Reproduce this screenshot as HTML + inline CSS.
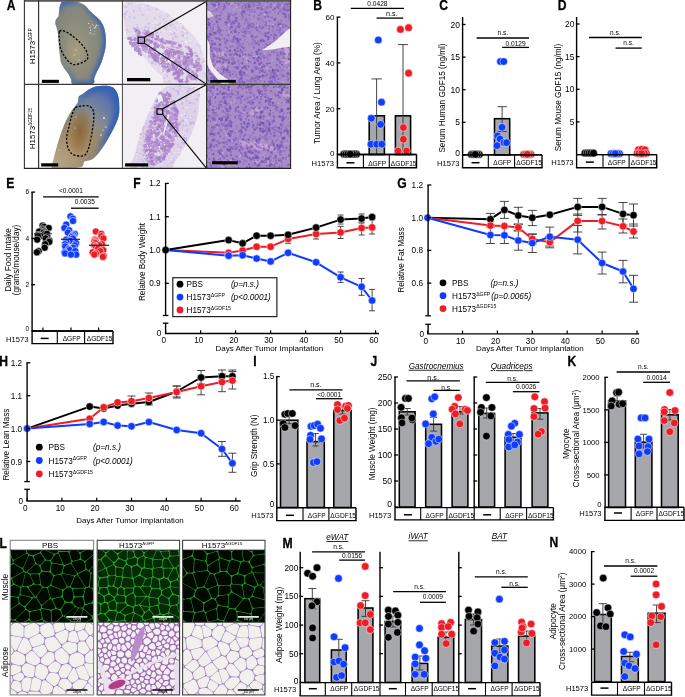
<!DOCTYPE html>
<html><head><meta charset="utf-8"><style>
html,body{margin:0;padding:0;background:#fff;}
svg{display:block;font-family:"Liberation Sans", sans-serif;filter:blur(0.3px);}
</style></head><body>
<svg width="685" height="697" viewBox="0 0 685 697">
<defs>
<radialGradient id="lg1" cx="0.42" cy="0.56" r="0.7">
<stop offset="0" stop-color="#9c9984"/><stop offset="0.5" stop-color="#8a8a7c"/><stop offset="1" stop-color="#7f8583"/></radialGradient>
<linearGradient id="rm1" x1="0" y1="0" x2="1" y2="0.25">
<stop offset="0" stop-color="#fff" stop-opacity="0.15"/><stop offset="0.45" stop-color="#fff" stop-opacity="0.1"/><stop offset="0.7" stop-color="#fff" stop-opacity="0.85"/><stop offset="1" stop-color="#fff" stop-opacity="1"/></linearGradient>
<radialGradient id="mg1"><stop offset="0" stop-color="#fff" stop-opacity="0.9"/><stop offset="0.6" stop-color="#fff" stop-opacity="0.5"/><stop offset="1" stop-color="#fff" stop-opacity="0"/></radialGradient>
<mask id="mk1" maskUnits="userSpaceOnUse" x="40" y="0" width="82" height="85"><rect x="40" y="0" width="82" height="85" fill="url(#rm1)"/><ellipse cx="65" cy="3" rx="14" ry="12" fill="url(#mg1)"/></mask>
<filter id="blr" x="-20%" y="-20%" width="140%" height="140%"><feGaussianBlur stdDeviation="2.2"/></filter>
<linearGradient id="lg2" x1="0.15" y1="0.95" x2="0.85" y2="0.05">
<stop offset="0" stop-color="#b6a583"/><stop offset="0.3" stop-color="#a88c66"/><stop offset="0.5" stop-color="#9a8a6c"/><stop offset="0.66" stop-color="#848a92"/><stop offset="0.85" stop-color="#6479a6"/><stop offset="1" stop-color="#4466b0"/></linearGradient>
<radialGradient id="lg2b" cx="0.5" cy="0.5" r="0.5">
<stop offset="0" stop-color="#87612f" stop-opacity="0.85"/><stop offset="0.6" stop-color="#8c6738" stop-opacity="0.45"/><stop offset="1" stop-color="#8d6a3e" stop-opacity="0"/></radialGradient>
<linearGradient id="rm2" x1="0" y1="0.6" x2="1" y2="0.2">
<stop offset="0" stop-color="#fff" stop-opacity="0"/><stop offset="0.5" stop-color="#fff" stop-opacity="0.2"/><stop offset="0.75" stop-color="#fff" stop-opacity="0.9"/><stop offset="1" stop-color="#fff" stop-opacity="1"/></linearGradient>
<mask id="mk2" maskUnits="userSpaceOnUse" x="40" y="84" width="82" height="86"><rect x="40" y="84" width="82" height="86" fill="url(#rm2)"/></mask>
<radialGradient id="lg1c" cx="0.5" cy="0.5" r="0.5">
<stop offset="0" stop-color="#b4a474" stop-opacity="0.55"/><stop offset="1" stop-color="#b0a070" stop-opacity="0"/></radialGradient>
<clipPath id="lc1"><path d="M62.6,1.8 C63.8,1.4 65.8,1.5 68.1,1.5 C70.4,1.5 74.3,1.4 76.6,1.8 C78.9,2.2 80.5,2.9 82.1,3.7 C83.7,4.5 85.1,5.5 86.4,6.7 C87.7,7.9 88.5,9.5 90,11 C91.5,12.5 93.9,14.4 95.5,15.9 C97.1,17.4 98.5,18.4 99.8,20.1 C101.1,21.8 102.6,24.1 103.5,26.2 C104.4,28.3 104.9,30.3 105.3,32.9 C105.7,35.4 105.9,38.9 105.9,41.5 C105.9,44.1 105.7,46.4 105.3,48.8 C104.9,51.2 104.2,53.6 103.5,56.1 C102.8,58.6 102,61 101,63.5 C100,66 98.5,68.4 97.4,70.8 C96.3,73.2 95.1,75.9 94.3,78.1 C93.5,80.3 96,83 92.5,84 C89,85 77.2,85 73.6,84.2 C70,83.4 71.9,80.9 71.1,79.3 C70.3,77.7 69.7,76 68.7,74.4 C67.7,72.8 66.2,71.4 65,69.6 C63.8,67.8 62.2,65.5 61.4,63.5 C60.6,61.5 60.5,60.2 60.1,57.4 C59.7,54.5 59.2,49.9 58.9,46.4 C58.6,42.9 58.6,39.5 58.3,36.6 C58,33.8 57.6,31.4 57.1,29.3 C56.6,27.2 55.5,25.4 55.3,23.8 C55.1,22.2 55.4,20.7 55.9,19.5 C56.4,18.3 57.8,17.7 58.3,16.5 C58.8,15.3 58.7,13.7 58.9,12.2 C59.1,10.7 59.2,8.7 59.5,7.3 C59.8,5.9 60.2,4.6 60.7,3.7 C61.2,2.8 61.4,2.2 62.6,1.8 Z"/></clipPath>
<clipPath id="lc2"><path d="M79,96.2 C79.9,95.4 82.3,94.3 83.9,93.2 C85.5,92.1 86.8,90.6 88.8,89.5 C90.8,88.4 93.4,87 96.1,86.4 C98.8,85.8 102,85.7 104.7,85.8 C107.4,85.9 110.1,86.1 112,87 C113.9,87.9 115.2,89.4 116.3,91.3 C117.4,93.2 118.2,95.8 118.7,98.6 C119.2,101.4 119.3,105.6 119.3,108.4 C119.3,111.2 119.3,113.1 118.7,115.7 C118.1,118.3 116.9,121.4 115.7,124.3 C114.5,127.2 112.9,130 111.4,132.8 C109.9,135.7 108.2,138.6 106.5,141.4 C104.8,144.2 102.7,147.5 101,149.9 C99.3,152.3 97.7,154.4 96.1,156 C94.5,157.6 92.9,158.9 91.3,159.7 C89.7,160.5 87.6,160.5 86.4,160.9 C85.2,161.3 84.7,161.1 83.9,162.1 C83.1,163.1 84.5,166 81.5,167 C78.5,168 70.9,168 66,168.2 C61.1,168.4 54.3,169.6 52.2,168.2 C50.1,166.8 52.8,162.8 53.4,159.7 C54,156.6 54.9,153.6 55.9,149.9 C56.9,146.2 58.1,142 59.5,137.7 C60.9,133.4 62.8,128.2 64.4,124.3 C66,120.4 67.6,117.5 69.3,114.5 C71,111.5 73.4,108.6 74.8,106.6 C76.2,104.6 77.2,103.7 77.8,102.3 C78.4,100.9 78.2,99 78.4,98 C78.6,97 78.1,97 79,96.2 Z"/></clipPath>
<clipPath id="cm1"><rect x="122.4" y="0.9" width="84.2" height="83.5"/></clipPath>
<clipPath id="cm2"><rect x="122.4" y="84.4" width="84.2" height="84"/></clipPath>
<clipPath id="cr0"><rect x="206.6" y="0.9" width="84" height="83.5"/></clipPath>
<clipPath id="cr1"><rect x="206.6" y="84.4" width="84" height="84"/></clipPath>
<clipPath id="lm0"><rect x="10.2" y="550.1" width="83.4" height="72.2"/></clipPath>
<clipPath id="la0"><rect x="10.2" y="622.3" width="83.4" height="72.6"/></clipPath>
<clipPath id="lm1"><rect x="97.2" y="550.1" width="82.4" height="72.2"/></clipPath>
<clipPath id="la1"><rect x="97.2" y="622.3" width="82.4" height="72.6"/></clipPath>
<clipPath id="lm2"><rect x="182.6" y="550.1" width="82.4" height="72.2"/></clipPath>
<clipPath id="la2"><rect x="182.6" y="622.3" width="82.4" height="72.6"/></clipPath>
</defs>
<rect x="0" y="0" width="685" height="697" fill="#fff"/>
<text transform="translate(6.8 10.2) scale(0.82 1)" font-size="14.8" font-weight="bold" stroke="#000" stroke-width="0.3">A</text>
<path d="M62.6,1.8 C63.8,1.4 65.8,1.5 68.1,1.5 C70.4,1.5 74.3,1.4 76.6,1.8 C78.9,2.2 80.5,2.9 82.1,3.7 C83.7,4.5 85.1,5.5 86.4,6.7 C87.7,7.9 88.5,9.5 90,11 C91.5,12.5 93.9,14.4 95.5,15.9 C97.1,17.4 98.5,18.4 99.8,20.1 C101.1,21.8 102.6,24.1 103.5,26.2 C104.4,28.3 104.9,30.3 105.3,32.9 C105.7,35.4 105.9,38.9 105.9,41.5 C105.9,44.1 105.7,46.4 105.3,48.8 C104.9,51.2 104.2,53.6 103.5,56.1 C102.8,58.6 102,61 101,63.5 C100,66 98.5,68.4 97.4,70.8 C96.3,73.2 95.1,75.9 94.3,78.1 C93.5,80.3 96,83 92.5,84 C89,85 77.2,85 73.6,84.2 C70,83.4 71.9,80.9 71.1,79.3 C70.3,77.7 69.7,76 68.7,74.4 C67.7,72.8 66.2,71.4 65,69.6 C63.8,67.8 62.2,65.5 61.4,63.5 C60.6,61.5 60.5,60.2 60.1,57.4 C59.7,54.5 59.2,49.9 58.9,46.4 C58.6,42.9 58.6,39.5 58.3,36.6 C58,33.8 57.6,31.4 57.1,29.3 C56.6,27.2 55.5,25.4 55.3,23.8 C55.1,22.2 55.4,20.7 55.9,19.5 C56.4,18.3 57.8,17.7 58.3,16.5 C58.8,15.3 58.7,13.7 58.9,12.2 C59.1,10.7 59.2,8.7 59.5,7.3 C59.8,5.9 60.2,4.6 60.7,3.7 C61.2,2.8 61.4,2.2 62.6,1.8 Z" fill="url(#lg1)"/>
<g clip-path="url(#lc1)"><ellipse cx="75" cy="52" rx="11" ry="15" fill="url(#lg1c)"/>
<g mask="url(#mk1)"><path d="M62.6,1.8 C63.8,1.4 65.8,1.5 68.1,1.5 C70.4,1.5 74.3,1.4 76.6,1.8 C78.9,2.2 80.5,2.9 82.1,3.7 C83.7,4.5 85.1,5.5 86.4,6.7 C87.7,7.9 88.5,9.5 90,11 C91.5,12.5 93.9,14.4 95.5,15.9 C97.1,17.4 98.5,18.4 99.8,20.1 C101.1,21.8 102.6,24.1 103.5,26.2 C104.4,28.3 104.9,30.3 105.3,32.9 C105.7,35.4 105.9,38.9 105.9,41.5 C105.9,44.1 105.7,46.4 105.3,48.8 C104.9,51.2 104.2,53.6 103.5,56.1 C102.8,58.6 102,61 101,63.5 C100,66 98.5,68.4 97.4,70.8 C96.3,73.2 95.1,75.9 94.3,78.1 C93.5,80.3 96,83 92.5,84 C89,85 77.2,85 73.6,84.2 C70,83.4 71.9,80.9 71.1,79.3 C70.3,77.7 69.7,76 68.7,74.4 C67.7,72.8 66.2,71.4 65,69.6 C63.8,67.8 62.2,65.5 61.4,63.5 C60.6,61.5 60.5,60.2 60.1,57.4 C59.7,54.5 59.2,49.9 58.9,46.4 C58.6,42.9 58.6,39.5 58.3,36.6 C58,33.8 57.6,31.4 57.1,29.3 C56.6,27.2 55.5,25.4 55.3,23.8 C55.1,22.2 55.4,20.7 55.9,19.5 C56.4,18.3 57.8,17.7 58.3,16.5 C58.8,15.3 58.7,13.7 58.9,12.2 C59.1,10.7 59.2,8.7 59.5,7.3 C59.8,5.9 60.2,4.6 60.7,3.7 C61.2,2.8 61.4,2.2 62.6,1.8 Z" fill="none" stroke="#3a62b0" stroke-width="7" filter="url(#blr)"/></g></g>
<circle cx="88.5" cy="23.6" r="0.6" fill="#f4f4f0" opacity="0.9"/>
<circle cx="96.6" cy="25.3" r="0.7" fill="#f4f4f0" opacity="0.9"/>
<circle cx="95.3" cy="27.6" r="0.7" fill="#f4f4f0" opacity="0.9"/>
<circle cx="88.2" cy="21.8" r="0.3" fill="#f4f4f0" opacity="0.9"/>
<circle cx="89.8" cy="27.4" r="0.5" fill="#f4f4f0" opacity="0.9"/>
<circle cx="91.6" cy="26.8" r="0.4" fill="#f4f4f0" opacity="0.9"/>
<circle cx="90.8" cy="33.6" r="0.6" fill="#f4f4f0" opacity="0.9"/>
<circle cx="94.9" cy="31.5" r="0.4" fill="#f4f4f0" opacity="0.9"/>
<circle cx="90.8" cy="25.9" r="0.3" fill="#f4f4f0" opacity="0.9"/>
<circle cx="93.4" cy="25.5" r="0.4" fill="#f4f4f0" opacity="0.9"/>
<circle cx="98.1" cy="26.3" r="0.4" fill="#f4f4f0" opacity="0.9"/>
<circle cx="95.6" cy="26.1" r="0.6" fill="#f4f4f0" opacity="0.9"/>
<circle cx="94" cy="33.9" r="0.6" fill="#f4f4f0" opacity="0.9"/>
<circle cx="98.2" cy="25.7" r="0.4" fill="#f4f4f0" opacity="0.9"/>
<circle cx="90.8" cy="28.4" r="0.4" fill="#f4f4f0" opacity="0.9"/>
<circle cx="94.3" cy="28" r="0.5" fill="#f4f4f0" opacity="0.9"/>
<circle cx="96.5" cy="27.1" r="0.4" fill="#f4f4f0" opacity="0.9"/>
<circle cx="90" cy="32.2" r="0.5" fill="#f4f4f0" opacity="0.9"/>
<circle cx="90.6" cy="30.1" r="0.6" fill="#f4f4f0" opacity="0.9"/>
<circle cx="99.6" cy="29.9" r="0.3" fill="#f4f4f0" opacity="0.9"/>
<circle cx="92" cy="21.2" r="0.3" fill="#f4f4f0" opacity="0.9"/>
<circle cx="92.7" cy="24.2" r="0.5" fill="#f4f4f0" opacity="0.9"/>
<circle cx="76" cy="50" r="0.6" fill="#f4f4f0"/>
<circle cx="74" cy="55" r="0.5" fill="#f4f4f0"/>
<circle cx="79" cy="60" r="0.5" fill="#f4f4f0"/>
<path d="M59.5,31.5 C60.4,30 62.4,30.5 64.4,31.1 C66.4,31.8 69.3,33.7 71.7,35.4 C74.1,37.1 76.8,39.3 79,41.5 C81.2,43.7 83.7,46.6 85.1,48.8 C86.5,51 87.3,53.1 87.6,54.9 C87.9,56.7 88,58.5 87,59.8 C86,61.1 83.6,62 81.5,62.8 C79.4,63.6 76.2,64.8 74.2,64.7 C72.2,64.6 70.9,63.6 69.3,62.2 C67.7,60.8 65.8,58.3 64.4,56.1 C63,53.9 61.6,51.4 60.7,48.8 C59.9,46.2 59.5,43.2 59.3,40.3 C59.1,37.4 58.6,33 59.5,31.5 Z" fill="none" stroke="#000" stroke-width="1.3" stroke-dasharray="2.2 1.6"/>
<path d="M79,96.2 C79.9,95.4 82.3,94.3 83.9,93.2 C85.5,92.1 86.8,90.6 88.8,89.5 C90.8,88.4 93.4,87 96.1,86.4 C98.8,85.8 102,85.7 104.7,85.8 C107.4,85.9 110.1,86.1 112,87 C113.9,87.9 115.2,89.4 116.3,91.3 C117.4,93.2 118.2,95.8 118.7,98.6 C119.2,101.4 119.3,105.6 119.3,108.4 C119.3,111.2 119.3,113.1 118.7,115.7 C118.1,118.3 116.9,121.4 115.7,124.3 C114.5,127.2 112.9,130 111.4,132.8 C109.9,135.7 108.2,138.6 106.5,141.4 C104.8,144.2 102.7,147.5 101,149.9 C99.3,152.3 97.7,154.4 96.1,156 C94.5,157.6 92.9,158.9 91.3,159.7 C89.7,160.5 87.6,160.5 86.4,160.9 C85.2,161.3 84.7,161.1 83.9,162.1 C83.1,163.1 84.5,166 81.5,167 C78.5,168 70.9,168 66,168.2 C61.1,168.4 54.3,169.6 52.2,168.2 C50.1,166.8 52.8,162.8 53.4,159.7 C54,156.6 54.9,153.6 55.9,149.9 C56.9,146.2 58.1,142 59.5,137.7 C60.9,133.4 62.8,128.2 64.4,124.3 C66,120.4 67.6,117.5 69.3,114.5 C71,111.5 73.4,108.6 74.8,106.6 C76.2,104.6 77.2,103.7 77.8,102.3 C78.4,100.9 78.2,99 78.4,98 C78.6,97 78.1,97 79,96.2 Z" fill="url(#lg2)"/>
<g clip-path="url(#lc2)"><ellipse cx="80" cy="131" rx="12" ry="25" transform="rotate(8 80 131)" fill="url(#lg2b)"/>
<g mask="url(#mk2)"><path d="M79,96.2 C79.9,95.4 82.3,94.3 83.9,93.2 C85.5,92.1 86.8,90.6 88.8,89.5 C90.8,88.4 93.4,87 96.1,86.4 C98.8,85.8 102,85.7 104.7,85.8 C107.4,85.9 110.1,86.1 112,87 C113.9,87.9 115.2,89.4 116.3,91.3 C117.4,93.2 118.2,95.8 118.7,98.6 C119.2,101.4 119.3,105.6 119.3,108.4 C119.3,111.2 119.3,113.1 118.7,115.7 C118.1,118.3 116.9,121.4 115.7,124.3 C114.5,127.2 112.9,130 111.4,132.8 C109.9,135.7 108.2,138.6 106.5,141.4 C104.8,144.2 102.7,147.5 101,149.9 C99.3,152.3 97.7,154.4 96.1,156 C94.5,157.6 92.9,158.9 91.3,159.7 C89.7,160.5 87.6,160.5 86.4,160.9 C85.2,161.3 84.7,161.1 83.9,162.1 C83.1,163.1 84.5,166 81.5,167 C78.5,168 70.9,168 66,168.2 C61.1,168.4 54.3,169.6 52.2,168.2 C50.1,166.8 52.8,162.8 53.4,159.7 C54,156.6 54.9,153.6 55.9,149.9 C56.9,146.2 58.1,142 59.5,137.7 C60.9,133.4 62.8,128.2 64.4,124.3 C66,120.4 67.6,117.5 69.3,114.5 C71,111.5 73.4,108.6 74.8,106.6 C76.2,104.6 77.2,103.7 77.8,102.3 C78.4,100.9 78.2,99 78.4,98 C78.6,97 78.1,97 79,96.2 Z" fill="none" stroke="#3660b6" stroke-width="11" filter="url(#blr)"/></g></g>
<circle cx="104" cy="118" r="0.9" fill="#f4f4f0"/>
<circle cx="106" cy="127" r="0.7" fill="#f4f4f0"/>
<circle cx="101" cy="135" r="0.8" fill="#f4f4f0"/>
<circle cx="103" cy="130" r="0.6" fill="#f4f4f0"/>
<circle cx="76" cy="117" r="0.6" fill="#f4f4f0"/>
<circle cx="75" cy="128" r="0.5" fill="#f4f4f0"/>
<circle cx="59" cy="150" r="0.5" fill="#f4f4f0"/>
<path d="M75.4,107.8 C77,106.2 79.3,106.3 81.5,106 C83.7,105.7 86.9,105.3 88.8,106 C90.7,106.7 92.3,108 93.1,110.2 C93.9,112.4 93.9,115.6 93.7,119.4 C93.5,123.2 92.7,128.1 91.9,132.8 C91.1,137.5 89.9,143.8 88.8,147.5 C87.7,151.2 86.7,153.4 85.1,154.8 C83.5,156.2 81.2,156.2 79,156 C76.8,155.8 73.6,155.2 71.7,153.6 C69.8,152 68.3,149 67.5,146.2 C66.7,143.3 66.5,139.9 66.8,136.5 C67.1,133.1 68.5,129 69.3,125.5 C70.1,122 70.7,118.7 71.7,115.7 C72.7,112.8 73.8,109.4 75.4,107.8 Z" fill="none" stroke="#000" stroke-width="1.3" stroke-dasharray="2.2 1.6"/>
<rect x="41.9" y="79.8" width="17" height="3.1" fill="#000" stroke="none" stroke-width="1"/>
<rect x="41.2" y="163.3" width="17" height="3.2" fill="#000" stroke="none" stroke-width="1"/>
<rect x="122.4" y="0.9" width="84.2" height="167.5" fill="#f2eff4" stroke="none" stroke-width="1"/>
<g clip-path="url(#cm1)"><path d="M124.5,3.7 C126.7,1 132.2,2.1 136.9,2.5 C141.7,2.9 148.2,4.5 153,6.2 C157.8,7.9 161.3,9.9 165.4,12.4 C169.5,14.9 173.9,18 177.8,21.1 C181.7,24.2 185.7,27.7 189,31 C192.3,34.3 195.4,37.4 197.7,40.9 C200,44.4 201.4,48.2 202.6,52.1 C203.8,56 204.6,60.8 205.1,64.5 C205.6,68.2 205.6,71.1 205.7,74.4 C205.8,77.7 212,82.7 205.5,84.4 C199,86.1 173.8,85.7 166.7,84.4 C159.6,83.2 165,79.4 162.9,76.9 C160.8,74.4 156.8,72 154.3,69.5 C151.8,67 150.2,64.5 148.1,62 C146,59.5 144,56.7 141.9,54.6 C139.8,52.5 137.7,51.7 135.6,49.6 C133.5,47.5 131.1,45.1 129.4,42.2 C127.8,39.3 126.6,36.2 125.7,32.3 C124.8,28.4 124.1,23.4 123.9,18.6 C123.7,13.8 122.3,6.4 124.5,3.7 Z" fill="#e3daec"/>
<g fill="#dacbe8" opacity="0.8"><circle cx="176.2" cy="54" r=".8"/><circle cx="151.4" cy="32.3" r="1.2"/><circle cx="160.8" cy="62" r=".6"/><circle cx="141.4" cy="39.9" r="1.2"/><circle cx="165.6" cy="21.7" r="1"/><circle cx="182.3" cy="76.3" r=".9"/><circle cx="182.5" cy="78.2" r=".8"/><circle cx="158.9" cy="16.3" r=".7"/><circle cx="176.6" cy="81.1" r="1"/><circle cx="202.7" cy="59.3" r=".9"/><circle cx="179.6" cy="39.8" r=".6"/><circle cx="189.7" cy="62.7" r="1.2"/><circle cx="179.9" cy="24.2" r="1.1"/><circle cx="181.1" cy="66.3" r="1.2"/><circle cx="181.5" cy="31.8" r="1.2"/><circle cx="163.1" cy="60.1" r=".8"/><circle cx="183" cy="32.9" r="1.4"/><circle cx="177.9" cy="80.4" r="1"/><circle cx="201" cy="62.5" r="1.1"/><circle cx="183" cy="26.1" r="1.2"/><circle cx="185.7" cy="75.9" r=".7"/><circle cx="196.8" cy="53.7" r=".9"/><circle cx="178.2" cy="42.9" r="1.4"/><circle cx="183.7" cy="61.8" r="1.3"/><circle cx="125.4" cy="12.1" r="1"/><circle cx="170.7" cy="33.9" r=".9"/><circle cx="166.2" cy="27.4" r="1.4"/><circle cx="187.8" cy="78.3" r="1"/><circle cx="134.9" cy="26.5" r=".6"/><circle cx="205.2" cy="75.8" r="1"/><circle cx="146.7" cy="19.1" r="1.2"/><circle cx="149.7" cy="36.6" r="1.3"/><circle cx="167.5" cy="14" r="1.1"/><circle cx="141.1" cy="44.3" r="1"/><circle cx="172.8" cy="41" r="1.4"/><circle cx="176.3" cy="29.8" r=".9"/><circle cx="174.6" cy="27.4" r="1.3"/><circle cx="149.3" cy="62" r=".7"/><circle cx="170.8" cy="58.1" r="1.3"/><circle cx="147" cy="22.6" r=".7"/><circle cx="182.1" cy="65.1" r="1"/><circle cx="129.6" cy="31.7" r="1.1"/><circle cx="160.4" cy="54.2" r=".9"/><circle cx="176.4" cy="22.8" r=".9"/><circle cx="152.5" cy="27.8" r=".8"/><circle cx="134.5" cy="10.4" r=".8"/><circle cx="182.5" cy="59.4" r=".9"/><circle cx="167.8" cy="23.5" r=".8"/><circle cx="187.6" cy="81.5" r="1.5"/><circle cx="179" cy="61.6" r="1.3"/><circle cx="142.5" cy="41.7" r="1.3"/><circle cx="154.5" cy="45.9" r="1"/><circle cx="167.1" cy="59.2" r=".9"/><circle cx="162.1" cy="26.4" r=".6"/><circle cx="179.4" cy="49.1" r=".7"/><circle cx="169.6" cy="15.5" r=".9"/><circle cx="164.8" cy="42.6" r=".7"/><circle cx="164.3" cy="47.7" r=".8"/><circle cx="167.9" cy="15.2" r="1.1"/><circle cx="131.4" cy="3.7" r="1.1"/><circle cx="125.9" cy="18.5" r=".9"/><circle cx="156.3" cy="45.5" r="1.1"/><circle cx="159.9" cy="17" r="1.5"/><circle cx="163.8" cy="41.8" r=".7"/><circle cx="127.6" cy="19.8" r="1"/><circle cx="177.8" cy="37.2" r="1.2"/><circle cx="149.2" cy="56" r="1.3"/><circle cx="149.9" cy="44.9" r="1.1"/><circle cx="152.2" cy="55.9" r=".9"/><circle cx="189.3" cy="61.7" r="1.4"/><circle cx="166.2" cy="41.6" r="1.4"/><circle cx="148.2" cy="9.1" r="1.3"/><circle cx="186.5" cy="63.7" r="1.4"/></g><g fill="#d3c0e3" opacity="0.8"><circle cx="134.9" cy="18.1" r=".9"/><circle cx="187.8" cy="56.7" r=".8"/><circle cx="163.3" cy="47.5" r=".8"/><circle cx="127" cy="31.5" r="1"/><circle cx="187.7" cy="68.4" r=".8"/><circle cx="168.7" cy="63.2" r=".7"/><circle cx="159.1" cy="54.6" r=".7"/><circle cx="196.9" cy="44.7" r=".9"/><circle cx="141.5" cy="44.9" r="1.1"/><circle cx="138.3" cy="28.1" r=".9"/><circle cx="181.8" cy="35.1" r="1"/><circle cx="181.1" cy="67.3" r=".7"/><circle cx="186.2" cy="59.5" r="1.1"/><circle cx="153.3" cy="50.8" r="1.4"/><circle cx="148.3" cy="28.2" r="1.4"/><circle cx="143.9" cy="37.5" r="1.1"/><circle cx="189.8" cy="67.7" r="1.2"/><circle cx="192.1" cy="65.3" r="1.1"/><circle cx="187.6" cy="78.3" r="1.3"/><circle cx="143.5" cy="15" r="1.2"/><circle cx="158.3" cy="25" r="1.4"/><circle cx="148.6" cy="29.8" r="1"/><circle cx="168.4" cy="46.5" r="1.1"/><circle cx="164.9" cy="44.5" r="1"/><circle cx="139.3" cy="8" r="1"/><circle cx="147.6" cy="6.1" r="1.4"/><circle cx="179" cy="71.4" r=".6"/><circle cx="148.1" cy="23.7" r="1.1"/><circle cx="183.7" cy="44.3" r=".9"/><circle cx="164.8" cy="47.5" r="1.2"/><circle cx="199.9" cy="46.2" r=".9"/><circle cx="186.7" cy="33.1" r="1.4"/><circle cx="171.9" cy="54.2" r="1.1"/><circle cx="140.1" cy="10.7" r=".9"/><circle cx="171.7" cy="58" r=".6"/><circle cx="156.7" cy="9.4" r="1.3"/><circle cx="124.9" cy="17" r="1.3"/><circle cx="160" cy="64.5" r="1.1"/><circle cx="193.8" cy="65.2" r=".7"/><circle cx="187.7" cy="81.5" r=".6"/><circle cx="171.5" cy="34.7" r="1"/><circle cx="157.9" cy="30.4" r=".6"/><circle cx="169.3" cy="81.2" r="1.3"/><circle cx="129.3" cy="17.2" r="1.3"/><circle cx="124.5" cy="6.7" r="1"/><circle cx="133" cy="36.4" r="1.4"/><circle cx="174.8" cy="47.7" r="1"/><circle cx="126.2" cy="6.5" r="1.3"/><circle cx="175.9" cy="36.7" r="1.4"/><circle cx="141.8" cy="14.5" r="1"/><circle cx="157.7" cy="60.8" r="1.5"/><circle cx="160" cy="23.4" r="1"/><circle cx="175.5" cy="57.8" r="1.3"/><circle cx="190.3" cy="70.5" r="1.1"/><circle cx="143.4" cy="45.3" r="1"/><circle cx="143.6" cy="35.6" r=".9"/><circle cx="191.5" cy="48.8" r="1.2"/><circle cx="142.9" cy="15.1" r=".7"/><circle cx="189.7" cy="47.7" r=".7"/><circle cx="134.2" cy="17.4" r="1.2"/><circle cx="189.1" cy="78.6" r="1.2"/><circle cx="175" cy="19.8" r=".8"/><circle cx="126.7" cy="29.9" r="1.1"/><circle cx="180.9" cy="41.7" r=".7"/><circle cx="140.6" cy="32.5" r=".7"/><circle cx="163.9" cy="26.7" r="1.2"/><circle cx="189.4" cy="54.7" r="1.1"/><circle cx="172.9" cy="24.4" r=".9"/><circle cx="155.4" cy="64.1" r="1.1"/><circle cx="151.9" cy="62.9" r="1.3"/><circle cx="127.2" cy="11.6" r="1.1"/><circle cx="165.5" cy="28.8" r="1.2"/><circle cx="179.6" cy="65.4" r="1.5"/></g><g fill="#cbb4de" opacity="0.8"><circle cx="136.4" cy="25.3" r="1.1"/><circle cx="200.4" cy="80.1" r="1"/><circle cx="203.8" cy="61.4" r="1.5"/><circle cx="153.1" cy="38.5" r=".8"/><circle cx="180.7" cy="24.1" r=".9"/><circle cx="175.7" cy="35.9" r="1"/><circle cx="199.7" cy="67.7" r="1.1"/><circle cx="183.1" cy="35.6" r="1.5"/><circle cx="173.2" cy="68.2" r="1"/><circle cx="131.6" cy="38.4" r="1.4"/><circle cx="178.6" cy="54.8" r=".6"/><circle cx="187.9" cy="47.2" r="1"/><circle cx="173.1" cy="38.7" r="1.2"/><circle cx="155.3" cy="28.6" r="1"/><circle cx="128.6" cy="3.9" r=".8"/><circle cx="137.6" cy="26.7" r=".9"/><circle cx="177.3" cy="68.5" r="1"/><circle cx="176.2" cy="73.3" r="1.3"/><circle cx="186.9" cy="38.4" r=".8"/><circle cx="160.5" cy="32.3" r=".7"/><circle cx="154.8" cy="18.3" r="1"/><circle cx="146.9" cy="37" r="1"/><circle cx="140.7" cy="34.2" r="1.1"/><circle cx="175.6" cy="44" r="1"/><circle cx="182.6" cy="54.9" r="1.5"/><circle cx="152.9" cy="57.8" r=".8"/><circle cx="144.6" cy="30.4" r="1.4"/><circle cx="191" cy="57.2" r="1.1"/><circle cx="167.6" cy="26.1" r=".7"/><circle cx="133.9" cy="11.6" r="1"/><circle cx="169" cy="50.4" r="1.2"/><circle cx="143.1" cy="36.1" r=".9"/><circle cx="200.6" cy="52.3" r=".7"/><circle cx="170.7" cy="25.5" r="1.2"/><circle cx="152.4" cy="62.8" r="1.4"/><circle cx="204.8" cy="73.7" r=".9"/><circle cx="197.4" cy="76.2" r=".9"/><circle cx="166.2" cy="74.1" r=".7"/><circle cx="186.4" cy="82.5" r="1.4"/><circle cx="147.4" cy="31.7" r="1"/><circle cx="172.1" cy="44.9" r="1.5"/><circle cx="163.7" cy="19" r="1.2"/><circle cx="170.3" cy="41" r=".7"/><circle cx="135.9" cy="47" r="1"/><circle cx="145.8" cy="26.9" r="1.3"/><circle cx="129.7" cy="36.4" r=".6"/><circle cx="167.3" cy="16.3" r=".6"/><circle cx="168" cy="57.4" r=".8"/><circle cx="174.6" cy="33.5" r="1.3"/><circle cx="197.9" cy="63.3" r=".8"/><circle cx="155.5" cy="24.9" r=".9"/><circle cx="141.6" cy="28.5" r=".9"/><circle cx="148.5" cy="33.1" r="1.1"/><circle cx="163.7" cy="69.4" r="1.5"/><circle cx="125" cy="14.2" r="1.4"/><circle cx="170.5" cy="57.1" r=".8"/><circle cx="184.9" cy="29.8" r=".9"/><circle cx="156.9" cy="33.1" r="1.4"/><circle cx="155.3" cy="41.5" r=".9"/><circle cx="183.2" cy="27.9" r="1.1"/><circle cx="136" cy="39.8" r="1.4"/><circle cx="159.8" cy="28.7" r="1.4"/><circle cx="176.8" cy="57.8" r="1.2"/><circle cx="147.1" cy="40.7" r=".9"/><circle cx="159.1" cy="55.7" r="1.1"/><circle cx="143.2" cy="37.4" r="1.4"/><circle cx="162.7" cy="71.8" r="1.2"/><circle cx="167.2" cy="76.1" r="1.1"/><circle cx="196.5" cy="79.5" r="1.5"/><circle cx="164" cy="78" r="1.1"/><circle cx="195.3" cy="78.5" r="1.4"/><circle cx="130.6" cy="13.2" r=".6"/><circle cx="182.8" cy="41.2" r=".8"/><circle cx="150.1" cy="24.1" r="1.1"/></g>
<g fill="#c6a9dc" opacity="0.8"><circle cx="193.2" cy="74.5" r=".9"/><circle cx="152" cy="38.9" r="1.2"/><circle cx="193.9" cy="66.3" r="1.7"/><circle cx="187.4" cy="81.2" r="2"/><circle cx="149.3" cy="40.9" r="1.9"/><circle cx="164.5" cy="52.6" r="1"/><circle cx="156.2" cy="35.9" r="1.4"/><circle cx="164.7" cy="63.7" r="1.6"/><circle cx="157.3" cy="42.5" r="1.2"/><circle cx="176.1" cy="78.7" r="1.5"/><circle cx="187.3" cy="76.8" r="1.4"/><circle cx="174.2" cy="69.3" r="1"/><circle cx="160.9" cy="46.1" r="1.8"/><circle cx="163.5" cy="48.4" r="1.1"/><circle cx="179.6" cy="61.9" r="1.7"/><circle cx="190" cy="64" r="1.7"/><circle cx="183" cy="53.3" r="1.3"/><circle cx="150.7" cy="55.4" r="1.1"/><circle cx="184.6" cy="56.2" r="1.2"/><circle cx="189.9" cy="69.5" r="1.1"/><circle cx="147.7" cy="44.9" r="1.9"/><circle cx="195.5" cy="55.4" r="1"/><circle cx="187.4" cy="57.4" r="1"/><circle cx="171.5" cy="51.1" r="1.4"/><circle cx="150.1" cy="49.5" r="1.5"/><circle cx="160" cy="63.1" r="2"/><circle cx="157.4" cy="56.7" r="1.6"/><circle cx="137.2" cy="34.7" r="1.9"/><circle cx="144.6" cy="34.8" r="1.2"/><circle cx="158.4" cy="54.1" r="1.6"/><circle cx="149.7" cy="34.3" r="1.3"/><circle cx="192.5" cy="79.2" r="1.1"/><circle cx="167.8" cy="47" r="1"/><circle cx="176.3" cy="61.9" r="1.8"/><circle cx="185" cy="67.3" r="1.7"/><circle cx="187.8" cy="47.6" r="1.7"/><circle cx="172.6" cy="56.7" r="1.5"/><circle cx="174.8" cy="50.2" r="1.9"/><circle cx="167.3" cy="68.8" r="2"/><circle cx="173.2" cy="50.1" r="1.3"/><circle cx="168.8" cy="48.9" r="1.1"/><circle cx="185.8" cy="46.8" r="1.2"/><circle cx="152.6" cy="33.3" r="1.5"/><circle cx="178.2" cy="54.5" r="1.2"/><circle cx="176.8" cy="68.6" r="1.4"/><circle cx="170.1" cy="68.2" r="1.5"/><circle cx="184.1" cy="59.5" r="1.8"/><circle cx="190.7" cy="73.3" r="1.1"/><circle cx="182.7" cy="72.9" r="1"/><circle cx="158.5" cy="61.8" r="1.3"/><circle cx="169.7" cy="57.5" r="1.6"/><circle cx="188" cy="60.2" r="1"/><circle cx="159.9" cy="44.3" r="1.5"/><circle cx="187" cy="59.3" r="1"/><circle cx="164.8" cy="40.5" r="1.3"/><circle cx="177.4" cy="48" r="1.2"/><circle cx="166.8" cy="68.4" r="1.7"/><circle cx="174.5" cy="44.2" r="1.6"/><circle cx="157.5" cy="46.4" r="1.8"/><circle cx="200.1" cy="70.4" r=".9"/><circle cx="171.1" cy="54" r="1.5"/><circle cx="163.9" cy="43.6" r="1.1"/><circle cx="172.8" cy="53.6" r="1.7"/><circle cx="155.6" cy="44.2" r="1.9"/><circle cx="181.9" cy="66.2" r="1.5"/><circle cx="178.5" cy="79.2" r="1.8"/><circle cx="148.7" cy="32.6" r="2"/><circle cx="167.1" cy="65.3" r="1.5"/><circle cx="140.3" cy="43.1" r="1.3"/><circle cx="190.7" cy="75.8" r="1.8"/><circle cx="195.4" cy="53.1" r="1"/><circle cx="157.6" cy="43" r="1.1"/><circle cx="165.4" cy="61.1" r="1.2"/><circle cx="178" cy="70.8" r="1.3"/><circle cx="149.7" cy="56.3" r="1.8"/><circle cx="193.4" cy="80" r=".9"/><circle cx="194" cy="66.5" r="1.2"/><circle cx="187.1" cy="69.5" r="1.1"/><circle cx="174.3" cy="43" r=".9"/><circle cx="160.1" cy="45" r=".9"/><circle cx="192" cy="59" r="1.5"/><circle cx="162.8" cy="45.6" r=".9"/><circle cx="152.3" cy="38.2" r="1.6"/><circle cx="196.6" cy="75.1" r="1.3"/><circle cx="188.2" cy="68.4" r="1.4"/><circle cx="168.4" cy="70.8" r="1.9"/><circle cx="184.4" cy="60.4" r="1"/><circle cx="163.2" cy="60.8" r="1"/><circle cx="186" cy="60.8" r="1.7"/><circle cx="190.2" cy="64.6" r="1.5"/><circle cx="149.4" cy="52.4" r="1.9"/><circle cx="176.9" cy="71.1" r="1.9"/><circle cx="182.2" cy="51.6" r="2"/><circle cx="167.5" cy="71.4" r="1.5"/><circle cx="170.9" cy="53.3" r="1.5"/><circle cx="169.6" cy="55.9" r="1.7"/><circle cx="166.2" cy="68.7" r="1.3"/><circle cx="174.7" cy="51.8" r="1.9"/><circle cx="153.5" cy="54.7" r="1.1"/><circle cx="144.3" cy="30.3" r="1.5"/><circle cx="153.2" cy="57.2" r="1"/><circle cx="147.8" cy="38.5" r="1"/><circle cx="156.6" cy="59.8" r="1.4"/><circle cx="147.5" cy="50" r="1.7"/><circle cx="197.9" cy="65.1" r="1.5"/><circle cx="182.2" cy="55.6" r="1.9"/><circle cx="181" cy="72.7" r="2"/><circle cx="164.4" cy="60.7" r="1.7"/><circle cx="189.1" cy="73" r="1.4"/><circle cx="143.5" cy="33.5" r="2"/><circle cx="191.1" cy="70.2" r=".9"/><circle cx="138.2" cy="43.3" r="1.6"/><circle cx="167.7" cy="64.4" r="1.3"/><circle cx="178.1" cy="64.1" r="1.6"/><circle cx="187.1" cy="71.4" r="1.3"/><circle cx="181.8" cy="60.9" r="1.8"/><circle cx="161.7" cy="54.4" r="1"/><circle cx="150.3" cy="48" r="1.4"/><circle cx="147.6" cy="43.4" r="1.1"/><circle cx="159.5" cy="45.4" r="1.1"/><circle cx="158.2" cy="36.1" r="1.6"/><circle cx="191.3" cy="53.5" r="1.9"/><circle cx="173.3" cy="62.4" r="1.8"/><circle cx="187" cy="56.6" r="1.8"/></g><g fill="#ad86ca" opacity="0.8"><circle cx="166.9" cy="41.3" r="1.1"/><circle cx="171.5" cy="62.1" r=".9"/><circle cx="168.7" cy="42.7" r="1.5"/><circle cx="166.2" cy="57.6" r="1.9"/><circle cx="146.4" cy="47.9" r="2"/><circle cx="149.1" cy="38.7" r="1.3"/><circle cx="194.4" cy="75.3" r=".9"/><circle cx="173.2" cy="67.7" r="1.8"/><circle cx="166.4" cy="54.9" r="1.3"/><circle cx="187.6" cy="71.1" r="1.5"/><circle cx="169.1" cy="51.2" r="1.3"/><circle cx="197.1" cy="70.6" r="1.6"/><circle cx="175" cy="78.1" r="1.4"/><circle cx="161.1" cy="46.2" r="1.3"/><circle cx="138.4" cy="40.5" r="1"/><circle cx="163.4" cy="63.1" r="1.1"/><circle cx="155" cy="60" r="1.5"/><circle cx="180.5" cy="50.1" r="1.1"/><circle cx="187.7" cy="64.7" r="1.9"/><circle cx="187.5" cy="58.4" r="1.9"/><circle cx="190.2" cy="53.6" r="1.2"/><circle cx="163.4" cy="42.9" r="1.9"/><circle cx="140.8" cy="36.9" r="1.9"/><circle cx="199.7" cy="68.6" r="1.1"/><circle cx="177.1" cy="72.4" r="1.5"/><circle cx="180.9" cy="81.2" r="1.2"/><circle cx="143" cy="45.5" r="1.5"/><circle cx="166.4" cy="41.4" r="1.5"/><circle cx="137.9" cy="36.9" r="1.2"/><circle cx="168.1" cy="63.4" r="1"/><circle cx="157.6" cy="36.2" r="1.6"/><circle cx="141" cy="40" r="1.7"/><circle cx="145.9" cy="33.7" r="1.1"/><circle cx="153" cy="57" r="1.7"/><circle cx="178.2" cy="52.5" r="1.6"/><circle cx="172.4" cy="69.8" r="1.4"/><circle cx="151.7" cy="37.8" r="1.1"/><circle cx="164.8" cy="43.5" r="1.7"/><circle cx="200.5" cy="66.1" r="1.4"/><circle cx="166.8" cy="53.2" r="1.7"/><circle cx="172" cy="44.6" r=".9"/><circle cx="162.4" cy="66" r="1.2"/><circle cx="181.8" cy="53" r="1.7"/><circle cx="140.7" cy="39.7" r="1.2"/><circle cx="136.7" cy="28.6" r="1.1"/><circle cx="193.8" cy="64.1" r=".9"/><circle cx="161.5" cy="62.7" r="1"/><circle cx="189" cy="55.1" r="2"/><circle cx="184.2" cy="62.7" r="1.8"/><circle cx="157.2" cy="38.5" r="1.3"/><circle cx="187.9" cy="69.6" r="1.6"/><circle cx="142.3" cy="46.2" r="1.3"/><circle cx="155.5" cy="55.5" r="1.4"/><circle cx="151.3" cy="35.2" r="1.6"/><circle cx="178.5" cy="74.8" r="2"/><circle cx="148.6" cy="37" r=".9"/><circle cx="150.8" cy="33.6" r=".9"/><circle cx="149.8" cy="52" r="1.7"/><circle cx="146.9" cy="47" r="1"/><circle cx="191.6" cy="62.9" r="1.8"/><circle cx="179.8" cy="74.5" r="1"/><circle cx="151" cy="49.2" r="1.4"/><circle cx="196.3" cy="72.9" r="1"/><circle cx="156" cy="55.1" r="1.9"/><circle cx="156.4" cy="61.3" r=".9"/><circle cx="147" cy="31.9" r="1.1"/><circle cx="190.7" cy="76.7" r="1.8"/><circle cx="177.3" cy="66.5" r="1"/><circle cx="146.6" cy="46.8" r="1.5"/><circle cx="171.2" cy="51.8" r="1.6"/><circle cx="186.6" cy="53.9" r="1.1"/><circle cx="150.9" cy="49.6" r="1.5"/><circle cx="136.8" cy="29.2" r="1.8"/><circle cx="187.7" cy="63.4" r="1.3"/><circle cx="187" cy="78.1" r="1.1"/><circle cx="179.2" cy="63.5" r="1.3"/><circle cx="186" cy="62.5" r="1.8"/><circle cx="133.9" cy="28.5" r=".9"/><circle cx="174.9" cy="52.4" r="2"/><circle cx="171.6" cy="49.3" r="1.4"/><circle cx="191.6" cy="60.2" r="1.8"/><circle cx="145.7" cy="40.2" r="1.2"/><circle cx="175.4" cy="62.4" r="1.7"/><circle cx="176.7" cy="48.4" r="1.3"/><circle cx="186.7" cy="80.4" r="1.6"/><circle cx="197.1" cy="75.7" r="1.3"/><circle cx="178.9" cy="50.1" r="1.5"/><circle cx="185.2" cy="68.7" r="1.1"/><circle cx="175.5" cy="73.2" r="1"/><circle cx="144.3" cy="48.3" r="1"/><circle cx="189.2" cy="61.2" r="1.2"/><circle cx="151.3" cy="41.7" r="1.6"/><circle cx="168.1" cy="66.4" r=".9"/><circle cx="191" cy="55.4" r="2"/><circle cx="185.7" cy="70.2" r="1"/><circle cx="143.9" cy="40.5" r="1.6"/><circle cx="169.5" cy="41.8" r="1.1"/><circle cx="164.3" cy="66.7" r="1.9"/><circle cx="198" cy="69.2" r="1.9"/><circle cx="179.4" cy="70.9" r="1.8"/><circle cx="158" cy="62.1" r="1"/><circle cx="139.4" cy="39.5" r="1.7"/><circle cx="167.7" cy="41.8" r="1.6"/><circle cx="145" cy="42.1" r="1.9"/><circle cx="181.8" cy="73.9" r="1.7"/><circle cx="177" cy="78" r="1.7"/><circle cx="168.5" cy="57" r="1.9"/><circle cx="153.1" cy="49.1" r="1.2"/><circle cx="174" cy="42.8" r="1.7"/><circle cx="188.1" cy="60" r="1.5"/><circle cx="170.1" cy="50.9" r="1"/><circle cx="192.8" cy="72" r="1.8"/><circle cx="166.1" cy="52.2" r="1.7"/><circle cx="178.1" cy="77.9" r="1.6"/><circle cx="190.7" cy="51.5" r="1.9"/><circle cx="170.4" cy="51.6" r="1.9"/><circle cx="175.9" cy="60.2" r="1.2"/><circle cx="167.5" cy="54.5" r="1.9"/><circle cx="139.4" cy="34.3" r="1.2"/><circle cx="171" cy="41.9" r="1"/><circle cx="152.9" cy="35.5" r=".9"/><circle cx="186.2" cy="65.2" r="1"/></g><g fill="#b894d0" opacity="0.8"><circle cx="177.7" cy="69.5" r="1.5"/><circle cx="195" cy="74.2" r="1.8"/><circle cx="144.7" cy="37.1" r="1.4"/><circle cx="142.7" cy="46.8" r="1.1"/><circle cx="172.9" cy="67.9" r="1.1"/><circle cx="168.5" cy="70" r="1.2"/><circle cx="141.6" cy="36.3" r="1.3"/><circle cx="163.6" cy="64.9" r="1.6"/><circle cx="157.5" cy="60.7" r="1"/><circle cx="164.9" cy="58.3" r="1"/><circle cx="188.9" cy="60.7" r="1.3"/><circle cx="188.9" cy="70" r="1.7"/><circle cx="145.9" cy="39.8" r="1.4"/><circle cx="171.6" cy="42.1" r="1.1"/><circle cx="175.1" cy="70.3" r="1.7"/><circle cx="183.3" cy="63.7" r="1.1"/><circle cx="170.6" cy="69.7" r="1.1"/><circle cx="188.4" cy="75.7" r="1.2"/><circle cx="141.9" cy="49.4" r="1.6"/><circle cx="138.4" cy="30.6" r="1.5"/><circle cx="178.7" cy="50" r="1.3"/><circle cx="164.6" cy="62.9" r="1.1"/><circle cx="166.9" cy="47.5" r=".9"/><circle cx="180.2" cy="61.8" r="1.5"/><circle cx="166" cy="55.4" r="1.3"/><circle cx="164.2" cy="56.6" r="1.4"/><circle cx="143.8" cy="49.8" r="1.4"/><circle cx="152.4" cy="34.9" r="1.3"/><circle cx="186.1" cy="81.4" r="1.7"/><circle cx="139.4" cy="35" r="2"/><circle cx="191.5" cy="78.7" r="1.5"/><circle cx="176" cy="65.4" r="1.8"/><circle cx="141.2" cy="45.5" r=".9"/><circle cx="179.7" cy="81.6" r="1.4"/><circle cx="142.4" cy="37.6" r="1.6"/><circle cx="166.8" cy="56.7" r="1.7"/><circle cx="196" cy="61" r="1.3"/><circle cx="172.5" cy="66.2" r="1.2"/><circle cx="189.9" cy="57.1" r="1.6"/><circle cx="158.4" cy="59.8" r="1.1"/><circle cx="151.9" cy="41" r="1.6"/><circle cx="158.9" cy="39.5" r="1.8"/><circle cx="173.7" cy="48.2" r="1.8"/><circle cx="172.2" cy="49.7" r="1.7"/><circle cx="176.9" cy="60.6" r="1.7"/><circle cx="175.5" cy="70.1" r="1.6"/><circle cx="154.9" cy="48.1" r="1.3"/><circle cx="173.1" cy="74.7" r="1.2"/><circle cx="178.2" cy="50.3" r="1.3"/><circle cx="139.7" cy="36.7" r="1.7"/><circle cx="150.8" cy="49" r="1.6"/><circle cx="163.1" cy="47.3" r="1.8"/><circle cx="171.5" cy="49.7" r="1.5"/><circle cx="167.1" cy="64.4" r="1.5"/><circle cx="139" cy="41.9" r="1.7"/><circle cx="154.2" cy="58.1" r="1.8"/><circle cx="173.3" cy="51.7" r=".9"/><circle cx="148.6" cy="39.9" r="1.5"/><circle cx="163.3" cy="53.8" r="1.4"/><circle cx="176.9" cy="68.1" r="1.5"/><circle cx="163" cy="43.5" r="1.2"/><circle cx="153.4" cy="40.6" r="1.1"/><circle cx="149.6" cy="35.4" r="1.8"/><circle cx="178.9" cy="71.2" r="1.4"/><circle cx="179.3" cy="45.2" r="1.3"/><circle cx="138.5" cy="42.4" r="1.8"/><circle cx="151" cy="42.8" r="1.2"/><circle cx="179" cy="52.6" r="1.9"/><circle cx="147.2" cy="32.1" r="2"/><circle cx="181.9" cy="81.6" r="2"/><circle cx="166.6" cy="60.2" r="1.6"/><circle cx="155.3" cy="47.3" r="1.2"/><circle cx="178.8" cy="62.2" r="1.5"/><circle cx="169.7" cy="53.1" r="2"/><circle cx="155.4" cy="41.8" r="1.2"/><circle cx="192.2" cy="75.2" r="1.4"/><circle cx="153.6" cy="38.5" r="1.3"/><circle cx="138.7" cy="37.6" r="1.4"/><circle cx="198.5" cy="59.5" r="1.9"/><circle cx="173.9" cy="57.9" r="1.1"/><circle cx="190.4" cy="77" r="1"/><circle cx="183.4" cy="60" r="1"/><circle cx="199" cy="65.2" r="1.9"/><circle cx="188.6" cy="56.2" r="1.1"/><circle cx="145.9" cy="40.9" r=".9"/><circle cx="179.7" cy="64.5" r="1.8"/><circle cx="148.8" cy="45.1" r="1.9"/><circle cx="142.9" cy="38" r="1"/><circle cx="147.8" cy="33.7" r="1.9"/><circle cx="179.4" cy="54" r="1.6"/><circle cx="176.1" cy="43.3" r="1"/><circle cx="148.3" cy="33" r="1"/><circle cx="200.3" cy="69.1" r="2"/><circle cx="161.1" cy="57.5" r="1.5"/><circle cx="145.7" cy="33.5" r="1.3"/><circle cx="144.1" cy="47.6" r="1.4"/><circle cx="166.4" cy="65.4" r="1.4"/><circle cx="164.5" cy="60.3" r="1.3"/><circle cx="174.7" cy="68.3" r="1.3"/><circle cx="139.4" cy="31.9" r="1"/><circle cx="146.9" cy="33.4" r="1.5"/><circle cx="171.1" cy="42.3" r="1.8"/><circle cx="155.4" cy="38.7" r="1"/><circle cx="195.5" cy="62.9" r="1"/><circle cx="166.4" cy="58" r="1.3"/><circle cx="177.9" cy="52.3" r="1.1"/><circle cx="178.8" cy="69.3" r="1.8"/><circle cx="197" cy="56" r="1.3"/><circle cx="162.2" cy="39.7" r="1.5"/><circle cx="149.7" cy="38.8" r="1.7"/><circle cx="169" cy="64.8" r="1.2"/><circle cx="173.2" cy="43.1" r="1.3"/><circle cx="168.6" cy="55.1" r="1.7"/><circle cx="163.9" cy="61.5" r="1.7"/><circle cx="173.8" cy="65.8" r="1.7"/><circle cx="145.4" cy="33.8" r="1.2"/><circle cx="188.7" cy="47.7" r="1.2"/><circle cx="172.1" cy="47.1" r="1.7"/><circle cx="172.8" cy="63.2" r="1.9"/><circle cx="162.3" cy="45.3" r="1.7"/><circle cx="178.9" cy="55.9" r="1.6"/></g><g fill="#a57dc6" opacity="0.8"><circle cx="145.7" cy="51.6" r="1"/><circle cx="177.3" cy="51.7" r="1.1"/><circle cx="187.1" cy="53.6" r="1"/><circle cx="184.2" cy="62.3" r="1.3"/><circle cx="159.4" cy="54.4" r="1.5"/><circle cx="167.6" cy="58.7" r="1.5"/><circle cx="161.1" cy="60" r="1"/><circle cx="172.3" cy="65.2" r="1.8"/><circle cx="170.1" cy="42.8" r="1"/><circle cx="155.7" cy="59.8" r="1.8"/><circle cx="155.2" cy="49.2" r="1.3"/><circle cx="153.9" cy="59.5" r="1"/><circle cx="152.3" cy="33.7" r="1.8"/><circle cx="158" cy="57.9" r="1.4"/><circle cx="163.1" cy="61.4" r="1.3"/><circle cx="186" cy="60.7" r="1.7"/><circle cx="146.7" cy="36.1" r="1.6"/><circle cx="178.5" cy="76.1" r="1.9"/><circle cx="179.7" cy="80.7" r="1.8"/><circle cx="158.2" cy="46.4" r="1.9"/><circle cx="198.5" cy="62.7" r="1.3"/><circle cx="143.3" cy="38.6" r="1.4"/><circle cx="191.3" cy="55.2" r="1.6"/><circle cx="134.4" cy="38.7" r="1.4"/><circle cx="196.4" cy="62.4" r="1"/><circle cx="197.2" cy="77" r=".9"/><circle cx="169.7" cy="47.8" r="1.3"/><circle cx="154.5" cy="43.7" r="1.5"/><circle cx="172.5" cy="48.8" r="1.4"/><circle cx="180.7" cy="65.4" r="1"/><circle cx="190.8" cy="50.5" r="1.1"/><circle cx="160.9" cy="63" r="1.4"/><circle cx="155.4" cy="44.3" r="1.7"/><circle cx="180.1" cy="73.6" r="1"/><circle cx="184.2" cy="64" r="1.8"/><circle cx="162.2" cy="38.7" r="1.1"/><circle cx="152.5" cy="38" r=".9"/><circle cx="144.6" cy="45.3" r="1.7"/><circle cx="162.6" cy="58.2" r="1.4"/><circle cx="154.8" cy="53.2" r="1.3"/><circle cx="190" cy="49.5" r="1.6"/><circle cx="186.2" cy="67.5" r="1"/><circle cx="177.6" cy="70" r="1.6"/><circle cx="194" cy="77" r="1.3"/><circle cx="137.4" cy="32.3" r=".9"/><circle cx="155.4" cy="57.8" r="1.4"/><circle cx="186" cy="63.1" r="1.1"/><circle cx="161.1" cy="40.7" r="1.8"/><circle cx="141.7" cy="43.5" r="1.8"/><circle cx="165.2" cy="58.9" r="1.7"/><circle cx="181.6" cy="70.3" r="1.8"/><circle cx="188.9" cy="73.8" r="1.4"/><circle cx="177.2" cy="69.2" r="2"/><circle cx="134.8" cy="39.1" r="2"/><circle cx="138.5" cy="44.8" r="1.2"/><circle cx="173.9" cy="67.8" r="1.7"/><circle cx="156.3" cy="39.6" r="1.4"/><circle cx="139.7" cy="43.8" r="1.9"/><circle cx="179.6" cy="66" r="1.6"/><circle cx="153.6" cy="50" r="1.4"/><circle cx="195.4" cy="66.6" r="1.9"/><circle cx="143.6" cy="42.1" r="1.8"/><circle cx="172.5" cy="52.8" r="1.4"/><circle cx="150" cy="48.8" r="1"/><circle cx="156" cy="60.4" r="1.8"/><circle cx="161.6" cy="43.6" r="1.7"/><circle cx="172.9" cy="55.3" r="1.7"/><circle cx="179.1" cy="58" r="1.8"/><circle cx="183.2" cy="72.2" r="1.1"/><circle cx="146.7" cy="33.8" r="1.6"/><circle cx="193" cy="65.9" r="1.8"/><circle cx="137.3" cy="43.4" r="1.8"/><circle cx="180.1" cy="45.9" r="1.9"/><circle cx="170.1" cy="52.1" r="1.2"/><circle cx="137.8" cy="44.4" r="2"/><circle cx="166.7" cy="50.7" r="1.7"/><circle cx="155" cy="56.8" r="1.9"/><circle cx="152.7" cy="37.3" r="1"/><circle cx="170.8" cy="66.9" r="1.2"/><circle cx="182.2" cy="80.4" r="1.6"/><circle cx="194.4" cy="75.6" r="1"/><circle cx="186.1" cy="57.8" r="1"/><circle cx="168.6" cy="54.1" r="1.8"/><circle cx="196.2" cy="65.6" r="1.5"/><circle cx="186.8" cy="68" r="2"/><circle cx="195" cy="78.5" r="1.6"/><circle cx="174.6" cy="73.6" r="2"/><circle cx="175.4" cy="53.9" r="1.4"/><circle cx="188.3" cy="58" r="1.7"/><circle cx="186.1" cy="59.3" r=".9"/><circle cx="151.1" cy="53.4" r="1.4"/><circle cx="184.7" cy="57.5" r="1.8"/><circle cx="178.6" cy="51.4" r="1.8"/><circle cx="172.5" cy="51" r="1.3"/><circle cx="192.2" cy="53.4" r="1.4"/><circle cx="173.2" cy="66.2" r="1.1"/><circle cx="177.6" cy="72.9" r="1.9"/><circle cx="192.7" cy="75.2" r="1.3"/><circle cx="147.9" cy="39.6" r="1.8"/><circle cx="151.2" cy="41.6" r="1.9"/><circle cx="166.4" cy="66.8" r="1.7"/><circle cx="144.2" cy="36.4" r="1.9"/><circle cx="152.5" cy="54.5" r="1.9"/><circle cx="196.9" cy="64.8" r="1.4"/><circle cx="154" cy="47.2" r="1.4"/><circle cx="169.4" cy="41.6" r="1.2"/><circle cx="189.3" cy="52.8" r="2"/><circle cx="180.8" cy="49.7" r="1"/><circle cx="141.1" cy="42.4" r="1.2"/><circle cx="139.4" cy="32.3" r="1.6"/><circle cx="154.7" cy="39.3" r="1"/><circle cx="136.1" cy="30.8" r="1.6"/><circle cx="168.7" cy="70.2" r="1.9"/></g>
<g fill="#a67dc6" opacity="0.8"><circle cx="130.3" cy="43.4" r="1.4"/><circle cx="138.3" cy="51" r="1.1"/><circle cx="134.4" cy="43.2" r="1.1"/><circle cx="136.4" cy="48" r="1.1"/><circle cx="137.1" cy="45.3" r=".9"/><circle cx="138.8" cy="49" r="1.1"/><circle cx="132.6" cy="45" r=".9"/><circle cx="128.1" cy="39.3" r=".7"/><circle cx="132.2" cy="41.6" r=".9"/><circle cx="132.5" cy="42.7" r=".8"/><circle cx="141.1" cy="54.8" r="1.4"/><circle cx="130.4" cy="39.6" r=".8"/><circle cx="130.6" cy="43.5" r=".9"/><circle cx="135.2" cy="49.6" r="1.2"/><circle cx="131.6" cy="40.2" r="1.4"/><circle cx="139.4" cy="50.2" r="1.2"/><circle cx="129.5" cy="38.5" r="1.2"/><circle cx="135.3" cy="47.9" r=".7"/><circle cx="135.2" cy="44.8" r="1.1"/><circle cx="132.8" cy="44.5" r=".8"/><circle cx="135.4" cy="49.3" r="1.5"/><circle cx="138.9" cy="53.6" r="1.1"/><circle cx="137.3" cy="45.8" r=".8"/><circle cx="133.4" cy="43" r="1.4"/><circle cx="131.3" cy="43.8" r=".9"/><circle cx="134.6" cy="45.4" r="1"/><circle cx="141" cy="55.4" r=".8"/><circle cx="139.2" cy="52.6" r="1.4"/><circle cx="139" cy="48.9" r=".8"/><circle cx="134.1" cy="46" r=".7"/><circle cx="139" cy="50.5" r=".8"/><circle cx="130.5" cy="39" r="1.3"/></g><g fill="#b08ccc" opacity="0.8"><circle cx="138.4" cy="48.4" r="1.1"/><circle cx="128.5" cy="38.3" r="1.4"/><circle cx="132.4" cy="46.1" r="1.3"/><circle cx="137.6" cy="47.9" r="1.3"/><circle cx="137.9" cy="50.4" r="1.4"/><circle cx="131.3" cy="40.5" r="1.1"/><circle cx="136.6" cy="47.5" r=".8"/><circle cx="137" cy="46.1" r="1.1"/><circle cx="136.4" cy="51.1" r="1.1"/><circle cx="136.8" cy="50.2" r=".8"/><circle cx="139.6" cy="49.3" r="1.4"/><circle cx="138.7" cy="50.7" r="1.1"/><circle cx="130.1" cy="42.5" r="1.1"/><circle cx="138.4" cy="50.5" r="1.5"/><circle cx="130.6" cy="38.6" r="1.5"/><circle cx="140.2" cy="53.8" r=".8"/><circle cx="134.9" cy="42.9" r="1.4"/><circle cx="137.2" cy="50.2" r=".9"/><circle cx="133.9" cy="46.1" r="1"/><circle cx="140.5" cy="52" r="1"/><circle cx="139.6" cy="53.7" r="1.5"/><circle cx="139.5" cy="49.9" r=".9"/><circle cx="135" cy="49.4" r="1.1"/><circle cx="130.1" cy="42.2" r="1.2"/><circle cx="130.8" cy="38.6" r=".9"/><circle cx="134.4" cy="47.5" r=".7"/><circle cx="132.7" cy="44.4" r="1"/><circle cx="136.6" cy="49.1" r="1.4"/></g>
<g fill="#f6f2f8" opacity="0.9"><circle cx="161.8" cy="49.3" r=".7"/><circle cx="131.9" cy="35.4" r=".4"/><circle cx="172.8" cy="81.2" r=".7"/><circle cx="177.6" cy="25.4" r=".7"/><circle cx="150.7" cy="24.1" r=".7"/><circle cx="200.6" cy="82.8" r=".3"/><circle cx="161" cy="69.7" r=".8"/><circle cx="190.6" cy="45.6" r=".7"/><circle cx="186.2" cy="42.7" r=".6"/><circle cx="173.9" cy="41.8" r=".5"/><circle cx="160.8" cy="46" r=".7"/><circle cx="155.2" cy="23" r=".4"/><circle cx="202.7" cy="66.7" r=".3"/><circle cx="164.7" cy="45.7" r=".6"/><circle cx="190.2" cy="40.9" r=".8"/><circle cx="154" cy="7.7" r=".4"/><circle cx="152.8" cy="23" r=".5"/><circle cx="199.9" cy="52.8" r=".5"/><circle cx="198" cy="79.8" r=".5"/><circle cx="202.4" cy="57.2" r=".7"/><circle cx="170.9" cy="66.7" r=".6"/><circle cx="136.8" cy="27.8" r=".6"/><circle cx="126.5" cy="31.4" r=".5"/><circle cx="169.6" cy="47.5" r=".4"/><circle cx="167" cy="68.5" r=".6"/><circle cx="185.4" cy="80.1" r=".7"/><circle cx="164.8" cy="31.6" r=".6"/><circle cx="162.6" cy="23.7" r=".7"/><circle cx="163.6" cy="72.4" r=".7"/><circle cx="147" cy="7.9" r=".5"/><circle cx="159.9" cy="47.7" r=".5"/><circle cx="197.8" cy="83.3" r=".4"/><circle cx="164.7" cy="55.5" r=".4"/><circle cx="155.2" cy="67.7" r=".7"/><circle cx="177.5" cy="61" r=".4"/><circle cx="204" cy="68.1" r=".6"/><circle cx="141.3" cy="49.2" r=".8"/><circle cx="126.1" cy="3.8" r=".3"/><circle cx="163.4" cy="12.9" r=".7"/><circle cx="166.2" cy="65.7" r=".8"/><circle cx="204.9" cy="71.6" r=".4"/><circle cx="172.5" cy="53.8" r=".7"/><circle cx="189.2" cy="55.4" r=".6"/><circle cx="157.9" cy="11.6" r=".8"/><circle cx="150.7" cy="30.7" r=".8"/><circle cx="162.6" cy="25" r=".6"/><circle cx="152.7" cy="23.4" r=".6"/><circle cx="153.2" cy="10.2" r=".4"/><circle cx="153.7" cy="38.7" r=".7"/><circle cx="179.5" cy="23.6" r=".5"/><circle cx="145.3" cy="42.7" r=".7"/><circle cx="147.9" cy="48.2" r=".4"/><circle cx="160.6" cy="57.7" r=".4"/><circle cx="159.2" cy="36.1" r=".6"/><circle cx="156.6" cy="22.8" r=".8"/><circle cx="129.2" cy="7.4" r=".3"/><circle cx="159.3" cy="32.4" r=".3"/><circle cx="151.2" cy="13.4" r=".3"/><circle cx="155" cy="15" r=".5"/><circle cx="150.3" cy="44.8" r=".8"/><circle cx="192.5" cy="66.3" r=".7"/><circle cx="143.1" cy="29.8" r=".5"/><circle cx="198.5" cy="60.7" r=".6"/><circle cx="187.7" cy="59.3" r=".4"/><circle cx="142.7" cy="26.4" r=".3"/><circle cx="171.4" cy="18.5" r=".5"/><circle cx="187.6" cy="73.3" r=".4"/></g><g fill="#ffffff" opacity="0.9"><circle cx="128" cy="17.6" r=".5"/><circle cx="139.1" cy="12" r=".4"/><circle cx="160.3" cy="56.4" r=".6"/><circle cx="167" cy="55.9" r=".5"/><circle cx="153" cy="46.5" r=".7"/><circle cx="176.1" cy="33.9" r=".4"/><circle cx="157.9" cy="49.1" r=".6"/><circle cx="146.9" cy="54.6" r=".7"/><circle cx="183.4" cy="80.6" r=".6"/><circle cx="187.3" cy="68.2" r=".6"/><circle cx="195.1" cy="41" r=".6"/><circle cx="160.4" cy="55.4" r=".5"/><circle cx="183.1" cy="49.7" r=".4"/><circle cx="184.7" cy="35.9" r=".6"/><circle cx="186.6" cy="44.5" r=".3"/><circle cx="136" cy="25.6" r=".7"/><circle cx="137.2" cy="31.9" r=".5"/><circle cx="160.8" cy="36.7" r=".5"/><circle cx="170" cy="39.7" r=".5"/><circle cx="161.3" cy="71.1" r=".7"/><circle cx="155.4" cy="36.4" r=".4"/><circle cx="146.3" cy="28.2" r=".5"/><circle cx="184.1" cy="30.5" r=".6"/><circle cx="159.4" cy="43.6" r=".6"/><circle cx="185.7" cy="41.5" r=".7"/><circle cx="126" cy="16.8" r=".6"/><circle cx="132.6" cy="41.4" r=".7"/><circle cx="157.2" cy="17.4" r=".5"/><circle cx="183.6" cy="71.7" r=".6"/><circle cx="164.3" cy="64.7" r=".3"/><circle cx="139.5" cy="44.5" r=".6"/><circle cx="156.9" cy="25.1" r=".4"/><circle cx="191.3" cy="65.3" r=".4"/><circle cx="147.2" cy="12.5" r=".6"/><circle cx="137.5" cy="3.4" r=".7"/><circle cx="190.3" cy="74.6" r=".7"/><circle cx="154.4" cy="32.2" r=".7"/><circle cx="160.3" cy="62.2" r=".7"/><circle cx="182.5" cy="33.8" r=".4"/><circle cx="126.7" cy="5.2" r=".6"/><circle cx="171.9" cy="51" r=".6"/><circle cx="133.1" cy="38" r=".8"/><circle cx="124.3" cy="9.3" r=".5"/><circle cx="151.9" cy="64.1" r=".3"/><circle cx="178.5" cy="67.8" r=".7"/><circle cx="137" cy="45.1" r=".6"/><circle cx="180.8" cy="43.9" r=".4"/><circle cx="185.2" cy="31.8" r=".5"/><circle cx="137.8" cy="28.7" r=".6"/><circle cx="168.5" cy="60.9" r=".8"/><circle cx="182.9" cy="69.7" r=".3"/><circle cx="159.6" cy="43.4" r=".3"/><circle cx="171.8" cy="58.2" r=".3"/><circle cx="165.1" cy="41.1" r=".5"/><circle cx="177.6" cy="69.6" r=".6"/><circle cx="204.4" cy="63" r=".7"/><circle cx="164.9" cy="45.5" r=".6"/><circle cx="189.2" cy="37.4" r=".4"/><circle cx="195.8" cy="61.9" r=".3"/><circle cx="182.1" cy="46.8" r=".4"/><circle cx="150.3" cy="21.8" r=".3"/><circle cx="170.4" cy="31.7" r=".6"/><circle cx="135.5" cy="35.4" r=".4"/><circle cx="157.5" cy="34.7" r=".7"/><circle cx="143.3" cy="6.3" r=".7"/><circle cx="165.4" cy="59.9" r=".8"/><circle cx="180.3" cy="24.8" r=".8"/><circle cx="169.6" cy="36.7" r=".4"/><circle cx="129.8" cy="33.5" r=".4"/><circle cx="193.1" cy="81.4" r=".6"/><circle cx="159.5" cy="47.1" r=".6"/><circle cx="162.7" cy="30.1" r=".6"/><circle cx="161.2" cy="51.8" r=".5"/></g>
<path d="M140,34 C150,38 160,44 172,48 C180,50 186,51 190,53" stroke="#e4d8ee" stroke-width="1.6" fill="none" opacity="0.8"/>
</g>
<g clip-path="url(#cm2)"><path d="M169.1,85.9 C172,85.3 176.6,85.1 180.3,85.2 C184,85.3 188.4,85.9 191.5,86.5 C194.6,87.1 197.6,86.9 198.9,89 C200.2,91.1 199.7,94.6 199.5,98.9 C199.3,103.2 198.6,110.2 197.7,115 C196.8,119.8 195.7,123.1 194,127.4 C192.3,131.8 190.1,136.8 187.8,141.1 C185.5,145.4 182.6,149.8 180.3,153.5 C178,157.2 176,160.9 174.1,163.4 C172.2,165.9 176.1,167.6 169.1,168.4 C162.1,169.2 137.7,170.5 131.9,168.4 C126.1,166.3 133.2,161.2 134.4,156 C135.7,150.8 137.5,143.3 139.4,137.3 C141.3,131.3 143.5,125.2 145.6,120 C147.7,114.8 150,110.2 151.8,106.3 C153.7,102.4 154.8,99.3 156.7,96.4 C158.5,93.5 160.8,90.8 162.9,89 C165,87.2 166.2,86.5 169.1,85.9 Z" fill="#dfd3ea"/>
<g fill="#d6c4e6" opacity="0.8"><circle cx="148.4" cy="147.1" r=".8"/><circle cx="160.9" cy="102.7" r="1.3"/><circle cx="182.8" cy="130.3" r=".6"/><circle cx="134.2" cy="157.7" r=".6"/><circle cx="173.1" cy="140.2" r=".6"/><circle cx="157.5" cy="146.7" r=".6"/><circle cx="145.6" cy="127" r="1.3"/><circle cx="141.6" cy="138.5" r="1.1"/><circle cx="191.9" cy="102.9" r="1.4"/><circle cx="138.9" cy="144.2" r=".9"/><circle cx="186.8" cy="88" r=".6"/><circle cx="156.5" cy="123.8" r="1.4"/><circle cx="146" cy="165.4" r="1.5"/><circle cx="190.7" cy="118.2" r="1"/><circle cx="178.1" cy="129.1" r="1.3"/><circle cx="170.2" cy="118.1" r=".9"/><circle cx="156.6" cy="129.7" r="1.2"/><circle cx="166.9" cy="98.1" r=".9"/><circle cx="144.6" cy="127.3" r="1.1"/><circle cx="156.4" cy="152.2" r=".7"/><circle cx="181.1" cy="91.4" r=".8"/><circle cx="182.3" cy="93.6" r="1.1"/><circle cx="168" cy="165.4" r="1.1"/><circle cx="173.6" cy="88.8" r="1"/><circle cx="154.1" cy="167.3" r="1.3"/><circle cx="154.4" cy="105.2" r="1.2"/><circle cx="186.5" cy="102.8" r=".7"/><circle cx="191.6" cy="116.6" r="1.5"/><circle cx="157.6" cy="110.1" r="1.3"/><circle cx="160.4" cy="123.9" r="1.4"/><circle cx="176.8" cy="103.7" r="1.1"/><circle cx="171.3" cy="93.7" r="1"/><circle cx="161.3" cy="131" r="1.4"/><circle cx="164.9" cy="115.2" r="1.2"/><circle cx="145.9" cy="144.5" r=".7"/><circle cx="175.5" cy="127.7" r="1.1"/><circle cx="157.1" cy="146.5" r="1.5"/><circle cx="172" cy="122.7" r=".7"/><circle cx="195" cy="109.1" r="1.5"/><circle cx="170.7" cy="163.1" r=".8"/><circle cx="142.6" cy="151.1" r="1.3"/><circle cx="168.4" cy="88.1" r="1.5"/><circle cx="142.5" cy="149.9" r="1.1"/><circle cx="164.2" cy="111.9" r="1.4"/><circle cx="152.4" cy="150.3" r=".6"/><circle cx="178.9" cy="129.4" r="1"/><circle cx="188.7" cy="90.4" r="1.1"/><circle cx="159.2" cy="109.1" r="1.5"/><circle cx="179.7" cy="89.3" r="1.2"/><circle cx="150.1" cy="150" r="1.1"/><circle cx="160.5" cy="112.2" r="1.3"/><circle cx="182.4" cy="98.1" r="1"/><circle cx="183.1" cy="118.8" r=".7"/><circle cx="178.3" cy="147.6" r="1.2"/><circle cx="178.9" cy="154.7" r="1.5"/><circle cx="163.8" cy="143.9" r="1.2"/><circle cx="174.2" cy="160.1" r="1.3"/><circle cx="150.2" cy="144.7" r="1"/><circle cx="169.9" cy="87.7" r=".8"/><circle cx="179.3" cy="104.7" r=".8"/><circle cx="170.4" cy="163.3" r="1.3"/><circle cx="174.2" cy="88.6" r=".8"/><circle cx="148.4" cy="150.1" r="1"/><circle cx="165.9" cy="99.8" r=".6"/><circle cx="155.5" cy="145.6" r="1.4"/><circle cx="161.9" cy="137.9" r="1"/><circle cx="154" cy="112.8" r=".9"/><circle cx="191.5" cy="102.4" r="1.4"/><circle cx="175.4" cy="132.4" r=".9"/><circle cx="161.6" cy="128.4" r="1.5"/><circle cx="181" cy="125.5" r="1.1"/><circle cx="149.4" cy="156.6" r="1.5"/><circle cx="179.8" cy="135.7" r="1.3"/><circle cx="186.9" cy="118.5" r=".7"/><circle cx="167.4" cy="87.6" r="1.1"/><circle cx="170.1" cy="140" r="1.4"/><circle cx="168.4" cy="130.7" r=".9"/><circle cx="186.9" cy="107.7" r=".7"/><circle cx="184.2" cy="98.4" r="1.4"/></g><g fill="#cdb8e0" opacity="0.8"><circle cx="171.2" cy="96.7" r="1.1"/><circle cx="136.9" cy="152.2" r="1"/><circle cx="155.9" cy="144.1" r=".8"/><circle cx="185.3" cy="135" r=".9"/><circle cx="178.1" cy="144.7" r="1.1"/><circle cx="155.8" cy="157.6" r=".7"/><circle cx="172.6" cy="162.4" r="1.4"/><circle cx="143.6" cy="127.2" r="1.1"/><circle cx="175.3" cy="90.3" r=".7"/><circle cx="173.9" cy="122.6" r="1.2"/><circle cx="168" cy="111.6" r="1.3"/><circle cx="170.6" cy="122.8" r="1.4"/><circle cx="183.1" cy="120.7" r="1"/><circle cx="173.3" cy="124.1" r=".7"/><circle cx="161" cy="151.8" r=".7"/><circle cx="155.4" cy="165.3" r="1"/><circle cx="195.3" cy="100.4" r="1.3"/><circle cx="173.9" cy="143.4" r="1.5"/><circle cx="161.3" cy="162.3" r="1.1"/><circle cx="155.3" cy="124.3" r=".6"/><circle cx="153.9" cy="155.8" r="1.1"/><circle cx="142.8" cy="144.1" r=".7"/><circle cx="186.8" cy="100.4" r="1.4"/><circle cx="170.1" cy="124.6" r=".8"/><circle cx="152.6" cy="145" r=".9"/><circle cx="146.7" cy="123.1" r=".9"/><circle cx="149.9" cy="165.8" r=".8"/><circle cx="157.4" cy="149.8" r="1.4"/><circle cx="163.9" cy="96" r="1.1"/><circle cx="186.9" cy="130.5" r="1.2"/><circle cx="154.1" cy="113.9" r="1.3"/><circle cx="138.5" cy="159.5" r=".8"/><circle cx="158.4" cy="130.5" r="1"/><circle cx="143.6" cy="131.6" r=".7"/><circle cx="179.7" cy="121.7" r=".9"/><circle cx="170.7" cy="113.3" r="1.3"/><circle cx="185.8" cy="92.5" r=".8"/><circle cx="194.5" cy="111.6" r="1.2"/><circle cx="175.6" cy="110.5" r="1.5"/><circle cx="155" cy="113.3" r=".9"/><circle cx="152.5" cy="145.4" r=".7"/><circle cx="162.2" cy="118" r=".8"/><circle cx="188.2" cy="118.5" r="1"/><circle cx="179.9" cy="86" r="1.3"/><circle cx="161.2" cy="168.3" r="1"/><circle cx="183.4" cy="108" r="1"/><circle cx="166.6" cy="127.7" r="1.4"/><circle cx="142.9" cy="160.9" r="1.1"/><circle cx="143.3" cy="133.1" r=".9"/><circle cx="147" cy="165.9" r="1.4"/><circle cx="183.6" cy="138.4" r="1.4"/><circle cx="194" cy="88.3" r="1.2"/><circle cx="134.9" cy="168" r="1"/><circle cx="186.4" cy="125.5" r="1.3"/><circle cx="166.6" cy="153.1" r="1.3"/><circle cx="150.1" cy="116" r=".7"/><circle cx="193.6" cy="122.3" r="1.4"/><circle cx="141.7" cy="145" r=".6"/><circle cx="156.7" cy="110.9" r=".7"/><circle cx="148.6" cy="139" r=".8"/><circle cx="176.9" cy="91.5" r="1.1"/><circle cx="193.7" cy="122.4" r=".8"/><circle cx="141.8" cy="159.1" r=".9"/><circle cx="153.7" cy="122.1" r=".7"/><circle cx="181.6" cy="142.2" r="1"/><circle cx="177.6" cy="109.9" r=".9"/><circle cx="152.3" cy="138" r=".9"/><circle cx="150.4" cy="165.9" r="1.4"/><circle cx="145.1" cy="141.8" r="1.2"/><circle cx="194.2" cy="117.6" r=".8"/><circle cx="187.5" cy="91.5" r="1.3"/><circle cx="186.9" cy="101" r=".7"/><circle cx="186.4" cy="96.9" r="1"/><circle cx="151.8" cy="168.1" r=".8"/><circle cx="151.3" cy="131.6" r=".9"/><circle cx="167.9" cy="111" r="1.3"/><circle cx="173.7" cy="88.6" r="1.5"/><circle cx="194" cy="103.7" r=".8"/><circle cx="189" cy="89.4" r="1.5"/><circle cx="197.1" cy="98.8" r="1.1"/><circle cx="152.7" cy="160.3" r="1.3"/><circle cx="172.2" cy="153.6" r=".9"/></g><g fill="#c5acdb" opacity="0.8"><circle cx="158" cy="105.9" r="1.1"/><circle cx="160.8" cy="121.7" r=".6"/><circle cx="174.6" cy="105.6" r="1.4"/><circle cx="185.3" cy="138.3" r="1.4"/><circle cx="165.4" cy="154.7" r="1"/><circle cx="178.7" cy="93.5" r="1.4"/><circle cx="173.9" cy="126.2" r="1"/><circle cx="158.8" cy="104" r="1.1"/><circle cx="186.3" cy="113" r=".7"/><circle cx="142" cy="164.7" r="1.3"/><circle cx="173.8" cy="125.6" r="1"/><circle cx="163.4" cy="94.6" r="1.1"/><circle cx="139.8" cy="141.6" r=".6"/><circle cx="143.3" cy="129.4" r="1.1"/><circle cx="158.2" cy="115.3" r=".7"/><circle cx="143.8" cy="136.5" r="1"/><circle cx="157.1" cy="147.6" r=".8"/><circle cx="190.9" cy="123.3" r="1.5"/><circle cx="159" cy="133.7" r="1.2"/><circle cx="154.3" cy="139.1" r=".8"/><circle cx="167" cy="121.7" r=".8"/><circle cx="177.7" cy="91" r="1.1"/><circle cx="182.4" cy="120.5" r="1.2"/><circle cx="155.4" cy="141.6" r="1.3"/><circle cx="144.2" cy="162.6" r=".7"/><circle cx="180.5" cy="147.2" r="1"/><circle cx="168.2" cy="106.3" r="1.3"/><circle cx="192" cy="88.4" r="1.1"/><circle cx="170.4" cy="109" r="1"/><circle cx="183.3" cy="125.5" r="1.1"/><circle cx="169.5" cy="152.1" r="1.1"/><circle cx="161" cy="112.3" r=".8"/><circle cx="167.3" cy="102" r=".9"/><circle cx="189.7" cy="103" r="1.3"/><circle cx="140.2" cy="153.7" r="1"/><circle cx="157.3" cy="161.9" r="1.2"/><circle cx="174.5" cy="107.1" r="1.5"/><circle cx="172.2" cy="120.4" r=".8"/><circle cx="183.7" cy="143" r="1.5"/><circle cx="144.6" cy="158.7" r=".6"/><circle cx="182.4" cy="128.1" r=".8"/><circle cx="146.8" cy="131.2" r=".8"/><circle cx="182.4" cy="103.6" r="1.3"/><circle cx="146.6" cy="138.5" r=".8"/><circle cx="143.4" cy="155.1" r="1.3"/><circle cx="146.3" cy="120.6" r=".7"/><circle cx="174.2" cy="117.7" r=".7"/><circle cx="143.8" cy="133.6" r=".6"/><circle cx="160.2" cy="106.1" r="1.2"/><circle cx="176.9" cy="129.1" r="1.4"/><circle cx="175.3" cy="89.3" r="1"/><circle cx="180.8" cy="99.8" r=".9"/><circle cx="189.1" cy="121.2" r=".8"/><circle cx="171" cy="121.7" r=".8"/><circle cx="171.3" cy="109.2" r="1.3"/><circle cx="185.5" cy="115.4" r="1"/><circle cx="171.4" cy="108.5" r=".6"/><circle cx="172.8" cy="101.3" r="1.1"/><circle cx="146.9" cy="124" r=".7"/><circle cx="148" cy="156.4" r="1.2"/><circle cx="164.7" cy="151.4" r=".9"/><circle cx="167.4" cy="154.8" r=".7"/><circle cx="185.7" cy="140.7" r="1.4"/><circle cx="180.6" cy="137" r="1.1"/><circle cx="174.3" cy="123.4" r=".8"/><circle cx="193.4" cy="123.8" r="1"/><circle cx="149.1" cy="161.9" r="1"/><circle cx="164.2" cy="144.4" r=".9"/><circle cx="186.9" cy="105.9" r=".7"/><circle cx="151.4" cy="153.9" r="1.5"/><circle cx="158.7" cy="118.6" r="1.3"/><circle cx="156.2" cy="108.4" r="1.2"/><circle cx="143" cy="166.7" r="1"/><circle cx="174.5" cy="127.5" r=".8"/><circle cx="167.3" cy="135.2" r="1.1"/><circle cx="199.1" cy="95.4" r="1.1"/><circle cx="153.7" cy="128" r="1.4"/><circle cx="156.1" cy="134.5" r=".9"/><circle cx="140.8" cy="134.2" r="1.3"/></g>
<g fill="#c6a9dc" opacity="0.8"><circle cx="155.2" cy="122.1" r="1.9"/><circle cx="156.2" cy="134.9" r="1.3"/><circle cx="146" cy="135.8" r="1.1"/><circle cx="151.5" cy="136.4" r="1.4"/><circle cx="172.4" cy="104.1" r="1"/><circle cx="160.7" cy="121.2" r="1.5"/><circle cx="149.9" cy="149.2" r="1.9"/><circle cx="166.8" cy="107" r="1.8"/><circle cx="150.4" cy="158.7" r="1.6"/><circle cx="167.1" cy="116.8" r="1.5"/><circle cx="150.3" cy="152.1" r="1.8"/><circle cx="161.9" cy="117.7" r="1.8"/><circle cx="159.3" cy="113.4" r="1"/><circle cx="169.5" cy="147.8" r=".9"/><circle cx="149.4" cy="135.3" r="1"/><circle cx="159.4" cy="105.5" r="1"/><circle cx="158.1" cy="100.1" r="1.3"/><circle cx="157.4" cy="127.3" r="1.3"/><circle cx="152.6" cy="159.2" r="1.1"/><circle cx="174.4" cy="119.4" r="1.4"/><circle cx="166.8" cy="111.2" r="1.8"/><circle cx="156.8" cy="160.6" r="1.2"/><circle cx="172.3" cy="127.3" r="1.6"/><circle cx="174.1" cy="139.9" r="1.3"/><circle cx="144.5" cy="150.2" r="1.5"/><circle cx="161.7" cy="154.9" r="1.2"/><circle cx="165.3" cy="134.1" r="1"/><circle cx="168.6" cy="103.4" r="1"/><circle cx="161.6" cy="119.2" r="2"/><circle cx="173.1" cy="118.7" r="1.1"/><circle cx="173.6" cy="129.3" r="1.9"/><circle cx="167.1" cy="142.6" r="1.6"/><circle cx="164.5" cy="113.4" r="1.7"/><circle cx="167.9" cy="151.7" r="1.7"/><circle cx="170.9" cy="120.5" r="1.4"/><circle cx="169.5" cy="119.2" r="1.1"/><circle cx="174.8" cy="123" r="1"/><circle cx="149.8" cy="129.9" r="1.5"/><circle cx="171.9" cy="145.7" r="1.3"/><circle cx="146.7" cy="159.6" r="1.7"/><circle cx="149.6" cy="157.1" r="1"/><circle cx="155.1" cy="156.9" r="1.4"/><circle cx="152.8" cy="145" r="1.6"/><circle cx="170.7" cy="146.2" r="1.7"/><circle cx="174.9" cy="106.1" r="1.9"/><circle cx="167.1" cy="153.3" r="1.3"/><circle cx="151.5" cy="117.1" r="1.2"/><circle cx="170.4" cy="126.1" r=".9"/><circle cx="154.8" cy="156.7" r="1.7"/><circle cx="161.3" cy="120.9" r="1.7"/><circle cx="160.9" cy="137.8" r="1.9"/><circle cx="155.6" cy="135.3" r="1"/><circle cx="163.1" cy="145.8" r="1.1"/><circle cx="161.3" cy="147.3" r="1.2"/><circle cx="158.6" cy="113.8" r="1.1"/><circle cx="172.8" cy="142.4" r="1.5"/><circle cx="159.8" cy="101.9" r="1.1"/><circle cx="144.8" cy="145.2" r="1.4"/><circle cx="158.3" cy="110.1" r="1.2"/><circle cx="165.4" cy="153.6" r="1.7"/><circle cx="168.3" cy="105.7" r="1.3"/><circle cx="159" cy="122.2" r="1.2"/><circle cx="163.7" cy="154" r="1.7"/><circle cx="171.1" cy="146.5" r="1.8"/><circle cx="171.9" cy="122.4" r="1.2"/><circle cx="158.2" cy="124.4" r="1.7"/><circle cx="150.2" cy="148.3" r="1.3"/><circle cx="168.5" cy="112.6" r="1.1"/><circle cx="152.2" cy="141.9" r="1.6"/><circle cx="178" cy="113.4" r="1.5"/><circle cx="158.9" cy="145.1" r="1.4"/><circle cx="165.1" cy="97.5" r="1.4"/><circle cx="163.8" cy="140.7" r="1.8"/><circle cx="169.4" cy="113.5" r="1.4"/><circle cx="171.9" cy="113.3" r="1.2"/><circle cx="156" cy="115.7" r="1.6"/><circle cx="172.6" cy="117.5" r="1.9"/><circle cx="148.6" cy="140.3" r="1"/><circle cx="170.6" cy="127.4" r="1.4"/><circle cx="164.1" cy="140.6" r="1.5"/><circle cx="170.8" cy="102.5" r="1.4"/><circle cx="174.7" cy="136.1" r="1.2"/><circle cx="170" cy="116.7" r="1.5"/><circle cx="171.2" cy="124.4" r="1.4"/><circle cx="175.7" cy="108" r="1.9"/><circle cx="167.2" cy="131.8" r="1.3"/><circle cx="169.6" cy="95.5" r="1.2"/><circle cx="146.1" cy="138.6" r="1.4"/><circle cx="175.3" cy="136.1" r="1"/><circle cx="155.2" cy="115.3" r="1.3"/><circle cx="167" cy="128.4" r="1.2"/><circle cx="147.6" cy="131.2" r="1.7"/><circle cx="162" cy="145.6" r="1.3"/><circle cx="154.8" cy="133.3" r="2"/><circle cx="173.6" cy="103.9" r="2"/><circle cx="171.6" cy="128.8" r="2"/><circle cx="151.9" cy="146" r="1"/><circle cx="172" cy="113.8" r="1"/><circle cx="166.7" cy="145.9" r="1.5"/><circle cx="157.6" cy="160.5" r="1.7"/><circle cx="167.7" cy="103.3" r="1.1"/><circle cx="158.1" cy="109.3" r="1"/><circle cx="158.8" cy="112.5" r="1.3"/><circle cx="163.8" cy="153.6" r="1.1"/><circle cx="171.5" cy="139.2" r="1.2"/><circle cx="163.2" cy="123.4" r="1.2"/><circle cx="170.6" cy="98.9" r="1.5"/><circle cx="151.5" cy="143.6" r="1.6"/><circle cx="173.8" cy="119.3" r="1.8"/><circle cx="164.8" cy="148.5" r="1"/><circle cx="150.5" cy="151.1" r="1.6"/><circle cx="145.1" cy="140.7" r="1.7"/><circle cx="167.7" cy="152.9" r="1.3"/><circle cx="177.9" cy="114.6" r="1"/></g><g fill="#ad86ca" opacity="0.8"><circle cx="172" cy="108.1" r="1.2"/><circle cx="161.5" cy="122" r="1.5"/><circle cx="176.1" cy="111.2" r="1.8"/><circle cx="169.5" cy="124.8" r="1.4"/><circle cx="165.3" cy="142.7" r="1.9"/><circle cx="157" cy="101.1" r="1.6"/><circle cx="163" cy="108.5" r="1.6"/><circle cx="176.2" cy="109.1" r="1.7"/><circle cx="151.4" cy="149.9" r="1.5"/><circle cx="163.7" cy="156.7" r="1.2"/><circle cx="164.3" cy="154.2" r="1"/><circle cx="154.9" cy="145.2" r="1.8"/><circle cx="153.9" cy="164.3" r="1.6"/><circle cx="172.7" cy="108.1" r="1.7"/><circle cx="166.9" cy="116" r="1.8"/><circle cx="152.8" cy="154.5" r="1.5"/><circle cx="158.7" cy="98.7" r="1.8"/><circle cx="176.5" cy="116.3" r="1.7"/><circle cx="175.5" cy="118.4" r="1.4"/><circle cx="173.8" cy="113.4" r=".9"/><circle cx="172.9" cy="123" r="1.1"/><circle cx="168.4" cy="98.3" r="1.3"/><circle cx="157.8" cy="135.5" r="1.1"/><circle cx="166.2" cy="153.4" r="1.5"/><circle cx="147.9" cy="161.6" r="1.3"/><circle cx="168.8" cy="150" r="1.5"/><circle cx="165.2" cy="156.4" r="1"/><circle cx="152.8" cy="122.3" r="1"/><circle cx="151.1" cy="149.9" r="1.3"/><circle cx="146.5" cy="155.7" r="1.1"/><circle cx="162.8" cy="122.7" r="1.1"/><circle cx="153.2" cy="131" r="1.1"/><circle cx="161" cy="108.9" r="1.2"/><circle cx="160.5" cy="161.2" r="1.6"/><circle cx="165.9" cy="143.6" r="1.1"/><circle cx="164.3" cy="106.3" r="1.1"/><circle cx="170.2" cy="137.3" r="1.5"/><circle cx="151.8" cy="149.9" r="1.1"/><circle cx="163.2" cy="144.4" r="1.4"/><circle cx="163.5" cy="157.6" r="1.6"/><circle cx="154.5" cy="120.2" r="1.6"/><circle cx="176.2" cy="119" r="1.7"/><circle cx="150.6" cy="121.8" r="1.8"/><circle cx="168.9" cy="96.1" r="1.7"/><circle cx="155" cy="117.9" r="1.4"/><circle cx="156.3" cy="137" r="1.4"/><circle cx="169.3" cy="116.6" r="1.1"/><circle cx="164" cy="110" r="1.9"/><circle cx="151.5" cy="157.5" r="1.6"/><circle cx="164.1" cy="96.3" r="1.4"/><circle cx="167.1" cy="133.9" r="1.7"/><circle cx="162.1" cy="110.2" r="1"/><circle cx="151.6" cy="150.3" r="1.3"/><circle cx="156.4" cy="156.4" r="1"/><circle cx="145.1" cy="146" r="1.9"/><circle cx="155.3" cy="120.7" r="1.5"/><circle cx="169.1" cy="112.5" r="1.7"/><circle cx="177.3" cy="113.4" r=".9"/><circle cx="168.7" cy="111.6" r="1.4"/><circle cx="171.2" cy="126.1" r=".9"/><circle cx="160.2" cy="138.4" r="1.2"/><circle cx="157.8" cy="148.1" r="1"/><circle cx="161.1" cy="136.3" r="1.1"/><circle cx="176.2" cy="136.1" r="1.5"/><circle cx="156.5" cy="142.3" r="1.7"/><circle cx="148.4" cy="145.8" r="1.1"/><circle cx="158.9" cy="150.9" r="1.1"/><circle cx="151.4" cy="130.5" r="1.8"/><circle cx="163.3" cy="99" r=".9"/><circle cx="156.5" cy="105" r="1"/><circle cx="170.5" cy="128.1" r="1.2"/><circle cx="167.1" cy="101.8" r="1.9"/><circle cx="146.4" cy="133.6" r="1.6"/><circle cx="166.6" cy="106.8" r="1.5"/><circle cx="158.9" cy="105.7" r="2"/><circle cx="157.3" cy="119.9" r="1.7"/><circle cx="154.7" cy="123.9" r="1.7"/><circle cx="147.6" cy="130.8" r="1.1"/><circle cx="161.1" cy="116.8" r="1.1"/><circle cx="160.1" cy="116.8" r="1.9"/><circle cx="147.8" cy="140.9" r="2"/><circle cx="160.2" cy="126.2" r="1.8"/><circle cx="166.1" cy="110.5" r="1.4"/><circle cx="147.2" cy="137.4" r="1.5"/><circle cx="157.2" cy="162.6" r="1.2"/><circle cx="146.3" cy="150.5" r="1.6"/><circle cx="166.2" cy="119.6" r="1.9"/><circle cx="168.6" cy="150" r="1.9"/><circle cx="159.4" cy="160.4" r="1.9"/><circle cx="166.4" cy="105.1" r="1.5"/><circle cx="145.6" cy="145.6" r="1.2"/><circle cx="158.7" cy="159" r="1.4"/><circle cx="150.3" cy="133.6" r="1.5"/><circle cx="177" cy="130.4" r="1.6"/><circle cx="149.8" cy="147" r="1.5"/><circle cx="150.1" cy="161.1" r="1.3"/><circle cx="174.3" cy="127.5" r="1.9"/><circle cx="167.9" cy="143.2" r="1.3"/><circle cx="157.3" cy="162.4" r="1"/><circle cx="169.8" cy="121.4" r="1.3"/><circle cx="159" cy="132.8" r="1.7"/><circle cx="170" cy="134.5" r="1.2"/><circle cx="173.3" cy="132.5" r="1.8"/><circle cx="166.5" cy="120.5" r="1.7"/><circle cx="159.9" cy="120" r="1.6"/></g><g fill="#b894d0" opacity="0.8"><circle cx="166.1" cy="135.8" r="1.2"/><circle cx="148.3" cy="135.3" r="1.2"/><circle cx="162.3" cy="122.8" r="2"/><circle cx="149.8" cy="138.7" r="1.5"/><circle cx="177.5" cy="130" r="1.8"/><circle cx="163.6" cy="95" r="1.3"/><circle cx="157.4" cy="112.8" r="1.8"/><circle cx="169.9" cy="146.3" r="1.8"/><circle cx="143.7" cy="149" r="1.3"/><circle cx="168.6" cy="113.9" r="1.3"/><circle cx="161.8" cy="119.4" r="1.5"/><circle cx="151.8" cy="127.4" r="1.4"/><circle cx="176.6" cy="133.1" r="1.4"/><circle cx="175.1" cy="114.5" r="1.6"/><circle cx="161.5" cy="120.5" r="1.8"/><circle cx="179.8" cy="124.1" r="1.8"/><circle cx="149.2" cy="145.2" r="2"/><circle cx="169.8" cy="136.7" r="1.9"/><circle cx="167.4" cy="111" r="1.3"/><circle cx="152.6" cy="147.1" r="2"/><circle cx="160.6" cy="157.5" r="1.9"/><circle cx="150.7" cy="126" r="1.7"/><circle cx="159.1" cy="132.9" r="1.1"/><circle cx="176.5" cy="115.8" r="1.2"/><circle cx="166.4" cy="103.7" r="1.1"/><circle cx="157.6" cy="118.5" r="2"/><circle cx="160.1" cy="142.1" r="1.2"/><circle cx="156.9" cy="108" r="1.6"/><circle cx="146.3" cy="139.2" r="1.5"/><circle cx="159.3" cy="99" r="1.2"/><circle cx="160.7" cy="115.3" r="1.8"/><circle cx="158" cy="144.7" r="1.8"/><circle cx="156.8" cy="145.8" r="1.8"/><circle cx="161" cy="124.4" r="1.6"/><circle cx="176.8" cy="124.6" r="1"/><circle cx="147.7" cy="136.3" r="1.2"/><circle cx="168.8" cy="133.6" r="1.6"/><circle cx="152.6" cy="153.9" r="1.6"/><circle cx="171.5" cy="102.6" r="1.6"/><circle cx="157.6" cy="147.9" r=".9"/><circle cx="147.3" cy="144.1" r="1.5"/><circle cx="161.9" cy="126" r="1.2"/><circle cx="152.1" cy="140.8" r="1"/><circle cx="155.7" cy="118.2" r="1.4"/><circle cx="166.1" cy="123.7" r="1.2"/><circle cx="163.6" cy="150.9" r="1.7"/><circle cx="155.6" cy="160.7" r="1.8"/><circle cx="163.1" cy="116.7" r="1.3"/><circle cx="169.7" cy="121.7" r="1"/><circle cx="164.9" cy="106.9" r="1.7"/><circle cx="162.2" cy="136.8" r="1"/><circle cx="174" cy="103.4" r="1.4"/><circle cx="169.6" cy="137.8" r="1.1"/><circle cx="156.3" cy="148.9" r="1.2"/><circle cx="163" cy="135.4" r="1.2"/><circle cx="174.2" cy="110.5" r="1.6"/><circle cx="150.6" cy="150.5" r="1.9"/><circle cx="171.2" cy="117.4" r="1.9"/><circle cx="172.3" cy="140.3" r="2"/><circle cx="161.8" cy="95.3" r="1.5"/><circle cx="160.8" cy="101.8" r="1.9"/><circle cx="161.4" cy="148.6" r="1.7"/><circle cx="150.7" cy="125.2" r="1.1"/><circle cx="152.8" cy="117.9" r="1.2"/><circle cx="146.8" cy="148.1" r="1.3"/><circle cx="151.7" cy="160.9" r="1.6"/><circle cx="169.1" cy="123.7" r="2"/><circle cx="173.1" cy="114.4" r="1.8"/><circle cx="154.9" cy="160.4" r="1.8"/><circle cx="172.8" cy="118.9" r="1.7"/><circle cx="171.3" cy="124.8" r="1.5"/><circle cx="145.1" cy="146.9" r="1.8"/><circle cx="147.4" cy="149.5" r="1.7"/><circle cx="162.5" cy="136" r="1.5"/><circle cx="169.6" cy="126.9" r="1"/><circle cx="170.4" cy="120" r="1.1"/><circle cx="170.9" cy="113.1" r="1.9"/><circle cx="162.1" cy="130.7" r="1.3"/><circle cx="175.3" cy="132.9" r="1.4"/><circle cx="154.4" cy="161.9" r="1"/><circle cx="175.2" cy="115.5" r="2"/><circle cx="159.7" cy="94.4" r="1.7"/><circle cx="164.5" cy="139.9" r="1.7"/><circle cx="164.6" cy="147.9" r="1.7"/><circle cx="149.4" cy="127" r="1.7"/><circle cx="152.8" cy="163" r="1.2"/><circle cx="161.1" cy="122" r="1.5"/><circle cx="155.1" cy="130" r="1.9"/><circle cx="172.5" cy="137.2" r="2"/><circle cx="169.4" cy="118.5" r="1.8"/><circle cx="147.8" cy="134.8" r="1.7"/><circle cx="172.1" cy="117.4" r="1"/><circle cx="165.2" cy="108.5" r=".9"/><circle cx="152" cy="123.2" r="1.6"/><circle cx="150.1" cy="133.4" r="1"/><circle cx="148.6" cy="131.8" r="1.6"/><circle cx="165.5" cy="136.5" r="1.3"/><circle cx="154.9" cy="151.4" r="1.8"/><circle cx="161.2" cy="100.8" r="1"/><circle cx="155.7" cy="159.2" r="1.6"/><circle cx="159.4" cy="99.5" r="1.1"/><circle cx="162.1" cy="94.7" r="1.3"/><circle cx="175.4" cy="123.4" r="1.2"/><circle cx="160.2" cy="93.3" r="1.8"/><circle cx="172.2" cy="115.8" r="1.3"/><circle cx="148.9" cy="137.9" r="1.5"/><circle cx="165" cy="155.4" r="1.1"/><circle cx="156.4" cy="135" r="1.8"/><circle cx="169.9" cy="126" r="1.4"/><circle cx="167.1" cy="106.3" r="1.9"/><circle cx="161.4" cy="146.5" r="1"/><circle cx="173.5" cy="142.3" r=".9"/><circle cx="158.3" cy="158.9" r="1.4"/><circle cx="169.2" cy="124.3" r="1.7"/><circle cx="167.4" cy="101" r="1"/><circle cx="163.9" cy="95.1" r="1.8"/><circle cx="160.1" cy="144.6" r="1.1"/><circle cx="172.8" cy="110.1" r="1.4"/><circle cx="167.6" cy="94.4" r="1.5"/><circle cx="150.9" cy="136.8" r="1.9"/><circle cx="159" cy="116.8" r="1.1"/><circle cx="154.2" cy="149.8" r="1.4"/><circle cx="168.5" cy="100.5" r="1.6"/><circle cx="170.5" cy="148.2" r="1"/><circle cx="177.4" cy="129.5" r="1.5"/><circle cx="163.8" cy="132.5" r="1"/><circle cx="170.8" cy="127.6" r="1.4"/><circle cx="151.9" cy="148.6" r="1.1"/><circle cx="166.9" cy="115" r="1.2"/><circle cx="159.9" cy="153.1" r=".9"/><circle cx="157" cy="128" r="1.9"/><circle cx="155.3" cy="113.6" r="1.9"/><circle cx="163.2" cy="128.3" r="1"/></g><g fill="#a57dc6" opacity="0.8"><circle cx="154.9" cy="133" r="1.4"/><circle cx="160.4" cy="96.6" r="1.4"/><circle cx="146.1" cy="150.8" r="1"/><circle cx="168.2" cy="146.5" r="1.4"/><circle cx="177.2" cy="124.9" r="1.7"/><circle cx="165.1" cy="126.6" r="1.9"/><circle cx="164.1" cy="100.6" r="1.9"/><circle cx="162.8" cy="113.1" r="1"/><circle cx="168" cy="111.8" r="1.4"/><circle cx="150.3" cy="142.9" r="1.8"/><circle cx="162.2" cy="124" r="1.8"/><circle cx="157" cy="109.3" r="1"/><circle cx="162.8" cy="138.9" r="1.9"/><circle cx="170.3" cy="130" r="1.1"/><circle cx="169.8" cy="95.4" r="1.6"/><circle cx="170.1" cy="130.3" r="1.8"/><circle cx="158.1" cy="140.6" r="1.2"/><circle cx="168.9" cy="124.7" r="1.1"/><circle cx="163.8" cy="131" r="1.6"/><circle cx="174.7" cy="107.7" r="1.2"/><circle cx="162.7" cy="98.8" r="1.9"/><circle cx="165" cy="146.6" r="1.8"/><circle cx="165.8" cy="100.3" r="1.4"/><circle cx="151" cy="150.6" r="1.7"/><circle cx="165.5" cy="98.1" r="1.3"/><circle cx="165.4" cy="150.2" r="1.7"/><circle cx="155.4" cy="120.7" r="1.6"/><circle cx="145.1" cy="152.6" r=".9"/><circle cx="162.1" cy="148.2" r="1.6"/><circle cx="149.7" cy="154.3" r="1.8"/><circle cx="162.5" cy="108.6" r="1.1"/><circle cx="150.9" cy="157.6" r="1.7"/><circle cx="160" cy="157" r=".9"/><circle cx="147.4" cy="158.2" r="1"/><circle cx="149.7" cy="154.3" r="1.9"/><circle cx="167" cy="121.7" r="1.1"/><circle cx="156.9" cy="113.4" r="1.2"/><circle cx="170.4" cy="143" r="1.9"/><circle cx="153.1" cy="151.3" r="1"/><circle cx="168.5" cy="145.1" r="1.2"/><circle cx="165.7" cy="94.8" r="1.4"/><circle cx="161.8" cy="93.9" r="1.3"/><circle cx="176" cy="122.3" r="1.6"/><circle cx="163.3" cy="158.9" r="1.8"/><circle cx="157.5" cy="117.7" r=".9"/><circle cx="148" cy="149.3" r="1.3"/><circle cx="158.8" cy="120.1" r="1"/><circle cx="157.7" cy="143.4" r="1.1"/><circle cx="155.8" cy="116.5" r="1.5"/><circle cx="162.8" cy="104.9" r="1.4"/><circle cx="162.9" cy="138.3" r="2"/><circle cx="157.4" cy="133.7" r="1.5"/><circle cx="160.7" cy="102.6" r="1.7"/><circle cx="176.9" cy="127.3" r="1.5"/><circle cx="167.3" cy="112.5" r="1.6"/><circle cx="164.7" cy="132.9" r="1.7"/><circle cx="172.6" cy="144.5" r="1.7"/><circle cx="161.9" cy="142.3" r="1.1"/><circle cx="148.5" cy="145.2" r="1.8"/><circle cx="156.8" cy="139.8" r="1.5"/><circle cx="163.4" cy="140" r="1.4"/><circle cx="155.3" cy="107.7" r="1.8"/><circle cx="164.7" cy="156.5" r="1.2"/><circle cx="165.2" cy="98.4" r="1.1"/><circle cx="166.7" cy="105.3" r="1.7"/><circle cx="151" cy="163.3" r="1.6"/><circle cx="153.7" cy="147.4" r="1.2"/><circle cx="166.9" cy="145.7" r="1.1"/><circle cx="152" cy="133.3" r="1.6"/><circle cx="175.4" cy="114.8" r="1.6"/><circle cx="163.5" cy="121.4" r="1.2"/><circle cx="158.2" cy="114.3" r="1.1"/><circle cx="166" cy="115.4" r="1"/><circle cx="159.1" cy="126.5" r="1.7"/><circle cx="172.7" cy="123.5" r="1.5"/><circle cx="147.4" cy="139.6" r="1.5"/><circle cx="167.8" cy="140.8" r="1.5"/><circle cx="159.2" cy="124.5" r="1"/><circle cx="171.6" cy="124.6" r="1.9"/><circle cx="170.4" cy="121.1" r=".9"/><circle cx="158" cy="116.9" r="1.1"/><circle cx="159.8" cy="104.3" r=".9"/><circle cx="161.1" cy="109.9" r="1.4"/><circle cx="149.4" cy="140.1" r="1.5"/><circle cx="167.9" cy="99.6" r="1.8"/><circle cx="171.6" cy="128.7" r="1.2"/><circle cx="155.5" cy="142.2" r="1.3"/><circle cx="169.2" cy="93.8" r="1.1"/><circle cx="159.2" cy="143.4" r="1"/><circle cx="165.6" cy="131.1" r="1.6"/><circle cx="155.3" cy="151.6" r="1.6"/><circle cx="160.3" cy="97.4" r="1.6"/><circle cx="152.2" cy="161.3" r="1.4"/><circle cx="161.3" cy="128.4" r="1.4"/><circle cx="154.6" cy="117.2" r="1.5"/><circle cx="166.9" cy="122.5" r="1.8"/><circle cx="151.8" cy="164" r="1.2"/><circle cx="153.2" cy="163.5" r="1.3"/><circle cx="166.4" cy="140.1" r="1"/><circle cx="163.6" cy="129.4" r=".9"/><circle cx="167.2" cy="99.5" r="1.4"/><circle cx="167.1" cy="92.8" r="1.2"/><circle cx="174.1" cy="101.7" r="1.7"/><circle cx="163" cy="103.9" r="1.5"/><circle cx="170.6" cy="146.1" r="2"/><circle cx="166.1" cy="117.1" r="1.1"/><circle cx="174" cy="132.8" r="2"/><circle cx="177" cy="119.5" r="1.1"/><circle cx="168.1" cy="125.5" r="1.4"/><circle cx="153.4" cy="142.5" r="1.3"/><circle cx="158.4" cy="158.2" r="1.9"/><circle cx="175.4" cy="126.6" r="1.3"/><circle cx="155.8" cy="111.6" r="1.8"/><circle cx="169.3" cy="136.2" r="1.9"/><circle cx="158.1" cy="129.3" r="1.3"/><circle cx="161.2" cy="120.5" r="1.3"/><circle cx="149.3" cy="137.1" r="1.9"/><circle cx="151" cy="142.1" r="1.1"/><circle cx="165.3" cy="118.7" r="2"/><circle cx="177.5" cy="111.4" r="1.7"/><circle cx="158.4" cy="145" r="1.2"/><circle cx="172" cy="127.7" r="1.9"/><circle cx="167.9" cy="102.3" r="1.1"/><circle cx="152.4" cy="157.4" r="1.2"/><circle cx="158" cy="120" r="1"/><circle cx="158.9" cy="110.1" r=".9"/><circle cx="154.7" cy="112" r="1.2"/><circle cx="175.5" cy="109.3" r="1.5"/></g>
<g fill="#ffffff" opacity="0.9"><circle cx="156.1" cy="137.8" r=".4"/><circle cx="159.9" cy="115.6" r=".4"/><circle cx="167" cy="158.4" r=".4"/><circle cx="136.8" cy="158" r=".5"/><circle cx="184.6" cy="113.8" r=".7"/><circle cx="139.9" cy="168" r=".7"/><circle cx="178.4" cy="149.3" r=".7"/><circle cx="152.7" cy="129.9" r=".7"/><circle cx="195" cy="88.7" r=".8"/><circle cx="138.5" cy="167.3" r=".7"/><circle cx="161.4" cy="107.7" r=".3"/><circle cx="195.5" cy="96.8" r=".3"/><circle cx="171" cy="142.3" r=".8"/><circle cx="180.8" cy="124.9" r=".7"/><circle cx="170.1" cy="161.9" r=".4"/><circle cx="161.1" cy="103.4" r=".5"/><circle cx="162.3" cy="123.8" r=".5"/><circle cx="181.3" cy="93.2" r=".7"/><circle cx="140.8" cy="136" r=".5"/><circle cx="186.8" cy="106.5" r=".4"/><circle cx="160.9" cy="133.1" r=".3"/><circle cx="185.7" cy="119.5" r=".5"/><circle cx="194.7" cy="100.8" r=".6"/><circle cx="154.2" cy="128.6" r=".4"/><circle cx="175.8" cy="137.6" r=".6"/><circle cx="192" cy="87.8" r=".8"/><circle cx="178.7" cy="155.5" r=".6"/><circle cx="170.6" cy="99.9" r=".6"/><circle cx="181.2" cy="115.1" r=".8"/><circle cx="175.5" cy="152.9" r=".5"/><circle cx="168.3" cy="97.8" r=".3"/><circle cx="185.8" cy="131.3" r=".3"/><circle cx="147" cy="140.5" r=".4"/><circle cx="146.1" cy="133.1" r=".6"/><circle cx="192.1" cy="129.5" r=".4"/><circle cx="173.2" cy="133.2" r=".7"/><circle cx="154.7" cy="119.7" r=".5"/><circle cx="168" cy="88.3" r=".8"/><circle cx="192.7" cy="124.4" r=".3"/><circle cx="186.3" cy="120.1" r=".7"/><circle cx="140.2" cy="147.6" r=".4"/><circle cx="175.7" cy="90.8" r=".4"/><circle cx="174" cy="142.2" r=".7"/><circle cx="163.2" cy="103.2" r=".4"/><circle cx="150.2" cy="142.5" r=".5"/><circle cx="190.6" cy="117.4" r=".6"/><circle cx="182.9" cy="89.1" r=".5"/><circle cx="149.9" cy="145" r=".6"/><circle cx="187.8" cy="122.8" r=".6"/><circle cx="148" cy="148.6" r=".7"/><circle cx="152.3" cy="163.3" r=".3"/><circle cx="164.4" cy="144.5" r=".8"/><circle cx="162.2" cy="114.7" r=".5"/><circle cx="172.9" cy="162" r=".3"/><circle cx="137.4" cy="146.7" r=".3"/><circle cx="190.7" cy="94.3" r=".3"/><circle cx="187.3" cy="136" r=".6"/><circle cx="155.4" cy="129.1" r=".3"/><circle cx="139.7" cy="154.4" r=".3"/></g><g fill="#f6f2f8" opacity="0.9"><circle cx="153.2" cy="112.1" r=".7"/><circle cx="179.5" cy="93.7" r=".4"/><circle cx="158.2" cy="161.8" r=".8"/><circle cx="140.5" cy="140.4" r=".8"/><circle cx="136.4" cy="154.3" r=".4"/><circle cx="191.5" cy="92.4" r=".5"/><circle cx="175.4" cy="88.7" r=".8"/><circle cx="158.9" cy="153.8" r=".7"/><circle cx="160.2" cy="123" r=".6"/><circle cx="168.5" cy="120.7" r=".7"/><circle cx="181.3" cy="139" r=".6"/><circle cx="149.8" cy="136.7" r=".4"/><circle cx="145.9" cy="138.2" r=".3"/><circle cx="185.1" cy="91.1" r=".7"/><circle cx="141.3" cy="167.3" r=".5"/><circle cx="170.6" cy="156.5" r=".4"/><circle cx="183.3" cy="141.6" r=".7"/><circle cx="174" cy="152.8" r=".6"/><circle cx="143.4" cy="148.4" r=".7"/><circle cx="194.2" cy="108.1" r=".4"/><circle cx="150.8" cy="147.4" r=".5"/><circle cx="177.3" cy="106" r=".6"/><circle cx="172.5" cy="98.7" r=".5"/><circle cx="185.1" cy="139.9" r=".5"/><circle cx="151.7" cy="110.5" r=".5"/><circle cx="187.4" cy="107.7" r=".7"/><circle cx="185.7" cy="134.5" r=".7"/><circle cx="179.3" cy="106.3" r=".4"/><circle cx="162.5" cy="101" r=".7"/><circle cx="185.8" cy="107.4" r=".6"/><circle cx="148.2" cy="147.1" r=".7"/><circle cx="147.4" cy="145.6" r=".8"/><circle cx="165.7" cy="136.5" r=".6"/><circle cx="154.2" cy="161.8" r=".7"/><circle cx="159.4" cy="147.1" r=".8"/><circle cx="173.8" cy="86.8" r=".5"/><circle cx="147.9" cy="162.2" r=".5"/><circle cx="194.1" cy="109.5" r=".4"/><circle cx="149.1" cy="127.6" r=".4"/><circle cx="150.5" cy="117.5" r=".5"/><circle cx="173.6" cy="134.2" r=".5"/><circle cx="171.4" cy="159.3" r=".7"/><circle cx="196.6" cy="91.5" r=".7"/><circle cx="179.3" cy="109.7" r=".4"/><circle cx="183.9" cy="131.3" r=".5"/><circle cx="181.1" cy="134.2" r=".3"/><circle cx="158.2" cy="101.1" r=".4"/><circle cx="168.7" cy="100.5" r=".7"/><circle cx="172.2" cy="156" r=".5"/><circle cx="156.1" cy="154.5" r=".3"/><circle cx="161.3" cy="127" r=".6"/><circle cx="178.8" cy="152.6" r=".6"/><circle cx="163" cy="166.3" r=".3"/><circle cx="162.3" cy="93.8" r=".4"/><circle cx="150.6" cy="147.9" r=".7"/><circle cx="161.2" cy="163.7" r=".7"/><circle cx="168.8" cy="153.7" r=".7"/><circle cx="167.6" cy="115.4" r=".6"/><circle cx="181.7" cy="133.9" r=".6"/><circle cx="176.4" cy="103.5" r=".8"/><circle cx="153" cy="105" r=".6"/><circle cx="163.8" cy="142.5" r=".5"/><circle cx="192.8" cy="95" r=".6"/><circle cx="184.1" cy="128.3" r=".5"/><circle cx="167.9" cy="105.3" r=".6"/><circle cx="150.2" cy="110.5" r=".7"/><circle cx="155" cy="166.6" r=".8"/><circle cx="170.7" cy="133.1" r=".5"/><circle cx="184" cy="93.1" r=".7"/><circle cx="161.6" cy="117.7" r=".4"/><circle cx="154" cy="134.7" r=".8"/><circle cx="157.2" cy="167.8" r=".6"/><circle cx="151" cy="110.7" r=".5"/><circle cx="176.7" cy="132" r=".4"/><circle cx="160.9" cy="107.2" r=".4"/><circle cx="150.4" cy="153.5" r=".5"/><circle cx="175.2" cy="161.3" r=".6"/><circle cx="155.1" cy="153" r=".5"/><circle cx="175.3" cy="128.8" r=".8"/><circle cx="145.3" cy="148.5" r=".6"/><circle cx="186.3" cy="127.3" r=".4"/></g>
<path d="M156.5,96 L161,94 L163,100 L159,103 Z" fill="#f2eff4"/>
<path d="M166.5,118 L168.5,114 L169.5,115 L164,135 L163,134 Z" fill="#f2eff4"/>
</g>
<rect x="127" y="78" width="23.3" height="3.3" fill="#000" stroke="none" stroke-width="1"/>
<rect x="125.1" y="163.3" width="23.2" height="3.2" fill="#000" stroke="none" stroke-width="1"/>
<g clip-path="url(#cr0)">
<rect x="206.6" y="0.9" width="84" height="83.5" fill="#a98dc8" stroke="none" stroke-width="1"/>
<ellipse cx="220.5" cy="58.5" rx="11.1" ry="2.2" transform="rotate(55 220.5 58.5)" fill="#d6aed8" opacity="0.6"/>
<ellipse cx="289.7" cy="40.5" rx="13.7" ry="1.8" transform="rotate(135 289.7 40.5)" fill="#d6aed8" opacity="0.6"/>
<ellipse cx="226.4" cy="1.2" rx="9" ry="2.4" transform="rotate(17 226.4 1.2)" fill="#d6aed8" opacity="0.6"/>
<ellipse cx="218.8" cy="63.6" rx="13.4" ry="2.5" transform="rotate(111 218.8 63.6)" fill="#d6aed8" opacity="0.6"/>
<ellipse cx="290.4" cy="62.6" rx="13" ry="2.4" transform="rotate(8 290.4 62.6)" fill="#d6aed8" opacity="0.6"/>
<ellipse cx="287" cy="46" rx="11.6" ry="2.5" transform="rotate(94 287 46)" fill="#d6aed8" opacity="0.6"/>
<g filter="url(#soft2)">
<g fill="#7d5db8" opacity="0.8"><circle cx="207.6" cy="63.3" r=".8"/><circle cx="219.3" cy="61.1" r="1.4"/><circle cx="284.5" cy="13.8" r="1.3"/><circle cx="217.5" cy="50.2" r=".8"/><circle cx="266.7" cy="74.6" r="1.3"/><circle cx="225.2" cy="78.1" r="1.2"/><circle cx="260.8" cy="58.2" r=".9"/><circle cx="289.3" cy="16.2" r="1"/><circle cx="283.5" cy="58" r=".9"/><circle cx="284.1" cy="14.7" r=".9"/><circle cx="245.3" cy="33.2" r="1.2"/><circle cx="257.1" cy="8.1" r=".9"/><circle cx="283.8" cy="52.6" r=".7"/><circle cx="250.4" cy="61.6" r=".7"/><circle cx="232.6" cy="22.3" r="1"/><circle cx="248.8" cy="7.3" r="1.2"/><circle cx="236.4" cy="42.5" r=".9"/><circle cx="270.6" cy="6.8" r="1.3"/><circle cx="258.6" cy="19.1" r=".7"/><circle cx="218.9" cy=".7" r="1.2"/><circle cx="243.1" cy="58.4" r=".9"/><circle cx="228.4" cy="80" r=".9"/><circle cx="226.8" cy="40.1" r="1.2"/><circle cx="272.8" cy="26.4" r="1.2"/><circle cx="252" cy="36" r="1.4"/><circle cx="266.9" cy="45.4" r=".8"/><circle cx="225" cy="22.4" r="1"/><circle cx="225.5" cy="54.7" r="1.2"/><circle cx="231.4" cy="81.2" r="1.3"/><circle cx="276.4" cy="35.4" r="1"/><circle cx="217.4" cy="84.3" r=".9"/><circle cx="279.9" cy="5.3" r="1.4"/><circle cx="278.1" cy="13" r="1.4"/><circle cx="277.5" cy="48.7" r=".8"/><circle cx="245.8" cy="66.6" r="1.2"/><circle cx="240.4" cy="74.5" r=".9"/><circle cx="220.7" cy="61.5" r="1"/><circle cx="239.4" cy="27.4" r=".7"/><circle cx="218.5" cy="40.2" r="1"/><circle cx="289.1" cy="59" r="1.3"/><circle cx="277.6" cy="59.4" r="1.3"/><circle cx="214.8" cy="77.5" r=".9"/><circle cx="208.7" cy="19.3" r="1.4"/><circle cx="220.3" cy="77.8" r="1.1"/><circle cx="277.2" cy="6.7" r="1.3"/><circle cx="274.4" cy="44.9" r="1.2"/><circle cx="231.8" cy="-0" r="1.3"/><circle cx="215" cy="5.7" r="1.1"/><circle cx="207.2" cy="65.8" r="1.2"/><circle cx="218.8" cy="82.4" r="1.1"/><circle cx="279.8" cy="43.6" r="1.2"/><circle cx="213.6" cy="48.6" r="1.1"/><circle cx="216.8" cy="9.4" r="1.1"/><circle cx="277.1" cy="64.8" r="1"/><circle cx="279" cy="59.9" r=".9"/><circle cx="291" cy="27.8" r="1.3"/><circle cx="251" cy="6.9" r="1"/><circle cx="258.7" cy="44.6" r="1.2"/><circle cx="222.9" cy="57.1" r=".8"/><circle cx="209.8" cy="67.3" r="1.1"/><circle cx="284.3" cy="41.3" r="1"/><circle cx="249.2" cy="1.4" r="1.3"/><circle cx="270.3" cy="63.2" r=".8"/><circle cx="288.9" cy="54.5" r="1.1"/><circle cx="207.3" cy="60.6" r=".9"/><circle cx="274.5" cy="73.1" r="1.2"/><circle cx="218.8" cy="3.4" r=".8"/><circle cx="273.8" cy="49.4" r=".9"/><circle cx="290.6" cy="30.3" r=".9"/><circle cx="273.4" cy="70.3" r="1"/><circle cx="281.8" cy="39.8" r="1.3"/><circle cx="234.2" cy="23.2" r="1.3"/><circle cx="229.7" cy="21.3" r="1.1"/><circle cx="269.5" cy="12.3" r="1"/><circle cx="257" cy="83.2" r=".8"/><circle cx="232.6" cy="41.4" r="1.2"/><circle cx="280.5" cy="24" r="1.3"/><circle cx="280.3" cy="44.4" r="1"/><circle cx="290.9" cy="58.8" r=".8"/><circle cx="211.9" cy="21.6" r=".7"/><circle cx="239.9" cy="73.3" r="1.2"/><circle cx="274.8" cy="79.7" r=".7"/><circle cx="257.4" cy="53.2" r=".7"/><circle cx="269.4" cy="81.8" r="1.2"/><circle cx="242.7" cy="6.2" r=".9"/><circle cx="257.6" cy="51.6" r=".9"/><circle cx="214.3" cy="70.7" r=".9"/><circle cx="258.2" cy="78.9" r="1.2"/><circle cx="282.5" cy="12.7" r="1"/><circle cx="231.6" cy="23.9" r="1.2"/><circle cx="217" cy="70.7" r="1"/><circle cx="277.3" cy="58.5" r="1.3"/><circle cx="210" cy="16.5" r="1.4"/><circle cx="241.5" cy="15.1" r=".8"/></g><g fill="#8a68bf" opacity="0.6"><circle cx="219.5" cy="62.2" r="1"/><circle cx="247.8" cy="32" r=".9"/><circle cx="250.1" cy="33.2" r="1"/><circle cx="232.4" cy="33.3" r=".8"/><circle cx="249.9" cy="80.7" r="1.4"/><circle cx="238.7" cy="23.2" r=".8"/><circle cx="244.3" cy="84.6" r="1.4"/><circle cx="277.9" cy="26.3" r="1"/><circle cx="262.2" cy="6.1" r="1"/><circle cx="287.6" cy="36.1" r=".9"/><circle cx="248.8" cy="62.1" r="1.2"/><circle cx="264.3" cy="25.2" r=".9"/><circle cx="224.1" cy="4" r=".8"/><circle cx="265.8" cy="17.7" r=".7"/><circle cx="289.2" cy="18.5" r="1.4"/><circle cx="248.1" cy="25.9" r=".9"/><circle cx="242.2" cy="17" r=".7"/><circle cx="219.4" cy="7.7" r="1.3"/><circle cx="207.8" cy="68.6" r=".8"/><circle cx="278.4" cy="53.1" r=".8"/><circle cx="288.6" cy="78.4" r="1"/><circle cx="251.5" cy="4.3" r=".8"/><circle cx="259.7" cy="73.2" r="1.1"/><circle cx="210.5" cy="58" r="1.4"/><circle cx="287.9" cy="72.4" r="1.1"/><circle cx="241.4" cy="19.3" r=".9"/><circle cx="208.6" cy="41.2" r="1"/><circle cx="215.9" cy="38.1" r="1.1"/><circle cx="243.7" cy="11.4" r=".9"/><circle cx="224.6" cy="5.6" r=".7"/><circle cx="275.1" cy="34.5" r="1"/><circle cx="219" cy="5.8" r="1"/><circle cx="286.2" cy="8.7" r="1.1"/><circle cx="244.4" cy="11" r="1.1"/><circle cx="290.7" cy="57.2" r="1.4"/><circle cx="274.7" cy="40.4" r=".7"/><circle cx="266.7" cy="57.4" r="1.1"/><circle cx="288.9" cy="44" r="1.2"/><circle cx="290.4" cy="3.9" r="1.3"/><circle cx="283.8" cy="6" r="1.4"/><circle cx="238.7" cy="45.9" r="1.2"/><circle cx="247.9" cy="26.2" r="1.4"/><circle cx="244.8" cy="23.4" r="1"/><circle cx="226.9" cy="19.3" r=".8"/><circle cx="277.4" cy="43.3" r="1"/><circle cx="278.9" cy="3.1" r="1.4"/><circle cx="272.8" cy="28.4" r=".9"/><circle cx="267.1" cy="16.7" r=".8"/><circle cx="209.6" cy="34.4" r="1.3"/><circle cx="253.2" cy="39.2" r="1.3"/><circle cx="290.7" cy="21.4" r="1.1"/><circle cx="258.9" cy="2.8" r="1.1"/><circle cx="265.6" cy="71" r=".9"/><circle cx="242.4" cy="14.2" r=".8"/><circle cx="212.3" cy="30.6" r="1.4"/><circle cx="256.9" cy="5.6" r=".9"/><circle cx="229.5" cy="71.8" r="1.4"/><circle cx="218.1" cy="62.2" r="1.2"/><circle cx="290" cy="39.7" r="1.4"/><circle cx="262.7" cy="9.3" r="1"/><circle cx="260.9" cy="60.2" r="1.1"/><circle cx="261.6" cy="9.4" r=".7"/><circle cx="283.8" cy="57" r="1.1"/><circle cx="210.5" cy="38.3" r=".9"/><circle cx="210" cy="61.8" r=".7"/><circle cx="289.6" cy="48.7" r="1.2"/><circle cx="272.1" cy="82.6" r="1.1"/><circle cx="237.3" cy="68.7" r="1.4"/><circle cx="223.6" cy="4.3" r="1.4"/><circle cx="223.1" cy="63.2" r="1.4"/><circle cx="217.7" cy="57.9" r="1.3"/><circle cx="260.6" cy="9.9" r=".8"/><circle cx="286.9" cy="67.2" r="1"/><circle cx="283.6" cy="61.8" r="1.2"/><circle cx="260.3" cy="3.4" r="1.2"/><circle cx="229.9" cy="54.2" r="1.2"/><circle cx="238.8" cy="23.2" r=".8"/><circle cx="245" cy="69" r=".7"/><circle cx="271.8" cy="52.2" r="1"/><circle cx="254.4" cy="75.1" r=".9"/><circle cx="243.3" cy="18.7" r="1"/><circle cx="254.8" cy="83" r=".9"/><circle cx="228.1" cy="17" r="1.3"/><circle cx="283" cy="70.2" r="1"/><circle cx="263.3" cy="64.3" r=".9"/><circle cx="215.1" cy="10.6" r="1.4"/><circle cx="234.7" cy="37.4" r="1.3"/><circle cx="211.7" cy="12" r="1.2"/><circle cx="241" cy="26" r=".7"/><circle cx="219.7" cy="34.3" r="1"/><circle cx="284" cy="54.5" r=".8"/><circle cx="223" cy="66.8" r="1.3"/><circle cx="227.6" cy="3.8" r="1.3"/><circle cx="260.4" cy="80.9" r="1.4"/><circle cx="244.3" cy="31.2" r=".9"/><circle cx="272.4" cy="45.7" r="1.1"/><circle cx="288.8" cy=".3" r="1"/></g><g fill="#7d5db8" opacity="0.6"><circle cx="262.8" cy="40.1" r="1.3"/><circle cx="223.5" cy="82.7" r="1.4"/><circle cx="238.8" cy="85" r="1"/><circle cx="235.4" cy="51" r=".9"/><circle cx="225.7" cy="82.3" r="1.2"/><circle cx="236.1" cy="27.1" r="1.4"/><circle cx="264.1" cy="55.7" r=".8"/><circle cx="259.3" cy="72.3" r=".9"/><circle cx="251.6" cy="9.8" r="1"/><circle cx="264" cy="65.9" r="1.2"/><circle cx="273.9" cy="52.3" r="1.3"/><circle cx="271.2" cy="4" r="1.2"/><circle cx="220.5" cy="50.8" r="1.2"/><circle cx="288.2" cy="32.1" r=".9"/><circle cx="227.9" cy="66.8" r=".8"/><circle cx="244" cy="67.8" r="1.3"/><circle cx="216.3" cy="33.5" r=".8"/><circle cx="215.8" cy="17.3" r="1.2"/><circle cx="270.8" cy="47" r=".9"/><circle cx="239.1" cy="43.2" r="1.4"/><circle cx="227" cy="30.1" r=".9"/><circle cx="262.3" cy="44.9" r=".9"/><circle cx="260.3" cy="42.2" r="1"/><circle cx="235.2" cy="29.2" r=".8"/><circle cx="255.9" cy="58" r=".8"/><circle cx="254.8" cy="63.1" r="1.3"/><circle cx="243.3" cy="59.9" r=".8"/><circle cx="268.5" cy="16.8" r="1.2"/><circle cx="251.9" cy="12.1" r=".9"/><circle cx="239.3" cy="63.9" r=".9"/><circle cx="261.1" cy="13.3" r="1.3"/><circle cx="238.6" cy="4.9" r="1.1"/><circle cx="222.6" cy="73.3" r="1.3"/><circle cx="253.6" cy="24.8" r=".9"/><circle cx="211.5" cy="74.7" r="1.4"/><circle cx="223.2" cy="62.7" r="1"/><circle cx="255.2" cy="41.3" r=".8"/><circle cx="279" cy="32.5" r="1"/><circle cx="222.1" cy="35.2" r="1"/><circle cx="269.8" cy="44" r="1"/><circle cx="233" cy="84.7" r=".7"/><circle cx="249.3" cy="11.2" r=".7"/><circle cx="232.8" cy="30.6" r=".9"/><circle cx="275.5" cy="72.1" r=".9"/><circle cx="227.6" cy="60.1" r="1.4"/><circle cx="219.9" cy="32.4" r="1.3"/><circle cx="291.5" cy="73.4" r="1.2"/><circle cx="210.9" cy="4.2" r=".7"/><circle cx="228.3" cy="16.4" r="1.2"/><circle cx="210.3" cy="34" r="1.4"/><circle cx="232" cy="15.2" r=".9"/><circle cx="283" cy="76.6" r=".8"/><circle cx="251" cy="23.9" r=".9"/><circle cx="269.4" cy="21.3" r="1.4"/><circle cx="208.5" cy="40.4" r="1.3"/><circle cx="242.4" cy="81.4" r="1.1"/><circle cx="259.3" cy="5" r=".9"/><circle cx="271.8" cy="17.5" r="1.2"/><circle cx="246.2" cy="20" r="1.4"/><circle cx="278.6" cy="82.9" r="1.1"/><circle cx="285.6" cy="14.2" r="1.2"/><circle cx="213.1" cy="64.4" r=".7"/><circle cx="283.6" cy="24.9" r="1.4"/><circle cx="211.9" cy="40.7" r="1"/><circle cx="276.7" cy="41.5" r="1.2"/><circle cx="261.7" cy="62.8" r="1.1"/><circle cx="249.6" cy="23.3" r=".7"/><circle cx="258.7" cy="8" r="1.2"/><circle cx="264.5" cy="66.2" r="1.2"/><circle cx="248.5" cy="24.4" r=".9"/><circle cx="233.8" cy="21.3" r="1.3"/><circle cx="251.7" cy="43.7" r="1.1"/><circle cx="208.4" cy="24.4" r="1.1"/><circle cx="235.6" cy="14.1" r="1.3"/><circle cx="285.8" cy="25.8" r="1.4"/></g><g fill="#6f52ad" opacity="0.6"><circle cx="253.8" cy="47.7" r="1"/><circle cx="211.2" cy="69.5" r="1.3"/><circle cx="277.6" cy="4.4" r=".9"/><circle cx="244" cy="11.9" r="1.4"/><circle cx="259.3" cy="64.7" r=".8"/><circle cx="259.5" cy="64.8" r="1.2"/><circle cx="288.5" cy="84.5" r=".7"/><circle cx="235.8" cy="53.7" r="1.4"/><circle cx="239.2" cy="80.4" r="1.4"/><circle cx="232.1" cy="54.1" r=".8"/><circle cx="250.5" cy=".7" r="1.3"/><circle cx="262.7" cy="56" r="1"/><circle cx="267.7" cy="2.3" r="1.1"/><circle cx="259.4" cy="26.6" r="1.2"/><circle cx="220.5" cy="62.5" r="1"/><circle cx="277.2" cy="41" r="1.1"/><circle cx="249.8" cy="15.3" r=".8"/><circle cx="270.2" cy="83.3" r="1.1"/><circle cx="244" cy="82.1" r=".8"/><circle cx="235.3" cy="31.9" r="1.1"/><circle cx="269.1" cy="29" r="1.1"/><circle cx="219.7" cy="45.2" r="1.1"/><circle cx="272.7" cy="72.4" r="1.4"/><circle cx="257.8" cy="1.9" r="1.4"/><circle cx="240.9" cy="70.6" r="1"/><circle cx="210.2" cy="16.3" r="1.2"/><circle cx="215.6" cy="75.8" r="1.2"/><circle cx="251.8" cy="85" r="1.3"/><circle cx="288.6" cy="14.6" r=".8"/><circle cx="255.5" cy="78" r="1.2"/><circle cx="283.8" cy="9.5" r="1.4"/><circle cx="252.2" cy="37.1" r="1"/><circle cx="273.7" cy="76.6" r="1"/><circle cx="283.4" cy="32.8" r="1.3"/><circle cx="245.4" cy="31.1" r="1.1"/><circle cx="275.5" cy="74.3" r=".9"/><circle cx="244.5" cy="66.6" r="1.3"/><circle cx="274.7" cy="80.3" r=".9"/><circle cx="291.1" cy="28.7" r="1"/><circle cx="254.1" cy="80.1" r=".8"/><circle cx="254.7" cy="62.7" r="1.2"/><circle cx="242.7" cy="74.4" r=".7"/><circle cx="266.8" cy="13" r="1.2"/><circle cx="262.5" cy="72.7" r=".9"/><circle cx="216.9" cy="21.1" r=".8"/><circle cx="290.4" cy="53.5" r=".7"/><circle cx="248.4" cy="28.2" r="1.4"/><circle cx="264.9" cy="47.8" r="1.4"/><circle cx="230" cy="28.6" r=".9"/><circle cx="235.4" cy="82.3" r=".9"/><circle cx="209.5" cy="23.6" r="1.2"/><circle cx="242.3" cy="82" r="1.3"/><circle cx="221.4" cy="57.6" r="1.3"/><circle cx="280.3" cy="68.1" r=".7"/><circle cx="215.8" cy="32.7" r=".8"/><circle cx="223.5" cy="9.4" r="1.1"/><circle cx="257.3" cy="53.9" r="1.4"/><circle cx="211.8" cy="66" r=".9"/><circle cx="216.3" cy="20.3" r=".8"/><circle cx="228.2" cy="34.9" r="1.1"/><circle cx="240.2" cy="45.8" r="1"/><circle cx="277" cy="75.7" r="1.1"/><circle cx="249.2" cy="54.8" r="1.3"/><circle cx="229.2" cy="16.3" r="1.1"/><circle cx="217.6" cy="69.8" r=".7"/><circle cx="207.6" cy="57.2" r="1.3"/><circle cx="206.7" cy="84" r="1.4"/><circle cx="255.6" cy="80.9" r="1.1"/><circle cx="281.5" cy="45.9" r=".8"/><circle cx="263.6" cy=".4" r="1"/><circle cx="207.2" cy="16.9" r="1.1"/><circle cx="235" cy="49.9" r="1.4"/><circle cx="290.8" cy="18.2" r=".9"/><circle cx="247.3" cy="9.6" r="1.1"/><circle cx="207.5" cy="46.3" r=".9"/><circle cx="258.1" cy="41.6" r=".9"/><circle cx="219.8" cy="19.2" r="1.4"/><circle cx="290.2" cy="59" r="1"/><circle cx="273.2" cy="10" r=".9"/><circle cx="238.8" cy="23.8" r="1.2"/><circle cx="205.8" cy="50" r="1"/><circle cx="230.6" cy="51.1" r=".8"/><circle cx="213.6" cy="59.8" r="1.3"/><circle cx="257.5" cy="68.8" r="1"/><circle cx="224.3" cy="38.8" r="1"/><circle cx="256.8" cy="76.6" r="1.3"/><circle cx="216.9" cy="52" r=".9"/><circle cx="269.1" cy="71.1" r="1.1"/><circle cx="242.6" cy="72.2" r="1.2"/><circle cx="238.3" cy="82.2" r="1"/><circle cx="229.9" cy="1.5" r="1.3"/><circle cx="235.8" cy="20.8" r="1.3"/><circle cx="245.3" cy="20.8" r=".8"/><circle cx="247.8" cy="75.1" r="1.2"/></g><g fill="#9878c6" opacity="0.9"><circle cx="281.9" cy="34.9" r="1"/><circle cx="261.6" cy="53.5" r="1.3"/><circle cx="209.8" cy="37" r=".9"/><circle cx="247" cy="42.5" r=".9"/><circle cx="212" cy="49.5" r="1"/><circle cx="219.9" cy="48.7" r="1.4"/><circle cx="225.1" cy="43.9" r=".9"/><circle cx="277.2" cy="39" r="1.1"/><circle cx="282.4" cy="70.3" r="1.4"/><circle cx="211.5" cy="77.8" r=".8"/><circle cx="263.3" cy="21.4" r="1.4"/><circle cx="215.5" cy="32.5" r="1.2"/><circle cx="220.1" cy="62.3" r=".7"/><circle cx="207.3" cy="76.4" r=".7"/><circle cx="287.4" cy="33" r="1.4"/><circle cx="246.4" cy="66.9" r=".9"/><circle cx="205.7" cy="68.1" r="1.2"/><circle cx="249.6" cy="83.3" r="1.3"/><circle cx="254.5" cy="66.9" r="1.2"/><circle cx="224.7" cy="4.3" r=".9"/><circle cx="217.9" cy="15.7" r="1"/><circle cx="226.7" cy="76.5" r=".9"/><circle cx="212.8" cy="53.4" r="1"/><circle cx="230.7" cy="46.9" r="1.4"/><circle cx="283.5" cy="54.1" r=".8"/><circle cx="257" cy="8" r="1"/><circle cx="232.7" cy="5.5" r="1"/><circle cx="212.9" cy="61.9" r="1.2"/><circle cx="290.9" cy="62.1" r="1.3"/><circle cx="236.9" cy="77.1" r="1"/><circle cx="264.1" cy="17" r="1.1"/><circle cx="279.8" cy="78.3" r="1"/><circle cx="221.6" cy="6.2" r=".9"/><circle cx="273" cy="78.8" r=".8"/><circle cx="233.3" cy="60.4" r="1.4"/><circle cx="281.6" cy="85.1" r=".9"/><circle cx="227.2" cy="34.8" r=".8"/><circle cx="272.6" cy="51.2" r="1.1"/><circle cx="254" cy="16" r="1.1"/><circle cx="288.6" cy="28" r="1.1"/><circle cx="275.4" cy="18.1" r="1"/><circle cx="272.3" cy="76.4" r="1.2"/><circle cx="251.2" cy="11.5" r="1.2"/><circle cx="276.9" cy="47.4" r="1"/><circle cx="217" cy="57.4" r="1.3"/><circle cx="270" cy="11.9" r=".8"/><circle cx="238.6" cy="61.5" r="1.4"/><circle cx="222.9" cy=".7" r="1.3"/><circle cx="247" cy="28.5" r="1"/><circle cx="275.2" cy="37.7" r=".9"/><circle cx="220.4" cy="77.5" r="1"/><circle cx="270.3" cy="55.7" r="1.1"/><circle cx="251.2" cy="26.4" r="1.4"/><circle cx="234.9" cy="61.3" r=".7"/><circle cx="235.2" cy="32.3" r=".8"/><circle cx="239.4" cy="2.6" r="1.2"/><circle cx="248.5" cy="9.3" r="1.4"/><circle cx="213.3" cy="74.6" r="1.3"/><circle cx="280.1" cy="9.2" r="1"/><circle cx="289.7" cy="69.3" r=".8"/><circle cx="222.1" cy="14.6" r=".9"/><circle cx="229.3" cy="59.6" r="1"/><circle cx="236.1" cy="73.9" r="1.3"/><circle cx="283" cy="51.6" r=".7"/><circle cx="208.2" cy="72.6" r="1.2"/><circle cx="271.2" cy="35" r=".9"/><circle cx="267.2" cy="55.9" r=".8"/><circle cx="267.3" cy="15.5" r="1.1"/><circle cx="247.7" cy="6.2" r="1"/><circle cx="232.1" cy="59.1" r="1.4"/><circle cx="274.3" cy="39" r="1.3"/><circle cx="260.9" cy="19" r=".8"/><circle cx="226.1" cy="8.1" r=".9"/><circle cx="281.9" cy="65.4" r=".8"/><circle cx="274.8" cy="29.6" r=".7"/><circle cx="284.7" cy="4.2" r="1.3"/><circle cx="269.6" cy="13.3" r=".7"/><circle cx="289.6" cy="32" r="1.1"/><circle cx="242.5" cy="8.7" r="1.4"/><circle cx="279.5" cy="40.3" r="1.2"/></g><g fill="#6f52ad" opacity="0.9"><circle cx="211.6" cy="51.1" r="1.1"/><circle cx="241.7" cy="14.5" r=".8"/><circle cx="264.5" cy="81.5" r=".7"/><circle cx="239" cy="26.4" r="1.4"/><circle cx="256.7" cy="27.6" r="1.1"/><circle cx="257.1" cy="30" r="1.2"/><circle cx="269.2" cy="63.3" r=".9"/><circle cx="208.7" cy="70.3" r="1.1"/><circle cx="208.4" cy="66.4" r="1.3"/><circle cx="248.4" cy="60.9" r=".9"/><circle cx="268.1" cy="32.7" r="1.3"/><circle cx="241.5" cy="76.1" r="1.2"/><circle cx="239.9" cy="56" r="1.3"/><circle cx="266.5" cy="22.6" r="1.1"/><circle cx="236.8" cy="67.3" r="1.3"/><circle cx="223.4" cy="70" r=".8"/><circle cx="208.4" cy="67" r=".9"/><circle cx="210.5" cy="27.6" r=".9"/><circle cx="220.8" cy="30.4" r="1"/><circle cx="237.1" cy="38.8" r="1.4"/><circle cx="253.7" cy="57.7" r="1.2"/><circle cx="282.3" cy="64.4" r=".9"/><circle cx="212.9" cy="28.6" r=".8"/><circle cx="240.6" cy="50" r=".9"/><circle cx="224.3" cy="5.9" r="1"/><circle cx="291.1" cy="3.5" r="1.2"/><circle cx="236.2" cy="18.4" r="1.2"/><circle cx="217.1" cy="61.5" r="1"/><circle cx="288.3" cy="47.4" r=".7"/><circle cx="210.5" cy="78" r=".7"/><circle cx="220.4" cy="74" r="1.1"/><circle cx="268" cy="39.5" r="1"/><circle cx="261.1" cy="7.9" r=".8"/><circle cx="245.7" cy="7.4" r="1.1"/><circle cx="212.8" cy="4.7" r=".9"/><circle cx="238.1" cy="41.1" r="1.3"/><circle cx="207.3" cy="41" r="1.3"/><circle cx="237.2" cy="54.8" r="1.1"/><circle cx="282.7" cy="26.4" r="1.3"/><circle cx="280.7" cy="37.2" r="1.1"/><circle cx="281.8" cy="47.9" r="1"/><circle cx="214.4" cy="32.9" r="1.2"/><circle cx="278.4" cy="79.3" r=".8"/><circle cx="226.7" cy="70.2" r="1.4"/><circle cx="228.9" cy="62.5" r="1.3"/><circle cx="227.8" cy="67.8" r=".8"/><circle cx="240.2" cy="71.9" r="1.3"/><circle cx="273.2" cy="70.4" r="1.4"/><circle cx="274.1" cy="37.7" r=".9"/><circle cx="265.4" cy=".3" r="1.4"/><circle cx="245.6" cy="54.4" r=".9"/><circle cx="258.5" cy="57.7" r="1.4"/><circle cx="290" cy="59.1" r="1.1"/><circle cx="278.9" cy="24.4" r="1.2"/><circle cx="233.1" cy="39.3" r=".8"/><circle cx="263.2" cy="76" r="1.3"/><circle cx="207.4" cy="4.5" r=".8"/><circle cx="240.5" cy="74.5" r="1.2"/><circle cx="259.4" cy="77" r="1.3"/><circle cx="267.2" cy="36.5" r=".8"/><circle cx="278" cy="2.9" r=".8"/><circle cx="256" cy="43.5" r="1"/><circle cx="208.8" cy="61.5" r=".8"/><circle cx="214.2" cy="24.2" r=".7"/><circle cx="209.8" cy="15" r="1.4"/><circle cx="237.2" cy="39.3" r="1.2"/><circle cx="273.9" cy="75.2" r="1"/><circle cx="214.5" cy="33.6" r="1.2"/><circle cx="261.9" cy="67.3" r="1.2"/><circle cx="206.3" cy="28.3" r="1.3"/><circle cx="252.1" cy="78.5" r="1.2"/><circle cx="214.2" cy="78.9" r="1"/><circle cx="244.3" cy="82.9" r=".9"/><circle cx="270.2" cy="44.8" r="1.2"/><circle cx="208.7" cy="22.4" r=".9"/></g><g fill="#6f52ad" opacity="0.8"><circle cx="289.9" cy="9.5" r="1.2"/><circle cx="242.3" cy="68.1" r="1"/><circle cx="290.8" cy="14.1" r="1"/><circle cx="225.6" cy="60.1" r="1.1"/><circle cx="260.3" cy="54.3" r="1"/><circle cx="272.2" cy="77" r="1.3"/><circle cx="218.9" cy="1.1" r=".9"/><circle cx="231.6" cy="27.1" r="1.4"/><circle cx="208.9" cy="54.7" r="1.3"/><circle cx="267.5" cy="45.3" r=".8"/><circle cx="229.7" cy="50.7" r="1.3"/><circle cx="249.5" cy="25.2" r="1"/><circle cx="271.6" cy="81.2" r="1.1"/><circle cx="206.1" cy="34.9" r="1.3"/><circle cx="253" cy="23.8" r=".8"/><circle cx="258.7" cy="15.3" r=".8"/><circle cx="242.8" cy="54.5" r=".8"/><circle cx="284.9" cy="54.2" r=".9"/><circle cx="232.6" cy="73.9" r=".8"/><circle cx="252.2" cy="71.6" r=".9"/><circle cx="264.9" cy="72.3" r=".9"/><circle cx="280.1" cy="61.7" r="1.2"/><circle cx="289.6" cy="30.8" r="1"/><circle cx="237.5" cy="51.3" r=".9"/><circle cx="208.6" cy="43.9" r="1.1"/><circle cx="208.5" cy="61.2" r="1"/><circle cx="270.1" cy="78.1" r="1.3"/><circle cx="210.8" cy="47.4" r="1.4"/><circle cx="236.6" cy="20.7" r="1"/><circle cx="223.6" cy="71.9" r=".9"/><circle cx="262.3" cy="70.9" r="1.4"/><circle cx="233.4" cy="58.2" r=".7"/><circle cx="216.4" cy="38.5" r="1"/><circle cx="231.3" cy="80.9" r="1"/><circle cx="266" cy="75.9" r=".8"/><circle cx="284.1" cy="76.1" r=".8"/><circle cx="219.2" cy="28.7" r=".9"/><circle cx="231" cy="31.9" r="1"/><circle cx="251.3" cy="1.9" r=".7"/><circle cx="235.3" cy="31.7" r="1.4"/><circle cx="208.7" cy="25.3" r="1"/><circle cx="206.6" cy="39.2" r=".8"/><circle cx="257.8" cy="60.6" r="1.3"/><circle cx="224.3" cy="69.1" r="1.2"/><circle cx="262.3" cy="75.8" r="1.3"/><circle cx="237" cy="68" r="1"/><circle cx="281.3" cy="34.2" r="1.3"/><circle cx="274.3" cy="77.2" r="1.4"/><circle cx="279.8" cy="53.9" r="1.3"/><circle cx="258.9" cy="50.1" r="1.3"/><circle cx="210.7" cy="81.2" r="1"/><circle cx="220.2" cy="44.4" r="1.2"/><circle cx="252.4" cy="71.5" r="1.4"/><circle cx="213.9" cy="68.4" r=".9"/><circle cx="212.7" cy="77.7" r="1.2"/><circle cx="205.8" cy="50.9" r="1.1"/><circle cx="242.1" cy="63.3" r="1.3"/><circle cx="212.6" cy="77.2" r="1.1"/><circle cx="232.4" cy="63.7" r="1.4"/><circle cx="225.9" cy="1" r="1"/><circle cx="284.2" cy="34.2" r=".7"/><circle cx="226.7" cy="22.6" r="1.3"/><circle cx="226.4" cy="2.1" r="1.3"/><circle cx="256.5" cy="51.7" r="1.3"/><circle cx="274.8" cy="19.5" r="1.4"/><circle cx="267" cy="63.5" r="1"/><circle cx="252" cy="69.6" r=".8"/><circle cx="259.2" cy="4.8" r=".8"/><circle cx="216.3" cy="1.6" r="1.1"/><circle cx="287.7" cy="42.8" r=".8"/><circle cx="243.4" cy="29" r=".7"/><circle cx="262" cy="9.4" r="1"/><circle cx="265.6" cy="84.2" r="1"/><circle cx="230.1" cy="1.2" r=".8"/><circle cx="278.4" cy="21.7" r=".8"/><circle cx="265.6" cy="33.3" r="1.1"/><circle cx="265.3" cy="16.8" r=".9"/><circle cx="218.1" cy="80.2" r="1.3"/><circle cx="279.1" cy="25.4" r="1.1"/><circle cx="218.8" cy="38.8" r="1.3"/><circle cx="256.1" cy="69" r="1.1"/><circle cx="249.2" cy="5.8" r="1.4"/><circle cx="291.6" cy="76.1" r=".9"/><circle cx="261" cy="40.6" r="1.4"/><circle cx="230.2" cy="75.5" r="1"/><circle cx="272.6" cy="69.7" r=".9"/><circle cx="216.8" cy="82.4" r=".9"/><circle cx="274.9" cy="8.6" r="1.1"/><circle cx="234.2" cy="37.6" r="1.1"/><circle cx="243.5" cy="3.1" r=".7"/><circle cx="253" cy="26.6" r=".9"/></g><g fill="#8a68bf" opacity="0.8"><circle cx="264.4" cy="57.7" r="1.4"/><circle cx="287.5" cy="76.8" r="1"/><circle cx="220.5" cy="31.8" r="1.2"/><circle cx="264" cy="57.7" r=".8"/><circle cx="211.4" cy="43.7" r="1.2"/><circle cx="271.6" cy="81.6" r="1.4"/><circle cx="217.6" cy="18.6" r=".8"/><circle cx="270.5" cy="54.3" r="1"/><circle cx="217.9" cy="31.4" r="1.4"/><circle cx="285.4" cy="3.4" r=".9"/><circle cx="247.6" cy="22.6" r="1.1"/><circle cx="251" cy="77.3" r=".8"/><circle cx="282.4" cy="76" r="1.4"/><circle cx="282.6" cy="48.6" r="1.3"/><circle cx="218" cy="22.2" r=".7"/><circle cx="212.4" cy="14.6" r="1"/><circle cx="261.1" cy="76.6" r="1.3"/><circle cx="225.4" cy="42.7" r="1.4"/><circle cx="230" cy="72.1" r=".8"/><circle cx="280.3" cy="10.9" r="1.2"/><circle cx="277.5" cy="52.9" r="1.2"/><circle cx="288.2" cy="80.4" r=".8"/><circle cx="280.2" cy="63.6" r=".9"/><circle cx="237.7" cy="48" r="1.2"/><circle cx="234.3" cy="81.5" r=".9"/><circle cx="254.3" cy="47.2" r=".9"/><circle cx="288.1" cy="27" r=".9"/><circle cx="247.1" cy="3.7" r=".9"/><circle cx="247.2" cy="69.7" r=".9"/><circle cx="239.1" cy="54.8" r=".8"/><circle cx="242.2" cy="79.2" r=".8"/><circle cx="277.4" cy="30" r="1.1"/><circle cx="217.7" cy="1.7" r="1.2"/><circle cx="254.7" cy="28.3" r="1"/><circle cx="226.3" cy="56.7" r=".7"/><circle cx="267.2" cy="7.5" r="1.4"/><circle cx="230.7" cy="55.2" r="1.2"/><circle cx="274.9" cy="24.6" r="1.1"/><circle cx="220.4" cy="55.1" r=".8"/><circle cx="225.8" cy="72.8" r=".8"/><circle cx="210.4" cy="49.3" r=".8"/><circle cx="234.3" cy="16" r=".9"/><circle cx="275.4" cy="70" r="1.3"/><circle cx="251.2" cy="27" r="1"/><circle cx="263.2" cy="70.4" r="1"/><circle cx="275.7" cy="12.3" r=".9"/><circle cx="252.1" cy="52.8" r="1"/><circle cx="288.1" cy="80.7" r=".8"/><circle cx="264.7" cy="35.8" r=".9"/><circle cx="270.7" cy="67.2" r="1.1"/><circle cx="259.7" cy="68.7" r="1.4"/><circle cx="224.7" cy="80.5" r="1.4"/><circle cx="214.3" cy="67.4" r=".7"/><circle cx="277.3" cy="26.9" r="1"/><circle cx="224.2" cy="82.4" r="1.4"/><circle cx="273.3" cy="59.9" r=".7"/><circle cx="220.5" cy="1.3" r=".9"/><circle cx="259.6" cy="31.8" r="1.2"/><circle cx="253.3" cy="2.9" r="1.2"/><circle cx="263.7" cy="66.1" r="1.3"/><circle cx="285.3" cy="10.2" r="1.1"/><circle cx="225.3" cy="46.9" r=".8"/><circle cx="213.2" cy="56.2" r="1.3"/><circle cx="218.3" cy="27.4" r="1.4"/><circle cx="258.8" cy="63.5" r=".8"/><circle cx="243.7" cy="74.2" r="1.4"/><circle cx="268.7" cy="55.5" r="1"/><circle cx="284.1" cy="7.2" r="1.3"/><circle cx="242.9" cy="16.5" r="1.3"/><circle cx="240.4" cy="1.2" r=".8"/><circle cx="226.3" cy="24.9" r="1"/><circle cx="240.2" cy="49" r=".7"/><circle cx="211.1" cy=".8" r="1.3"/><circle cx="209.8" cy="25.2" r=".8"/><circle cx="229.4" cy="73.3" r="1.3"/><circle cx="286.5" cy="45.7" r="1.3"/><circle cx="276" cy="50.3" r=".8"/></g><g fill="#9878c6" opacity="0.6"><circle cx="253.9" cy="37.5" r="1"/><circle cx="282.9" cy="84" r="1.3"/><circle cx="227.3" cy="81.9" r="1.1"/><circle cx="227.1" cy="81.6" r="1"/><circle cx="250.5" cy="52.9" r="1"/><circle cx="255" cy="70.3" r="1.1"/><circle cx="266.6" cy="42.1" r=".8"/><circle cx="261.2" cy="13.7" r="1.4"/><circle cx="224.7" cy="40.7" r=".7"/><circle cx="270.2" cy="32" r=".9"/><circle cx="273.5" cy="1.6" r="1.2"/><circle cx="208.6" cy="42.5" r="1.4"/><circle cx="218.4" cy="26.3" r=".8"/><circle cx="288.5" cy="21.2" r="1"/><circle cx="226.8" cy="85.1" r=".9"/><circle cx="262.7" cy="25.1" r=".8"/><circle cx="217.4" cy=".2" r=".8"/><circle cx="218.2" cy="80" r="1"/><circle cx="246.6" cy="7.1" r="1.2"/><circle cx="239.9" cy="82.7" r="1.4"/><circle cx="264.2" cy="13.5" r=".9"/><circle cx="206.4" cy="84.5" r="1"/><circle cx="267.9" cy="53.5" r="1.3"/><circle cx="243.2" cy="84.8" r="1.4"/><circle cx="236.5" cy="19.4" r="1.1"/><circle cx="266.9" cy="35.9" r="1.3"/><circle cx="286.6" cy="20.8" r="1.1"/><circle cx="213.3" cy="51.2" r=".7"/><circle cx="276.9" cy="22.9" r="1.1"/><circle cx="273.9" cy="10.1" r="1.4"/><circle cx="213" cy="70.2" r=".7"/><circle cx="251.2" cy="7.6" r="1.4"/><circle cx="217.5" cy="55.1" r="1.3"/><circle cx="218.9" cy="37.9" r="1.2"/><circle cx="221.1" cy="35.3" r="1.3"/><circle cx="268.6" cy="58.7" r="1.4"/><circle cx="224.8" cy="17.6" r="1"/><circle cx="258.4" cy="68.7" r="1.3"/><circle cx="218.1" cy="40.6" r=".8"/><circle cx="291.4" cy="35.4" r=".7"/><circle cx="218.8" cy="44.6" r="1.1"/><circle cx="241.5" cy="39.2" r=".7"/><circle cx="227" cy="24.7" r="1.2"/><circle cx="281.4" cy="33.3" r="1.4"/><circle cx="262.2" cy="34.1" r="1.3"/><circle cx="234.6" cy="41.3" r=".9"/><circle cx="270.5" cy="42.9" r="1.3"/><circle cx="280.4" cy="6.2" r="1.3"/><circle cx="261.9" cy="45.7" r="1"/><circle cx="280.6" cy="71.4" r="1.2"/><circle cx="248.5" cy="44.8" r="1.2"/><circle cx="270.2" cy="7.1" r="1.3"/><circle cx="239.1" cy="43.7" r="1.3"/><circle cx="246.1" cy="17.9" r=".9"/><circle cx="264.5" cy="1.4" r="1.3"/><circle cx="230.9" cy="23" r="1.3"/><circle cx="254.5" cy="28.2" r="1.3"/><circle cx="213.9" cy="71.9" r="1.4"/><circle cx="253.9" cy="44.5" r=".9"/><circle cx="223" cy="57" r=".7"/><circle cx="240.8" cy="62.7" r="1.4"/><circle cx="211" cy="83.8" r="1"/><circle cx="232.8" cy="46.1" r="1.4"/><circle cx="210.9" cy="50.9" r="1.3"/><circle cx="280.6" cy="35.3" r="1"/><circle cx="220.4" cy="79.9" r=".9"/><circle cx="274.4" cy="32.9" r="1.4"/><circle cx="240.6" cy="30.2" r="1.2"/><circle cx="285.5" cy="37.4" r="1.1"/><circle cx="259.6" cy="19.5" r="1.3"/><circle cx="276.1" cy="30.5" r="1"/><circle cx="244.9" cy="4.3" r=".8"/><circle cx="236.4" cy="66.9" r="1"/><circle cx="260" cy="46.4" r="1.2"/><circle cx="210.6" cy="12.2" r="1.4"/><circle cx="240.1" cy="14.6" r=".9"/><circle cx="211" cy="4.1" r=".9"/><circle cx="232.3" cy="70.2" r=".8"/><circle cx="225.4" cy="7.7" r=".8"/><circle cx="216.4" cy="72.6" r=".8"/><circle cx="259.1" cy="5.3" r="1.3"/><circle cx="281.7" cy="51.3" r="1.4"/><circle cx="248.7" cy="14.7" r="1.4"/><circle cx="281.7" cy="37.8" r=".8"/><circle cx="266.5" cy="41.9" r=".8"/><circle cx="284.4" cy="66.5" r="1.1"/><circle cx="221.8" cy="69" r="1.2"/><circle cx="251.5" cy="63.1" r=".8"/><circle cx="257.6" cy="29.1" r="1.2"/><circle cx="244.3" cy="9.5" r=".9"/><circle cx="235.7" cy="76.2" r="1.3"/><circle cx="266" cy="65.4" r=".8"/><circle cx="263.6" cy="27.8" r="1.2"/><circle cx="254.1" cy="17" r="1"/><circle cx="261.2" cy="19.2" r="1.2"/><circle cx="228" cy="12.6" r="1"/><circle cx="224" cy="3.6" r="1.2"/><circle cx="228" cy="4.8" r="1.2"/><circle cx="237.8" cy="44.4" r="1.1"/><circle cx="280.3" cy="68" r=".8"/><circle cx="251.6" cy="84.5" r="1.4"/><circle cx="219.2" cy="3.3" r=".8"/><circle cx="277.4" cy="57.7" r=".8"/><circle cx="277.6" cy="78.1" r="1.2"/><circle cx="236.4" cy="42.3" r=".9"/><circle cx="282.8" cy="53.7" r=".9"/></g><g fill="#9878c6" opacity="0.8"><circle cx="257.3" cy="36.3" r="1.1"/><circle cx="259" cy="1.6" r="1.2"/><circle cx="257" cy="23.6" r="1"/><circle cx="210.7" cy="69.6" r="1.2"/><circle cx="228.8" cy="4.9" r=".7"/><circle cx="231.1" cy="13.7" r="1.2"/><circle cx="270.2" cy="55.5" r=".9"/><circle cx="210.3" cy="31.6" r="1.3"/><circle cx="265.9" cy="43.8" r="1.4"/><circle cx="267.5" cy="37.4" r=".7"/><circle cx="213.3" cy="34.7" r="1.4"/><circle cx="242.6" cy="35.8" r="1.2"/><circle cx="274" cy="36.4" r="1.3"/><circle cx="262.7" cy="77.5" r="1.4"/><circle cx="237.6" cy="34.5" r="1.1"/><circle cx="265.5" cy="16.8" r=".8"/><circle cx="270.6" cy="72.6" r="1.4"/><circle cx="241.6" cy="81.6" r=".9"/><circle cx="247" cy="80.7" r="1.4"/><circle cx="271.6" cy="73.4" r="1.1"/><circle cx="260.3" cy="14.7" r="1.3"/><circle cx="274" cy="84.4" r=".9"/><circle cx="250.5" cy="31.8" r="1.2"/><circle cx="252.3" cy="84.1" r=".8"/><circle cx="255.6" cy="37.2" r="1.1"/><circle cx="270.4" cy="77.3" r="1.1"/><circle cx="256.9" cy="29.2" r="1.2"/><circle cx="255.5" cy="1.8" r="1.2"/><circle cx="288.6" cy="64.4" r="1.4"/><circle cx="228.6" cy="66.5" r="1.2"/><circle cx="264.6" cy="32.7" r=".8"/><circle cx="257.7" cy="2.6" r=".8"/><circle cx="276.9" cy="52.5" r="1"/><circle cx="252.7" cy="79.1" r="1.3"/><circle cx="278.8" cy="44.2" r="1.2"/><circle cx="211.8" cy="78.6" r=".9"/><circle cx="272" cy="42.4" r=".9"/><circle cx="291" cy="19" r=".8"/><circle cx="282.4" cy="37.9" r="1.2"/><circle cx="260.5" cy="23.6" r=".8"/><circle cx="288.7" cy="33.9" r="1"/><circle cx="246.9" cy="65.6" r=".8"/><circle cx="241" cy="79.3" r=".9"/><circle cx="218" cy="24.9" r="1.2"/><circle cx="218.2" cy="10.4" r="1.1"/><circle cx="223.3" cy="6.7" r=".8"/><circle cx="223.4" cy="30.4" r=".8"/><circle cx="232.2" cy="57.4" r="1"/><circle cx="206.5" cy="10.6" r="1.4"/><circle cx="228.3" cy="22.6" r="1"/><circle cx="218" cy="67.6" r=".9"/><circle cx="228.3" cy="51.4" r="1.3"/><circle cx="290.9" cy="55" r="1.2"/><circle cx="247" cy="85" r="1.2"/><circle cx="288.4" cy="74.5" r="1.1"/><circle cx="290.4" cy="82.4" r=".7"/><circle cx="261.3" cy="49.8" r="1.3"/><circle cx="278.8" cy="56.3" r="1.1"/><circle cx="236.3" cy="3.1" r=".8"/><circle cx="230.1" cy="40.4" r=".8"/><circle cx="289" cy="64.5" r="1.3"/><circle cx="231.7" cy="5.5" r=".7"/><circle cx="267.2" cy="32" r=".9"/><circle cx="206.4" cy="33.9" r=".9"/><circle cx="210.7" cy="69.9" r="1.4"/><circle cx="212" cy="82.5" r="1.4"/><circle cx="289.2" cy="26.7" r="1.4"/><circle cx="213.3" cy="42.9" r="1.2"/><circle cx="247.5" cy="22.3" r="1.4"/><circle cx="213.7" cy="7.4" r=".9"/><circle cx="273.2" cy="31.1" r="1.3"/><circle cx="244.2" cy="50.3" r="1.3"/><circle cx="264.8" cy="9.5" r="1.2"/><circle cx="266.1" cy="26" r="1.1"/><circle cx="255.7" cy="58.7" r="1"/><circle cx="277.9" cy="2.9" r="1.3"/><circle cx="208.1" cy="12.4" r="1.1"/><circle cx="253.8" cy="60.1" r=".8"/><circle cx="280.4" cy="74.2" r="1"/><circle cx="245.1" cy="75.6" r="1.1"/><circle cx="282.6" cy="53.2" r="1"/><circle cx="283.1" cy="39.8" r=".9"/><circle cx="248.2" cy="32" r="1"/><circle cx="249.8" cy="19" r="1.1"/><circle cx="287.4" cy="6.8" r="1.4"/><circle cx="255.6" cy="77.6" r="1"/><circle cx="221" cy="12.2" r="1.4"/><circle cx="254.1" cy="10" r="1.3"/><circle cx="212.1" cy="2.9" r="1.4"/><circle cx="248.1" cy="31" r=".7"/><circle cx="215.2" cy="64.5" r="1.3"/><circle cx="255.3" cy="2.3" r="1.1"/><circle cx="283.4" cy="66.8" r=".8"/><circle cx="239" cy="50.5" r=".9"/><circle cx="217.7" cy="75.1" r="1.3"/><circle cx="268" cy="60.3" r="1"/><circle cx="239.2" cy="29.4" r=".7"/></g><g fill="#7d5db8" opacity="0.9"><circle cx="217.1" cy="8" r=".8"/><circle cx="219.9" cy="15.6" r="1"/><circle cx="274.7" cy="41.8" r="1.1"/><circle cx="230.4" cy="54.6" r=".7"/><circle cx="216.9" cy="2.2" r="1"/><circle cx="285.4" cy="16.9" r="1.3"/><circle cx="228.2" cy="70.4" r=".7"/><circle cx="209.8" cy="63.7" r="1.3"/><circle cx="276.2" cy="65.7" r=".8"/><circle cx="274.5" cy="35.1" r="1.2"/><circle cx="214.7" cy="44" r="1.4"/><circle cx="277.8" cy="70.5" r="1.4"/><circle cx="223.4" cy="59.3" r="1.4"/><circle cx="215.9" cy="3.3" r=".7"/><circle cx="280.8" cy="52.8" r="1.1"/><circle cx="211" cy="34.7" r="1.4"/><circle cx="208.7" cy="80.6" r=".9"/><circle cx="243.7" cy="47.9" r="1.2"/><circle cx="245.2" cy="72.7" r="1.1"/><circle cx="265.9" cy="11.9" r="1.2"/><circle cx="283.2" cy="8.5" r=".7"/><circle cx="212" cy="40.8" r=".9"/><circle cx="242.5" cy="11.8" r="1.4"/><circle cx="219.3" cy="49.2" r="1"/><circle cx="216.5" cy="15.7" r="1"/><circle cx="259.9" cy="70.7" r=".8"/><circle cx="268.6" cy="37.5" r="1.4"/><circle cx="249.1" cy="4.3" r="1.1"/><circle cx="224.4" cy="79.9" r="1.3"/><circle cx="213.6" cy="65.7" r=".9"/><circle cx="233.3" cy="82.8" r="1"/><circle cx="236.7" cy="18" r="1.1"/><circle cx="290" cy="74.4" r="1.1"/><circle cx="218.3" cy="30" r="1.1"/><circle cx="234.6" cy="62.8" r="1.4"/><circle cx="290.8" cy="74.8" r=".8"/><circle cx="227.5" cy="41" r="1"/><circle cx="227.2" cy="69.6" r="1.3"/><circle cx="208.3" cy="57.3" r="1.1"/><circle cx="219.3" cy="49.7" r=".7"/><circle cx="208.2" cy="37.1" r="1.4"/><circle cx="218.9" cy="4.3" r="1.1"/><circle cx="213.3" cy="54.1" r=".9"/><circle cx="258.5" cy="18.7" r="1.1"/><circle cx="240.9" cy="14.2" r=".9"/><circle cx="207.8" cy="49.2" r="1.4"/><circle cx="278.5" cy="8" r="1"/><circle cx="265.7" cy="35.6" r="1.4"/><circle cx="243.5" cy="13.1" r="1"/><circle cx="287.1" cy="4.6" r="1.4"/><circle cx="242.8" cy="31.9" r="1"/><circle cx="229.3" cy="3.9" r=".9"/><circle cx="228.7" cy="19.2" r="1.4"/><circle cx="281.4" cy="84" r=".9"/><circle cx="260.7" cy="63.3" r="1"/><circle cx="241.4" cy="78.6" r="1.4"/><circle cx="253.6" cy="78" r=".8"/><circle cx="241.1" cy="1.9" r=".8"/><circle cx="228.1" cy="72.1" r=".9"/><circle cx="284.6" cy="40.4" r=".8"/><circle cx="236.1" cy="39.3" r="1.1"/><circle cx="212.4" cy="44.6" r="1.3"/><circle cx="214.4" cy="4.8" r="1.4"/><circle cx="229.9" cy="50.5" r="1"/><circle cx="263.7" cy="41.1" r="1.4"/><circle cx="241.9" cy="47" r=".9"/><circle cx="287.6" cy="10.3" r="1.4"/><circle cx="287.9" cy="73.6" r="1.2"/><circle cx="290.8" cy="52.3" r="1.2"/><circle cx="234.9" cy="29.4" r=".8"/><circle cx="223.5" cy="61.6" r="1.2"/><circle cx="219.8" cy="39.8" r="1.3"/><circle cx="209.8" cy="24.9" r="1.1"/><circle cx="273.5" cy="44.1" r="1"/><circle cx="217" cy="22.2" r="1.3"/><circle cx="257.8" cy="8.3" r="1"/><circle cx="248.6" cy="66.6" r="1"/></g><g fill="#8a68bf" opacity="0.9"><circle cx="231.7" cy="80.4" r="1"/><circle cx="245.5" cy="5.3" r="1.3"/><circle cx="240.1" cy="39.3" r="1.2"/><circle cx="285.7" cy="45.9" r="1"/><circle cx="215.5" cy="49.9" r="1.1"/><circle cx="280.3" cy="28.7" r="1.2"/><circle cx="251.2" cy="55.6" r="1.2"/><circle cx="288.9" cy="3.6" r="1.3"/><circle cx="212.9" cy="61" r="1.1"/><circle cx="245.2" cy="40.3" r="1.1"/><circle cx="258.6" cy="63.6" r="1.1"/><circle cx="282.8" cy="74.3" r=".9"/><circle cx="254" cy="5.2" r="1.4"/><circle cx="206.6" cy="65.7" r="1.1"/><circle cx="214.5" cy="55.9" r="1.4"/><circle cx="240.3" cy="82.2" r="1"/><circle cx="273.6" cy="83" r=".9"/><circle cx="269.6" cy="26.1" r="1.2"/><circle cx="219.1" cy="57.4" r="1"/><circle cx="234.4" cy="62.1" r="1"/><circle cx="279.6" cy="30.5" r="1.3"/><circle cx="289.9" cy="6.8" r="1"/><circle cx="239.1" cy="32.8" r="1"/><circle cx="217.6" cy="82.3" r="1"/><circle cx="265.9" cy="24.7" r="1.2"/><circle cx="229.1" cy="14.5" r="1.4"/><circle cx="220.6" cy="59" r="1.4"/><circle cx="224.7" cy="7.5" r="1.2"/><circle cx="287" cy="74.1" r="1"/><circle cx="215.1" cy=".8" r=".9"/><circle cx="267.2" cy="64.8" r=".8"/><circle cx="287.9" cy="79.6" r="1.1"/><circle cx="284.7" cy="44.3" r="1"/><circle cx="274.7" cy="46.8" r=".9"/><circle cx="254.4" cy="41.5" r="1.3"/><circle cx="259.2" cy="1.6" r=".9"/><circle cx="274.5" cy="75.9" r="1.1"/><circle cx="281.7" cy="2.6" r=".8"/><circle cx="244.4" cy="36.3" r="1.3"/><circle cx="245.8" cy="14.2" r=".7"/><circle cx="274.4" cy="1.7" r="1.1"/><circle cx="221.8" cy=".6" r="1.4"/><circle cx="256.2" cy="37.1" r="1.2"/><circle cx="270.8" cy="35.1" r="1.3"/><circle cx="245.9" cy="68.6" r="1"/><circle cx="256.2" cy="67.4" r="1.4"/><circle cx="209.9" cy="73.8" r="1.1"/><circle cx="213.4" cy="26.5" r=".7"/><circle cx="234.1" cy="54.7" r="1"/><circle cx="234.6" cy="3.3" r="1"/><circle cx="217.6" cy="62.2" r="1"/><circle cx="241.7" cy="52" r="1.4"/><circle cx="276.7" cy="82.1" r=".8"/><circle cx="279.3" cy="66.7" r="1"/><circle cx="270.3" cy="74.7" r="1"/><circle cx="231.1" cy="23" r="1"/><circle cx="226.9" cy="48.2" r="1.1"/><circle cx="215.9" cy="48.6" r="1.3"/><circle cx="257" cy="59.8" r="1.2"/><circle cx="262.5" cy="27.7" r="1.4"/><circle cx="242.5" cy="43.9" r="1"/><circle cx="234.4" cy="71.7" r=".9"/><circle cx="261.2" cy="28.2" r=".9"/><circle cx="266.3" cy="44.8" r=".7"/><circle cx="234.2" cy="67.2" r=".8"/><circle cx="281.4" cy="21" r="1"/><circle cx="216.2" cy="79" r="1.3"/><circle cx="235.7" cy="28.4" r=".7"/><circle cx="279.7" cy="53" r="1.4"/><circle cx="206.8" cy="78.8" r="1.4"/><circle cx="290.3" cy="39.1" r="1.1"/><circle cx="291" cy=".9" r=".9"/><circle cx="238.8" cy="51.4" r=".7"/><circle cx="251.3" cy="81.3" r=".9"/><circle cx="277.8" cy="54.9" r="1.4"/><circle cx="239.8" cy="79.1" r=".8"/><circle cx="218.5" cy="77.6" r="1.3"/><circle cx="234.3" cy="36.5" r=".9"/><circle cx="254.7" cy="11.9" r="1.1"/><circle cx="246.1" cy="28.8" r=".8"/><circle cx="282.4" cy="54.1" r="1.3"/><circle cx="221.4" cy="64.9" r=".7"/><circle cx="243.4" cy="54.5" r=".8"/><circle cx="281.8" cy="61.4" r="1"/><circle cx="257.3" cy="43.1" r="1.1"/><circle cx="238.1" cy="67.4" r="1.3"/><circle cx="206.6" cy="35.8" r="1.1"/></g>
</g>
<g fill="#dccbec" opacity="0.5"><circle cx="264.4" cy="14.6" r="1"/><circle cx="283.1" cy="5.6" r=".6"/><circle cx="281" cy="26.3" r="1"/><circle cx="234.5" cy="9.3" r=".9"/><circle cx="234.7" cy="78.6" r=".9"/><circle cx="266" cy="74" r=".6"/><circle cx="235.4" cy="56.4" r=".6"/><circle cx="222.6" cy="5.4" r=".7"/><circle cx="230.4" cy="80.1" r=".6"/><circle cx="257.5" cy="26.1" r=".8"/><circle cx="232" cy="44.3" r=".5"/><circle cx="246.9" cy="62.2" r="1"/><circle cx="247" cy="58.1" r=".9"/><circle cx="222" cy="65.6" r=".9"/><circle cx="261.6" cy="45.6" r=".9"/><circle cx="289.3" cy="68.4" r=".9"/><circle cx="236.7" cy="7.1" r=".9"/><circle cx="267.9" cy="71.2" r=".6"/><circle cx="279.2" cy="25.7" r=".8"/><circle cx="218" cy="40.4" r=".7"/><circle cx="240.9" cy="75.9" r=".6"/><circle cx="261.5" cy="73.4" r=".9"/><circle cx="225.9" cy="17.7" r=".5"/><circle cx="254.5" cy="4.5" r=".5"/><circle cx="282.1" cy="5.9" r="1"/><circle cx="235" cy="4.2" r=".6"/><circle cx="273.4" cy="48.8" r=".5"/><circle cx="247.1" cy="44.1" r=".7"/><circle cx="216.5" cy="7.5" r=".9"/><circle cx="272.6" cy="60.2" r=".9"/><circle cx="256.7" cy="56.7" r=".9"/><circle cx="267.8" cy="22.1" r=".9"/><circle cx="268.8" cy="23.9" r=".7"/><circle cx="247.9" cy="74.7" r=".8"/><circle cx="273.3" cy="24.6" r="1"/><circle cx="279.2" cy="53.8" r=".9"/><circle cx="278.7" cy="51.7" r=".7"/><circle cx="251.6" cy="8" r=".6"/><circle cx="254" cy="56.4" r="1"/><circle cx="246.4" cy="72.4" r=".9"/><circle cx="261.1" cy="78.9" r=".9"/><circle cx="230.7" cy="78.6" r=".6"/><circle cx="221.5" cy="32.3" r=".7"/><circle cx="283.2" cy="25.8" r=".9"/><circle cx="277" cy="12.5" r=".9"/><circle cx="239.2" cy="26.2" r=".6"/><circle cx="267.1" cy="1" r=".9"/><circle cx="274.5" cy="5.7" r=".6"/><circle cx="269.2" cy="34" r=".5"/><circle cx="283.4" cy="82.2" r=".7"/><circle cx="216.9" cy="3.4" r=".8"/><circle cx="283.3" cy=".8" r=".7"/><circle cx="235.7" cy="27.1" r=".6"/><circle cx="277.8" cy="42.8" r=".9"/><circle cx="290.1" cy="26.3" r="1"/><circle cx="267.1" cy="68.2" r=".9"/><circle cx="246.1" cy="40.5" r=".8"/><circle cx="229.2" cy="31.8" r=".9"/><circle cx="218.8" cy="40" r=".7"/><circle cx="223" cy="72.9" r=".6"/><circle cx="267.5" cy="30.7" r=".6"/><circle cx="240.3" cy="10.2" r=".7"/><circle cx="228.7" cy="25" r=".9"/><circle cx="240.3" cy="14.7" r=".8"/><circle cx="260.5" cy="66.8" r="1"/><circle cx="243.6" cy="56.9" r=".9"/><circle cx="264.5" cy="53.3" r=".8"/><circle cx="252.8" cy="52.9" r=".5"/><circle cx="273.4" cy="84.4" r=".5"/><circle cx="239.9" cy="62.5" r=".8"/></g>
<path d="M262,50.2 C268,46.5 276,41 282,35 L288,29.5 L291,28.5 L291,46.5 L282.9,47.5 L273,49.6 Z" fill="#f1eff4"/>
<path d="M206.6,39 C208.5,41 210.5,44 209.8,49 C209.5,55 210.5,61 213,66 C216,71 221,75 228,79.5 L229,84.4 L222,84.4 C218,80 213.5,74 210,70 C208,67 207,64 206.6,62 Z" fill="#efe9f2"/>
<path d="M206.6,10 L211,12 L213.5,16 L209,18 L206.6,17 Z" fill="#efe9f2" opacity="0.8"/>
</g>
<g clip-path="url(#cr1)">
<rect x="206.6" y="84.4" width="84" height="84" fill="#a98dc8" stroke="none" stroke-width="1"/>
<ellipse cx="287.1" cy="96.2" rx="6.2" ry="3" transform="rotate(47 287.1 96.2)" fill="#d6aed8" opacity="0.6"/>
<ellipse cx="265.6" cy="146.5" rx="13" ry="2.7" transform="rotate(20 265.6 146.5)" fill="#d6aed8" opacity="0.6"/>
<ellipse cx="226.1" cy="165" rx="8.6" ry="2.4" transform="rotate(141 226.1 165)" fill="#d6aed8" opacity="0.6"/>
<ellipse cx="264.2" cy="162" rx="11.7" ry="1.6" transform="rotate(5 264.2 162)" fill="#d6aed8" opacity="0.6"/>
<ellipse cx="256.1" cy="110.5" rx="7.5" ry="2.8" transform="rotate(149 256.1 110.5)" fill="#d6aed8" opacity="0.6"/>
<ellipse cx="251.2" cy="145.6" rx="13.9" ry="2.9" transform="rotate(15 251.2 145.6)" fill="#d6aed8" opacity="0.6"/>
<g filter="url(#soft2)">
<g fill="#9878c6" opacity="0.8"><circle cx="265.7" cy="136.1" r=".9"/><circle cx="282.9" cy="120.2" r=".8"/><circle cx="270.4" cy="138" r=".7"/><circle cx="246.6" cy="119.1" r="1"/><circle cx="227.7" cy="104.4" r=".8"/><circle cx="238.3" cy="162" r="1.1"/><circle cx="259.8" cy="87.6" r="1.2"/><circle cx="243.7" cy="153.5" r=".7"/><circle cx="264" cy="86" r="1.4"/><circle cx="213.3" cy="115.6" r="1.3"/><circle cx="219.8" cy="124.9" r=".8"/><circle cx="286" cy="116.3" r=".7"/><circle cx="290.2" cy="160.8" r=".8"/><circle cx="244.2" cy="87.5" r="1.2"/><circle cx="267.6" cy="84.2" r="1"/><circle cx="211.2" cy="97.1" r="1.2"/><circle cx="277.5" cy="131.4" r="1.4"/><circle cx="232.9" cy="143.3" r="1"/><circle cx="287.6" cy="97.7" r="1.4"/><circle cx="250.7" cy="88.8" r="1.2"/><circle cx="287.5" cy="101.3" r="1.3"/><circle cx="279.5" cy="130.1" r="1.4"/><circle cx="282.2" cy="157.8" r="1.2"/><circle cx="215.5" cy="166.3" r="1.4"/><circle cx="223.2" cy="164.5" r="1.2"/><circle cx="249.4" cy="147.7" r="1.4"/><circle cx="228" cy="88.9" r="1.1"/><circle cx="269.9" cy="115.8" r="1.2"/><circle cx="257.2" cy="143.1" r=".7"/><circle cx="221.5" cy="169.2" r="1"/><circle cx="217.5" cy="169" r=".9"/><circle cx="259.5" cy="101.5" r="1.3"/><circle cx="252.9" cy="107.4" r=".9"/><circle cx="220.6" cy="94.3" r="1.1"/><circle cx="243" cy="110.7" r=".9"/><circle cx="262.8" cy="154.4" r=".7"/><circle cx="215" cy="115.9" r="1.4"/><circle cx="289.9" cy="102" r="1.4"/><circle cx="281.4" cy="125.1" r="1.2"/><circle cx="221.3" cy="151.9" r=".8"/><circle cx="222.5" cy="111.9" r="1.1"/><circle cx="265.4" cy="126.3" r="1.1"/><circle cx="231.6" cy="123.9" r=".8"/><circle cx="230.5" cy="155.2" r="1.4"/><circle cx="262.9" cy="95.2" r=".9"/><circle cx="263.1" cy="106.7" r="1"/><circle cx="286" cy="149.9" r=".9"/><circle cx="216.6" cy="142" r="1.2"/><circle cx="208.8" cy="153.2" r=".9"/><circle cx="211.7" cy="132.1" r="1.2"/><circle cx="285.7" cy="126.1" r=".7"/><circle cx="287.2" cy="140.9" r="1.2"/><circle cx="267.2" cy="137.9" r="1"/><circle cx="244" cy="111.1" r="1.1"/><circle cx="228" cy="109.5" r="1.4"/><circle cx="276.8" cy="135.6" r="1.2"/><circle cx="235.5" cy="155.9" r="1.3"/><circle cx="258.5" cy="158" r="1"/><circle cx="226.6" cy="119.5" r=".9"/><circle cx="248.3" cy="101.8" r="1.2"/><circle cx="223.7" cy="133.7" r="1.1"/><circle cx="279.3" cy="92.1" r="1.3"/><circle cx="282.3" cy="140.6" r=".8"/><circle cx="207.1" cy="162.2" r=".7"/><circle cx="226.4" cy="89.6" r=".8"/><circle cx="215.4" cy="161.7" r=".7"/><circle cx="213.7" cy="155.1" r=".8"/><circle cx="262.8" cy="95.1" r="1.3"/><circle cx="263.9" cy="132.7" r=".7"/><circle cx="267.9" cy="99.5" r="1.4"/><circle cx="244" cy="163.9" r="1"/><circle cx="253.4" cy="127" r="1"/><circle cx="212.6" cy="96" r=".7"/><circle cx="272.6" cy="141" r=".9"/><circle cx="254.4" cy="111.4" r="1.1"/><circle cx="261.4" cy="123.4" r="1.1"/><circle cx="284" cy="148.2" r=".7"/><circle cx="256.7" cy="157.5" r="1.2"/><circle cx="249.5" cy="153.7" r="1.2"/><circle cx="278.1" cy="147.9" r="1.2"/></g><g fill="#8a68bf" opacity="0.8"><circle cx="283.1" cy="158.3" r="1.4"/><circle cx="281.5" cy="117.6" r="1.4"/><circle cx="207.6" cy="148.1" r="1.1"/><circle cx="273.4" cy="129.6" r="1.1"/><circle cx="209.6" cy="163.1" r="1.2"/><circle cx="230.4" cy="136.1" r="1.3"/><circle cx="291.6" cy="92.8" r="1"/><circle cx="263.8" cy="148.6" r="1.3"/><circle cx="274.6" cy="126.9" r="1"/><circle cx="278.8" cy="165.8" r="1"/><circle cx="248.6" cy="142.9" r=".8"/><circle cx="263.5" cy="137.2" r="1.2"/><circle cx="255.1" cy="163.7" r="1.3"/><circle cx="231.3" cy="132.6" r=".7"/><circle cx="266" cy="161.9" r="1.4"/><circle cx="259.9" cy="129.1" r="1.3"/><circle cx="290.3" cy="137" r="1.3"/><circle cx="244.1" cy="108.3" r="1.1"/><circle cx="264" cy="126.4" r=".8"/><circle cx="291.5" cy="96.8" r="1"/><circle cx="245.4" cy="134.6" r="1.3"/><circle cx="275.6" cy="130.1" r="1.3"/><circle cx="286.4" cy="157.6" r="1.2"/><circle cx="221.7" cy="101.8" r="1.3"/><circle cx="250" cy="152.3" r="1.3"/><circle cx="212.8" cy="120" r=".7"/><circle cx="272.6" cy="122.7" r="1.1"/><circle cx="231.8" cy="148.6" r="1.1"/><circle cx="209.4" cy="147.8" r="1.4"/><circle cx="260.5" cy="107.1" r="1"/><circle cx="207.7" cy="138.5" r="1"/><circle cx="275.4" cy="169.3" r="1.1"/><circle cx="255.7" cy="151.1" r="1.3"/><circle cx="259.3" cy="164.9" r=".9"/><circle cx="291.5" cy="88.4" r="1.2"/><circle cx="235.4" cy="159.7" r="1.1"/><circle cx="279.2" cy="116.5" r="1.4"/><circle cx="290.1" cy="122.6" r=".9"/><circle cx="291.5" cy="150" r="1.1"/><circle cx="224.4" cy="103.3" r=".8"/><circle cx="254.4" cy="85.2" r="1"/><circle cx="290.9" cy="131" r="1.3"/><circle cx="237.7" cy="92.1" r="1.4"/><circle cx="223.7" cy="124.3" r="1.1"/><circle cx="247.4" cy="142" r=".7"/><circle cx="262.5" cy="112.1" r="1.2"/><circle cx="286.5" cy="129.4" r="1.3"/><circle cx="217.8" cy="124.3" r=".7"/><circle cx="209.8" cy="102.1" r="1.1"/><circle cx="220" cy="104.3" r="1"/><circle cx="223.4" cy="146.8" r=".9"/><circle cx="211.5" cy="165.7" r=".9"/><circle cx="240.5" cy="98.5" r=".9"/><circle cx="234.9" cy="133.1" r=".7"/><circle cx="240.2" cy="86.5" r=".9"/><circle cx="277.3" cy="150.5" r="1.1"/><circle cx="234.8" cy="90.2" r=".8"/><circle cx="246.3" cy="92.3" r="1"/><circle cx="211.4" cy="84.8" r=".8"/><circle cx="242.6" cy="155.6" r="1.1"/><circle cx="267.4" cy="101.4" r=".9"/><circle cx="265.3" cy="138.4" r="1.2"/><circle cx="242" cy="114.3" r="1.4"/><circle cx="253.4" cy="138.9" r=".8"/><circle cx="243.2" cy="85.6" r=".8"/><circle cx="259" cy="142.8" r="1.3"/><circle cx="238" cy="147" r=".8"/><circle cx="282.9" cy="147.1" r="1"/><circle cx="254.3" cy="143.9" r=".7"/><circle cx="289.4" cy="154.7" r="1.4"/><circle cx="228.6" cy="90.9" r=".9"/><circle cx="252.6" cy="151.5" r="1"/><circle cx="227.9" cy="115.8" r="1.3"/><circle cx="282" cy="118.3" r="1.1"/><circle cx="276.7" cy="110.1" r="1.4"/><circle cx="219.3" cy="118.3" r=".7"/><circle cx="209.8" cy="164.7" r=".8"/><circle cx="223.2" cy="98.5" r="1.4"/><circle cx="283.6" cy="139.4" r="1.4"/><circle cx="245.2" cy="104.5" r=".8"/><circle cx="251" cy="86.4" r=".7"/><circle cx="249.1" cy="125.1" r="1.1"/><circle cx="247.2" cy="156.6" r="1"/><circle cx="214.4" cy="133.8" r="1.4"/><circle cx="263.2" cy="110.8" r=".9"/><circle cx="243" cy="95.3" r=".7"/><circle cx="214.3" cy="87.4" r="1.1"/><circle cx="233.4" cy="148.7" r="1.2"/><circle cx="287.8" cy="125.3" r=".8"/><circle cx="209.6" cy="116.4" r="1.4"/><circle cx="249.5" cy="90.2" r="1.1"/><circle cx="230.5" cy="131.9" r=".8"/></g><g fill="#7d5db8" opacity="0.8"><circle cx="276.6" cy="140.8" r=".8"/><circle cx="289.3" cy="99.8" r="1"/><circle cx="210.5" cy="163" r=".9"/><circle cx="278.5" cy="147.4" r="1.2"/><circle cx="255.8" cy="155.2" r=".9"/><circle cx="214.5" cy="119.6" r="1.3"/><circle cx="241.1" cy="147.4" r="1.3"/><circle cx="269.9" cy="114.9" r="1"/><circle cx="255.1" cy="168.9" r=".7"/><circle cx="224.2" cy="97.2" r="1.4"/><circle cx="228.7" cy="103.5" r=".7"/><circle cx="267.8" cy="150.1" r="1.4"/><circle cx="229" cy="86.4" r=".9"/><circle cx="288.5" cy="102.7" r="1"/><circle cx="263.2" cy="123.2" r="1.3"/><circle cx="253.1" cy="165.5" r="1"/><circle cx="244" cy="85.1" r="1.1"/><circle cx="215.8" cy="113" r="1.1"/><circle cx="214.1" cy="146.6" r="1.1"/><circle cx="226.5" cy="142.2" r="1"/><circle cx="239.6" cy="150.4" r="1.3"/><circle cx="254" cy="149.7" r=".8"/><circle cx="223.5" cy="157.4" r="1.2"/><circle cx="273.6" cy="116.5" r="1.2"/><circle cx="244" cy="110.3" r="1"/><circle cx="261.2" cy="91.1" r="1.3"/><circle cx="263.6" cy="115.6" r=".8"/><circle cx="263.1" cy="157.4" r=".9"/><circle cx="265.5" cy="135.5" r="1.1"/><circle cx="226.8" cy="144.1" r=".9"/><circle cx="210.4" cy="105.6" r="1"/><circle cx="224.8" cy="158.2" r=".7"/><circle cx="216.6" cy="149.4" r="1.1"/><circle cx="287.7" cy="132.5" r="1.1"/><circle cx="211.1" cy="149.7" r=".9"/><circle cx="279.1" cy="87.2" r="1.4"/><circle cx="287.9" cy="83.5" r="1.2"/><circle cx="273.5" cy="143.5" r="1.2"/><circle cx="233.7" cy="140" r="1.3"/><circle cx="268.5" cy="158.9" r="1.2"/><circle cx="276.1" cy="107" r="1.1"/><circle cx="248.6" cy="123.2" r="1.3"/><circle cx="285.2" cy="98.5" r=".7"/><circle cx="259.9" cy="94.7" r="1.1"/><circle cx="272.4" cy="128.2" r="1.1"/><circle cx="290" cy="145.9" r="1.1"/><circle cx="256.6" cy="112.6" r=".7"/><circle cx="230" cy="93.5" r=".9"/><circle cx="281.7" cy="167.3" r="1"/><circle cx="274.1" cy="166" r="1.4"/><circle cx="279.2" cy="131.8" r=".9"/><circle cx="286.9" cy="92.5" r="1.2"/><circle cx="228" cy="117.6" r="1.4"/><circle cx="213.4" cy="112.6" r="1.3"/><circle cx="212" cy="130.5" r=".9"/><circle cx="229.7" cy="123.3" r="1.1"/><circle cx="264.2" cy="149.7" r="1.3"/><circle cx="232.3" cy="158.1" r=".9"/><circle cx="275.9" cy="95.8" r="1"/><circle cx="270.9" cy="152.7" r=".9"/><circle cx="212.4" cy="118.2" r="1.2"/><circle cx="240.7" cy="143.5" r="1.1"/><circle cx="224.1" cy="138.2" r=".9"/><circle cx="280.4" cy="86" r="1.4"/><circle cx="281.9" cy="88.5" r=".7"/><circle cx="263.5" cy="145.3" r=".7"/><circle cx="276.8" cy="163.4" r=".9"/><circle cx="287.7" cy="133.7" r="1.1"/><circle cx="226.6" cy="119.6" r="1.2"/><circle cx="246.6" cy="161.4" r=".9"/><circle cx="260.6" cy="94.7" r="1.1"/><circle cx="206.8" cy="155.7" r="1.2"/><circle cx="247.5" cy="113.2" r="1.1"/><circle cx="256.8" cy="165.5" r=".9"/><circle cx="246.2" cy="87.5" r="1.2"/><circle cx="221.9" cy="123.9" r="1"/></g><g fill="#6f52ad" opacity="0.9"><circle cx="251.3" cy="86.2" r="1.4"/><circle cx="208.2" cy="115.8" r=".8"/><circle cx="227.9" cy="93.7" r=".8"/><circle cx="228.7" cy="87" r="1.4"/><circle cx="278.6" cy="127.5" r=".8"/><circle cx="272.9" cy="102.8" r="1.1"/><circle cx="246.6" cy="98.5" r=".8"/><circle cx="279.2" cy="166.8" r=".9"/><circle cx="266.4" cy="107.1" r=".8"/><circle cx="237.7" cy="161.1" r="1.2"/><circle cx="281.4" cy="92.8" r="1.4"/><circle cx="274.9" cy="148.8" r="1.2"/><circle cx="227.6" cy="149.4" r="1.1"/><circle cx="218.9" cy="151.7" r="1.3"/><circle cx="260.7" cy="128.7" r="1.1"/><circle cx="254.3" cy="115.8" r=".9"/><circle cx="247.3" cy="126.7" r="1.2"/><circle cx="280.1" cy="146.3" r="1.1"/><circle cx="281.2" cy="129.1" r=".8"/><circle cx="214.9" cy="160.9" r=".7"/><circle cx="214.1" cy="158.6" r="1.4"/><circle cx="228.8" cy="133.9" r="1.4"/><circle cx="290.5" cy="148.6" r="1.2"/><circle cx="268" cy="85.4" r="1.1"/><circle cx="249.8" cy="167.4" r="1.2"/><circle cx="227.3" cy="155.9" r=".8"/><circle cx="220.1" cy="153.4" r="1.2"/><circle cx="219.9" cy="92.6" r=".8"/><circle cx="210.5" cy="121.2" r=".7"/><circle cx="247.5" cy="148.5" r="1.1"/><circle cx="239.9" cy="161.7" r="1.3"/><circle cx="230.2" cy="108.2" r="1.2"/><circle cx="278.8" cy="127.9" r="1.3"/><circle cx="263.5" cy="119.1" r=".7"/><circle cx="248.5" cy="139.6" r="1.2"/><circle cx="259.4" cy="92.5" r="1.4"/><circle cx="267" cy="108" r="1.3"/><circle cx="263.1" cy="123.3" r="1.1"/><circle cx="223" cy="125.4" r="1.1"/><circle cx="258.2" cy="157.9" r="1"/><circle cx="269.1" cy="130.1" r="1.2"/><circle cx="259.8" cy="138.7" r="1.1"/><circle cx="255.9" cy="83.8" r="1.2"/><circle cx="221.8" cy="118.5" r="1.2"/><circle cx="206.8" cy="91.4" r="1"/><circle cx="244.7" cy="128.1" r=".8"/><circle cx="229.8" cy="150" r="1.4"/><circle cx="222.5" cy="94" r="1.1"/><circle cx="269.8" cy="165.8" r="1.2"/><circle cx="273.8" cy="145.4" r="1.1"/><circle cx="286.9" cy="130.9" r="1.1"/><circle cx="253.8" cy="108.7" r="1.1"/><circle cx="274.3" cy="135.8" r="1.2"/><circle cx="207.7" cy="90.7" r="1.2"/><circle cx="266.1" cy="108.2" r="1.4"/><circle cx="223.7" cy="93.2" r="1.3"/><circle cx="231" cy="126" r="1.4"/><circle cx="259.7" cy="124.8" r="1.4"/><circle cx="264.3" cy="130.8" r="1.3"/><circle cx="252.3" cy="152.9" r="1.2"/><circle cx="283.1" cy="87.5" r=".9"/><circle cx="224.8" cy="83.5" r=".9"/><circle cx="253.4" cy="125" r="1.1"/><circle cx="290.1" cy="165" r=".8"/><circle cx="269.7" cy="124.4" r="1.3"/><circle cx="231.6" cy="122.4" r="1.1"/><circle cx="281.6" cy="132.3" r=".9"/><circle cx="271.2" cy="98.9" r="1.1"/><circle cx="269.4" cy="130.8" r="1.4"/><circle cx="220.9" cy="150.6" r="1.4"/><circle cx="227.5" cy="128" r=".8"/><circle cx="288.1" cy="109" r="1.4"/><circle cx="256" cy="157.7" r="1.4"/><circle cx="226.3" cy="109.1" r=".9"/><circle cx="219.4" cy="118.8" r="1.3"/><circle cx="248.9" cy="164.4" r=".9"/><circle cx="231.8" cy="131.5" r="1.4"/><circle cx="258.1" cy="107.6" r=".7"/><circle cx="221.1" cy="120" r="1.2"/><circle cx="225.2" cy="100.7" r="1.1"/><circle cx="290.3" cy="98.4" r="1.3"/><circle cx="290.2" cy="135.8" r=".7"/><circle cx="265.9" cy="158.7" r="1.1"/><circle cx="270.2" cy="110.6" r=".9"/></g><g fill="#9878c6" opacity="0.9"><circle cx="254" cy="117.6" r=".7"/><circle cx="230" cy="142.2" r="1.3"/><circle cx="211.1" cy="91.8" r="1.2"/><circle cx="208.2" cy="97" r=".9"/><circle cx="208.2" cy="149.3" r=".7"/><circle cx="279.9" cy="153.7" r=".7"/><circle cx="278.1" cy="148.2" r=".8"/><circle cx="269.1" cy="122" r="1.2"/><circle cx="211.6" cy="154.5" r="1.1"/><circle cx="253.8" cy="96" r="1.4"/><circle cx="290.9" cy="100" r="1"/><circle cx="269" cy="84.3" r="1.4"/><circle cx="220.3" cy="105.7" r="1.4"/><circle cx="260.1" cy="136.4" r="1.3"/><circle cx="219.2" cy="103.9" r=".8"/><circle cx="258" cy="121.3" r=".9"/><circle cx="228.2" cy="114.5" r=".7"/><circle cx="240.7" cy="116.3" r=".9"/><circle cx="282.9" cy="125.2" r="1"/><circle cx="214.2" cy="161.7" r="1.4"/><circle cx="265.6" cy="108.5" r="1.4"/><circle cx="266.4" cy="136.1" r="1"/><circle cx="275.6" cy="83.4" r="1.2"/><circle cx="267.1" cy="149.7" r=".7"/><circle cx="266.5" cy="90.2" r="1"/><circle cx="274.3" cy="118.8" r="1.3"/><circle cx="265" cy="124.7" r="1.3"/><circle cx="276.1" cy="161.7" r="1.4"/><circle cx="207.2" cy="126" r="1.4"/><circle cx="256.4" cy="99.8" r=".9"/><circle cx="214.6" cy="139.9" r=".8"/><circle cx="227.7" cy="140.7" r=".8"/><circle cx="205.6" cy="120.4" r="1.4"/><circle cx="259" cy="89.4" r="1"/><circle cx="277.1" cy="148.1" r="1"/><circle cx="238.6" cy="132.2" r=".7"/><circle cx="265.3" cy="93.1" r=".9"/><circle cx="254.5" cy="151.7" r=".7"/><circle cx="217.3" cy="84.9" r="1.3"/><circle cx="288.3" cy="118.7" r=".9"/><circle cx="218.7" cy="98.4" r=".8"/><circle cx="279.1" cy="136.5" r=".9"/><circle cx="277.8" cy="139.4" r="1.1"/><circle cx="209" cy="110.6" r="1.4"/><circle cx="232.5" cy="93.1" r="1.1"/><circle cx="223.1" cy="158.2" r="1.1"/><circle cx="236.5" cy="125.9" r="1.2"/><circle cx="241.9" cy="116.5" r="1.2"/><circle cx="266.4" cy="126.3" r="1.4"/><circle cx="252.4" cy="121.9" r="1.3"/><circle cx="215.2" cy="114.5" r="1.3"/><circle cx="211.7" cy="83.5" r="1"/><circle cx="283.5" cy="114.3" r="1.3"/><circle cx="264.1" cy="160.9" r="1.2"/><circle cx="250.7" cy="104.8" r=".9"/><circle cx="237.3" cy="147.2" r="1.3"/><circle cx="209.3" cy="106.2" r="1.3"/><circle cx="278.1" cy="166.2" r="1.3"/><circle cx="270.7" cy="145" r="1"/><circle cx="242.6" cy="112.5" r="1"/><circle cx="242.2" cy="155" r="1.2"/><circle cx="227" cy="97.4" r="1.4"/><circle cx="278.4" cy="97.8" r="1.1"/><circle cx="280.3" cy="160" r="1.2"/><circle cx="256.8" cy="87.6" r="1.1"/><circle cx="230.9" cy="158.5" r=".7"/><circle cx="262.4" cy="137.6" r=".8"/><circle cx="230.3" cy="120.3" r="1.1"/><circle cx="226.9" cy="104.2" r="1.3"/><circle cx="276" cy="163.4" r="1"/><circle cx="266.4" cy="140.6" r=".9"/><circle cx="225.2" cy="116.7" r="1.4"/><circle cx="254.1" cy="132.5" r=".9"/><circle cx="290.2" cy="152" r="1.1"/><circle cx="251.2" cy="163.5" r=".8"/><circle cx="218.4" cy="145.8" r="1.1"/><circle cx="223.7" cy="125.7" r=".9"/><circle cx="261.4" cy="84.8" r=".8"/><circle cx="233.4" cy="104.6" r=".8"/><circle cx="237.9" cy="159.8" r=".7"/><circle cx="274.2" cy="133.5" r=".9"/><circle cx="225" cy="107.1" r="1.4"/><circle cx="218.8" cy="125.8" r=".7"/><circle cx="221" cy="150.7" r="1.1"/><circle cx="234.9" cy="107.9" r=".8"/><circle cx="255.5" cy="137.3" r="1.4"/><circle cx="290.6" cy="117.2" r="1.1"/><circle cx="252.9" cy="101.7" r=".8"/><circle cx="207.1" cy="87.4" r="1.1"/><circle cx="242.8" cy="107.2" r="1.3"/><circle cx="216.9" cy="141.7" r="1.1"/><circle cx="242.2" cy="132.2" r="1.2"/><circle cx="261.6" cy="162.5" r=".9"/><circle cx="256.8" cy="146.9" r=".8"/><circle cx="259.9" cy="162.6" r="1.1"/><circle cx="268.5" cy="101.3" r="1"/><circle cx="238.9" cy="155.1" r=".9"/><circle cx="273.9" cy="164.7" r="1.3"/><circle cx="258" cy="153.4" r="1.2"/><circle cx="261.2" cy="96" r="1.3"/><circle cx="211.5" cy="150.8" r=".9"/><circle cx="282.3" cy="137.4" r="1.3"/></g><g fill="#8a68bf" opacity="0.9"><circle cx="214.1" cy="150.6" r=".7"/><circle cx="222" cy="86.6" r="1.1"/><circle cx="265.3" cy="87.9" r="1"/><circle cx="245.2" cy="156.2" r="1.1"/><circle cx="289.1" cy="164.4" r="1.2"/><circle cx="228.6" cy="94.2" r="1.3"/><circle cx="215.3" cy="109" r=".9"/><circle cx="270.1" cy="127.7" r=".8"/><circle cx="290.3" cy="153.7" r=".8"/><circle cx="250.3" cy="137.7" r=".8"/><circle cx="222" cy="154.8" r=".9"/><circle cx="279.9" cy="144.6" r=".8"/><circle cx="223.2" cy="163.1" r="1.3"/><circle cx="226.5" cy="118" r=".8"/><circle cx="253.5" cy="94.3" r="1.1"/><circle cx="212.4" cy="93.3" r=".9"/><circle cx="285" cy="85.8" r=".9"/><circle cx="238" cy="92.1" r="1.2"/><circle cx="256.6" cy="145.7" r=".8"/><circle cx="260.9" cy="95.9" r="1.1"/><circle cx="208.1" cy="109.6" r="1.4"/><circle cx="242.9" cy="127.8" r="1.3"/><circle cx="238.6" cy="97.6" r="1.3"/><circle cx="224.5" cy="146.7" r="1.2"/><circle cx="219.1" cy="125.6" r="1.2"/><circle cx="220.2" cy="158.8" r="1"/><circle cx="251.3" cy="108" r=".7"/><circle cx="284.3" cy="130.4" r=".9"/><circle cx="264.1" cy="88.8" r=".8"/><circle cx="253.4" cy="158.3" r="1.3"/><circle cx="267.1" cy="133.7" r="1.3"/><circle cx="280.5" cy="84.6" r=".8"/><circle cx="281" cy="161.7" r=".9"/><circle cx="263" cy="125" r=".8"/><circle cx="281.8" cy="91.5" r="1.1"/><circle cx="222.8" cy="156" r="1.1"/><circle cx="205.7" cy="122.4" r=".7"/><circle cx="265" cy="108.2" r="1.4"/><circle cx="270.2" cy="156.4" r="1.3"/><circle cx="237.4" cy="163.8" r="1"/><circle cx="242.4" cy="89" r=".9"/><circle cx="213.9" cy="139.7" r="1.3"/><circle cx="236" cy="111.1" r="1.3"/><circle cx="264.6" cy="84.9" r="1.1"/><circle cx="267.1" cy="121.2" r="1.4"/><circle cx="257.4" cy="122.9" r=".7"/><circle cx="237.9" cy="88.2" r="1.1"/><circle cx="258" cy="90.4" r="1.4"/><circle cx="229.2" cy="146.2" r=".9"/><circle cx="258.7" cy="146.6" r="1.2"/><circle cx="245.4" cy="83.8" r="1.4"/><circle cx="261.9" cy="111.7" r="1.4"/><circle cx="245.6" cy="118.8" r=".8"/><circle cx="273.4" cy="112.7" r=".8"/><circle cx="238.4" cy="93.6" r=".7"/><circle cx="269.5" cy="121.9" r="1"/><circle cx="267" cy="131.4" r="1.4"/><circle cx="247.3" cy="85" r="1.4"/><circle cx="230.3" cy="115.4" r=".9"/><circle cx="235.9" cy="165" r=".8"/><circle cx="280.8" cy="134" r="1.4"/><circle cx="216" cy="162.9" r="1.3"/><circle cx="241.1" cy="123.9" r=".7"/><circle cx="212.4" cy="141" r="1.4"/><circle cx="213.9" cy="129.1" r=".9"/><circle cx="274.7" cy="133.1" r=".8"/><circle cx="269.4" cy="122.9" r=".8"/><circle cx="271" cy="91.1" r="1.3"/><circle cx="276.1" cy="108.2" r="1.2"/><circle cx="227.1" cy="111.3" r="1.2"/><circle cx="225.6" cy="93.2" r="1.4"/><circle cx="266.8" cy="165.8" r="1.1"/><circle cx="281.2" cy="151.4" r="1.3"/><circle cx="266" cy="106.5" r="1"/><circle cx="207" cy="88.5" r="1.3"/><circle cx="223" cy="116.5" r=".9"/><circle cx="246.7" cy="145.6" r="1"/><circle cx="210.2" cy="102.6" r=".8"/><circle cx="270.5" cy="151.9" r=".7"/><circle cx="220.4" cy="136.3" r="1.3"/><circle cx="258.3" cy="152.2" r="1.3"/><circle cx="231" cy="151.7" r="1.2"/><circle cx="217.9" cy="94" r="1.1"/><circle cx="285.5" cy="129.9" r=".9"/><circle cx="229.5" cy="125.4" r="1.2"/><circle cx="284.1" cy="97.4" r=".7"/></g><g fill="#8a68bf" opacity="0.6"><circle cx="226.1" cy="84" r="1"/><circle cx="235.2" cy="146.6" r="1.4"/><circle cx="226" cy="155.7" r="1.2"/><circle cx="284.8" cy="112.5" r=".7"/><circle cx="261.7" cy="111" r=".9"/><circle cx="215.3" cy="161.4" r="1.3"/><circle cx="270" cy="113.4" r="1"/><circle cx="232.3" cy="131.4" r="1.4"/><circle cx="258.3" cy="127.3" r=".8"/><circle cx="239.4" cy="161.7" r=".8"/><circle cx="219" cy="105.2" r="1.4"/><circle cx="206.5" cy="104.8" r="1"/><circle cx="227.4" cy="134.4" r="1.1"/><circle cx="242.8" cy="163.4" r=".9"/><circle cx="247.7" cy="152.4" r="1.2"/><circle cx="255" cy="149.6" r=".9"/><circle cx="209.9" cy="143.5" r="1.2"/><circle cx="285.7" cy="127.7" r="1.2"/><circle cx="230.7" cy="108.6" r=".9"/><circle cx="281.7" cy="126.3" r="1.2"/><circle cx="291" cy="123.2" r=".9"/><circle cx="259.4" cy="164.2" r="1"/><circle cx="281.3" cy="145.5" r="1.2"/><circle cx="255.1" cy="162.7" r=".8"/><circle cx="231.1" cy="134.1" r="1.2"/><circle cx="235" cy="140.6" r="1.1"/><circle cx="218.7" cy="162.7" r="1.4"/><circle cx="260.6" cy="147.9" r="1.1"/><circle cx="214.8" cy="83.5" r="1"/><circle cx="235.4" cy="144.6" r="1"/><circle cx="247.4" cy="116.2" r="1"/><circle cx="229" cy="96.4" r="1"/><circle cx="212.6" cy="138" r=".9"/><circle cx="241.1" cy="100.9" r="1.2"/><circle cx="225.7" cy="121.5" r="1.3"/><circle cx="285.2" cy="93.5" r="1"/><circle cx="250" cy="88.1" r=".8"/><circle cx="265.4" cy="94" r="1.2"/><circle cx="240" cy="145.6" r="1.2"/><circle cx="206.1" cy="144.6" r="1.2"/><circle cx="248.7" cy="115.8" r="1.2"/><circle cx="212.9" cy="95.1" r="1.3"/><circle cx="224.4" cy="112.7" r=".7"/><circle cx="273.5" cy="158.6" r="1"/><circle cx="265.8" cy="87.4" r="1.3"/><circle cx="240.2" cy="136.6" r="1.4"/><circle cx="218.1" cy="83.7" r=".9"/><circle cx="244.4" cy="160.6" r="1.4"/><circle cx="276.1" cy="126.7" r="1"/><circle cx="258.3" cy="167.5" r="1.4"/><circle cx="258.1" cy="148.6" r=".7"/><circle cx="283.1" cy="85.2" r=".9"/><circle cx="251.2" cy="145.6" r="1.1"/><circle cx="269.4" cy="130.8" r=".9"/><circle cx="227.6" cy="94.3" r="1.1"/><circle cx="266.7" cy="139.9" r="1.1"/><circle cx="270.2" cy="136.8" r=".8"/><circle cx="216.3" cy="106.9" r=".8"/><circle cx="268.7" cy="103.7" r="1"/><circle cx="208.2" cy="167.7" r=".7"/><circle cx="236.5" cy="103.3" r=".9"/><circle cx="236.4" cy="163.1" r=".8"/><circle cx="286.2" cy="117.3" r="1"/><circle cx="221.8" cy="106.7" r="1"/><circle cx="233.2" cy="94.4" r="1.3"/><circle cx="269.8" cy="125.3" r=".8"/><circle cx="226.5" cy="104" r="1.4"/><circle cx="237.5" cy="139" r="1.4"/><circle cx="272" cy="143" r="1.3"/><circle cx="206.7" cy="98.7" r="1.4"/><circle cx="259.3" cy="152.2" r=".9"/><circle cx="251.7" cy="85" r=".7"/><circle cx="257.8" cy="97.3" r=".9"/><circle cx="206.7" cy="141.4" r=".9"/></g><g fill="#7d5db8" opacity="0.9"><circle cx="211.3" cy="144.8" r="1.4"/><circle cx="227.4" cy="159.9" r=".8"/><circle cx="245.2" cy="152.8" r="1.4"/><circle cx="213.5" cy="161.3" r="1.3"/><circle cx="256.9" cy="141.6" r="1.2"/><circle cx="238.4" cy="168" r="1"/><circle cx="229.9" cy="106.6" r="1"/><circle cx="235.6" cy="138" r=".9"/><circle cx="259.9" cy="115.9" r="1"/><circle cx="251" cy="159.5" r="1.3"/><circle cx="225.6" cy="126.1" r="1.3"/><circle cx="267.8" cy="97.3" r=".9"/><circle cx="281.7" cy="161.2" r=".7"/><circle cx="217.4" cy="89.5" r="1.2"/><circle cx="265.7" cy="90.4" r=".8"/><circle cx="211" cy="90.1" r=".9"/><circle cx="220.5" cy="91.3" r=".8"/><circle cx="260.3" cy="130.8" r="1.1"/><circle cx="235.9" cy="148.9" r="1.2"/><circle cx="265.9" cy="100.1" r=".9"/><circle cx="247.7" cy="116.3" r=".9"/><circle cx="263.3" cy="86.3" r="1.2"/><circle cx="210.5" cy="98.9" r=".9"/><circle cx="254" cy="85.6" r=".8"/><circle cx="281.5" cy="109.7" r="1.4"/><circle cx="264.2" cy="91.1" r=".7"/><circle cx="254" cy="129.2" r="1"/><circle cx="244.7" cy="99.9" r=".9"/><circle cx="266.7" cy="158.8" r="1.4"/><circle cx="213.7" cy="87.6" r="1.2"/><circle cx="251.1" cy="147.3" r="1.1"/><circle cx="213.6" cy="154" r="1.2"/><circle cx="264.3" cy="85.9" r="1.2"/><circle cx="237.6" cy="106.9" r="1"/><circle cx="209.2" cy="159" r="1"/><circle cx="231.7" cy="93.6" r="1.1"/><circle cx="257.3" cy="97.5" r=".9"/><circle cx="210.5" cy="133.5" r="1.3"/><circle cx="221.8" cy="120.1" r="1.4"/><circle cx="218.8" cy="108.2" r="1.4"/><circle cx="213.7" cy="139.8" r="1.4"/><circle cx="288" cy="131.7" r="1.4"/><circle cx="274.9" cy="93.9" r=".9"/><circle cx="289.2" cy="156.2" r="1"/><circle cx="268.7" cy="150.6" r=".8"/><circle cx="218.5" cy="133.2" r="1.3"/><circle cx="250.3" cy="97.4" r=".8"/><circle cx="263.6" cy="116.5" r="1.2"/><circle cx="273.4" cy="120.7" r="1.2"/><circle cx="268.6" cy="146.3" r="1.3"/><circle cx="274" cy="87.1" r="1.1"/><circle cx="216.6" cy="125.2" r="1.4"/><circle cx="269.5" cy="113.7" r="1.1"/><circle cx="226.2" cy="117.9" r="1"/><circle cx="205.8" cy="166.8" r="1.4"/><circle cx="264.1" cy="162.1" r="1.3"/><circle cx="223" cy="92.6" r=".9"/><circle cx="284.5" cy="137.8" r="1.2"/><circle cx="241.6" cy="126.7" r=".8"/><circle cx="271.5" cy="164.8" r="1.3"/><circle cx="269.7" cy="99.5" r="1.4"/><circle cx="259.4" cy="108.2" r="1.2"/><circle cx="206.3" cy="88.6" r=".9"/><circle cx="211.1" cy="166.1" r="1.2"/><circle cx="261.3" cy="112.7" r="1.4"/><circle cx="287.4" cy="87.8" r="1"/><circle cx="229.2" cy="121.4" r=".8"/><circle cx="246.9" cy="167.3" r="1.2"/><circle cx="282.2" cy="90.2" r="1.2"/><circle cx="223.4" cy="111.1" r=".9"/><circle cx="270.5" cy="163.8" r="1.2"/><circle cx="230.3" cy="125.4" r="1.1"/><circle cx="236.6" cy="144.3" r="1.2"/><circle cx="290.7" cy="107.5" r=".9"/><circle cx="239.2" cy="86.3" r="1.2"/><circle cx="247.8" cy="103" r=".8"/><circle cx="275.6" cy="157.4" r="1.3"/><circle cx="240.3" cy="130.5" r="1.1"/><circle cx="272" cy="153.9" r=".8"/><circle cx="222.8" cy="84.6" r=".9"/><circle cx="270" cy="101.9" r="1.3"/></g><g fill="#7d5db8" opacity="0.6"><circle cx="215.8" cy="102" r=".9"/><circle cx="262.9" cy="128.7" r="1.2"/><circle cx="215.4" cy="127" r=".7"/><circle cx="245.5" cy="107.5" r="1.1"/><circle cx="223.5" cy="142.5" r="1.4"/><circle cx="252.9" cy="126.7" r="1.2"/><circle cx="214.4" cy="126.8" r="1.3"/><circle cx="287.7" cy="165.3" r="1.3"/><circle cx="213.9" cy="86" r="1"/><circle cx="240.3" cy="99" r=".9"/><circle cx="279.8" cy="112" r="1.4"/><circle cx="230.7" cy="97" r="1.4"/><circle cx="265.7" cy="160.4" r=".9"/><circle cx="236.8" cy="115.4" r=".8"/><circle cx="205.7" cy="91.9" r="1.3"/><circle cx="281.2" cy="148" r="1.3"/><circle cx="266.5" cy="128.4" r="1.3"/><circle cx="213.9" cy="106.8" r="1"/><circle cx="253.5" cy="132.5" r="1"/><circle cx="240.6" cy="134" r="1.2"/><circle cx="209.5" cy="91.7" r="1.3"/><circle cx="274.8" cy="163.6" r=".8"/><circle cx="238.8" cy="111.7" r="1.4"/><circle cx="228.6" cy="93.5" r="1.1"/><circle cx="214.3" cy="119.6" r=".9"/><circle cx="209.4" cy="87.8" r="1.1"/><circle cx="220.1" cy="101.6" r="1.2"/><circle cx="230.5" cy="121.4" r="1.3"/><circle cx="270.2" cy="161.2" r="1.3"/><circle cx="286.4" cy="147.5" r="1.3"/><circle cx="224.6" cy="103" r="1.2"/><circle cx="271.1" cy="133.8" r="1.3"/><circle cx="232.2" cy="101.2" r="1"/><circle cx="279.9" cy="97.3" r="1.3"/><circle cx="210" cy="86.8" r="1.2"/><circle cx="272.9" cy="105.3" r="1.3"/><circle cx="228.6" cy="124" r="1.2"/><circle cx="220.1" cy="160.9" r=".7"/><circle cx="258.8" cy="90.3" r="1"/><circle cx="245.7" cy="105.3" r="1.1"/><circle cx="253.6" cy="103.4" r=".8"/><circle cx="221.7" cy="142.9" r=".8"/><circle cx="241.1" cy="87" r="1.1"/><circle cx="281.9" cy="85.1" r="1.4"/><circle cx="257" cy="127.7" r="1"/><circle cx="235.3" cy="139.1" r="1.1"/><circle cx="229.9" cy="149.2" r=".9"/><circle cx="252.1" cy="103.9" r=".9"/><circle cx="234" cy="167" r=".9"/><circle cx="241.3" cy="124.1" r="1.1"/><circle cx="274.7" cy="116.5" r=".8"/><circle cx="274.6" cy="121.3" r="1"/><circle cx="255.8" cy="151.3" r="1.1"/><circle cx="257.5" cy="124.7" r="1.3"/><circle cx="291.2" cy="133.1" r="1"/><circle cx="230.8" cy="154.7" r="1.3"/><circle cx="208.4" cy="101" r="1.4"/><circle cx="241.8" cy="158.9" r=".8"/><circle cx="259.5" cy="102.9" r="1.1"/><circle cx="252.3" cy="138.4" r=".7"/><circle cx="220.5" cy="122.7" r=".8"/><circle cx="241.5" cy="84.2" r="1.3"/><circle cx="276" cy="86.5" r="1.1"/><circle cx="240.6" cy="112.7" r="1.1"/><circle cx="239.1" cy="115.6" r="1"/><circle cx="227.2" cy="164.9" r="1.1"/><circle cx="269" cy="123.5" r="1"/><circle cx="241.1" cy="153.1" r="1.3"/><circle cx="226.3" cy="84" r=".9"/><circle cx="210.1" cy="105.7" r=".9"/><circle cx="287.5" cy="113" r=".9"/><circle cx="229.4" cy="131" r="1"/><circle cx="282.3" cy="103.1" r="1"/><circle cx="240.7" cy="103.1" r="1"/><circle cx="275.6" cy="160" r=".9"/><circle cx="280.9" cy="141.7" r="1"/><circle cx="239.5" cy="118.3" r="1.3"/><circle cx="277.6" cy="145.4" r="1.2"/><circle cx="286.3" cy="99.9" r=".9"/><circle cx="241.7" cy="129.7" r="1.1"/><circle cx="279.1" cy="116.7" r=".9"/><circle cx="271.4" cy="139.6" r=".8"/><circle cx="214.4" cy="119.5" r="1.3"/><circle cx="229.8" cy="148.2" r=".8"/><circle cx="219" cy="169" r="1.3"/><circle cx="280.2" cy="116.5" r="1.3"/><circle cx="290.6" cy="155.8" r=".7"/><circle cx="217" cy="115.5" r=".9"/><circle cx="251.2" cy="104.3" r="1"/><circle cx="252.5" cy="86" r="1"/><circle cx="282.3" cy="138.6" r="1.1"/><circle cx="280.2" cy="154.7" r=".9"/><circle cx="279.7" cy="152.3" r="1.2"/><circle cx="228.7" cy="160.6" r=".9"/></g><g fill="#6f52ad" opacity="0.6"><circle cx="254.3" cy="98.7" r="1.4"/><circle cx="253.6" cy="157.8" r="1.1"/><circle cx="225.8" cy="103" r="1.2"/><circle cx="274.5" cy="126.8" r=".8"/><circle cx="284.5" cy="131.2" r="1.3"/><circle cx="249.3" cy="97.2" r=".8"/><circle cx="243.8" cy="122.2" r="1.2"/><circle cx="242.5" cy="149.3" r="1"/><circle cx="226.9" cy="149.4" r=".8"/><circle cx="212.2" cy="127.4" r="1.3"/><circle cx="255" cy="169" r=".9"/><circle cx="210" cy="96.9" r=".8"/><circle cx="238" cy="94" r=".8"/><circle cx="235.9" cy="108.8" r="1.2"/><circle cx="289.9" cy="126.3" r=".8"/><circle cx="287.9" cy="134.6" r=".8"/><circle cx="217.1" cy="94.2" r="1"/><circle cx="240" cy="116.2" r=".9"/><circle cx="220.9" cy="130.4" r="1.3"/><circle cx="291" cy="147" r="1.3"/><circle cx="268.3" cy="138.9" r=".7"/><circle cx="279" cy="92.3" r="1.4"/><circle cx="258.8" cy="139.9" r="1.4"/><circle cx="209" cy="100.5" r=".8"/><circle cx="210.8" cy="134.6" r="1.1"/><circle cx="280.9" cy="124.5" r="1.2"/><circle cx="289" cy="108.2" r="1"/><circle cx="289.7" cy="93.4" r="1"/><circle cx="269.6" cy="104.9" r="1.4"/><circle cx="249" cy="109" r=".7"/><circle cx="289.9" cy="150.4" r="1.1"/><circle cx="245.8" cy="155" r="1.2"/><circle cx="209.8" cy="89" r=".8"/><circle cx="249.6" cy="102.2" r="1.3"/><circle cx="247.3" cy="157" r="1.4"/><circle cx="278.6" cy="160.3" r=".8"/><circle cx="262.4" cy="94.1" r="1"/><circle cx="225.9" cy="167.2" r="1"/><circle cx="286" cy="102.4" r=".9"/><circle cx="260.3" cy="117.9" r="1.4"/><circle cx="212" cy="87.3" r="1.3"/><circle cx="274.3" cy="150.2" r=".9"/><circle cx="250.4" cy="92.7" r="1.3"/><circle cx="260.2" cy="129" r="1"/><circle cx="248.7" cy="120" r=".9"/><circle cx="219.1" cy="143" r="1.4"/><circle cx="224.5" cy="168.5" r=".9"/><circle cx="256.5" cy="127.8" r=".9"/><circle cx="255.9" cy="144.4" r="1.2"/><circle cx="247.8" cy="147.3" r="1"/><circle cx="224.5" cy="94.6" r=".7"/><circle cx="258.2" cy="165.6" r="1.1"/><circle cx="247.5" cy="124.3" r="1.3"/><circle cx="280.4" cy="146.2" r="1.1"/><circle cx="251.9" cy="100.4" r=".9"/><circle cx="231.7" cy="147.2" r="1.3"/><circle cx="225.1" cy="85.5" r="1"/><circle cx="229.9" cy="106.4" r="1"/><circle cx="257.6" cy="160.2" r="1"/><circle cx="245.8" cy="106.7" r="1.1"/><circle cx="218.6" cy="159.5" r=".8"/><circle cx="269.7" cy="126" r="1.1"/><circle cx="256.4" cy="139.9" r="1.4"/><circle cx="291.4" cy="120" r="1.2"/><circle cx="237.2" cy="98.6" r="1"/><circle cx="224.4" cy="142.8" r="1.3"/><circle cx="272" cy="151.8" r="1.2"/><circle cx="281.1" cy="144.1" r=".9"/><circle cx="256.9" cy="112.5" r="1"/><circle cx="287.6" cy="99.8" r="1.2"/><circle cx="260.7" cy="121.9" r=".9"/><circle cx="259.4" cy="164.9" r="1.4"/><circle cx="265.2" cy="96.9" r="1.2"/><circle cx="273.2" cy="161.5" r=".8"/><circle cx="205.9" cy="157.9" r="1.3"/><circle cx="279" cy="149.2" r="1.3"/><circle cx="283.1" cy="116.9" r="1.3"/><circle cx="257.3" cy="140.1" r=".9"/><circle cx="255.3" cy="113.1" r="1.3"/><circle cx="282.3" cy="142.4" r="1.1"/><circle cx="217.2" cy="141.4" r="1.2"/><circle cx="272.7" cy="102.9" r="1.1"/><circle cx="252.8" cy="147.5" r=".8"/><circle cx="239.5" cy="131.4" r="1.2"/><circle cx="284.8" cy="87" r="1.2"/><circle cx="245.8" cy="129.8" r="1.4"/><circle cx="257.3" cy="117.5" r="1.3"/><circle cx="227.7" cy="113.5" r=".8"/><circle cx="213.6" cy="117.7" r=".9"/><circle cx="225.2" cy="102.7" r="1.4"/><circle cx="280.9" cy="146" r=".9"/><circle cx="256.9" cy="97" r=".9"/></g><g fill="#6f52ad" opacity="0.8"><circle cx="225.7" cy="129.4" r=".8"/><circle cx="260.7" cy="98.5" r="1.3"/><circle cx="254.7" cy="162.6" r=".9"/><circle cx="283.8" cy="118.8" r="1.2"/><circle cx="229.7" cy="135.7" r="1"/><circle cx="241.9" cy="96.5" r="1.3"/><circle cx="252.7" cy="102.5" r="1.2"/><circle cx="216.1" cy="108.7" r=".9"/><circle cx="257.1" cy="156.5" r="1.3"/><circle cx="277.4" cy="145.6" r="1.4"/><circle cx="228.8" cy="89.6" r="1.3"/><circle cx="250.7" cy="150.4" r=".8"/><circle cx="279.4" cy="160.5" r="1.1"/><circle cx="229" cy="110.1" r=".9"/><circle cx="213.5" cy="85.3" r=".9"/><circle cx="215" cy="97.4" r="1.3"/><circle cx="216.3" cy="145" r="1"/><circle cx="283.9" cy="151" r=".8"/><circle cx="273.7" cy="132.5" r=".8"/><circle cx="241.9" cy="131.7" r="1.2"/><circle cx="282.4" cy="120.5" r="1.3"/><circle cx="221.1" cy="104.8" r=".8"/><circle cx="272.3" cy="141.1" r=".8"/><circle cx="260.3" cy="97" r="1"/><circle cx="248.5" cy="87.2" r="1.4"/><circle cx="291" cy="124.6" r="1.3"/><circle cx="243.1" cy="139.3" r="1.4"/><circle cx="244.6" cy="123" r="1.1"/><circle cx="277.8" cy="107" r=".7"/><circle cx="233.1" cy="159.4" r="1.2"/><circle cx="237.2" cy="156.7" r=".9"/><circle cx="243.8" cy="136" r=".9"/><circle cx="249.6" cy="158" r="1"/><circle cx="252.1" cy="146.5" r="1"/><circle cx="212.6" cy="134" r="1.3"/><circle cx="221.3" cy="162.5" r="1.2"/><circle cx="288.4" cy="101.4" r="1.3"/><circle cx="290" cy="112.8" r="1.1"/><circle cx="278.1" cy="95.4" r="1.1"/><circle cx="260.6" cy="112.2" r="1.1"/><circle cx="269.5" cy="148.3" r=".8"/><circle cx="209.9" cy="103.7" r="1.4"/><circle cx="240.9" cy="119.6" r="1.3"/><circle cx="235.3" cy="116.7" r=".7"/><circle cx="283.5" cy="138.2" r="1.3"/><circle cx="260.4" cy="117.4" r="1.4"/><circle cx="282.4" cy="89.3" r="1.2"/><circle cx="228.2" cy="110.9" r="1"/><circle cx="224.1" cy="88.2" r="1.1"/><circle cx="228.4" cy="150.5" r="1.2"/><circle cx="254.3" cy="160.3" r=".7"/><circle cx="210.6" cy="146.5" r="1.4"/><circle cx="290.9" cy="98.8" r="1"/><circle cx="246.9" cy="98.5" r=".8"/><circle cx="220.1" cy="169.1" r="1.4"/><circle cx="209.6" cy="101.3" r="1.4"/><circle cx="238.5" cy="142.2" r=".7"/><circle cx="242.5" cy="127.1" r=".8"/><circle cx="206" cy="138.4" r=".9"/><circle cx="207.3" cy="119.9" r="1.4"/><circle cx="269.1" cy="128.2" r="1.1"/><circle cx="214.3" cy="135.5" r=".9"/><circle cx="290.8" cy="165.2" r="1.1"/><circle cx="261.8" cy="161.5" r="1.4"/><circle cx="261.4" cy="122.9" r="1.4"/><circle cx="246.7" cy="169.3" r="1.4"/><circle cx="249.2" cy="151.6" r="1.4"/><circle cx="282.2" cy="110.9" r="1.3"/><circle cx="226.6" cy="109.1" r="1.1"/><circle cx="207.2" cy="166.8" r=".9"/><circle cx="275.3" cy="105.5" r=".9"/><circle cx="238" cy="106.9" r="1.1"/><circle cx="255.2" cy="107.2" r=".8"/><circle cx="231.9" cy="90.3" r=".8"/><circle cx="255.3" cy="154.9" r="1.1"/><circle cx="262.8" cy="131.6" r="1.4"/><circle cx="275.7" cy="155.7" r="1"/><circle cx="235.1" cy="117.5" r="1"/><circle cx="229.2" cy="140.3" r="1.4"/><circle cx="282.7" cy="145.5" r=".8"/><circle cx="244.7" cy="124.3" r=".7"/><circle cx="255.2" cy="129.7" r="1.1"/><circle cx="226.9" cy="125.6" r="1.2"/><circle cx="226.2" cy="119.7" r="1"/><circle cx="268.6" cy="158.4" r="1.2"/><circle cx="226.5" cy="120.1" r="1.2"/><circle cx="280.6" cy="132.6" r=".8"/><circle cx="224.5" cy="164.8" r="1.4"/><circle cx="206.7" cy="98.2" r=".8"/><circle cx="265.8" cy="101.3" r="1.2"/><circle cx="212.7" cy="110" r="1.3"/></g><g fill="#9878c6" opacity="0.6"><circle cx="219.3" cy="155.5" r="1.1"/><circle cx="276.3" cy="148" r="1.1"/><circle cx="275" cy="127.2" r="1.4"/><circle cx="219.8" cy="169" r="1"/><circle cx="211.9" cy="136.6" r="1.3"/><circle cx="268.7" cy="87.2" r=".7"/><circle cx="228.3" cy="110.8" r=".8"/><circle cx="215.2" cy="126.3" r="1.4"/><circle cx="246.5" cy="139.7" r="1.3"/><circle cx="282.1" cy="163.4" r="1"/><circle cx="261.2" cy="104.8" r="1.1"/><circle cx="236.8" cy="94.8" r="1.2"/><circle cx="268.2" cy="152.7" r=".9"/><circle cx="249.6" cy="135.8" r="1.3"/><circle cx="266.5" cy="122.1" r="1.4"/><circle cx="246.6" cy="104.6" r=".8"/><circle cx="239.8" cy="95.5" r="1.4"/><circle cx="221.2" cy="160.3" r=".9"/><circle cx="258.1" cy="106.1" r="1.4"/><circle cx="210.4" cy="129.3" r="1.3"/><circle cx="262.4" cy="115.8" r="1.3"/><circle cx="230.2" cy="109.5" r=".9"/><circle cx="248" cy="149.7" r=".8"/><circle cx="224.9" cy="143.5" r="1.2"/><circle cx="265.4" cy="161.4" r="1.3"/><circle cx="235" cy="133.2" r="1.1"/><circle cx="225.7" cy="153.3" r="1.2"/><circle cx="206.9" cy="157.9" r=".7"/><circle cx="247.9" cy="99.6" r=".8"/><circle cx="208.5" cy="97" r=".9"/><circle cx="220" cy="86.4" r="1.4"/><circle cx="208.7" cy="92.6" r="1"/><circle cx="239" cy="118.1" r="1.3"/><circle cx="275.3" cy="157.5" r=".9"/><circle cx="260.8" cy="99" r="1.3"/><circle cx="251.9" cy="136.1" r="1.3"/><circle cx="276.5" cy="162.5" r="1.4"/><circle cx="255.5" cy="155.3" r="1.2"/><circle cx="274.1" cy="94.8" r="1.3"/><circle cx="238.6" cy="163.9" r="1.2"/><circle cx="217.8" cy="153.2" r=".7"/><circle cx="230.7" cy="164.2" r="1"/><circle cx="246.6" cy="110" r="1.4"/><circle cx="232.9" cy="114.7" r="1"/><circle cx="269.5" cy="108.3" r="1.2"/><circle cx="246.7" cy="120.6" r=".8"/><circle cx="286.2" cy="159.5" r="1.2"/><circle cx="279.9" cy="135.3" r="1.4"/><circle cx="271.3" cy="120.1" r="1.3"/><circle cx="266.5" cy="95.8" r="1.3"/><circle cx="275.9" cy="104.6" r="1.3"/><circle cx="218.5" cy="140.3" r="1"/><circle cx="207.4" cy="85.1" r="1"/><circle cx="235.8" cy="146.5" r="1"/><circle cx="226.1" cy="113.7" r="1.4"/><circle cx="216.8" cy="166.1" r=".9"/><circle cx="264.6" cy="150" r="1.1"/><circle cx="246.5" cy="146.3" r="1.2"/><circle cx="220.3" cy="151.9" r="1.2"/><circle cx="230.2" cy="100.5" r=".8"/><circle cx="259.9" cy="162.7" r="1.2"/><circle cx="242.6" cy="165.4" r=".7"/><circle cx="278.9" cy="158.7" r="1.2"/><circle cx="230" cy="86.5" r=".8"/><circle cx="206.9" cy="129.3" r=".9"/><circle cx="247.5" cy="98.2" r="1.3"/><circle cx="266.5" cy="127.4" r=".9"/><circle cx="272" cy="169" r="1.1"/><circle cx="234.3" cy="130.2" r=".9"/><circle cx="264.4" cy="94" r=".9"/><circle cx="240.1" cy="133.7" r=".8"/><circle cx="237.4" cy="106.7" r=".8"/><circle cx="252.7" cy="133.3" r="1.3"/><circle cx="246.8" cy="96.8" r="1.3"/><circle cx="270.8" cy="160.1" r="1.2"/><circle cx="220" cy="129.7" r="1.2"/><circle cx="216.9" cy="146.8" r="1.1"/><circle cx="227.2" cy="129.4" r="1"/><circle cx="281.4" cy="154.5" r="1.3"/><circle cx="243.6" cy="123.4" r=".9"/><circle cx="212.6" cy="105.7" r=".9"/><circle cx="262.3" cy="148.4" r=".7"/><circle cx="230.1" cy="111" r="1.2"/><circle cx="237.1" cy="128.4" r="1.3"/><circle cx="262.5" cy="143.1" r="1.1"/><circle cx="249.7" cy="142.2" r=".7"/><circle cx="283" cy="123.2" r=".9"/><circle cx="246.3" cy="141.3" r="1.4"/><circle cx="274.8" cy="92.6" r=".8"/><circle cx="224.8" cy="127" r="1"/><circle cx="281.9" cy="165.3" r="1.1"/><circle cx="222.7" cy="141.8" r=".9"/><circle cx="253.1" cy="94" r="1"/><circle cx="216.6" cy="133.6" r=".8"/><circle cx="267.4" cy="90.1" r=".7"/><circle cx="225.1" cy="122.8" r=".9"/><circle cx="219.7" cy="161.2" r=".8"/><circle cx="209.7" cy="97" r="1.2"/></g>
</g>
<g fill="#dccbec" opacity="0.5"><circle cx="230.3" cy="88.8" r=".9"/><circle cx="239.4" cy="156.5" r=".7"/><circle cx="287.5" cy="158.7" r=".7"/><circle cx="223.5" cy="126.9" r=".5"/><circle cx="254.3" cy="86.6" r=".5"/><circle cx="279.6" cy="134.2" r=".6"/><circle cx="243.8" cy="112.2" r=".9"/><circle cx="243.1" cy="130.8" r=".8"/><circle cx="260.5" cy="87.4" r=".6"/><circle cx="281.4" cy="148.6" r=".8"/><circle cx="212" cy="84.3" r=".7"/><circle cx="232.2" cy="140.6" r=".7"/><circle cx="271.2" cy="97.5" r=".5"/><circle cx="282.8" cy="92.2" r=".6"/><circle cx="278.2" cy="89.1" r=".9"/><circle cx="261.5" cy="86" r=".5"/><circle cx="234" cy="101.5" r=".7"/><circle cx="266.6" cy="108.7" r=".6"/><circle cx="250.3" cy="84.7" r=".9"/><circle cx="206.2" cy="115.4" r=".8"/><circle cx="288.9" cy="83.5" r=".8"/><circle cx="222.7" cy="125.1" r=".6"/><circle cx="255.9" cy="108.8" r=".7"/><circle cx="207.6" cy="159.5" r=".8"/><circle cx="214.7" cy="158.3" r=".8"/><circle cx="286.4" cy="143.7" r=".7"/><circle cx="283.8" cy="102.8" r=".9"/><circle cx="260.2" cy="144" r=".7"/><circle cx="262.5" cy="140" r=".8"/><circle cx="253.1" cy="165.3" r=".6"/><circle cx="270.6" cy="126.3" r=".8"/><circle cx="259.9" cy="97.5" r=".9"/><circle cx="242.1" cy="115.1" r=".9"/><circle cx="228.5" cy="93" r=".9"/><circle cx="222.8" cy="153" r="1"/><circle cx="240.4" cy="155.5" r="1"/><circle cx="215.5" cy="108.4" r=".9"/><circle cx="231.2" cy="102.2" r="1"/><circle cx="217.1" cy="127.1" r=".6"/><circle cx="225.4" cy="133.6" r=".6"/><circle cx="215.4" cy="87.8" r=".7"/><circle cx="212.2" cy="137.8" r=".6"/><circle cx="206" cy="85.6" r=".7"/><circle cx="260.6" cy="95.3" r=".9"/><circle cx="215" cy="123" r=".8"/><circle cx="248.5" cy="154.3" r=".9"/><circle cx="290" cy="110.3" r=".6"/><circle cx="214.1" cy="96.6" r=".9"/><circle cx="235" cy="165.7" r=".7"/><circle cx="281.7" cy="146.4" r=".5"/><circle cx="208.5" cy="92" r="1"/><circle cx="213.9" cy="162.8" r=".9"/><circle cx="210.5" cy="106.2" r=".8"/><circle cx="253.5" cy="98.1" r=".8"/><circle cx="278.6" cy="103.3" r=".6"/><circle cx="263.5" cy="154.8" r=".7"/><circle cx="239.3" cy="133" r=".5"/><circle cx="246.1" cy="104.2" r=".8"/><circle cx="264.4" cy="99.4" r=".6"/><circle cx="226.5" cy="135.4" r=".9"/><circle cx="216.4" cy="149.1" r="1"/><circle cx="278.1" cy="165.3" r=".9"/><circle cx="216.9" cy="142.1" r=".8"/><circle cx="257.5" cy="84.4" r=".8"/><circle cx="241.8" cy="111.7" r=".6"/><circle cx="257.2" cy="148.9" r=".7"/><circle cx="206.5" cy="152.8" r=".7"/><circle cx="268.1" cy="117.8" r=".8"/><circle cx="271.1" cy="140.3" r=".6"/><circle cx="267" cy="146.1" r="1"/></g>
</g>
<rect x="210.3" y="79.9" width="25.5" height="2.8" fill="#000" stroke="none" stroke-width="1"/>
<rect x="212" y="161.2" width="25.7" height="3.1" fill="#000" stroke="none" stroke-width="1"/>
<rect x="138.1" y="37.2" width="6.5" height="6.2" fill="none" stroke="#000" stroke-width="1.1"/>
<line x1="144.6" y1="37.2" x2="206.6" y2="1.2" stroke="#000" stroke-width="1.1"/>
<line x1="144.6" y1="43.4" x2="206.6" y2="84.4" stroke="#000" stroke-width="1.1"/>
<rect x="157" y="108.8" width="5.7" height="5.6" fill="none" stroke="#000" stroke-width="1.1"/>
<line x1="162.7" y1="108.8" x2="206.6" y2="84.4" stroke="#000" stroke-width="1.1"/>
<line x1="162.7" y1="114.4" x2="206.6" y2="168.4" stroke="#000" stroke-width="1.1"/>
<rect x="24.4" y="0" width="266.7" height="1.8" fill="#5a5a5a" stroke="none" stroke-width="1"/>
<line x1="24.4" y1="0" x2="24.4" y2="168.9" stroke="#333" stroke-width="1.1"/>
<line x1="38.6" y1="0" x2="38.6" y2="168.9" stroke="#333" stroke-width="1.2"/>
<line x1="122.4" y1="0" x2="122.4" y2="168.9" stroke="#444" stroke-width="1.0"/>
<line x1="206.6" y1="0" x2="206.6" y2="168.9" stroke="#333" stroke-width="1.2"/>
<line x1="290.6" y1="0" x2="290.6" y2="168.9" stroke="#222" stroke-width="1.1"/>
<line x1="24.4" y1="84.4" x2="290.6" y2="84.4" stroke="#3a3a3a" stroke-width="1.1"/>
<line x1="24.4" y1="168.4" x2="291.1" y2="168.4" stroke="#222" stroke-width="1.1"/>
<text x="35.3" y="46.3" font-size="8.0" text-anchor="middle" transform="rotate(-90 35.3 46.3)">H1573<tspan font-size="4.6" dy="-3.2">&#916;GFP</tspan></text>
<text x="35.3" y="128.6" font-size="8.0" text-anchor="middle" transform="rotate(-90 35.3 128.6)">H1573<tspan font-size="4.6" dy="-3.2">&#916;GDF15</tspan></text>
<text transform="translate(-0.4 547.6) scale(0.82 1)" font-size="14.8" font-weight="bold" stroke="#000" stroke-width="0.3">L</text>
<rect x="10.2" y="540.3" width="83.4" height="9.8" fill="#fff" stroke="none" stroke-width="1"/>
<text x="50.1" y="547.9" font-size="8.0" text-anchor="middle" fill="#000">PBS</text>
<g clip-path="url(#lm0)"><rect x="10.2" y="550.1" width="83.4" height="72.2" fill="#1c9c1c"/>
<path d="M12.7 562.7l0-1.4-.4-1.6-3.1-7.3-1.7-1.2-18.8-1.1-.2 .7 19.1 14.9 1.8 .1 2.4-2zM11.4 579.7l1.3 3-.5 1.8-4.7 3.8-2 .3-17.6-8.7 0-.9 15.7-4.8 2.1 .4 4.3 3.3zM6.6 590.6l.7 3.3-.8 1.9-7.8 6.2-2.1 .8-1302.8 28.6 0 0 1290.7-52.1 2.2 .5 18.6 9.2zM6.7 596.1l-7.2 5.8 .1 1.3 7.8 4.3 1.2-.6 1.5-9.2-.3-1.4-1.6-.7zM9.5 620.3l-2.1 1.8-1.9 .6-1862.8 26.9 0 0 548.1-18.1 2.4 0 1303.3-28.7 2.3 .5 8.4 4.8 1.3 .8 .9 .7 .3 1.4 .5 7.5zM25.9 551.1l.5 1.3-.9 1-11.2 6.4-1.5-.5-3-7.2 .2-1.8 1.9-2 1.7-.7 2.9 0 2.1 .4 6 2.3zM22.6 571.7l-10.1 5.8-2-.1-4.3-3.3-.3-1.8 2.5-4.3 1.4-1.7 2.4-1.9 1.9-.1 7.2 4.1 1.3 1 .8 1.3zM24.2 571.9l.6 .5 0 1.3-2.5 11.3-.4 1.4-.7 .4-1.3-.4-4.9-2.2-1.5-1.5-1.3-3.1 .6-1.6 10.1-5.7zM20.4 588.8l-.7 4.5-.5 1.7-.9 1.4-1.5 .3-4.8-.6-1.7-.4-1.6-.7-.7-1.2-.6-3.1 .7-1.8 4.6-3.7 2-.3 4.8 2.2zM10 609.2l-.8-.7-.1-1.4 1.5-9.3 1.4-1 4.8 .6 1.4 1.3 .5 3.4-.8 1.8-6.7 4.8zM13.9 619.6l-2.2-.2-.8-1.3-.4-7 .9-1.9 6.8-4.8 1.9-.1 3.4 2.4 1.1 1.1 .5 1-.7 1.2-8.9 8.8zM13.8 620.4l-2.3-.2-1.5 .5-2.1 1.7-.4 1.7 26.6 96.6 .3-.1-3.3-62-.4-2.3-9.3-31.1-1.4-1.7-4.4-2.4zM26.8 549.1l10.6-26.8 .3-2.3-.8-9.8-.6-.1-17.9 35.8 .5 1.5 6.3 2.4zM23.2 567.3l4.9-11.1 .1-1.5-1.1-1.1-1.4 .2-11.2 6.5-1.1 1.1 0 1.3 1 1.1 7.3 4zM24.7 571l.6 .6 .4 .2 .5 0 1-.8 7.3-6.6 .5-2-1.8-4.8-1.1-1.3-2.4-.7-1.2 .9-4.9 11.1-.2 1.5 .8 1.3zM32.4 584.3l-3.8 1.8-2.1 .4-3-.3-.7-1.2 2.5-11.2 .4-1.2 .5 0 .8 .3 1.9 1 1.1 1.4 3 7.3zM33.5 595.8l-5.4-7.4-1.7-1.1-2.9-.3-1.2 .1-.7 .4-.4 1.3-.7 4.5 .9 1.5 9.9 2.3 1.5 .2 1-.4zM31 597.7l-9.8-2.4-1.4 .2-.9 1.5-.1 1.5 .5 3.4 1.2 1.8 3.2 2.3 1.8-.2 5.9-6.9zM15.9 619.1l8.9-8.8 1.5-.3 2.1 1.5 .7 1.7-.2 4.9-1.1 1.7-5.5 3-2.1 0-4.1-2.3zM21.7 625.2l9.1 30.3 .5 0 2.6-17.5 0-2.4-1.4-12-.8-1.7-1.9-1.5-1.7 0-5.6 3.1zM42.2 547.5l.6-9.9-.4-2.3-4.1-12.2-.8-.1-10.5 26.4-.2 1.5 .4 1.3 .6 .8 1.1 1.1 1.1 .6 2.4 .6 1.9-.3 4.8-2.3 1.5-1.3 1.1-2zM39.2 553.4l-4.6 2.3-.7 1.6 1.7 4.7 1.2 1.6 2.1 1.3 1.6-.4 3.8-3.8 .2-1.8-3.5-5zM39.6 573.1l1.3-1.5 .1-1.5-1.2-3-1.1-1.5-2.2-1.3-1.6 .4-7.1 6.5-.3 1.1 1.9 1 1.8 .3 6.8 0zM40.1 583.4l-.8-8-1.3-1.2-6.7 0-.8 1.1 3.1 7.3 1.6 1.3 3.8 .5zM36.6 595.7l5.2-7.4 .2-1.4-1.3-1.2-1.7-.6-3.8-.6-2.2 .4-3.9 1.9-.3 1.5 5.3 7.3 .9 1 .6 .1zM40.8 608.2l-.4 .6-1.3 .4-8.2 1.9-1.9-.3-2.1-1.5-.9-.9-.5-1 .6-1.2 6.1-7.1 1.1-1 1-.4 .6-.2 .6 .1 .9 1 4 6.2 .6 1.5-.1 1.3zM30.1 619.7l1.9 1.5 1.7 .2 7.2-2.1 .9-1.5-1.3-7-1.4-.9-8.1 1.9-1.3 1.4-.2 4.8zM41.1 619.8l-7.2 2.1-1 1.5 1.4 11.7 .7 .2 7.7-13.7 .4-1.2-.6-.7zM53.5 553.6l-9.5-4.4-1-1.6 .6-9.7 1-.5 12.2 9.4 1.1 1.5 .4 2.2 0 .9-.4 .7-.8 .6-1.8 1zM53.1 554l-9.3-4.3-1.5 .2-1.1 2 .3 1.6 3.6 5.1 1.6 1.2 2.8 .5 1.5-.8 2.6-4zM49.4 561.1l-2.7-.6-1.8 .6-3.8 3.8-.5 1.8 1.2 3.1 1.5 1 5.4 .4 1.3-1.2 .8-6 0-1.5-.3-.9zM42.6 586.4l-1.3-1.3-.6-1.6-.8-8.1 .4-1.7 1.3-1.5 1.6-.5 5.5 .4 1.9 .8 2.1 2.1 .3 1.9-2.4 7-.9 1.5-1.8 1.2-1.4 .3-2.6-.1zM40.9 604.3l-4-6.2 .1-2 5.3-7.5 1.5-.9 2.5 .1 1.2 1.2 2.3 8-.6 2-6.7 5.6zM43 608.2l6.6 1.4 2.2 0 2.9-1 .5-1.4-3-6.8-.7-1.2-.8-.3-1.2 .7-6.7 5.5-.9 1.2-.1 1.3zM41.5 608.9l-.4 .6 .1 1.3 1.3 6.9 .5 1.5 .6 .7 1.3 .7 4.4 1.8 1.3 .4 .5-.3 .1-1.3-.5-9.4-1.2-1.5-6.7-1.4zM43 621.9l-8.2 14.4-.7 2.2-2.6 18-.1 2.4 3.3 62.2 .2 2.4 .4 3.5 .3-.1 14.8-101.9-.9-1.7-4.8-2zM54.2 555.7l-2.5 4.1-.6 1.3 .4 .9 1.2 .6 9.3 2 .7-.8-4.3-9.7-1.1-.7-1.9 1zM63.5 565.7l.1 .1-.3 1.2-1.5 4.7-.5 1.3-.5 .5-1.4 .5-4.1 .9-1.9-.5-2.1-2.1-.5-1.9 .7-6.1 1.4-1 9.3 2zM61.8 589.5l-9.7-3.9-.8-1.6 2.4-7 1.6-1.4 4.2-.9 1.8 .8 5.3 10.3-.3 1.7-2.6 1.8zM50.4 596.9l-2.3-8 .3-1.6 1.7-1.1 1.7 0 9.7 3.8 .9 1.7-.6 3.5-1.4 1.4-7.2 1.7-1.4 .2-.8-.4zM53.6 599l7.1-1.7 1.7 .8 1.8 3.2-.1 2.1-3.1 4.9-1.4 .8-2.4-.7-1.3-1.4-3-6.7zM51.4 611.7l.5 9.4 .9 1.1 2.4-.5 1.7-1 4.4-4.1 .5-1.9-1.2-3.4-1.2-1.4-2.4-.7-1.8 0-2.9 1zM67.7 551.3l-7.3-.2-1.4-.8-.4-2.3 .5-1.7 15-21.9 .7 .2 .8 8.8-.1 2.4-1.9 9.5-1 2-2.9 3.2zM71.2 561.7l-.5 .8-1.3 .7-4.1 1.6-1.2 .3-.2-.1-.5-1.2-4.4-9.8-.4-1.3 .5-.7 1.3-.1 7.1 .2 1.5 1.2 2 7zM62.6 571.8l1.5-4.7 1.5-1.6 4.2-1.6 1.7 .6 5 8.1 .6 1.1-.1 .2-.5 .4-1.3 .9-1.6 0-10.2-2zM70.4 585.5l3.6-8.4-.7-1.4-10.2-2-1.3-.1-.5 .5 .4 1.3 5.3 10.2 1 1 1.5 0zM73.2 597.9l-1.2 3.1-1.6 1-3.9-.2-1.7-1.1-1.8-3.2-.3-2.2 .5-3.6 1.1-1.7 2.5-1.8 1.3-.7 1.4 0 1 .2 1.3 .8 .6 1.5 1 5.6zM72.2 603.7l2.3 2.2-.2 1.5-9.5 7.6-1.1 .7-.6-.2-.6-1.2-1.2-3.4 .2-2.2 3.1-5 1.8-.9 3.9 .1zM77.7 607.8l-1.6-.7-1.5 .5-9.5 7.7 .1 1.4 4.4 3.1 1.6-.4 6.4-10.3zM70.4 622.8l-2 13.6-.9 .2-10.3-13.6 .2-1.8 4.5-4.1 1.1-.8 .6 .2 1.2 .8 4.4 3 1 .8 .3 .4zM81 552.2l4.7-2.9 .3-1.6-9.1-11.8-.9 .2-1.8 9.3 .6 2 4.3 4.5zM80.1 557.8l-.3-3.4-1-2-4.3-4.4-1.6 0-2.8 3.1-.5 2 2 6.9 1.5 .9 6-1.6zM81.3 560.1l2.3 1.2 1 1.6 .9 5.2-.8 1.7-6.1 2.9-1.7-.4-4.9-8.1-.5-1.3 .5-.8 1.3-.6 6-1.6zM85.1 587.8l.2-.2-.6-1-6.7-10.9-1.1-.7-1.3 .9-1 1.4-3.6 8.4 0 1.4 1.3 .8 1.7 .2 9.8-.3zM81.8 596.3l-6.3 .3-1.4-1.1-1-5.6 1-1.2 9.7-.3 .9 1.1-1.4 5.6zM83.2 598.2l1 5.5-.1 1.7-1.2 1.7-1.2 .6-2.3-.2-1.3-.3-1.6-.7-1.2-1-2.2-2.1-.4-1.8 1.2-3.1 1.6-1.1 6.3-.3zM82.4 609.9l-2.2 10-1.5 1.2-6.3 .1-1.2-.1-.3-.4 .6-1.1 6.4-10.4 1.4-1 2.4 .2 .8 .1 .1 .1zM70.8 623.1l-2.1 14.4 .1 2.3 20.8 137.7 .1 0-1.9-119.1-.2-2.4-4.9-30.8-.7-1.6-1.5-1.3-1.7-.4-6.7 0zM94.9 550.7l1.1-1.3 .2-1.5-13.1-91.1-.3 0-7.5 64.7 0 2.4 .8 9.1 .8 2.1 9.5 12.5 1.9 1.3 5.1 1.8zM81.8 559.4l2.3 1.3 1.8-.3 6.9-5.5 1-1.2 .3-1.5-1.1-.9-4.7-1.7-2.2 .3-4.6 2.8-.9 1.7 .3 3.5zM94.6 555.7l2.5 4.4-.2 1.9-7.3 7.6-1.3 .6-1.4-.8-.6-1.4-1-5.2 .8-1.9 6.9-5.4zM90.4 574.6l-1.2 10.6-.8 1.3-2 .5-1.3-.8-6.7-10.9-.6-1.1 .1-.2 1.1-.5 6.1-3 1.5-.3 1.4 .7 .9 .7 1.2 1.3zM83.9 597.6l1 5.6 1.4 .8 4.6-1.4 1.6-1.3 1.5-2.7 .2-2.1-1.8-6.8-.8-1.4-1.8-.7-1.2-.1-2 .5-.7 .3-.2 .1-.3 1.2-1.4 5.6zM84.2 609.1l6.9 6.1 1.7 0 5.1-5.4-.1-1.6-4.8-4.3-2.1-.4-4.6 1.4-1.5 .9-1.2 1.7-.4 .6 .1 .2zM84 609.7l6.9 6.1 1 1.2 .1 1.1-1 .9-7.2 3.7-1.5 .2-1.4-1.2-.2-1.6 2.2-10zM92.7 619.3l.9 1 .1 1.5-5.6 33.4-.4 0-4.8-30.1 .9-1.8 7.5-3.8zM113.3 572.9l-21 .1-1.6-.4-1.2-1.4 .4-1.3 7.5-7.7 1.8-.2 14.3 10.2zM116 573.6l14.9 4.7 0 .7-37.1 8.6-1.7 .1-1.8-.7-.5-1.4 1.3-11.1 1.3-1.2 21.3-.1zM95 596.7l-1.9-7.4 .8-1.4 38-8.9 2.3-.2 300.9 28.5 0 .1-275-2-2.4-.1-61.2-7.3zM96.4 598.1l60.3 7.2 0 .2-55.9 3.3-2.1-.7-5.2-4.5-.3-1.7 1.5-3z" fill="#010901" filter="url(#soft)"/>
</g>
<rect x="66.4" y="616.1" width="21" height="1.6" fill="#fff" stroke="none" stroke-width="1"/>
<text x="76.9" y="620.4" font-size="2.6" fill="#fff" text-anchor="middle">100 &#956;m</text>
<g clip-path="url(#la0)">
<rect x="10.2" y="622.3" width="83.4" height="72.6" fill="#a07ebe" stroke="none" stroke-width="1"/>
<path d="M31.9 648.3l-.2 .7-.2 .4-.6 .7-1.1 .9-2.7 2.1-1.3 .8-1.2 .1-1.5-.4-4.3-2-1.2-.8-.3-1 .5-1.3 4.4-8.7 .7-1.2 .4-.7 .2-.3 .2-.1 .3 .1 .5 .2 .7 .3 1.5 .6 .8 .5 .8 .9 .8 1.4 1.9 4.1 .6 1.3 .2 .9zM30 677.7l-2.7-.4-1.3 .1-1.2 .4-.9 .7-1.5 1.8-.6 1-.4 1.2 .1 1.6 .6 4.2 .4 1.5 .8 .9 .8 .4 1.8 .5 .9 .2 .8 0 .5-.1 .7-.5 .3-.4 .4-.9 .4-1.4 1.7-8.2 .1-1.4-.6-.8zM34.2 611.4l.7-.5 .5-.3 .9-.2 1.5-.3 4.8-.6 1.6-.1 1.1 .1 .8 .3 1.2 .7 .5 .5 .4 1 0 1.5-.3 5.9-.3 1.5-.7 1-1.3 .9-3.7 1.7-1.5 .5-1.2-.2-1.1-.5-1.9-1.4-.9-.9-.6-1.1-.3-1.6-.5-5 0-1.5 .1-.9zM71.4 669.7l-3.4 6.2-.9 1.3-1.1 .7-1.1 .2-2.1 .1-1.1-.2-1-.6-.7-.8-1-1.8-.3-1.1 0-1.2 .5-1.5 1.7-3.8 .9-1.3 1-.8 1.1-.5 2.4-.5 1.2-.1 1.2 .4 .9 .5 1.6 1.5 .5 .8 .2 1.1zM66.2 620.8l4-2.8 1.3-.6 1 .1 .7 .5 1.1 1.5 .5 .9 .3 1.2-.1 1.6-.6 4.6-.4 1.5-.7 .8-.8 .4-1.8 .4-.9 .1-1-.1-.7-.3-1.2-.8-.6-.6-.6-.9-.4-1.3-.6-2.8-.1-1.3 .4-1.1zM67.8 653l-4.3-4.4-1-1.1-.5-.6-.1-.4 0-.5 .3-.4 .6-.6 .8-.7 1.9-1.5 1.1-.6 1.3-.3 1.6 .2 5.3 1 1.4 .5 .7 .8 .2 1.4 0 3.3-.3 1.4-.6 1-1.3 .8-3.2 1.4-1.5 .4-1.2-.2zM34.9 674.1l.6-5.4 .3-1.6 .7-1.1 .7-.7 1.6-1.1 1-.3 1.2 0 1.2 .5 2.7 1.4 1.2 .8 .9 1 .5 1 .7 1.9 .2 1-.1 1.3-.7 1.4-1.7 3.1-.9 1.2-.6 .7-.5 .3-.9 .2-.7 0-.9-.2-1.4-.6-3.2-1.4-1.3-.9-.5-1zM11 661.7l-1.1-2.2-.3-1.1 .1-1.1 .9-1.3 2.6-2.8 1-1.1 .7-.5 .4-.3 .5-.1 .5 .1 .8 .2 1.4 .6 4.2 2 1.4 .8 .7 1.1 .3 1.2 .3 2.8 0 1.4-.5 1.1-.6 .9-1.6 1.3-.9 .5-1.2 .3-1.6-.2-4.8-1.2-1.5-.6-1-.8zM34.8 646.8l6.8-2.3 1.4-.6 .8-.9 .3-1 .4-1.9 0-1.1-.4-1.1-.8-1.1-2-2.1-1-.7-1.1-.2-1.5 .5-7 3.7-1.2 .9-.3 1 .4 1.4 1.9 4.1 .8 1.2 1 .4zM12.2 677.4l.5 1.4 .1 .9-.2 1.1-.6 1.3-1.7 2.9-.9 1.2-1 .7-1.5 .5-3.4 .6-1.4 .2-.9-.2-.4-.3-.5-.9-.3-.6-.3-1-.2-1.4-.4-3.2-.1-1.4 0-1.1 .2-.7 .3-1.1 .4-.6 .9-.5 1.4-.5 3.7-1 1.6-.3 1.1 .2 .8 .5 1.3 1 .6 .7 .6 .8zM102.7 640.7l-3.3 .4-1.4 .4-1.1 .7-.9 1.3-2.2 4.3-.5 1.4 .3 1 1.1 1 6.3 3.7 1.3 .7 .8 .1 .5-.2 .6-.8 .4-.6 .3-.9 .5-1.4 .8-3.2 .3-1.5-.1-1.4-.2-1.2-.6-2.2-.5-.9-1-.6zM77.5 666.8l3.8-1.5 1.4-.6 .8-.5 .4-.4 .4-.6 .2-.5 .1-.9-.1-1.2-.2-2.8-.3-1.3-.6-1.1-1.2-.8-2.8-1.6-1.4-.5-1.3-.1-1.5 .5-3.2 1.4-1.3 .8-.8 1-.4 1.5-.4 3.3 0 1.5 .4 1.2 .7 .9 1.5 1.4 .8 .7 .8 .5 .5 .2 .7 .2 .6 0 .9-.2zM77.7 649l0-3.2 .1-1.4 .2-.9 .3-.6 .7-.7 .5-.4 .8-.3 1-.1 1.8-.1 1 .1 1 .6 .9 1.2 3.1 4.8 .5 1.4-.1 1-.9 1.1-2.5 2.1-1.2 .7-1.2 .1-1.3-.5-2.8-1.5-1.1-.9-.6-1zM78.9 638.6l-1.3-4.4-.2-1.5 .4-.9 1.2-.6 3.2-.9 1.4-.2 1.1 .4 1 .9 2 2.4 .7 1.2-.1 1.1-.5 1-1.7 1.9-.9 .9-1.1 .6-1 .2-1.8 .1-.9-.2-.8-.6zM41 692.6l1.4 1.6 .8 .6 1.2 .3 1.5-.3 3.4-1.3 1.4-.7 .9-1 .6-1 .7-2.2 .2-1.1-.4-1.1-1-1.1-5-3.8-1.2-.9-.9-.4-.6 0-.9 .2-.4 .3-.5 .8-.4 1.4-1.4 6-.2 1.6 .3 1.2zM70.4 689.2l-2.1 1.4-1 .8-.7 1-.4 1-.4 2 0 1 .3 1.3 .8 1.4 2.4 3.6 1 1.2 .9 .6 .9 .3 1.6 .1 .8 0 .9-.1 .7-.2 1.1-.4 .5-.5 .2-.9 0-1.4-1-7.8-.4-1.6-.6-1-.7-.8-1.6-1.1-.9-.4-1.2 .1zM89.5 678.9l-.9 1.2-.3 .5-.3 .5-.1 .3 .1 .3 .2 .3 .5 .6 1 1.1 5 5.1 1.2 1 1.2 .3 1.5-.3 3.3-1 1.3-.5 .8-.5 .4-.4 .3-.6 .1-.6 .1-.9-.1-1.3-.1-3-.3-1.3-.7-.9-1.4-.6-6.1-1.3-1.5-.2-1.2 0-.8 .1-1.3 .5-.7 .4-.7 .6zM88.2 618.7l1-4 .6-1.5 .8-.8 1-.5 2-.6 1.1-.2 1.3 0 1.5 .3 3.2 .9 1.3 .4 .8 .4 .4 .3 .3 .6 .1 .4 .2 1 .2 1.3 .3 3.2 .1 1.5-.1 1.2-.2 .8-.5 1.5-.5 .7-.7 .6-.9 .3-1.9 .3-1 0-1.2-.2-1.5-.7-6.2-3.7-1.2-.9-.5-1.1zM17.1 622.9l-1.9 .2-1 .2-1.1 .6-.9 .6-1.4 1.5-.7 .9-.3 1.2 0 1.5 .5 3.3 .4 1.4 .8 .8 1.5 .5 7.6 1.1 1.4 .2 .8 .1 .4 0 .2-.1 .1-.3 .1-.7 0-1.5 .2-5.4-.2-1.6-.5-1.2-.8-.8-1.9-1.4-1.1-.6-1.2-.4zM40.2 630.7l-.1-2.6 .2-1.2 .6-1 1.3-.8 3.7-1.7 1.4-.5 1.2-.1 .9 .2 1.5 .8 .8 .6 .7 .9 .6 1.5 1.3 4.4 .3 1.5 .2 .9-.1 .5-.3 .7-.3 .4-.8 .4-1.4 .5-4.4 1.2-1.5 .2-1.2-.3-1.1-.8-1.9-2.1-.9-1.1-.5-1.2zM-.8 643.2l-.6 1.7-.2 1-.1 1.3 .1 1.5 .4 3.2 .3 1.4 .3 1 .3 .6 .5 .9 .5 .4 .9 .4 1.4 .2 3.1 .4 1.5-.1 1.2-.4 1.2-1 2.6-2.8 .9-1.3 0-1.1-.6-1.4-4.8-7-1.1-1.1-1.1-.5-1.3 .1-2.7 .6-1.3 .4-.9 .7zM3 703.3l1.2 .6 .7 .3 1.2 .2 1.3 0 3 .1 1.4-.3 1-.6 .7-1.4 2.9-7.1 .4-1.5-.4-1.1-1.1-1-4-2.5-1.5-.8-1.3-.2-1.6 .1-3.3 .6-1.5 .5-.8 .8-.4 .8-.4 1.9-.2 1.1 0 1.3 .2 1.6 .6 3.2 .3 1.3 .2 .8 .1 .3 .1 .2 .2 .2 .4 .3zM77.4 680.3l-2.9 2.1-1.2 1-.6 .8-.2 .8 0 1.3 .2 .8 .5 .8 .7 .6 1.6 1.2 1 .4 1.2 .1 1.2-.3 2.5-1 1.2-.7 1.1-.8 .9-1.1 1.5-2.4 .7-1 .3-.7 .1-.4 0-.3-.2-.2-.7-.3-1.4-.4-3.3-1-1.5-.2-1.3 .2zM47.7 637.9l4.4-1.2 1.5-.2 1.1 .4 1.1 1.1 4.1 5.5 .8 1.2 .4 .7 .2 .5-.1 .5-.3 .3-.6 .6-1.2 .9-3.4 2.4-1.4 .8-1.2 .3-1 0-1.9-.4-1-.4-1-.8-.9-1.2-1.7-2.9-.6-1.4-.3-1.3 .1-1.1 .3-1.9 .4-1 .8-.8zM66.2 663.5l-2.4 .5-1.2 .1-1.3-.2-1.3-.7-2.5-1.7-1.1-.9-.7-1.1-.5-1.5-.6-3.2-.1-1.5 .5-1.1 1.1-1.1 3.4-2.4 1.3-.6 1.1 0 1.2 .9 4.4 4.4 1 1.3 .4 1.2 0 1.5-.4 3.4-.5 1.4-.8 .8zM34.3 674l.6-5.4-.1-1.5-.6-1-1.3-.7-4.6-1.8-1.5-.4-1.2 .2-.9 .5-1.5 1.4-.7 .8-.5 1-.1 1 .1 1.8 .1 1 .5 1.2 .5 1 1.2 1.7 .7 .9 1.1 .6 1.3 .4 2.7 .3 1.3 .2 .9-.1 .5-.1 .7-.3 .3-.4 .3-.8zM87.7 662.8l6.7 .7 1.7 0 1.3-.2 1.2-.5 2.2-1.2 1-.6 .6-.8 .3-.8 0-1.5-.2-.8-.6-.9-1.2-.9-6.3-3.7-1.3-.8-.8-.3-.4-.1-.6 0-.4 .2-.7 .5-1.1 .8-2.5 2.1-1 1.1-.5 1.2-.1 1.3 .2 2.8 .3 1.2 .8 .8zM76.4 670.4l2.3 5.9 .7 1.4 1 .8 1.4 .6 3.3 1 1.4 .3 1-.2 .6-.5 .8-1.2 .3-.8 0-1-.5-1.4-3.9-8.2-.8-1.2-1-.4-1.5 .3-3.8 1.5-1.2 .7-.4 1zM21.7 613l-1.9 6.9-.2 1.6 .4 1.1 .7 .8 1.9 1.4 1.1 .6 1.2 .1 1.5-.4 5.4-2.4 1.3-.8 .6-1.1 .1-1.5-.5-5-.3-1.5-.8-.9-1.3-.6-3.4-1-1.4-.3-1.1-.1-.7 .1-1 .4-.5 .4-.6 .8zM29.1 691.8l-.6 .4-.3 .5-.1 .8 .2 1.5 1.3 7.4 .5 1.5 .7 .9 .9 .4 1.8 .6 1.1 .2 1.3-.1 1.2-.1 2.1-.6 .9-.5 .9-.9 .6-1.4 1-4 .2-1.6-.3-1.2-.5-1-1.4-1.5-.9-.8-1.2-.5-1.5-.2-4.9-.1-1.5 0-.9 .1zM96.9 703.5l-2-5.5-.8-1.3-.9-.6-1.2-.1-2.4 .4-1.3 .3-1.2 .6-1.3 1.1-4.1 4-.8 1.2 .1 .9 .7 .8 2 1.5 1.2 .6 1.3 .4 1.6 .1 4.8-.1 1.5-.1 1.1-.3 .7-.3 .9-.7 .4-.6 .1-.9zM55.5 700.8l-.8 4.4-.5 1.4-.9 .7-1.5 .2-4 0-1.6-.1-1.2-.4-.9-.4-1.3-1-.6-.6-.2-1 .2-1.5 1-4 .5-1.5 .9-.9 1.4-.7 3.4-1.3 1.5-.3 1.1 .3 1 .7 1.6 2 .7 1.1 .3 1.3zM5.9 673.1l-3.8 .9-1.5 .2-1-.3-.6-.7-.9-1.6-.4-1-.3-1.3 0-1.4 .1-3.2 .1-1.5 .4-1.4 .5-1 1.2-1.9 .7-.9 1.1-.5 1.4-.1 3.2 .4 1.4 .4 1.1 .7 .7 .9 1.1 2.2 .4 1.2 .1 1.3-.4 1.6-1.5 4.1-.7 1.4-1 .9zM59.4 618l-1.1-5.4-.4-1.4-.5-.8-.5-.4-.9-.4-.7-.1-1 .1-1.1 .3-2.4 .7-1 .5-.7 .9-.3 1.5-.4 5.9 .1 1.5 .5 .9 .7 .6 1.5 .8 .9 .2 1.1-.1 1.5-.5 3.1-1.5 1.2-.8 .5-1zM53.2 661.8l-4.1 3.1-1.4 .7-1.2 .1-1.3-.5-2.7-1.4-1.1-.8-.6-.8-.1-.8 .2-1.5 .2-.9 .6-1 1-1.1 3.8-3.7 1.3-1 1.1-.4 1 .1 2 .4 .8 .4 .8 .8 .5 1.4 .6 3.2 .1 1.4-.4 1.2zM66.5 630.3l1.2 .8 .5 .6 .3 1-.2 1.5-1 4.6-.5 1.5-.7 1.2-.9 .8-1.9 1.5-1 .4-1-.1-1-1-4-5.5-.9-1.2-.3-.8 0-.5 .2-.7 .4-.4 .7-.5 1.4-.7 5.4-2.3 1.5-.4 1.1 0zM87.5 618.6l1-4 .2-1.5-.3-1.1-.6-.6-1.5-1.1-.9-.4-1.2-.3-1.6-.1-4.8 .1-1.5 .1-1 .2-.7 .3-.9 .7-.4 .5-.4 .8-.1 .8-.1 1.7 .1 .9 .3 1.1 .5 .8 1.2 1.5 .8 .7 1.1 .6 1.6 .3 5.9 .4 1.4 .1 .8 0 .3 0 .1-.1 .1-.3 .2-.7zM1.3 625.7l5.2 1.3 1.4 .5 .8 .9 .5 1.4 .5 3.3 0 1.5-.3 1.2-.5 .9-1.2 1.5-.7 .7-1.1 .6-1.3 .4-2.8 .6-1.2 .1-1-.2-.6-.4-.8-1-.4-.7-.3-1-.3-1.4-.5-3.2-.1-1.5 .2-1.4 .4-1.1 .9-1.9 .7-.8 1-.4zM59.5 677l-.9-1.8-.7-.9-1.1-.7-1.5-.4-3.6-.4-1.5 0-1.1 .6-.9 1.2-1.8 3-.5 1.4 .2 1 1 1.1 4.9 3.8 1.3 .8 .9 .3 .7-.1 1.1-.5 .7-.5 .7-.8 .7-1.1 1.3-2.5 .4-1.2 .1-1.3zM-1.8 619.9l.3-3.2 .2-1.4 .2-.9 .3-.6 .4-.8 .4-.4 .8-.4 .9-.4 1.8-.6 .9-.2 .8-.2 .6 0 .7 .2 .4 .3 .5 .7 .8 1.3 3.7 7.3 .5 1.4-.2 1.2-.5 .9-1.5 1.4-.9 .6-1.2 .4-1.6-.2-5.2-1.3-1.4-.4-.8-.5-.4-.4-.4-.8-.1-.6 0-1zM56.3 686l-1.2 .5-.5 .4-.6 .9-.5 1-.7 2.2-.2 1.1 .2 1.3 .6 1 1.6 2 1 .8 1.2 .5 1.5 0 3.8-.5 1.5-.4 .8-.8 .4-.9 .4-1.9-.1-1-.4-1-1.2-1.1-4.7-3.2-1.3-.8-.9-.2zM105.2 639.3l.3-.6 .1-.6 .1-.9-.1-1.3-.2-3.2-.1-1.4-.3-1.2-.4-.8-.7-1.3-.6-.5-.8-.3-.9-.1-1.9 .4-.9 .3-1.1 .6-1.1 1.2-3.4 4-.8 1.2 .1 1.1 .7 1.1 2.3 2.2 1.2 .9 1.2 .4 1.5 0 3.3-.4 1.4-.2 .8-.3zM33.6 651.8l5.1 5.1 1 1.1 .4 1 .1 .9-.1 1.5-.3 .8-.6 .8-.7 .7-1.7 1.1-.9 .4-1.2 .1-1.6-.4-4.5-1.8-1.4-.8-.8-1-.3-1.2-.3-2.8 .1-1.3 .4-1.2 1.1-1.1 2.7-2.1 1.2-.7 1.1 0zM105.3 690.4l1.2 2.3 .5 1.1 .3 1.4 0 1.5-.3 3.2-.3 1.4-.4 1.2-.4 .8-1 1.3-.7 .6-1 .4-1.1 .1-2-.1-1-.3-1-.7-.7-1.4-2-5.4-.4-1.6 0-1.2 .2-.9 .7-1.5 .6-.8 .9-.8 1.4-.6 3.3-1 1.4-.2 1.1 .4zM14.1 702.4l3-7.2 .7-1.4 .8-.9 .7-.5 1.6-.6 .9-.2 1.1 0 1 .1 1.8 .6 .9 .4 .7 .9 .5 1.5 1.3 7.4 0 1.5-.4 1-.6 .6-1.6 .9-1 .3-1.2 .2-1.6 0-4.9-.5-1.5-.3-1-.2-.6-.3-.8-.6-.2-.5 0-.8zM85.1 666.9l3.8 8.1 .8 1.3 .7 .5 .7 0 1.4-.5 .6-.5 .6-.9 .5-1.4 1.8-7 .1-1.4-.5-.8-1.4-.3-6.6-.7-1.5-.1-.8 .1-.5 .3-.4 .6-.1 .5 .2 .8zM96.5 676.4l6 1.3 1.4 .3 .7 .1 .3 0 .1-.1 .1-.2 .2-.8 .3-1.3 .7-3.2 .2-1.5-.1-1.4-.4-1.5-1-3.3-.5-1.3-.4-.9-.3-.4-.4-.5-.4-.1-.8 .2-1 .4-2.2 1.1-1.1 .7-.8 1.1-.5 1.5-1.8 6.9-.2 1.5 .6 .8zM86.5 639.4l1.7-1.9 .8-.9 .6-.5 .5-.2 .5-.1 .5 .2 .7 .5 1 .9 2.2 2.2 .8 1.1 .2 1.1-.5 1.5-2.2 4.2-.7 1.3-.5 .7-.4 .2-.5 0-.4-.1-.5-.6-.8-1.3-3-4.7-.6-1.4 0-1.2zM14.4 674.6l4.9-2.2 1.3-.8 .6-.9 .2-.9-.1-1.8-.3-.8-.7-.8-1.4-.6-4.7-1.1-1.5-.2-1 .5-.7 1.3-1.4 4.1-.4 1.4 .2 1.1 .5 .7 1.2 1.1 .8 .3 1.1 .1zM89.3 622.7l6.2 3.6 1.1 .9 .1 .9-.7 1.2-3.4 4-.9 1.1-.7 .6-.4 .2-.6 0-.4-.2-.7-.5-.8-1-2-2.5-.8-1.2-.2-1.3 .2-1.4 1-3.2 .4-1.3 .2-.7 .1-.2 .2-.1 .2 0 .7 .4zM27 638.1l-1.6-.6-.6-.6-.5-.9-.1-1.5 .1-5.5 .3-1.6 .7-1 1.3-.8 5.4-2.4 1.5-.4 1.3 .1 1 .5 2 1.5 .8 .8 .6 1.2 .2 1.2 .1 2.6-.1 1.2-.6 1.1-1.3 .9-7.1 3.7-1.4 .6-1.2 .1zM62.7 697.7l-3.9 .5-1.4 .5-.9 .8-.5 1.4-.8 4.4-.2 1.4 0 .8 0 .3 .3 .2 .3 .1 .8 .2 1.5 .1 4.7 .3 1.6-.1 1.3-.4 1.1-.6 2-1.4 .7-.9 .1-1-.6-1.3-2.4-3.6-1.1-1.1-1.1-.5zM11.8 688.5l3.9 2.6 1.4 .7 1.1 .2 .9-.2 1.6-.6 .6-.5 .4-.9 0-1.5-.7-4.1-.4-1.5-.8-.8-1.2-.5-2.9-.6-1.3 0-1 .5-.9 1.1-1.6 2.8-.5 1.3 .3 1zM36.5 678l3.2 1.4 1.2 .8 .5 1-.1 1.5-1.4 6-.6 1.4-.9 .7-1.4 .2-4.8-.2-1.4-.2-.6-.8 .1-1.4 1.8-8.2 .3-1.4 .4-.8 .3-.4 .7-.3 .5-.1 .9 .2zM89.4 684.1l5 5.1 .9 1.2 .3 1-.2 .8-.7 1.6-.6 .7-1 .6-1.1 .4-2.4 .3-1.2-.1-1-.5-.9-1.3-1.6-3.4-.5-1.5 .1-1.2 .6-1.2 1.5-2.4 .8-.8 .9-.1zM71.9 685l-.1 1.3-.2 .8-.6 .8-.9 .7-2.1 1.4-1.1 .4-1.2 0-1.4-.7-4.7-3.2-1.1-1-.2-1.1 .3-1.1 1.4-2.5 .8-1.1 1-.6 1.1-.3 2.1-.1 1.1 .1 1.2 .5 1.1 .9 2 2 .8 1 .5 1zM84.5 690.8l1.6 3.4 .5 1.5-.2 1.2-1 1.2-4 4-1.1 1-.6 .5-.4 .2-.4-.1-.2-.2-.2-.8-.2-1.4-1-7.7 0-1.5 .6-1 1.1-.7 2.5-1 1.2-.2 1 .4zM60.4 667.1l-1.7 3.7-.8 1.3-1.1 .5-1.5 .1-3.5-.5-1.5-.3-1-.8-.5-.8-.7-1.9-.1-1 .3-1.1 1.1-1 4.1-3.1 1.3-.7 1.2-.1 1.2 .6 2.5 1.7 .9 .9 .3 1zM32.5 648.5l-.2 .7 .1 .4 .5 .7 1 1.1 5 5.1 1.2 .8 1.1 0 1.2-.8 3.8-3.7 .9-1.2 .1-1.1-.5-1.4-1.6-2.9-.9-1.1-1.1-.4-1.5 .3-6.7 2.2-1.4 .5-.8 .5zM20.5 637.3l-7.6-1.2-1.6 0-1.1 .3-.8 .7-1.2 1.4-.4 .9 0 1.1 .7 1.3 4.8 7 .9 1.2 .6 .6 .3 .1 .6-.1 .3-.3 .5-.6 .8-1.3 4.4-8.7 .5-1.3-.4-.7zM64.1 624.3l.7 2.8 .1 1.2-.5 1-1.3 .8-5.4 2.2-1.4 .3-.9-.4-.6-1.3-1.3-4.3-.2-1.5 .5-1 1.2-.8 3.1-1.5 1.4-.5 1-.2 .8 .1 1.2 .5 .6 .5 .6 .9zM75.9 670.5l2.3 5.8 .3 1.5-.3 1.1-1.1 1-2.9 2-1.4 .7-1.1-.1-1-.7-2-2.1-.7-1-.1-1.2 .5-1.4 3.4-6.1 .8-1.3 .6-.6 .4-.1 .8 .1 .4 .3 .5 .7zM84 621.5l-5.7-.4-1.5 .1-.8 .7-.5 1.4-.6 4.6-.1 1.5 .1 .8 .3 .4 .8 .5 .5 .1 1-.1 1.3-.3 3.2-1 1.3-.6 .9-.9 .6-1.3 1-3.1 .1-1.3-.5-.8zM65.9 620.3l4-2.8 1.2-1 .7-1 .2-.8 .1-1.7-.2-.8-.6-.9-1.2-.8-2.8-1.3-1.5-.5-1.3-.1-1.4 .2-2.7 .8-1.1 .6-.6 .9 .1 1.5 1.2 5.3 .4 1.5 .6 .8 .6 .5 1.2 .5 .8 .1 1-.2zM19.9 609.9l-2.7-1.1-1.3-.3-1.4 0-1.5 .4-3.2 1.2-1.2 .8-.4 .9 .5 1.3 3.7 7.4 .9 1.2 .9 .6 .9 .1 1.9-.1 .9-.3 .8-.8 .6-1.4 2-6.8 .1-1.5-.4-1zM75 642.6l-5.2-1-1.4-.6-.6-.8 .1-1.5 1-4.5 .5-1.4 .7-.9 .8-.4 1.8-.4 .9-.1 .8 0 .5 .1 .8 .5 .4 .4 .5 .8 .5 1.4 1.4 4.5 .3 1.4 0 1-.2 .5-.7 .8-.5 .2-1 .2zM12.9 677.2l.4 1.4 .5 .7 .8 .6 1.3 .4 2.7 .6 1.4 .1 1.1-.4 .9-.7 1.5-1.7 .5-1 .1-1.1-.3-1-1.2-1.7-.7-.7-1-.3-1.5 .4-4.7 2.2-1.3 .7-.5 .8z" fill="#f1f0ed"/>
</g>
<rect x="66.4" y="689.3" width="21" height="1.4" fill="#000" stroke="none" stroke-width="1"/>
<text x="76.9" y="693.3" font-size="2.6" fill="#000" text-anchor="middle">100 &#956;m</text>
<rect x="10.2" y="540.3" width="83.4" height="154.6" fill="none" stroke="#888" stroke-width="1.1"/>
<line x1="10.2" y1="550.1" x2="93.6" y2="550.1" stroke="#222" stroke-width="0.9"/>
<line x1="10.2" y1="622.3" x2="93.6" y2="622.3" stroke="#333" stroke-width="0.9"/>
<rect x="97.2" y="540.3" width="82.4" height="9.8" fill="#fff" stroke="none" stroke-width="1"/>
<text x="136.6" y="547.9" font-size="7.9" text-anchor="middle">H1573<tspan font-size="4.4" dy="-2.9">&#916;GFP</tspan></text>
<g clip-path="url(#lm1)"><rect x="97.2" y="550.1" width="82.4" height="72.2" fill="#23b023"/>
<path d="M97.7 561l-2.1 9.3-1.4 .8-17.9-5.5 0-.8 16.2-5.8 2-.2 2.6 .8zM95.2 575.1l-8.8 7.5-2.1 1-26.9 3.6-2.4 .2-156.9-5.8 0-.1 174.9-16 2.3 .3 18.7 5.7 1.3 .5 .3 .3 .2 .4 .2 1.2zM99 579.5l-1.2 4-1.5 1-8.6-1.1-.3-1 8.1-6.9 1.5-.1 1.7 2.2zM98.5 591.7l.8-2.7-.2-1.5-1.3-1.8-1.6-.7-9.1-1.2-2.4 0-26.1 3.6 0 .4 34.5 8.1 1.9-.5 2.4-2.1zM92.9 596.1l-35.8-8.3-2.4-.3-157.9-5.8-2.4 0-283.3 6.7 0 .1 475.8 21.6 2-.9 5.8-7.3 .4-1.8-.8-2.8zM99.4 613.6l-1.5 1-1.5-.3-6.3-3.6-.3-1.6 5.3-6.6 1.7-.3 2.9 1.7 .9 1.8-.6 6.4zM99.2 547.3l5.8 4.6 1.6 .2 2-1.6 0-1.5-10.2-15-.6 .2 .4 11.1zM100.2 559.2l-1.3 0-1.3-.2-2.5-.7-.9-1.5-.1-4.5 .8-1.9 2.4-2.4 1.7 0 5.6 4.4 .8 1.1-.4 1-1 1.2-2.6 2.6zM104.3 568.4l-6.9 3-1.2 .4-.3-.3 .2-1.3 2-8.9 .7-1.2 1.4-.1 1 1 3.6 5.9zM106.1 569.7l1.5 4.9 .2 1.3-.3 .4-1.3 .3-5.1 1-1.8-.5-1.7-2.2-.7-1.1-.2-1 1-.9 6.9-3 1.1-.4 0 0zM105.7 587l-4.3 .6-1.6-.5-1.2-1.7-.1-1.7 1.1-3.9 1.5-1.4 5.2-.9 1.2 .9 .3 6.4-.1 1.3-.6 .6zM103 595.4l-3-2.1-.7-1.5 .7-2.6 1.5-1 4.2-.5 1.5 1 1.1 3.7-.6 1.7-2.8 1.5zM103.7 602.3l-2.1 1-1.6-.2-2.9-1.7-1.2-1.4-.7-2.5 .5-1.5 2.2-2 1.8 0 2.9 2.1 1.2 1.7 .5 3.1zM107.4 604.4l1.2 4.6-.5 1.8-2.6 2-1.7 .6-2.5-.2-.7-1.2 .6-6.4 .8-1.5 2.1-1 1.2-.2 1.3 .3zM99.8 614.4l-1.5 .9-.5 .8-.2 1.3 .5 1.6 1.8 3.8 .9 1.2 1.2 .3 1.3-.6 4.6-3.3 .2-1.6-2.9-3.6-1.6-.9-2.5-.2zM113 561.8l-6.3-6.1-.7-1.1 .4-1.1 .8-.8 2-1.6 1-.6 1.1-.4 1.4 .6 3.4 2.7 1.2 1.6 .7 2.4-.7 1.7-2.6 2.6zM112.3 564.8l-5.1 2.4-1.1 .5-.1 0-.6-1.1-3.6-5.8 .3-1.9 2.5-2.5 1.8-.1 6.3 6.1 .8 1-.1 .6zM112.6 565.3l-5 2.4-.8 1.7 1.5 4.9 1.6 1.1 4.4 0 1.1-1.3-.3-6.2-.3-1.6-.9-1.1zM108.5 584.4l-.3-6.3 0-1.3 .4-.4 1.3-.2 4.4-.1 1.2 0 .3 .2-.3 1.2-1.9 7-1.3 1.2-2.8-.1zM114.7 596.5l1.5-1.6 .6-1.6 .4-3.5-.7-1.5-2.4-1.3-1.7-.4-2.9 0-1.1 .1-.5 .6 .1 1.3 1.1 3.7 1.3 1.9 2.9 2.1zM108.6 601.9l4.1-2 1.1-.9 .1-1-.9-1-2.9-2.1-1.9-.2-2.8 1.5-.8 1.6 .5 3.1 .6 1.2 1.3 .2zM114.6 610.2l-3.8-.2-1.5-1.2-1.2-4.6 .8-1.7 4.1-2.1 1.5 .1 1.4 1.9 .3 1.9-.3 4.8zM116.6 613.7l-1.8 6.4-.3 1.1 0 0-1-.3-2.8-1-1.7-1.3-3-3.6 .1-1.6 2.6-2 2.1-.5 3.8 .2 1.4 .3 .7 .9zM115 635.4l-.6-12.2-1-1.6-2.8-1-2 .3-4.7 3.4-.1 1.5 10.4 10zM122.3 528.8l-9.7 19.5 .4 1.8 3.6 2.9 2 .1 5.8-3.8 .8-1.9-2.2-18.5zM126.7 550.5l-.9-.9-1.3 .4-5.5 3.6-.8 1.4 .7 2.4 1.3 1.2 4.4 1.6 1.3 .1 .7-.8 .2-1.5 .1-6zM124.2 560.9l-4.3-1.6-1.9 .5-2.6 2.6-.9 1.1-.2 .6 .3 .6 .8 1.1 1.4 .6 5.1 1.1 1.8-.6 1.7-2.3 .5-1.2-.4-1.6zM122.3 575.5l.6-5.8-1.1-1.5-5-1-1.1 1 .3 6.1 .1 1.3 .3 .1 1.2 .2 3.5 .6zM114.2 584.8l1.9-7.2 1.5-.9 3.5 .5 1.2 .2 .1 .1-.3 1.2-1.4 6.5-.8 1.5-1.6 1-1.3-.1-2.3-1.3zM117.5 593.2l.4-3.3 .6-1.5 1.6-.9 1-.1 1.8 .8 .7 1.5 .7 4.7-1.1 1-4.6-.8zM124.2 602.5l-6.1 0-1.6-.6-1.4-1.9-.4-1 .2-1 .5-.9 1.4-1.5 1.7-.3 4.7 .8 1.4 .3 .4 .3 .2 1.2 .1 3.4zM124.3 603.2l-6.2 .1-1.2 1.2-.4 4.8 .2 1.5 .7 .8 .6 .3 1.3 0 1.3-.8 5.7-5 .6-1.2-1.1-1.3zM120.6 613.3l2.9 1.8 1 1.5-.1 2.7-1.2 1-6.9 .8-.8-1 1.8-6.3 .7-1.1 1.2 0zM115.9 638l1.3 4.1 .9 .1 8.5-17.2 0-1.7-1.6-1.8-1.7-.5-7.2 .9-1.2 .1 0 0 0 1.2 .6 12.5zM133.9 550l1.6-1.8 .2-1.8-9.7-31.2-.5 0-2.1 11-.1 2.3 2.3 18.8 .5 1.5 .9 1 1.5 .4 3.6 .3zM133.5 552.4l.9 3.2-.8 1.5-5.1 1.6-1.1-.9 .1-5.8 1.2-1.1 3.4 .3zM135.3 557.6l1.4 .7 .4 1.5-.3 3.4-1.1 1.5-3.3 1.1-1.9-.1-2.6-1.5-1-1-.4-1.6 .1-.8 .6-.8 1.4-.7 5.1-1.6zM124.1 576.9l6.8 .9 1-1-.8-8.6-1-1.7-2.7-1.6-1.4 .3-1.8 2.4-.7 1.9-.5 6-.1 1.2 0 0zM123.5 587.6l-1.8-.8-.3-1.5 1.4-6.6 1.5-1 6.7 .9 1.3 .2 .1 .1 .4 1.2 1.3 5 .1 1.4-.5 .8-1.4 .3-7 .2zM132.9 591.4l.4-2.4-1.1-.7-6.8 .2-1.1 1.3 .7 4.8 .3 1.2 .4 .3 1.2-.5 4.8-2.8zM126.2 601.5l-.1-3.4 1-1.8 4.9-2.8 1.4 .1 1 2.2 .4 1.9-.1 6.4-.3 1.5-.8 .8-1.4-.1-3.1-1.2-1.4-.8-1.1-1.2zM126.9 606.3l-5.8 5.1 .1 1.4 2.9 1.8 2.1 .2 5.9-2.5 1.1-1.4-.1-2.6-1.1-1.2-3.1-1.2zM125.7 620.9l1.5 1.7 1.2 .4 2.2-.5 1-1.4 1.8-6.9 .2-1.3-.2-.4-1.2 .4-5.8 2.4-1.2 1.4 0 2.7zM117.6 645.4l9.9 151.4 .2 0 12.5-146.9-.1-2.3-4.7-20.7-1-1.7-2.2-1.6-1.5-.3-2.3 .6-1.4 1.2-8.9 18zM141.4 547.6l5.9-11.3 .4-2.3-14.8-144.2-.2 0-6.9 122 .3 2.4 9.9 32.1 1.2 1.4 2.7 .7zM134.5 550.6l1.5-1.7 1.4-.3 2.4 .6 1.4 1 1.7 2.3 .5 1.2-.1 1.2-1.1 .9-3.3 1.6-1.6 .2-1.3-.8-.8-1.3-.9-3.2zM143.9 566.2l.8-7.8-.1-1.4-.8-.7-1.3 .3-3.4 1.5-1.2 1.7-.2 3.5 .8 1.8 2.6 2.1 1.2 .6 1.1-.3zM140.7 568l-2.7-2.1-1.9-.4-3.3 1.1-1 1.6 .8 8.6 .2 1.2 .1 .1 1.1-.5 4.1-2.4 1.5-1.7 1.5-3.7zM138.4 576l-4.1 2.3-.8 1.8 1.3 4.8 1.3 1.3 3.1 .4 1.3-.1 1.1-.5 .9-1.3 2.3-5-.5-1.6-3.8-2.1zM133.7 591.4l.4-2.4 .3-1.1 .5-.8 1.2-.1 3 .3 1.7 1.2 4.6 6.8 .6 1-.1 0-1.2 0-8.1-.4-1.6-.8-1.1-2.2zM136.1 605.1l2.4-.3 1.5-1.1 5.1-5.8-.5-.9-8-.4-1.2 1.1 0 6.4zM133.9 608.3l.1 2.6 .1 1 .2 .3 1.1 .7 5.2 2.9 1.6-.2 1.5-2.4-.2-1.7-3.4-5-.7-1-.2-.1-.8 .1-2.3 .4-1.1 .4-.9 .8zM140.6 616.6l-5.2-2.9-1.4 .6-1.8 7 .4 1.6 2.1 1.5 1.7-.2 5.5-3.8 .7-1.2-.7-1.5zM143.5 620.3l.7 .5 .5 1.3 1.3 6.1-.1 2.3-5 16-.6 0-4.5-19.8 .8-1.9 5.7-4zM143.5 552.1l-1.7-2.4 0-1.9 5.5-10.5 1 0 3.1 8.5-.5 1.8-5.8 4.5zM145.3 552.6l5.7-4.4 1.8-.2 2.6 1.8 .4 1.6-3.1 6.5-1.7 .7-4.5-1.6-1.3-.6-.8-.8-.2-.6 .1-1.2zM144.6 566.3l.8-7.7 1.2-.8 4.5 1.5 1.1 .5 .1 0 0 1.2 .4 5.8 0 1.4-.3 .3-1.3-.1-5.5-.7zM145.4 568.4l5.5 .8 1.3 1.3 .2 5-.1 1.3-.4 .3-1.3 .3-3.5 .5-2.2-.5-3.9-2.1-.6-1.7 1.5-3.7 .8-1.2 1.1-.3zM151.6 579.2l-1 5.6-1.3 1.2-5.4-.2-.7-1.1 2.3-4.9 1.7-1.2 3.4-.5zM141.1 587.2l1.1-.6 1.5-.1 5.5 .1 1.4 .4 .6 1.1-.3 1.4-2.1 5.6-.8 1.1-1-.1-1.1-1-4.5-6.7zM149.2 606.9l.1-.1-.1-1.3-.7-7-.1-1.3-.1 0-.4-.1-1-.1-.4 0-.1 .1-.8 .9-5 5.8-.7 .9 .2 .1 1.2 .3 6.7 1.6zM148.2 609.8l-2.5 1.9-1.5-.4-3.2-4.8 .4-.7 6.5 1.5 1.2 .6 0 .9zM143 616.2l1.5-2.4 1.4-1.4 2.5-2 1.6 .3 3.5 4.8 .6 1.2-.5 .8-1.3 .6-6.3 1.7-1.4 .2-.7-.4-.5-.7-.7-1.4zM146.1 620.4l6.5-1.8 1.4 .9 1.1 4.4-.8 1.7-6.5 2.9-1.3-.7-1.3-5.9zM152.9 559.1l0 .1 1.2 0 7.4 .2 1.4-.2 .6-.9-.5-1.3-2.6-4.4-.8-1.2-.8-.7-.6-.2-.9 0-.8 1.1-3.1 6.4zM161.5 560.1l-7.4-.2-1.2 1.2 .4 5.8 1.3 1 5.7-.8 1.4-1.4 .8-4.4zM154.3 577l3.7 1.4 1.9 .1 2.6-.9 .7-1.5-.5-6.6-.3-1.3-.6-.5-1.4 0-5.8 .8-1.3 .3-.3 .4 0 1.3 .2 4.9zM154.1 577.8l3.6 1.4 1.2 1.6 .8 6.6-1.1 1.1-5.4-.5-1.4-.5-.6-1 0-1.6 1-5.7 .3-1.3 .3-.4zM158.6 597.3l1.8-2.2 .6-1.5 .1-2.2-.2-1-.7-.7-1.5-.4-5.4-.5-1.7 1-2.2 5.6-.4 1.2 .1 0 1.2 .2 6.5 1.1zM156.5 605.1l-5.3 1.4-1.3-.9-.6-7.1 1-1 6.4 1 1.3 1 .5 2.5 0 1.2-.6 1.2zM150.5 610.2l3.5 4.8 1.8 .5 3-1.2 .7-1.6-1.6-6.1-1.5-.9-5.3 1.4-1.2 .4 0 .1-.1 .4 0 .9zM154.6 617.8l.4-.8 1.2-.6 3-1.3 1.6-.3 1.7 .4 .7 1.3 .8 6.7-.5 2.1-1.9 2.4-1.6 .2-2.9-2.3-1.3-1.9-1.1-4.4zM159.8 548.8l8-10.4 1.1 .2 2 6-.1 2.1-1.4 2.8-1.7 1-6.2 .4-1.4-.2-.8-.7zM163.7 556.9l-2.5-4.2 .6-1.1 5.8-.4 1.3 .9 .3 3-.2 1.3-1 1-1 .3-2 .2zM163.2 561.3l-.8 4.4 0 1.4 .7 .4 1.4 .2 7 .1 1.3 0 .2-.2-.5-1-4.2-7.1-1.3-1-2 .2-.9 .3-.5 .8zM172.1 569.6l-4 7.7-1.3 .8-2.1-.6-.8-1.4-.5-6.5 1.1-1.2 7 .1zM169.5 581.8l-1.6-2-1.2-.8-2.2-.7-1.5 .1-2.5 1-.7 1.5 .7 6.6 .4 1.4 .8 .8 1.3-.3 5.4-2.3 1.1-.6 .1-.2 .2-.8 .2-2.3zM167.5 597.4l-4.6-2.5-1-1.3 .1-2.2 1.1-1.3 5.4-2.3 1.6 .6 1.8 4.5-.3 1.9-2.3 2.4zM168.4 604.8l-7.9-1.9-1.3-1.1-.4-2.4 .4-1.6 1.8-2.2 1.6-.2 4.7 2.6 1.2 1.7 .8 4.3zM169.6 607.3l-1.1 3.9-.4 1.2-.1 .1-.9 .4-2.7 1.2-1.5 .2-1.6-.3-.9-1.3-1.6-6.2-.1-1.6 .6-1.1 1.3-.2 7.9 2 1.2 .3 .1 .2zM168.5 614.6l2.1 7.6 0 1.3-.9 .4-1.2 .2-2.8 .2-1.1-1.1-.7-6.7 .7-1.6 2.7-1.1zM168.6 624.9l-3.1 .2-1.6 1-2 2.6-.5 2.1 13.3 114.8 .2 0 1.3-67.2-.1-2.4-6.4-50zM169.3 538l2.1 6.3 1.3 1.9 5 3.9 1.5 0 1.9-2.1 .3-1.9-9.3-33.2-.4 0-2.6 22.8zM178.4 552.1l.3 2.4-1.2 .9-6.3 .4-1.3-1-.3-3 .4-1.9 1.4-2.8 1.4-.1 4.6 3.6zM168.7 557.9l1-1 1.6-.4 6.4-.4 1.5 .4 1 1.3 0 1.6-1.3 4.5-.9 1.6-1.7 1.4-1 .5-1.1 0-1-1-4.2-7.1zM170.2 581.1l-1.6-2 0-1.7 4.1-7.7 .6-1.2 .3-.1 .5 0 1.1 0 .8 1.1 2.1 5.6 .1 1.7-.9 1.6-1.4 1.1-4.1 1.8zM181.7 586.8l-3.9-6-1.7-.5-4.1 1.7-1.1 1.3-.3 2.3 1.1 .9 9.1 1.7 1.2 .1 .3-.3zM181.7 589.8l-.5 2.7-.6 1.3-1.3 1.2-1.5 .1-3.5-.9-1.6-1.4-1.9-4.6-.4-1.1 .1-.3 1.2 .2 9 1.7zM171.8 605.3l3.6-.8 1.5-.5 1.1-.7 .4-1.4 .2-4.5-1-1.5-3.5-.9-1.9 .5-2.3 2.3-.5 2 .8 4.2 .2 1.3 .2 .1zM170.3 607.4l-1.1 4 .8 1.7 7.5 3.5 1.3 .1 .7-1-.2-1.5-2.3-8-1.5-.9-3.7 .7zM170 613.6l7.5 3.5 1.2 1.5 .5 3-.1 1.3-.6 .9-1.4 .2-4.5-.5-1.5-1.3-2.1-7.8-.3-1.2 .1-.1zM178.4 626l-2.1 49.2-.2 0-6.3-49.3 .2-1.4 1-.3 1.5 0 4.8 .5zM202.9 578.1l2.5-.6-.3-.7-24.8-10.7-1.7 0-1.8 1.5-.2 1.6 2.2 5.9 1.7 1.2 20.4 1.9zM184.1 587.2l16.6-8.1-.1-.7-20.2-1.7-1.5 .4-1 1.7 .4 1.6 4 6.3zM180 595.6l1.3-1.2 1.5 .1 21.8 11.3-.2 .7-11.2 1-2.4-.3-10.5-3.6-1.1-1.6 .3-4.8zM177.4 605.9l2.4 8.1 1.4 .5 9.3-6-.1-1.1-10.3-3.5-1.5-.1-1.1 .7zM181.2 622.8l315.6 7.6 0 0-289-23.6-2.4 0-11.8 1-2.2 .7-10 6.6-1.2 1-.7 1-.1 1.5 .5 3.2z" fill="#052a05" filter="url(#soft)"/>
</g>
<rect x="152.4" y="616.1" width="21" height="1.6" fill="#fff" stroke="none" stroke-width="1"/>
<text x="162.9" y="620.4" font-size="2.6" fill="#fff" text-anchor="middle">100 &#956;m</text>
<g clip-path="url(#la1)">
<rect x="97.2" y="622.3" width="82.4" height="72.6" fill="#9d68b5" stroke="none" stroke-width="1"/>
<path d="M154.8 682.5l.3-.6 .2-.6 .1-.6-.2-.6-.3-.5-.4-.5-.6-.3-.7-.3-.9-.2-.7 0-.6 .2-.5 .4-.4 .5-.2 .6-.2 .6 0 .7 0 .7 .1 .6 .2 .5 .3 .4 .4 .2 .4 .2 .6 0 .7 0 .7-.2 .7-.3 .5-.3zM100.1 685l-.8 .6-.7 .4-.7 0-.7-.2-.7-.6-.5-.6-.2-.6 .1-.7 .2-.8 .3-.5 .1-.4 .2-.2 0-.1 .3 .2 .6 .3 .9 .5 1.1 .7 .7 .7 .1 .7zM146 635.2l0 .5-.3 .5-.4 .7-.6 .7-.9 .8-.6 .6-.6 .3-.3 .1-.1-.1-.3-.3-.3-.5-.4-.7-.5-.9-.3-.8-.1-.7 .2-.5 .4-.5 .5-.3 .8-.1 .9 0 1.2 .2 .8 .2 .6 .4zM128.2 679.9l-.9-.1-.7-.1-.5-.2-.3-.2-.1-.2 0-.4 0-.5 .1-.6 .1-.7 .5-.6 .7-.5 .9-.4 1.3-.2 1-.2 .6-.1 .4 0 0 0 .1 .2 .1 .4 .1 .6 .2 .8-.1 .7-.2 .7-.4 .5-.6 .5-.7 .4-.8 .2zM148.2 638.3l1.1 .8 .9 .7 .5 .6 .3 .5 .1 .4-.2 .5-.4 .6-.8 .7-1 .8-.8 .6-.7 .3-.7 .2-.4-.1-.5-.2-.5-.2-.4-.4-.4-.4-.4-.4-.3-.6-.2-.6-.1-.7 .1-.7 .4-.7 .6-.8 .9-.8 .9-.4 1-.1zM156.9 655l.1 0 .2 0 .3 0 .4-.1 .5-.1 .5-.3 .4-.4 .5-.5 .4-.7 .3-.5 .1-.5 0-.4-.1-.3-.3-.3-.6-.4-.7-.4-.9-.4-.8-.3-.6 0-.4 .1-.2 .3-.2 .6 .1 .7 .1 1 .3 1.1 .3 .9 .2 .6zM162.6 652.5l.5 0 .5 .3 .6 .5 .6 .7 .5 .9 .3 .8 0 .5-.2 .4-.6 .3-.7 0-.7-.1-.9-.4-1-.6-.6-.5-.3-.7 .1-.6 .4-.6 .5-.5 .5-.3zM96.1 638.3l.7 1.1 .5 .9 .2 .7-.1 .5-.4 .4-.4 .3-.5 .3-.5 .1-.6 .1-.6-.1-.8-.3-.7-.4-.9-.6-.5-.6 0-.8 .3-.8 .7-.9 .7-.7 .5-.4 .4-.3 .4-.1 .4 .3 .5 .5zM161.1 618.1l.2-.2 .4-.1 .6 0 .9 .2 1.1 .3 .8 .3 .6 .2 .3 .3 0 .2-.3 .3-.4 .5-.7 .6-.9 .8-.8 .3-.6-.1-.5-.6-.4-1.1-.3-.8-.1-.7zM121.2 628.8l-.1-.5 .2-.6 .5-.5 .8-.6 1.1-.5 .9-.4 .6-.2 .4-.1 .1 .1 .2 .2 .3 .5 .3 .6 .3 .8 .2 .7-.1 .7-.4 .6-.5 .5-.6 .4-.6 .2-.6 .1-.7-.1-.6-.1-.5-.2-.4-.2-.2-.2-.3-.3-.1-.4zM135.3 617.4l.2-1.2 0-1.1-.1-1.1-.2-1-.5-1.1-.4-.8-.4-.6-.5-.4-.5-.1-.5-.1-.5 0-.6 .2-.6 .2-.5 .6-.4 .9-.3 1.3-.3 1.7-.1 1.4 .2 1.2 .3 .8 .5 .6 .6 .4 .8 .2 .9 0 1.1-.1 .8-.4 .6-.6zM120 628.9l-.1-.5-.1-.5-.2-.5-.3-.4-.3-.4-.5-.2-.7-.2-.8 0-1 0-.8 .3-.7 .4-.5 .7-.3 .9-.2 .7 0 .7 .1 .5 .2 .5 .3 .3 .5 .2 .6 .2 .7 0 .8-.1 .7-.2 .8-.3 .8-.5 .5-.5 .4-.6zM98.8 641.8l0 0 .3 .2 .3 .3 .6 .5 .8 .7 .6 .7 .4 .7 .3 .6 0 .7 0 .6-.1 .5-.2 .3-.3 .3-.4 .2-.5 .1-.6 0-.8-.2-.6-.3-.5-.7-.3-.8-.2-1.2 0-.9 .1-.8 .2-.5 .3-.4 .3-.3 .2-.2zM132.7 698.4l-.7 .3-.7 .7-.6 1.1-.5 1.5-.5 1.9-.2 1.5 .2 1.1 .5 .7 .8 .4 1 .1 1.1 0 1.2-.2 1.3-.4 .8-.8 .3-1.2-.3-1.7-.7-2-.7-1.6-.4-1.1-.4-.6-.2-.1-.3 0-.4 .2zM121.2 690.1l-1.1-.4-.8-.2-.8 0-.7 .1-.6 .4-.4 .4-.4 .6-.3 .8-.2 .8 0 .8 0 .6 .1 .5 .2 .3 .3 .4 .4 .4 .5 .4 .7 .4 .6 .2 .7 .1 .7-.1 .7-.3 .6-.4 .5-.6 .4-.6 .3-.9 .2-.7 .1-.7 0-.5-.1-.5-.3-.5-.6-.4zM117.9 640.6l.2 .9-.1 .8-.3 .6-.5 .6-.7 .5-.7 .3-.6 .2-.5 .1-.5-.1-.5-.1-.5-.3-.5-.5-.6-.5-.4-.6-.2-.4-.1-.4 0-.3 .3-.4 .4-.4 .7-.5 .8-.5 .8-.3 .8-.2 .7-.1 .7 .1 .6 .3 .4 .5zM111.4 676.4l-.3 .7-.2 .7 .1 .7 .3 .6 .5 .6 .6 .4 .7 .3 .9 .1 1 0 .8-.2 .6-.4 .5-.5 .3-.7 .2-.6 .2-.5 0-.3 0-.2-.2-.4-.3-.5-.5-.6-.7-.8-.7-.5-.7-.2-.7 .1-.8 .4-.6 .5-.6 .6zM103.6 661.4l.4-.9 .2-.8 0-.7-.2-.6-.4-.5-.5-.3-.6-.1-.6 0-.6 .2-.6 .3-.4 .5-.2 .6-.1 .8 .1 .6 .4 .6 .6 .6 .8 .4 .7 .1 .5-.2zM176.3 673.3l-1-.9-.9-.6-.8-.4-.7-.1-.6 .1-.6 .3-.5 .6-.5 .7-.5 .9-.3 .9-.1 .8 .1 .8 .3 .7 .5 .5 .7 .4 .9 .3 1.2 .1 1.1-.2 .9-.4 .7-.7 .6-1 .2-1-.1-.9zM118.9 656.9l.7 .3 .7 .1 .8-.1 .8-.2 .9-.4 .6-.6 .4-.7 .2-.7 0-.9-.2-.7-.4-.7-.6-.4-.8-.4-.8-.2-.8-.1-.7 .1-.7 .2-.6 .2-.3 .1-.3 .1 0 .1-.1 .2-.1 .4-.1 .6-.2 .7 0 .7 0 .5 .1 .4 .2 .4 .3 .3 .4 .3zM141.9 659.8l0 .6-.2 .6-.3 .6-.5 .5-.7 .5-.7 .2-.7 .1-.7-.2-.8-.5-.6-.4-.4-.3-.1-.4-.1-.3 .3-.4 .4-.4 .7-.5 .9-.6 .9-.4 .7-.2 .6 .1 .6 .2 .4 .3 .2 .4zM175.7 652.4l.5 .7 .5 .6 .4 .4 .4 .1 .3 0 .4-.2 .6-.5 .6-.6 .8-.9 .3-.8-.2-.7-.7-.6-1.1-.5-1-.2-.8 .1-.6 .4-.5 .6-.2 .6 0 .7zM93.8 685.7l-.9 .3-.4 .5-.1 .7 .3 .8 .7 1.1 .7 .7 .7 .3 .8 0 .7-.3 .6-.4 .4-.4 .2-.5 .1-.4-.1-.5-.3-.5-.5-.6-.7-.5-.7-.3-.7-.1zM178.5 692.5l0-.1 .2-.1 .1-.2 .3-.3 .4-.3 .5-.3 .6-.3 .7-.2 .9-.2 .7 .1 .5 .5 .3 .8 .1 1.1 .1 1 0 .6-.1 .5-.1 .2-.3 .1-.4 .1-.5 .1-.7-.1-.6-.2-.6-.4-.6-.5-.6-.8-.4-.5-.3-.4zM101.4 663l-.8-.5-.7-.3-.5-.2-.5 0-.3 .1-.3 .2-.3 .4-.3 .4-.3 .6-.2 .5-.1 .6 0 .5 .2 .6 .3 .4 .6 .3 .8 .2 1 .1 .8-.2 .7-.4 .5-.6 .3-.7 .2-.6 .1-.4 .1-.3 0 0-.3-.1-.4-.3zM149.2 691.7l-.8 0-.8 .2-.6 .4-.6 .6-.5 .8-.3 .7-.2 .6-.1 .5 0 .4 .2 .4 .4 .5 .5 .5 .6 .5 .7 .3 .5 .1 .5-.1 .5-.3 .4-.4 .4-.6 .4-.6 .4-.9 .2-.7 .1-.7-.1-.7-.3-.6-.3-.4-.6-.3zM167.6 633.8l.1-.7-.2-.7-.3-.5-.5-.5-.6-.3-.7-.2-.8-.1-.8 .1-.8 .3-.7 .3-.4 .5-.4 .5-.1 .6 0 .5 .2 .5 .3 .4 .4 .4 .6 .2 .8 .1 1 0 1.1-.1 .9-.3 .6-.4zM94.8 654.9l.6-.2 .4-.4 .3-.7 .2-1 0-1.2-.2-.9-.4-.6-.6-.3-.8 0-.7 .3-.7 .4-.5 .7-.5 .9-.1 .8 .1 .7 .3 .6 .7 .4 .7 .3 .6 .2zM133 676.7l-.1-.8 .1-.7 .5-.6 .8-.5 1-.5 1-.2 .8 0 .6 .3 .5 .4 .5 .4 .3 .4 .2 .3 0 .3 0 .4-.1 .4-.1 .5-.3 .6-.4 .5-.5 .4-.6 .3-.8 .3-.6 .1-.7-.1-.6-.2-.5-.3-.4-.5-.4-.5zM136.6 648.1l.3 1.2-.1 .9-.3 .8-.7 .6-1 .4-.9 .2-1-.3-1-.5-.9-.8-.6-.9-.2-.8 .3-.8 .6-.8 .7-.6 .7-.4 .8-.3 .8-.1 .6 0 .5 0 .4 .1 .2 .2 .3 .4 .2 .6zM181 619.6l0 0-.3-.1-.5-.3-.8-.3-1.1-.6-.5-.8-.1-1.2 .3-1.6 .8-1.9 .7-1.5 .7-1 .6-.5 .5-.1 .4 0 .3-.1 .3 .1 .1 0 .1 .5 .2 .9 .1 1.3 .2 1.6-.1 1.5-.2 1.2-.3 1-.6 .8-.4 .5-.2 .4zM156.9 686.6l-.7-1-.4-.9-.1-.8 .1-.8 .4-.6 .3-.5 .3-.3 .2-.2 .1 0 .4 .2 .6 .4 .9 .5 1 .7 .8 .6 .6 .5 .3 .3 0 .2-.1 .4-.4 .5-.6 .6-.7 .8-.6 .6-.5 .4-.4 .1-.2-.1-.3-.3-.5-.5zM97.8 631.1l.3-.1 .3-.3 .3-.6 .3-.9 .3-1.1 .1-.9-.1-.7-.4-.7-.5-.4-.7-.3-.8-.2-.9 0-1 .2-.8 .2-.6 .3-.5 .2-.2 .3-.1 .4-.1 .5 .1 .5 .2 .5 .4 .6 .6 .6 .8 .6 1 .6 .9 .4 .6 .3zM109.5 639.5l-.6-.7-.6-.5-.7-.2-.7 .1-.8 .4-.6 .4-.3 .6 0 .7 .3 .8 .4 .6 .4 .5 .5 .3 .6 .2 .5 .1 .6 0 .5-.2 .4-.2 .4-.3 .2-.3 .2-.3 0-.3-.1-.5-.2-.5zM119.1 665.8l.5 .9 .6 .5 .7 .3 .7-.1 .9-.3 .8-.4 .5-.4 .3-.4 .2-.5-.1-.5-.4-.4-.6-.5-.9-.5-.8-.3-.8 0-.7 .2-.6 .5-.4 .6-.1 .6zM123.5 619.1l-.6-.2-.5-.3-.5-.5-.3-.7-.3-.8-.1-1.1 0-1.2 .2-1.4 .4-1.5 .3-1.1 .2-.8 .1-.4 0 0 .4 .1 .8 .2 1.2 .2 1.7 .4 1.1 .7 .7 1 .2 1.4-.3 1.7-.4 1.4-.5 1.1-.7 .7-.9 .5-.8 .3-.7 .2zM125.3 667.8l.3 .7 .5 .5 .6 .3 .7 .2 .9 .1 .8-.2 .6-.5 .5-.7 .4-.9 0-.8-.3-.7-.6-.6-1-.4-.8-.3-.7-.2-.5 .1-.5 .2-.3 .3-.3 .4-.2 .4-.2 .5-.1 .5 .1 .5zM174 668.6l.4-.9 .2-.8 .1-.6-.2-.6-.4-.5-.6-.3-.8-.3-.9-.1-1.1-.1-.9 .1-.8 .2-.6 .3-.4 .5-.3 .4-.2 .3 0 .2 0 .1 .2 .4 .5 .5 .7 .7 .9 1 .8 .6 .8 .4 .6 .1 .6-.1 .5-.3 .5-.5zM192.1 644.1l-.2-1.1-.5-.9-.8-.7-1.1-.4-1.5-.2-1.3 .1-1.2 .2-.9 .5-.9 .7-.4 .8-.2 .8 .2 1 .5 1.1 .8 .6 1.3 .4 1.6-.1 1.9-.4 1.4-.7 .9-.7zM160.3 698.4l.1 .5-.1 .7-.3 .9-.7 1.1-1 1.3-.8 .7-.6 0-.5-.6-.3-1.2-.1-1.1 0-1 .3-1 .4-.9 .5-.7 .6-.3 .6 0 .6 .3 .5 .4 .5 .4zM133.9 631.4l-.3 0-.4 .3-.5 .5-.5 .8-.7 1-.4 .9-.2 .8 .1 .6 .4 .6 .3 .4 .5 .2 .4 .2 .6 .1 .5-.2 .6-.3 .6-.5 .6-.7 .3-.8 0-.8-.2-.8-.5-.9-.4-.7-.4-.5zM179.2 675.1l.3-.1 .5 0 .5 .1 .6 .3 .7 .3 .6 .5 .5 .8 .4 .9 .3 1.1 .1 1-.1 .7-.2 .6-.4 .4-.6 .4-.8 .2-.9 .1-1.1 0-.9-.2-.8-.4-.6-.6-.4-.9-.1-.8 .1-.9 .3-1 .6-1 .6-.7 .4-.5zM180.6 634.3l-.5-.9-.6-.6-.7-.4-.7 0-.9 .2-.6 .3-.5 .5-.3 .5-.2 .6 0 .6 .3 .6 .6 .7 .7 .6 .8 .4 .7 0 .8-.3 .7-.6 .5-.6 .1-.8zM152.1 658.6l-.4 .9-.1 .8 .1 .7 .4 .6 .5 .5 .4 .3 .3 .3 .2 .1 0 0 .2-.1 .6-.1 .7-.3 1-.3 .7-.6 .4-.8 .1-1.1-.3-1.2-.2-1-.1-.7-.2-.3-.1-.1-.3 0-.5 .2-.7 .2-.9 .2-.7 .5-.6 .6zM170.1 680l.2-.3 .4-.2 .7-.1 .9 0 1.2 .1 1 .3 .8 .5 .6 .6 .4 .9 .3 .6 .2 .5 .1 .2 0 .1-.3 .3-.6 .4-.8 .7-1 .9-.8 .6-.6 .4-.2 .3 0 0-.2-.2-.3-.3-.5-.5-.7-.7-.5-.8-.3-.8-.2-.8 0-.9 0-.8 .1-.6zM139.4 666l-.2-.7-.4-.7-.5-.5-.6-.5-.8-.5-.8-.1-.7 .2-.7 .5-.6 .8-.3 .8 .2 .8 .6 .9 1.1 .9 .9 .5 .8 .1 .8-.1 .6-.6 .5-.6 .2-.6zM144.2 612.3l-.2 2.2-.2 1.6-.1 1.1 0 .6 0 0 .3 0 .6-.1 1 0 1.2-.1 1.2-.3 1-.6 .9-.8 .7-1 .6-1.1 .4-.9 .2-1 .1-.8 0-.7 0-.5 0-.2-.1-.1-.5 0-.9-.1-1.4-.1-1.7-.2-1.4 .5-1.1 1zM96.8 697.6l0-.1 .3 0 .5-.2 .8-.2 1-.3 .9 0 .7 .2 .5 .6 .4 .8 0 1-.3 1.3-.6 1.6-.9 1.7-.7 1.3-.6 .9-.5 .4-.3-.1-.3 0-.1-.1-.2-.2 0-.1-.1-.7-.1-1.1-.1-1.6-.1-2-.1-1.6-.1-1zM179.9 662.7l0-.7 .1-.7 .3-.7 .5-.6 .6-.5 .5-.4 .4-.3 .4-.2 .2 0 .3 .2 .4 .2 .4 .5 .5 .6 .2 .6 .1 .5-.1 .6-.4 .5-.4 .4-.7 .4-.8 .3-.9 .2-.8-.1-.5-.2zM139.3 628.5l-.7-.2-.5-.3-.4-.5-.3-.6 0-.8 0-.7 0-.6 .2-.5 .2-.5 .4-.4 .6-.4 .7-.2 .9-.2 .8 0 .8 .4 .7 .6 .7 .9 .5 .8 .3 .5 .1 .5-.2 .2-.3 .3-.5 .4-.7 .5-.9 .4-.9 .3-.8 .2zM184.7 626.7l-.4-.6-.5-.2-.6 0-.7 .2-.8 .6-.6 .6-.4 .5-.1 .6 .1 .6 .2 .4 .5 .2 .7 .2 .9-.1 .7-.1 .6-.3 .4-.5 .2-.5 .1-.6-.1-.5zM155 616.5l-.8-1.2-.7-1.2-.4-1.1-.2-1 0-.8 .5-.7 1-.5 1.5-.3 1.9-.1 1.5 .4 .9 .8 .5 1.4 0 1.8 0 1.4-.1 1.1-.2 .6-.2 .3-.4 .2-.5 .2-.7 .2-.9 .2-.9-.2-.9-.5zM108.2 612.4l.2-.6 .3-.5 .3-.4 .3-.2 .5-.1 .5 .3 .7 .7 .8 1.2 .9 1.6 .7 1.3 .5 1 .2 .7 0 .5-.2 .4-.4 .6-.5 .6-.7 .7-.7 .3-.8 .1-.7-.3-.9-.6-.6-.8-.4-.9-.2-1.2-.1-1.4 .1-1.2 .1-1zM111.6 653.6l-.3-1.2-.2-.8 0-.6 0-.4 .2-.1 .5 0 .7 .2 1 .3 1.2 .3 .9 .5 .6 .5 .2 .7-.2 .7-.3 .6-.6 .4-.8 .3-1 .1-.8-.2-.7-.5zM100.9 631.9l-.5-.3-.3-.6-.1-.7 .1-.8 .3-1.1 .4-.9 .4-.6 .5-.5 .6-.2 .6 0 .6 0 .7 .2 .7 .4 .6 .4 .5 .5 .4 .5 .2 .5 .1 .6 0 .6-.2 .6-.2 .6-.5 .5-.7 .3-.8 .3-1.1 0-.9 0-.8-.1zM169.1 646.2l-.2 .8-.2 .6-.4 .4-.5 .3-.6 0-.6-.1-.6-.2-.6-.4-.6-.4-.5-.5-.3-.4-.2-.3-.1-.3 .1-.4 .3-.4 .6-.4 .7-.5 .7-.3 .7-.1 .6 0 .5 .2 .5 .2 .3 .2 .3 .2 .1 .2 .1 .4 0 .5zM157.8 628.7l-.9 0-.8 0-.7 .3-.7 .4-.6 .5-.5 .5-.4 .3-.1 .3-.1 .1 .1 .4 .3 .4 .4 .7 .6 .8 .5 .6 .7 .4 .6 .3 .7 0 .6 0 .6-.1 .6-.2 .5-.2 .4-.4 .3-.4 .3-.5 .1-.6 0-.6-.1-.7-.2-.6-.4-.6-.5-.5-.6-.4zM94 674.9l-.8 .1-.8-.1-.9-.3-1.1-.5-1.1-.8-.6-.7 0-.7 .5-.6 1-.6 1-.5 .9-.2 .9-.1 .7 .1 .7 .3 .6 .4 .5 .6 .4 .8 .2 .7 0 .5-.1 .5-.4 .4-.5 .3-.5 .2zM164.6 692.3l.6-.3 .7 0 .7 .4 .7 .7 .7 1.1 .6 .8 .3 .6 .2 .3-.1 .1-.1 .1-.3 .1-.4 .1-.5 .2-.5 0-.7-.1-.7-.3-.8-.5-.6-.5-.4-.5-.2-.5-.1-.6 .1-.4 .3-.5zM99.6 619.7l-.6 .7-.4 .6-.3 .7-.1 .6 .1 .6 .1 .6 .3 .6 .4 .4 .5 .5 .6 .3 .5 .1 .6 0 .5-.2 .5-.4 .4-.5 .3-.7 .3-.9 0-.8-.3-.7-.5-.8-.8-.7-.8-.3-.7 0zM122.4 683.5l-1.2 .3-.8 .6-.7 .6-.3 .8-.1 .9 .2 .8 .5 .7 .7 .5 1 .4 .8 .2 .7 .1 .5-.1 .4-.3 .4-.4 .3-.5 .2-.6 .2-.7 .1-.7-.1-.7-.2-.7-.3-.7-.6-.5-.7-.2zM162.6 676.1l-.1 .6 .1 .5 .2 .7 .3 .6 .4 .8 .6 .5 .8 .2 1 .1 1.1-.2 .9-.2 .7-.3 .4-.3 .2-.2 .1-.4-.1-.5-.1-.6-.3-.7-.5-.5-.8-.5-1-.4-1.2-.3-1-.2-.8 0-.4 .1-.2 .2-.1 .2-.2 .4zM147.3 669.6l-.7 .5-.5 .3-.5 .2-.4 .1-.2-.1-.4-.2-.4-.4-.5-.6-.5-.7-.2-.7 .1-.7 .5-.6 .8-.7 .6-.4 .5-.4 .2-.1 .1 0 .2 .2 .3 .5 .5 .7 .6 1 .2 .8 0 .7zM170.7 696.1l.3-.2 .4-.1 .5-.1 .6-.1 .8 0 .6 .2 .6 .4 .4 .6 .4 .8 .2 .6 .1 .5-.1 .4-.1 .3-.3 .2-.5 .2-.7 .2-.9 .2-.7-.1-.6-.4-.6-.7-.4-1-.3-.7-.1-.5-.1-.3 0 0 .1-.1 .2-.2zM160.8 626.2l-.3 .8-.2 .7 0 .7 .2 .6 .4 .6 .5 .4 .6 .2 .7 0 .8-.3 .6-.4 .5-.5 .3-.7 .1-.9-.1-.7-.3-.6-.6-.5-.7-.5-.7-.2-.4-.2-.4 0-.2 .1-.2 .3-.3 .5zM104.1 694.5l1.3-.2 1-.3 .6-.4 .3-.5-.1-.6-.2-.6-.4-.5-.7-.4-.8-.3-.7-.1-.7 .1-.6 .3-.5 .5-.4 .5-.2 .5-.1 .6 .1 .7 .3 .4 .8 .3zM192.3 639.6l.3-.6 .1-.7 .1-.8-.1-.9-.1-1.1-.5-.8-.7-.6-1-.4-1.3-.1-1.2 .1-1 .3-1 .5-.8 .7-.5 .7-.2 .8 .2 .8 .6 .9 .8 .7 1 .5 1.2 .4 1.5 .2 1.1-.1 .9-.2zM103.1 669.4l-.2-.7-.1-.8 0-.7 .2-.8 .2-.8 .6-.6 .8-.3 1.1 0 1.3 .3 1 .3 .8 .3 .4 .3 .2 .4-.1 .4-.2 .6-.4 .8-.7 .9-.6 .7-.6 .5-.6 .3-.5 .2-.5 .1-.5 .1-.4-.1-.3-.1-.3-.3-.3-.4zM151.9 622.3l.9 0 .7 0 .5-.1 .4-.2 .3-.2 .2-.3 .2-.4 .2-.5 .2-.6-.1-.8-.3-.9-.6-1-.9-1.3-.8-.6-.8-.1-.7 .4-.8 1-.4 1.1-.2 1 0 1 .3 .9 .4 .8 .6 .5zM150.5 688.5l.1-1.3-.1-1.1-.2-.8-.2-.5-.4-.2-.4-.2-.5 0-.5 .2-.5 .2-.6 .4-.4 .5-.5 .6-.3 .8-.2 .7 0 .7 .3 .6 .4 .6 .6 .4 .6 .3 .7 .1 .8 0 .7 0 .4 0 .2 0 0 0 0-.3 0-.7zM96.7 637.7l.8 1.1 .6 .8 .3 .6 .3 .2 0 0 .2-.1 .4-.3 .6-.5 .8-.6 .5-.7 .3-.9 0-1-.2-1.2-.3-.9-.4-.8-.4-.5-.5-.3-.4-.2-.4-.1-.4 0-.3 .1-.3 .3-.4 .5-.5 .7-.6 .8-.2 .9 .1 1zM125.7 640.1l-.2-.8 0-.7 .2-.7 .4-.7 .7-.5 .6-.5 .6-.2 .5-.1 .4 .2 .5 .2 .4 .3 .3 .4 .3 .5 .2 .5-.1 .6-.2 .6-.3 .7-.5 .5-.6 .4-.8 .2-.8 .1-.7-.1-.5-.4zM176.2 625.6l.5 0 .5 .2 .5 .3 .5 .3 .5 .5 .4 .5 .2 .6 .2 .5 .1 .6 0 .5 0 .5-.1 .3-.1 .2-.4 .3-.4 .2-.7 .2-.8 .3-.8 0-.7-.2-.7-.4-.6-.6-.4-.8 0-.8 .2-.9 .5-.9 .6-.8 .5-.4zM159.7 666.5l.5-.9 .4-.8 .2-.6 .1-.3-.1-.2-.2-.1-.4-.3-.5-.2-.6-.3-.7-.2-.8 .1-1 .1-1 .4-.6 .6-.2 .8 .1 1 .6 1.3 .5 .9 .6 .6 .7 .1 .7-.2 .6-.4 .6-.6zM145.8 698.3l.7 .5 .5 .9 .3 1.1 .1 1.5 0 1.8-.4 1.4-.6 1.1-1 .6-1.2 .3-1.1 .1-1 0-.8-.2-.7-.3-.4-.7-.1-1.1 .2-1.4 .5-1.9 .5-1.4 .7-1.2 .7-.8 .8-.4 .8-.2 .8 0zM164.4 696.3l.8 .4 .5 .5 .1 .6-.1 .6-.4 .6-.5 .4-.6 .3-.7 0-.7-.1-.6-.3-.5-.3-.3-.4-.2-.5 .1-.5 .2-.5 .3-.4 .6-.5 .6-.2 .7 0zM111.5 666.4l.5 .2 .6 0 .7-.2 .9-.4 1-.7 .6-.6 .2-.7-.1-.7-.6-.8-.6-.5-.6-.4-.8-.1-.8 0-.7 .2-.6 .5-.4 .6-.3 .8-.2 .7 0 .6 0 .4 .2 .3 .2 .3 .4 .3zM181.4 671.1l-.3 1.2-.1 .9 .2 .7 .4 .5 .7 .4 1.1-.1 1.3-.3 1.6-.8 1.9-1.1 1.1-.9 .3-.8-.6-.7-1.3-.6-1.3-.3-1.1-.2-1.1 0-.9 .2-.7 .4-.7 .7zM144.1 653.3l-1-.6-.8-.4-.7-.2-.7-.1-.5 .1-.4 .4-.2 .7 .1 .9 .2 1.2 .3 .9 .4 .7 .5 .5 .5 .2 .6 .1 .5 0 .5-.1 .5-.3 .4-.3 .4-.4 .3-.6 .2-.7 .1-.5 .1-.3 .1-.2 0 0-.3-.2-.4-.3zM164.9 664.6l-1.1-.4-.9-.4-.6-.3-.3-.2-.1-.2 .1-.4 .3-.7 .5-.9 .6-1.1 .6-1 .7-.7 .6-.4 .5-.3 .6-.2 .4-.1 .5 0 .3 0 .3 .1 .2 0 .2 .1 .1 .2 0 .4 0 .8 0 1 0 1.4-.2 1.2-.2 .9-.3 .7-.4 .5-.6 .2-.8 0zM102 672.5l-.8 .6-.5 .6-.2 .7 .1 .7 .3 .8 .4 .7 .5 .6 .6 .6 .8 .4 .6 .3 .6 .1 .4-.1 .4-.3 .2-.5 .1-.9-.2-1.1-.4-1.4-.3-1.1-.3-.8-.4-.4-.3-.1-.5 0-.5 .2zM155.9 635.9l.7 0 .5 .4 .4 .6 .2 1 .1 1.2-.1 1-.4 .8-.5 .7-.8 .4-.7 .3-.7 .1-.7-.1-.6-.3-.5-.4-.3-.3-.2-.4-.1-.4 .2-.5 .3-.7 .5-.9 .7-1.1 .7-.7 .6-.5zM138.4 691.7l.2 .4 .1 .5-.1 .5-.1 .7-.2 .8-.3 .7-.5 .6-.6 .4-.8 .3-.6 .2-.4 .1-.3 0-.2-.1-.2-.3-.2-.5-.2-.6-.2-.9 .1-.8 .4-.8 .7-.6 1-.6 .8-.4 .6-.2 .4-.1 .1 .1 .2 .1 .2 .2zM164.2 670.1l.9-1.3 .6-1 .5-.7 .1-.5 0-.1-.3-.2-.6-.3-.8-.4-1.1-.4-1-.1-.8 .2-.7 .7-.5 .9-.1 1 .1 1 .5 .9 .7 .9 .9 .4 .8-.2zM128.1 660.6l0 1 .1 1 .5 .7 .7 .6 1 .5 .8 .4 .5 .2 .3 .1 .1 0 .2-.2 .4-.4 .5-.7 .7-.8 .5-.7 .4-.5 .1-.5 0-.3-.1-.4-.4-.5-.4-.7-.6-.6-.8-.5-.8-.2-.9 .1-1.1 .3-.8 .5-.5 .7zM86.6 654.3l1.5-.1 1.3 0 1.1 .1 .9 .4 .7 .5 .6 .5 .3 .6 .1 .7 0 .8-.3 .7-.4 .7-.5 .7-.8 .6-.9 .5-1.1 .2-1.2 0-1.4-.2-1-.5-.7-.9-.4-1.2 0-1.5 0-1.1-.1-.8 0-.4 .1 0 .3-.1 .8 0zM147.9 670.4l-.6 .4-.5 .5-.2 .6-.1 .5 .1 .6 .3 .6 .5 .5 .7 .5 .8 .4 .7 .1 .6-.3 .5-.7 .4-1.1 .1-.9-.2-.7-.4-.6-.7-.5-.5-.3-.4-.2-.1-.1 0 0-.2 .1-.3 .2zM126.5 650.1l-.8 .5-.7 .4-.8 .1-.8-.2-.8-.3-.6-.6-.4-.8-.2-1.1 .1-1.3 .2-1 .3-.8 .6-.4 .6-.1 .7 .2 .8 .6 .8 .9 .8 1.2 .5 1 0 .9zM187.6 688.6l1.8-.1 1.4-.2 1-.3 .6-.4 .3-.6 .1-.7 0-.7-.1-.9-.2-.9-.6-.8-1-.6-1.4-.4-1.8-.2-1.4 0-1.1 .1-.8 .2-.4 .5-.3 .6 0 .9 .2 1.2 .4 1.4 .7 1 1.1 .6zM100.8 685.7l-.8 .7-.6 .5-.4 .6-.3 .5-.1 .5 .2 .5 .3 .5 .4 .5 .7 .5 .7 .3 .6 0 .6-.3 .5-.5 .4-.6 .3-.7 .1-1 0-1 0-.8-.1-.6-.1-.3-.1-.2-.1-.1-.2 0-.2 0-.2 0-.4 .2-.5 .3zM170.3 685.8l.6 .6 .4 .6 .2 .4 0 .4-.2 .2-.3 .3-.7 .2-.8 .3-1 .3-.9 0-.7-.2-.5-.5-.3-.8 0-.7 .3-.5 .6-.5 .9-.5 .9-.1 .8 .1zM84.8 616.8l-.1-1 0-1 .2-.9 .2-.9 .4-.8 .7-.7 .9-.7 1.2-.5 1.5-.4 1.3-.2 1-.1 .9 .1 .7 .3 .5 .3 .4 .2 .2 .3 .1 .2-.1 .7-.1 .9-.3 1.4-.4 1.7-.4 1.3-.4 1.1-.5 .6-.5 .4-.8 .1-1 0-1.4-.1-1.6-.4-1.2-.5-.9-.6zM124.2 707l-.8 .2-.7 .2-.8 0-.7-.1-.6-.2-.5-.7-.4-1.2-.2-1.7-.1-2.1 .2-1.7 .3-1.2 .5-.7 .8-.3 .7-.1 .6 .1 .6 .3 .6 .4 .5 .9 .4 1.2 .3 1.5 .2 1.9 0 1.5-.3 1.1zM153 649.6l.7-.1 .5-.1 .5-.2 .4-.3 .2-.3 .2-.3 .2-.3 .1-.2 0-.2-.1-.4-.1-.5-.3-.7-.3-.9-.4-.7-.5-.6-.5-.4-.6-.3-.7 0-.8 .2-.9 .6-1 .8-.6 .7-.4 .7 0 .6 .3 .6 .4 .6 .5 .4 .5 .5 .7 .3 .7 .3 .6 .1zM193.1 654.4l.1 .1 0 .5 0 .9-.1 1.2-.1 1.7-.5 1.2-.9 .7-1.3 .3-1.6-.2-1.4-.3-1.1-.4-.8-.6-.5-.6-.2-.7-.1-.7 .2-.8 .4-.8 .8-.6 1.1-.5 1.4-.3 1.8-.1 1.4 0 .9 0zM166.8 638.6l.6-.8 .5-.6 .2-.6 0-.3-.1-.2-.4-.2-.7 0-.8 0-1.1 .1-.8 .3-.5 .3-.2 .5 .1 .6 .2 .6 .3 .4 .4 .4 .6 .3 .5 0 .6-.2zM135.5 691.1l-1 .5-.8 .4-.7 .2-.5 0-.4-.2-.3-.2-.3-.3-.2-.3-.2-.5-.1-.5 .1-.5 .2-.7 .3-.7 .5-.5 .7-.1 .9 .2 1 .4 .8 .5 .6 .3 .4 .4 .2 .3-.1 .4-.4 .4zM143.1 687.6l.5 0 .5-.2 .5-.3 .4-.6 .3-.7 .1-.7-.2-.6-.4-.6-.8-.5-.6-.4-.5-.2-.5-.1-.3 .1-.3 .1-.2 .1-.1 .2-.1 .2 0 .4 0 .5 .2 .8 .3 1 .4 .7 .4 .5zM104.5 681.3l-.3 1-.1 .7-.1 .6 0 .3 .1 .1 .5 .2 .7 .2 1.1 .3 1.3 .3 1.2 0 .8-.4 .7-.7 .4-1.1 .1-.9 0-.9-.2-.7-.5-.6-.6-.4-.6-.3-.7-.2-.7 0-.7 .1-.6 .1-.4 .2-.4 .3-.4 .4-.3 .6zM113.6 636.6l-.4-1-.5-.6-.7-.3-.8 .1-1 .5-.7 .4-.5 .4-.3 .3 0 .2 .1 .4 .3 .5 .4 .6 .6 .7 .6 .5 .7 .1 .7-.1 .9-.5 .5-.6 .2-.7zM117.2 682.5l.5 .7 .3 .7 .2 .8 0 .9-.1 1-.2 .8-.3 .6-.4 .5-.6 .4-.7 .1-.9-.1-.9-.4-1.2-.6-.8-.5-.6-.5-.4-.3-.1-.2 0-.4 .2-.7 .3-.9 .4-1.1 .5-.8 .7-.6 .9-.3 1 0 .9 .1 .7 .4zM109.2 690.1l.6-.9 .8-.5 .8-.1 1 .2 1.1 .6 .8 .7 .5 .7 .1 .8-.2 .9-.4 .7-.7 .5-1 .5-1.3 .2-1 .2-.8 0-.5 0-.2-.2-.1-.4-.2-.4-.1-.6-.1-.6 .1-.7 .3-.8zM125.2 672.2l.3-.7 .5-.5 .6-.3 .8-.1 .9 0 .7 .2 .7 .5 .4 .6 .3 .9 0 .6-.5 .6-.8 .4-1.3 .2-1 .1-.8-.1-.5-.3-.3-.4-.2-.5 0-.5zM170 698.6l.5 1.1 .2 1.1 0 1.3-.1 1.4-.4 1.5-.5 1.1-.5 .8-.6 .3-.6 0-.6-.5-.5-.8-.5-1.2-.4-1.6-.2-1.4 .1-1.2 .2-.9 .5-.7 .5-.6 .4-.4 .6-.3 .5-.2 .5 .1 .5 .4zM102.7 648.6l-.3 .3-.2 .4-.1 .4 0 .5 .1 .5 .2 .5 .3 .5 .4 .4 .4 .4 .5 .3 .4 .2 .4 0 .4-.1 .5-.2 .4-.3 .5-.6 .5-.6 .3-.6 0-.6-.1-.5-.4-.4-.4-.3-.6-.3-.7-.2-.9 0-.6 0-.6 .1zM174.1 621l.2-.7 .2-.5 .3-.5 .4-.3 .4-.2 .6 0 .7 .2 .8 .3 .9 .5 .6 .6 .1 .7-.3 .9-.7 1-.7 .7-.6 .5-.5 .2-.5-.1-.5-.2-.4-.3-.4-.4-.3-.5-.2-.6-.1-.6zM91.4 696.5l-.6-.8-.1-.8 .2-.6 .6-.5 1-.5 .8-.1 .8 .3 .6 .7 .6 1 .3 .8 .3 .5 .1 .3 0 0-.2 0-.5 .2-.7 .1-.9 .2-.9 0-.7-.3zM170.7 636.6l-.5-.2-.4-.3-.4-.2-.2-.2-.2-.3-.1-.3-.1-.5 0-.6 .1-.8 .1-.7 .4-.6 .5-.5 .6-.4 .5-.3 .4-.2 .4-.2 .2 0 .3 .2 .5 .3 .5 .4 .6 .7 .5 .6 .2 .6 0 .6-.1 .6-.3 .6-.4 .5-.6 .5-.6 .4-.5 .3-.3 .2-.2 .1-.1 .1-.2-.1-.2-.1zM102.1 695.7l0 .1 0 .2 .2 .4 .2 .6 .3 .8 .5 .6 .7 .5 .8 .3 .9 .2 .8 .1 .6 0 .4-.1 .3-.2 .2-.4 .1-.5 .1-.6 .1-.8 .1-.7-.1-.5-.1-.4-.2-.2-.5-.1-.8 0-1.1 .1-1.4 .2-1 .1-.7 .2zM115 698.3l-.8 1.1-.4 1.3 0 1.3 .3 1.3 .6 1.5 .7 1 .8 .7 .7 .3 .8-.1 .6-.6 .4-1.1 .1-1.6 0-2.1-.2-1.7-.4-1.2-.5-.9-.6-.4-.7 0-.7 .4zM182.6 621.3l.6 .6 .8 .4 1 0 1.1-.3 1.3-.6 .7-.6-.1-.7-.8-.7-1.4-.8-1.2-.4-.9-.1-.8 .4-.5 .7-.2 .7 .1 .7zM138.9 629.6l-.7-.2-.6 0-.6 .1-.5 .3-.5 .5-.2 .5 0 .7 .2 .8 .5 .9 .5 .7 .4 .4 .5 .3 .5 .1 .4-.1 .5-.2 .4-.3 .3-.5 .3-.5 .1-.6-.1-.7-.2-.8-.3-.6-.4-.5zM129.5 692.8l-.7 .5-.6 .2-.8 .1-.8-.2-.9-.5-.8-.4-.5-.4-.3-.5-.1-.4 .1-.4 .1-.4 .3-.3 .3-.3 .6-.1 .7 0 .9 .1 1 .2 .9 .3 .6 .3 .4 .4 .2 .4 0 .4-.2 .5zM180.6 700l.6 .8 .5 .4 .6 0 .6-.3 .7-.6 .4-.7 .2-.6-.1-.7-.2-.7-.3-.5-.4-.3-.6-.2-.6 0-.6 .1-.4 .3-.4 .4-.3 .6-.1 .6 .1 .7zM170.2 646.5l-.1 .8-.1 .8 .1 .7 .3 .6 .4 .5 .4 .4 .5 .2 .7 .1 .6 0 .7-.2 .6-.3 .5-.5 .5-.7 .4-.5 .2-.6 .1-.5-.1-.4-.1-.5-.2-.4-.3-.4-.3-.3-.5-.2-.7-.2-.8 0-1 .2-.8 .3-.6 .4zM142.9 620.6l.3-.7 .5-.5 .7-.4 1-.2 1.2-.1 1 .2 .8 .5 .5 .7 .3 1 .1 .9-.1 .8-.3 .7-.4 .5-.6 .5-.5 .3-.6 .2-.6 .1-.6-.1-.6-.4-.7-.6-.7-.9-.5-.9-.2-.8zM153.7 690.4l1.5-.5 1.1-.4 .9-.2 .5 0 .2 0 .2 .2 .2 .1 .1 .1 0 .2 0 .5-.2 .6-.3 1-.4 1.1-.6 .8-.8 .4-.9 .1-1.1-.4-.9-.4-.7-.4-.4-.6-.3-.6-.1-.4-.1-.3-.1-.2 0 0 .4-.1 .7-.3zM147.8 647.7l-.3-.6-.3-.5-.4-.3-.4-.3-.5-.1-.6 .3-.6 .6-.7 .9-.7 1.2-.3 1.1 .1 .9 .5 .8 .9 .6 .9 .2 .8-.3 .6-.7 .6-1.2 .4-1 .1-.9zM137.9 652.1l.2 .1 .3 .4 .2 .6 .2 .9 .3 1.2-.1 1.1-.4 .9-.6 .7-1 .6-.9 .3-.7-.1-.7-.3-.7-.7-.4-.7-.2-.8-.1-.7 .2-.8 .4-.6 .5-.6 .8-.5 1-.5 .7-.3 .6-.2zM104.5 661.7l.4-.9 .6-.8 .6-.6 .8-.4 .9-.2 .6-.2 .5-.1 .3 0 0 0 .1 .2 .2 .3 .2 .5 .2 .6 .2 .7 0 .7-.2 .8-.3 .8-.5 .6-.8 .2-1.1 0-1.3-.2-1-.2-.6-.2-.3-.1-.1 0 .1-.2 .2-.5zM150.8 656l.3 .4 .2 .5 0 .6-.1 .7-.4 .9-.3 .7-.3 .4-.3 .2-.3 .1-.4-.2-.6-.4-.7-.5-.9-.8-.6-.8-.3-.7-.1-.6 .2-.7 .4-.5 .6-.2 .7-.1 1 .2 .7 .2 .7 .2zM160 674.5l-1-.1-1-.2-.7-.4-.6-.7-.4-.8-.3-.7-.1-.5 .1-.4 .2-.3 .3-.3 .4-.2 .6-.2 .6-.2 .7 .1 .8 .3 .7 .6 .8 .9 .6 .8 .4 .5 .2 .5 0 .2 0 .2-.1 .3-.1 .2-.2 .1-.4 .2-.6 .1zM170.4 653.7l-.5 1.2-.3 .9-.3 .6 0 .4 .1 .1 .4 .2 .6 .2 .9 .2 1.3 .3 .9 .2 .6 .1 .3 .1 0 0 .1-.2 .2-.4 .4-.6 .4-.9 .3-.8-.1-.8-.3-.8-.5-.8-.6-.5-.7-.4-.6-.2-.7 .1-.7 .3-.6 .6zM168.5 621.3l-.5-.7-.4-.6-.3-.4-.1-.3 0-.2 0-.2 .1-.3 .1-.2 .2-.3 .4-.2 .5-.2 .8-.1 .9-.2 .8 .1 .7 .1 .6 .3 .5 .4 .3 .5 .1 .5 0 .7-.2 .7-.4 .5-.5 .5-.7 .2-.8 .2-.8-.1-.7-.2zM136.3 627.3l0-.8-.4-.5-.5-.4-.8-.2-1-.1-.8 .2-.6 .4-.4 .6-.2 .9 0 .8 .1 .6 .3 .5 .5 .4 .5 .3 .4 .2 .3 0 .3 0 .4-.1 .4-.3 .4-.3 .5-.5 .4-.5 .2-.6zM132.3 697.3l-.6 .4-.6 .1-.6-.1-.5-.2-.5-.4-.4-.4-.2-.4-.2-.4 0-.5 .2-.4 .3-.5 .4-.5 .6-.5 .5-.3 .5-.1 .4 0 .4 .1 .3 .4 .2 .5 .3 .7 .2 .8-.1 .7-.2 .6zM160 640.9l-.4-.2-.4-.4-.3-.6-.1-.9-.1-1.2 .1-.9 .2-.7 .3-.5 .5-.3 .5-.1 .4 .1 .5 .2 .4 .3 .4 .5 .3 .4 .1 .6 .2 .6-.1 .6-.2 .6-.4 .6-.5 .6-.5 .4-.4 .2zM85.8 685.1l-.1 0-.3 .1-.2 .2-.2 .3-.2 .4-.2 .6-.1 1-.1 1.3 0 1.5 .2 1.2 .6 .9 .9 .5 1.2 .2 1.1 0 1.2-.1 1.1-.4 1.1-.5 .8-.4 .5-.3 .4-.2 0-.2-.1-.4-.4-.6-.5-.9-.8-1.1-.8-.9-.9-.8-1.1-.5-1.1-.4-.9-.3-.6-.1zM88.6 701.5l-1.7 .6-1.1 .7-.7 .9-.3 .9 .3 1.1 .6 .9 1 .8 1.3 .6 1.6 .6 1.5 .2 1.4 0 1.3-.4 1.2-.5 .8-.5 .6-.4 .2-.3 0-.1-.4-.5-.7-.8-1-1.1-1.4-1.5-1.4-.9-1.5-.4zM177.3 692.1l0 0-.2-.3-.6-.6-.9-.7-1.1-1-.9-.8-.6-.5-.3-.2 0 0 0 .1-.1 .1-.2 .2-.2 .2-.1 .6-.2 .8-.1 1.1-.1 1.4 .1 1 .4 .7 .5 .3 .8 0 .7-.1 .7-.3 .7-.4 .7-.6 .5-.4 .3-.4zM189.6 647.2l-2 .4-1.5 .5-1.2 .4-.7 .5-.3 .5 0 .6 .1 .7 .3 .8 .6 .9 .9 .6 1.2 .4 1.5 .2 1.8-.1 1.3-.5 .9-.9 .4-1.3-.1-1.7-.1-1.3-.1-.8 0-.5 0 0-.6 .1-1 .2zM95.2 682.4l-.3 .8-.4 .7-.6 .5-.7 .5-.9 .3-.9 .2-.9 0-1-.2-1.1-.3-.5-.6 .1-.6 .7-.8 1.2-1 1.2-.7 1.1-.4 1-.1 1 .3 .6 .3 .4 .5zM116.7 615.9l1.3-.4 1.1-.7 .8-.9 .6-1.2 .4-1.6-.3-1.1-.9-.8-1.6-.5-2.2-.1-1.7 .1-1.3 .1-.9 .2-.4 .4-.1 .6 .3 1 .6 1.3 1 1.7 1 1.1 1.1 .6zM184.2 701.1l-.7 .7-.6 .9-.4 .9-.4 1.2-.2 1.2-.1 1 0 .7 .1 .5 .3 .2 .8 .1 1.2 0 1.7-.1 2.2-.2 1.7-.4 1.3-.8 .8-1.1 .3-1.3 .3-1.1 .1-.9 0-.6-.1-.3-.5-.3-1-.3-1.3-.3-1.8-.4-1.5 0-1.2 .2zM100.9 695l0 .1-.3 .2-.6 .1-.7 .3-1 .3-.9-.1-.7-.4-.7-.7-.5-1.1-.4-.8-.2-.6-.1-.4 0-.1 .3-.2 .4-.2 .5-.3 .8-.4 .7-.1 .8 .1 .7 .3 .7 .5 .5 .6 .4 .5 .2 .7 .1 .6 0 .5 0 .4zM178.9 673.8l.3-.1 .3-.3 .4-.6 .3-.8 .3-1.1 .2-1-.2-.9-.3-.9-.6-.7-.6-.5-.6-.3-.7-.1-.6 .1-.6 .3-.5 .6-.5 .7-.4 .9-.1 .8 .3 .9 .7 .9 1 .9 .8 .6 .6 .4zM144.6 675.7l.5-.6 .3-.5 .2-.6 0-.6-.1-.6-.2-.5-.2-.3-.2-.2-.3-.1-.5 .1-.6 .4-.8 .5-1 .7-.7 .6-.4 .5-.2 .4 .1 .2 .2 .3 .5 .3 .6 .2 .8 .3 .8 0 .6-.1zM158.6 623.8l-1.1-.6-.9-.4-.7-.1-.5 0-.3 .2-.1 .4 0 .7 .1 .8 .3 1.1 .4 .8 .5 .6 .7 .3 .8 0 .7-.1 .6-.3 .4-.6 .4-.8-.1-.7-.4-.7zM128.7 623.4l-.9 .4-.6 .3-.5 .2-.3 0-.2 0-.2-.3-.2-.6-.2-.7-.2-1 0-.9 .3-.7 .5-.5 .8-.5 .7-.2 .6 .1 .6 .3 .4 .5 .4 .6 .2 .5 .1 .5-.1 .6-.2 .5-.4 .4zM112 646.9l-.4 1-.4 .8-.3 .5-.2 .4-.2 0-.2 .1-.3 0-.3 0-.3 0-.4-.2-.4-.2-.3-.4-.4-.4-.2-.6 0-.7 .1-.8 .4-.9 .3-.7 .4-.6 .4-.4 .5-.3 .5 0 .5 .1 .5 .3 .6 .6 .3 .7 0 .8zM132 673.8l0 0-.1-.3-.2-.4-.3-.7-.3-.9-.2-.9 0-.9 .2-.9 .4-.9 .3-.7 .3-.5 .1-.3 .1 0 .3 .2 .6 .4 .8 .7 1.1 .9 .7 .8 .5 .7 .3 .6-.1 .5-.3 .5-.6 .5-.8 .5-1.1 .5-.8 .3-.5 .2zM87.2 619.8l1.6 .3 1.2 .5 1 .7 .6 .8 .3 1.1 .2 .8 0 .7-.1 .5-.2 .3-.6 .2-1 .1-1.4 0-1.8-.1-1.3-.3-1-.4-.6-.6-.2-.8-.1-.8 .1-.8 .2-.8 .3-.8 .6-.5 .9-.2zM134.9 687.5l-1-.5-.8-.4-.5-.3-.3-.3 0-.2 .1-.2 .3-.4 .6-.4 .7-.6 .6-.3 .6-.1 .5 .2 .4 .3 .3 .4 .2 .6 0 .7-.1 .9-.3 .5-.5 .2zM148.6 632.4l1.3-.6 .9-.4 .6-.4 .3-.3 .1-.1-.3-.4-.4-.6-.7-.9-.9-1.1-.9-.8-.8-.5-.7-.2-.6 .1-.5 .1-.3 .2-.3 .3-.1 .2 0 .6 .2 .9 .2 1.1 .5 1.5 .6 .9 .8 .5zM104.4 622.8l-.3 .8 0 .8 .3 .6 .4 .5 .8 .3 .8 .1 .9-.3 .9-.5 1.1-.8 .8-.7 .5-.5 .2-.4 0-.2-.2-.3-.4-.4-.6-.5-.8-.6-.8-.3-.7-.1-.8 .2-.7 .4-.6 .5-.4 .6zM89.4 669.9l-1.1 .6-.9 .5-.8 .4-.6 .1-.5 0-.4-.1-.3-.2-.4-.3-.2-.4-.3-.7-.1-1.1-.1-1.5 0-1.7 0-1.4 .1-1 .1-.7 .1-.2 .5-.1 .8-.1 1 .1 1.4 .2 1.2 .3 .8 .3 .6 .4 .4 .5 .2 .6 .2 .8 0 1 0 1.1-.3 1-.6 .8zM139.2 645.5l1.4-.6 1.2-.3 .9-.1 .6 .1 .5 .4 .1 .7-.2 .8-.4 1.1-.8 1.2-.7 1-.7 .7-.6 .4-.6 .2-.5 0-.3 .1-.3-.1-.3 0-.2-.4-.2-.6-.3-.9-.3-1.2 .2-1 .5-.8zM103.2 616.2l1.5-1 1.1-.4 .8 .2 .4 .7 0 1.4-.1 1.1-.4 .8-.5 .7-.7 .4-.7 .1-.8-.1-.8-.5-.8-.7-.6-.5-.4-.4-.2-.2 0 0 .4-.3 .7-.5zM91.5 637.8l-.7 .9-.9 .7-1 .6-1.1 .5-1.2 .2-1 0-.8-.2-.5-.5-.4-.8-.2-.8-.1-1 .1-1.1 .2-1.2 .4-.9 .7-.5 1-.3 1.2 0 1.1 .2 1 .4 1 .5 1 .8 .5 .8 .1 .8zM99 659.5l.1-.7 0-.7-.2-.6-.3-.6-.4-.5-.3-.4-.4-.3-.2-.1-.2-.1-.3 0-.4 .1-.5 .1-.6 .2-.4 .3-.4 .4-.1 .6-.1 .7 .2 .7 .4 .6 .6 .6 .8 .5 .7 .4 .6 .2 .5 .1 .3-.2 .3-.2 .2-.5zM182.2 689.4l-.9 .2-.8-.2-.7-.7-.6-1.1-.5-1.5-.4-1.2-.2-.8-.1-.4 0-.1 .3 0 .6 0 .8-.1 1.1 0 .9 .3 .7 .7 .5 1 .4 1.3 .3 1 .1 .7 .1 .4-.1 .1-.3 .1-.5 .1zM116.5 674l.7 .8 .7 .4 .8 .1 .8-.4 .9-.7 .5-.7 .2-.7-.3-.7-.6-.7-.6-.5-.8-.1-.8 .2-1 .5-.6 .3-.5 .4-.3 .2 0 .2 .1 .3 .3 .5zM117.5 665l0 0 .1 .2 .3 .5 .4 .6 .5 .8 .3 .7 .2 .5 .1 .4-.1 .3-.3 .3-.5 .4-.7 .4-.9 .4-.8 .2-.7-.3-.7-.6-.5-.9-.1-.8 .3-.8 .6-.7 1-.6 .7-.5 .5-.3zM185.4 632l-.4-.6-.6-.4-.7-.2-.8-.1-.9 0-.7 .1-.5 .1-.3 .2-.2 .2 .1 .4 .2 .6 .3 .7 .5 .9 .4 .7 .4 .5 .3 .3 .2 0 .3-.1 .5-.3 .6-.5 .8-.7 .5-.6 .2-.6zM139.7 689.3l.7-.5 .5-.6 .2-.7 0-.9-.3-.9-.4-.7-.5-.4-.5 0-.7 .2-.6 .4-.3 .5-.3 .7-.1 .9 0 .7 0 .6 .1 .4 .2 .3 .2 .2 .1 .2 .2 .2 .2 0 .3-.1 .4-.2zM184.7 691.6l.1 1.2 .6 .9 1.1 .5 1.5 .1 2-.2 1.4-.4 .9-.7 .3-.9-.2-1.2-.7-.8-1-.6-1.4-.2-1.8 .1-1.4 .1-.9 0-.5 .1-.1 .1 0 .3 0 .7zM125.4 636.6l.7-.6 .4-.7 .1-.6-.2-.8-.5-.7-.5-.6-.6-.4-.6-.3-.7-.1-.6 .2-.4 .6-.3 .9-.1 1.3 0 1 .3 .7 .4 .5 .6 .1 .7 0 .6-.1zM139.5 691.2l.2 .4 .4 .4 .6 .4 .9 .5 1.1 .5 .9 .2 .8-.2 .6-.4 .5-.8 .3-.7 0-.7-.3-.6-.4-.5-.5-.5-.5-.3-.5-.2-.5 0-.6 .1-.7 .2-.6 .4-.8 .5-.5 .5-.3 .4zM116.1 620.3l1.1 .6 .7 .6 .5 .7 .1 .8-.1 .8-.3 .7-.6 .4-.8 .3-1 0-.9-.1-.8-.3-.6-.4-.5-.6-.4-.4-.3-.4-.1-.3-.1-.3 .2-.3 .3-.4 .4-.6 .7-.6 .7-.4 .9 0zM143.2 680.6l.4-.6 .3-.6 .1-.5-.1-.4-.1-.4-.3-.3-.5-.3-.6-.3-.8-.3-.7 0-.5 .1-.4 .4-.3 .6-.1 .6 .2 .6 .3 .7 .5 .8 .5 .5 .4 .3 .4 .2 .3-.1 .3-.2 .4-.4zM139.4 640.4l-1.2 .2-1 .3-.6 .6-.4 .8 0 1 0 .8 .1 .6 .1 .4 .2 .1 .6 0 .8-.2 1-.4 1.4-.6 1-.5 .6-.7 .3-.6-.1-.6-.2-.5-.1-.4-.2-.3-.2-.1-.4 0-.7 0zM151.3 662.4l.5 .5 .2 .6-.2 .9-.5 1-.9 1.2-.7 .9-.5 .6-.2 .3 0 0-.2-.2-.3-.5-.4-.8-.6-.9-.3-1 0-.8 .4-.8 .7-.7 .6-.5 .4-.3 .4-.2 .3-.1 .4 .2 .4 .2zM171.8 644l1-.1 .7-.2 .5-.3 .3-.3 0-.5-.1-.5-.3-.7-.5-.8-.7-.9-.5-.7-.3-.5-.2-.2-.1 0-.1 .3-.3 .6-.4 1-.4 1.3-.3 1-.2 .7 0 .5 .2 .2 .4 .1 .5 .1zM98.4 615.6l-1-1.4-.9-.7-.7 .2-.5 .8-.4 1.6 0 1.3 .2 1.1 .5 .8 .8 .5 .8 .2 .7-.1 .6-.4 .6-.7 .4-.5 .3-.4 .2-.2 0 0-.3-.4-.5-.7zM135.1 643.2l.1-1 0-.9-.2-.7-.2-.5-.4-.5-.4-.3-.4-.2-.5-.2-.5 0-.5 .1-.5 .3-.4 .5-.4 .7-.2 .7 .1 .8 .2 .8 .4 .9 .5 .6 .6 .4 .7 .2 .8-.1 .6-.3 .4-.6zM137.3 621.1l-.5-.6-.3-.7-.1-.8 0-1 .1-1.1 .5-.6 .8-.1 1.1 .3 1.5 .7 1.1 .6 .7 .4 .4 .2 0 0-.1 .2-.1 .4-.2 .5-.3 .7-.4 .6-.5 .4-.8 .4-.8 .2-.8 0-.7-.2zM156.2 679.6l-.3-.6-.1-.6 .1-.6 .2-.7 .4-.7 .6-.5 .8-.4 .9-.1 1 0 .8 .2 .5 .3 .2 .4 0 .5-.3 .5-.5 .7-.7 .6-1 .7-.8 .6-.5 .3-.4 .2-.1 0-.2-.2-.3-.2zM163.7 685.3l.5 .2 .6 0 .7-.1 .9-.2 .9-.5 .7-.5 .5-.6 .2-.8-.1-.9-.3-.6-.5-.3-.9-.1-1.1 .2-.9 .3-.7 .4-.6 .6-.3 .7-.3 .6-.1 .5-.1 .3 .1 .2 .1 .2 .3 .2zM177.5 665.3l-.6 .1-.6 0-.5-.1-.5-.3-.3-.5-.3-.6-.1-.7 0-1 .2-1.1 .1-.9 .1-.5 0-.3 0 0 .3 .1 .4 .2 .7 .3 1 .5 .7 .5 .5 .6 .2 .7 .1 .8 0 .6 0 .5-.1 .3-.2 .3-.2 .2-.4 .1zM160.7 688l.7-.8 .7-.6 .6-.3 .5 0 .6 .2 .4 .3 .4 .5 .4 .6 .3 .8 .3 .6 .1 .5 0 .3 0 .2-.2 .2-.4 .2-.5 .3-.6 .3-.7 .1-.7-.1-.8-.3-.8-.5-.6-.3-.4-.4-.3-.2 0-.2 .1-.3 .3-.5zM115.5 659.1l.5-.9 .3-.7 .2-.5 0-.5-.2-.3-.4-.2-.6-.1-.8 0-1 .1-.8 .2-.7 .3-.6 .3-.4 .5-.3 .5-.1 .5 .1 .6 .3 .6 .4 .5 .5 .3 .7 .1 .9 0 .7-.3 .7-.4zM119.7 644l.4 .3 .3 .5 .2 .8 .1 1-.1 1.3-.2 1-.3 .8-.6 .5-.7 .2-.6-.2-.6-.5-.5-1-.4-1.3-.1-1.1 .1-.9 .5-.6 .7-.5 .7-.3 .5 0zM84 651l-.2-1.7 0-1.4 0-1.1 .1-.7 .2-.4 .6-.1 1 .1 1.3 .4 1.8 .6 1.4 .5 1 .5 .6 .4 .1 .4 .1 .5-.2 .7-.3 .8-.5 1-.7 .8-1 .6-1.3 .3-1.5 .2-1.2-.3-.8-.8zM147.4 683.7l.5-.2 .4-.3 .2-.5 .1-.6 0-.7-.3-.5-.4-.5-.7-.3-.8-.2-.8 0-.6 .2-.5 .4-.3 .6-.1 .6 .2 .5 .4 .6 .8 .5 .6 .3 .7 .2zM110.2 700.5l.8 .4 .9 .6 .7 1 .8 1.1 .6 1.5 .3 1.2 0 .9-.4 .7-.8 .5-.8 .2-1 .1-1.1-.1-1.2-.3-.9-.6-.5-1.1-.2-1.4 .2-1.8 .2-1.4 .2-1 .2-.6 .3-.2 .4-.1 .5 .1zM132.4 654.6l-.2 .8-.4 .6-.6 .6-.8 .4-1.1 .4-.9 .1-.8-.1-.7-.3-.7-.5-.4-.6-.3-.7-.2-.8 0-.8 .2-.9 .4-.7 .5-.6 .8-.6 .6-.4 .4-.3 .3-.2 .1 0 .3 .2 .5 .5 .8 .6 .9 .9 .7 .8 .4 .8zM108 634.1l-.4-.6-.2-.7-.1-.6 .1-.6 .3-.6 .4-.4 .7-.3 .8-.1 1 .1 .8 .1 .6 .3 .5 .3 .2 .4 .1 .4 0 .4 0 .3-.1 .3-.4 .3-.5 .4-.8 .5-.9 .4-.9 .2-.6-.1zM121.4 660.7l0-.8 .2-.7 .4-.7 .6-.5 .9-.4 .8-.2 .7 0 .6 .3 .6 .4 .5 .7 .2 .7 .1 .9-.1 1.1-.1 .8-.3 .6-.3 .5-.5 .2-.5 0-.7-.1-.8-.3-.9-.5-.7-.6-.5-.7zM159.9 645.5l-1.2 .5-1 .1-.8-.1-.6-.5-.3-.9-.1-.7 .2-.6 .5-.6 .8-.4 .7-.3 .6-.2 .5 0 .4 .1 .4 .3 .5 .4 .4 .5 .4 .7-.1 .6-.4 .5zM151.8 623.3l.9 0 .7 .3 .5 .5 .4 .8 .2 1.1 .1 1-.2 .8-.4 .7-.7 .5-.7 .1-.8-.2-.8-.7-.9-1.1-.6-.9-.3-.9 .2-.7 .4-.5 .6-.5 .6-.2zM169.7 626.5l.7 1 .6 .7 .4 .5 .4 .2 .2 0 .3-.2 .4-.5 .5-.8 .5-1 .3-.8 .1-.8-.2-.7-.3-.5-.5-.4-.6-.2-.8 0-.8 .2-.7 .2-.6 .3-.4 .3-.2 .5 0 .5 .3 .7zM186.9 674.2l2-1.1 1.5-.9 1-.5 .5-.3 0 0 .1 .4 .3 .8 .3 1.3 .4 1.7 .3 1.5 0 1.2-.1 1-.4 .9-.7 .5-1 .3-1.5 .1-1.8-.2-1.4-.5-1-.7-.7-.9-.3-1.2 .3-1.1 .8-1.2zM180 700.7l.6 .8 .4 .9 .2 1 0 1.1-.3 1.2-.3 .9-.3 .6-.4 .2-.5 0-.5-.4-.6-.9-.6-1.3-.6-1.6-.4-1.4-.2-1-.1-.6 .2-.3 .2-.2 .4-.1 .5-.1 .6 0 .6 .2 .6 .4zM127.1 698l-.8 .4-.5 .7-.2 1.1 0 1.5 .2 1.9 .3 1.4 .4 .9 .4 .5 .6 0 .5-.4 .5-.9 .6-1.4 .4-1.8 .3-1.5 0-1.1-.3-.8-.5-.4-.6-.2-.7 0zM109.7 668.5l-.7 .9-.2 .9 .1 .8 .5 .9 .8 .9 .9 .5 .8 .3 .7-.1 .8-.5 .5-.3 .4-.3 .2-.3 .1-.1-.1-.4-.3-.6-.3-.7-.5-1-.5-.7-.5-.6-.6-.4-.5-.2-.5 .1-.6 .3zM185.4 663l.4-.6 .6-.3 1-.2 1.4 0 1.6 .1 1.3 .2 .8 .2 .5 .1 0 .1 0 .5-.1 .9-.1 1.4-.2 1.8-.2 1.3-.1 .9-.2 .6 0 .1-.1 0-.1 .1 0 0 0 0-.4-.1-.7-.3-1.1-.4-1.4-.6-1.1-.6-.8-.8-.7-.9-.3-1.1-.2-.9 0-.8zM130.7 683l-.2-.8 0-.8 .2-.7 .4-.6 .6-.5 .5-.2 .6-.1 .5 .1 .5 .3 .4 .4 .3 .5 .1 .6 .1 .6-.2 .6-.4 .5-.5 .6-.8 .5-.6 .4-.4 .2-.3 0-.2-.1-.2-.3-.2-.5zM120.2 675.5l.9-.8 .8-.5 .6-.3 .5-.2 .3 .1 .3 .1 .3 .2 .3 .4 .4 .4 .2 .5 .1 .6-.1 .6-.1 .8-.5 .4-.7 .2-1.1 0-1.4-.3-1-.2-.7-.3-.4-.2 0-.2 .2-.3 .5-.5zM140.1 701.9l-.5 1.7-.4 1.4-.3 .9-.3 .4-.2 0-.3-.5-.5-1-.6-1.6-.7-2-.4-1.6 0-1.2 .4-.7 .8-.3 .8-.1 .7 .1 .7 .4 .6 .5 .3 .9 .1 1.2zM96.7 645.4l.2 1.1 .1 .8 0 .6-.1 .4-.2 .1-.3 .1-.5 .1-.6 0-.8 0-.7-.1-.5-.2-.3-.2-.2-.4 0-.4 .1-.6 .3-.7 .4-.8 .4-.6 .5-.5 .6-.2 .5-.1 .5 .2 .4 .5zM176.7 609.2l-1.7-.4-1.3-.3-.8-.1-.5-.1 0 0 0 .5 0 1 0 1.5-.1 2 .1 1.7 .3 1.2 .3 .8 .5 .5 .5 .3 .5 .1 .4 0 .5-.2 .5-.6 .6-1.1 .7-1.5 .8-1.9 .2-1.5-.4-1.2zM93.8 698.1l.9-.2 .8 .3 .5 .9 .4 1.4 .1 2-.2 1.2-.6 .3-.9-.5-1.3-1.4-.9-1.1-.5-.9-.2-.6 .2-.4 .3-.4 .6-.3zM98.5 674l-.5 0-.4 0-.4 .2-.4 .2-.4 .4-.2 .5 0 .8 .1 .9 .2 1.1 .4 .7 .6 .2 .7-.2 .9-.6 .5-.7 .3-.7 0-.8-.3-.7-.3-.6-.4-.4zM162.6 682.6l.3-.6 .1-.7 0-.7-.2-.7-.4-.7-.6-.4-.6 0-.9 .4-.9 .7-.5 .7 .1 .7 .5 .7 1 .7 .9 .3 .6 0zM103 655.4l.2-.6 .1-.5-.2-.5-.2-.4-.5-.4-.5-.1-.6 .2-.7 .4-.9 .6-.5 .6-.2 .6 .1 .5 .4 .5 .5 .3 .5 .2 .6 0 .7-.2 .5-.3 .4-.4zM167.9 649.4l-.6 .1-.6 .2-.5 .3-.5 .5-.4 .7-.2 .7 .1 .8 .3 .9 .6 .9 .5 .8 .5 .4 .4 .3 .3 0 .4-.2 .4-.6 .5-.8 .5-1.2 .3-1 .1-.8-.2-.7-.3-.5-.5-.4-.5-.3zM153.2 699.8l-1.1-.5-.9-.3-.8-.1-.7 .1-.5 .3-.3 .7-.3 1-.2 1.4-.1 1.8 .2 1.4 .5 1.1 .7 .7 1 .3 1 .2 1 0 .9-.2 .9-.3 .7-.4 .5-.3 .3-.3 0-.4 0-.5-.2-.8-.2-1-.3-1.3-.5-1-.7-.9zM124.5 640.5l-.2-.8-.3-.7-.5-.4-.5-.4-.7-.2-.6-.1-.7 .1-.6 .2-.6 .3-.5 .3-.3 .1-.2 .1 0 0 0 .3 .1 .4 .1 .7 .2 .9 .2 .7 .3 .6 .4 .4 .5 .3 .4 .1 .6 .1 .6 0 .6-.2 .6-.1 .5-.3 .3-.3 .3-.4 .1-.4 0-.6zM147.5 662.2l-.6 .6-.6 .5-.3 .4-.2 .1-.1 0-.2-.1-.4-.3-.5-.5-.7-.6-.4-.6-.3-.6-.2-.6 0-.6 .2-.5 .2-.4 .4-.3 .5-.2 .6 0 .7 .2 .7 .5 .9 .8 .5 .7 .1 .8zM129 685.5l-.9 .2-.7 .2-.6 .5-.4 .5-.2 .7 .1 .5 .4 .5 .7 .3 1.1 .2 .8 0 .7-.2 .5-.5 .3-.7 .2-.6 .2-.5 0-.3 0-.2-.1-.2-.1-.2-.2-.1-.1-.1-.4-.1-.6 0zM183.8 614.1l-.1-1.7 .4-1.3 .9-.9 1.4-.4 1.9 0 1.6 .3 1.3 .6 .8 .9 .6 1.1 .3 1.2 .1 1.3 0 1.3-.2 1.4-.4 1.1-.4 .7-.5 .4-.5-.1-.8-.2-1-.4-1.3-.6-1.6-.9-1.1-1-.9-1.3zM104.2 640.4l.3 .7 0 .7-.2 .6-.3 .4-.7 .4-.6 .1-.7-.1-.7-.4-.7-.7-.4-.6 0-.6 .4-.6 .7-.6 .6-.4 .6-.2 .4-.1 .4 .1 .3 .2 .3 .5zM116.7 619.6l1 .6 .9 .3 .8 0 .6-.2 .4-.4 .3-.6 .1-.6-.1-.7-.3-.9-.5-.5-.7-.2-1 0-1.1 .3-.9 .4-.7 .4-.3 .3 0 .4 .2 .4 .5 .5zM121.3 634.6l.2-1.2 0-1 0-.8-.2-.5-.2-.2-.4-.1-.6 .2-.6 .3-.8 .4-.5 .7-.3 1 0 1.1 .3 1.3 .3 1 .5 .5 .5 .1 .6-.4 .6-.5 .4-.8zM164.1 643.8l.7-.4 .5-.5 .3-.4 .1-.5-.1-.4-.2-.5-.4-.3-.4-.4-.5-.3-.5 0-.6 .1-.5 .3-.5 .6-.2 .5-.1 .6 .2 .6 .3 .7 .3 .4 .2 .3 .2 .2 0 0 .2-.1 .4-.2zM192.8 632l.2-.7 .2-.7 0-.7-.1-.7-.2-.8-.5-.5-.9-.3-1.2-.1-1.5 .1-1.3 .2-.9 .4-.6 .4-.2 .6-.1 .6 .1 .6 .3 .6 .5 .6 .6 .5 .9 .3 1.1 .3 1.3 .1 1-.1 .8-.2zM182.9 646.4l-.5-1-.4-.8-.3-.5-.1-.3-.1 0-.3 .2-.6 .2-.8 .4-1.1 .6-.8 .5-.5 .6-.2 .4 0 .5 .4 .5 .5 .4 .9 .5 1.2 .5 .9 .4 .6 .2 .4 .1 .2 0 .2-.2 .2-.2 .2-.4 .3-.4 .1-.6-.1-.7zM184.3 655.5l-.4 .7-.4 .6-.3 .4-.3 .2-.2 0-.4-.1-.5-.4-.7-.5-.8-.7-.4-.8 0-.8 .4-.8 .7-.9 .6-.7 .5-.4 .3-.3 .1 0 .3 .2 .3 .4 .5 .6 .5 .9 .3 .8 0 .8zM169.6 608.7l-1.4 .3-1 .7-.6 1 0 1.5 .4 1.8 .6 1.4 .7 .8 .9 .4 1-.1 .7-.6 .5-1.1 .3-1.5 .1-2-.4-1.4-.7-.9zM129 624.2l-.8 .4-.5 .5-.2 .6 0 .7 .3 .7 .4 .6 .4 .4 .5 .2 .5 0 .5-.2 .3-.5 .3-.6 .2-.8 .1-.8 0-.5-.2-.5-.2-.3-.4-.1-.5 0zM165.4 674.2l1.3 .3 1.1 0 .8-.3 .7-.7 .5-.9 .1-.9-.2-1-.6-.9-.9-.9-.9-.4-.9 .2-.8 .8-.9 1.3-.7 1-.4 .8-.2 .5 0 .3 .4 .3 .6 .2zM155.7 675.9l-.4 .7-.6 .5-.6 .3-.7 0-.9-.2-.6-.2-.5-.1-.2-.2-.1-.2 .1-.4 .1-.6 .3-.9 .3-1.1 .4-.8 .5-.6 .5-.3 .6-.1 .5 .1 .5 .4 .4 .6 .4 .8 .2 .8 0 .7zM106 671.8l.6-.2 .6 .1 .7 .3 .8 .7 .9 .8 .5 .9 .3 .8 0 .7-.4 .8-.4 .5-.5 .4-.7 .2-.7 0-.7-.4-.5-.7-.4-1.1-.4-1.4-.1-1.1 .1-.8zM110.5 699.5l.8 .4 .8 0 .8-.4 .7-.7 .8-1.1 .5-1 .2-.7 0-.6-.2-.3-.4-.2-.8-.1-1 .1-1.2 .3-1 .4-.7 .6-.4 .7-.1 .8 .2 .7 .4 .6zM179.6 656.3l.8 .6 .4 .7 .1 .6-.3 .6-.6 .5-.7 .3-.8 .1-.8-.2-.9-.4-.6-.5-.3-.6 .1-.7 .5-.8 .4-.6 .4-.4 .3-.2 .3 0 .5 .1 .5 .3zM184.7 623.9l0 .2 0 .4 .2 .4 .4 .5 .4 .6 .7 .4 1 .2 1.3 .1 1.6-.1 1.2-.4 .8-.5 .5-.8 .1-.9 0-.9-.1-.6-.1-.6-.2-.3-.2-.3-.4-.2-.4-.1-.6 0-.7 .2-1 .3-1.1 .4-1.3 .7-1 .5-.7 .4zM129.1 634.9l-.5-.1-.4-.3-.5-.4-.5-.6-.4-.8-.2-.7 0-.7 .3-.6 .5-.5 .6-.4 .5-.3 .6-.1 .5 0 .5 .1 .6 .2 .5 .3 .4 .4 .3 .5-.1 .7-.4 .9-.6 1-.6 .8-.6 .4zM102 669.8l-.2-.7-.5-.5-.6-.4-.8-.2-1.1-.1-.8 .1-.7 .2-.5 .4-.4 .5-.1 .5 0 .7 .2 .7 .4 .7 .4 .6 .5 .4 .4 .3 .5 0 .5-.1 .7-.2 .6-.4 .8-.6 .4-.6 .3-.6zM157.7 695.3l0 .1 .2 .1 .3 .2 .5 .2 .6 .3 .7 .1 .6-.1 .6-.2 .6-.5 .4-.5 .3-.4 .1-.6-.1-.5-.2-.5-.4-.5-.6-.5-.8-.5-.7-.1-.6 .4-.5 .7-.4 1.1-.3 .8-.2 .6zM167.3 625.9l-.4 .2-.4 .4-.3 .5-.2 .7-.1 .8 .1 .7 .2 .6 .5 .4 .6 .4 .7 .1 .6 0 .6-.3 .6-.4 .3-.5 0-.7-.4-.8-.6-.9-.7-.7-.5-.4zM89.6 674.8l-1.2-.8-1-.6-.8-.4-.6-.2-.5 0-.4 .4-.4 .7-.4 1-.4 1.4-.2 1.3 0 1.4 .3 1.4 .5 1.4 .4 1 .3 .7 .3 .4 .2-.1 .4-.2 .8-.5 1-.8 1.3-1 1-1.1 .7-.9 .4-1 0-.9-.2-.9-.6-.9zM184.9 697.3l.3 .7 .6 .6 1 .6 1.3 .4 1.8 .3 1.3-.1 1-.6 .5-1 .2-1.4 .2-1.1 0-.8 .1-.3 0-.1-.6 .1-1 0-1.5 .2-2 .2-1.5 .2-1.1 .2-.6 .3-.1 .2-.1 .3 .1 .5zM109.6 629.3l1.1 .1 .8-.2 .7-.4 .5-.6 .3-.9 .1-.8-.1-.7-.3-.7-.6-.5-.6-.3-.8 .2-.9 .4-1.1 .9-.7 .7-.4 .7-.1 .6 .2 .6 .4 .4 .7 .3zM178.8 690.7l-.4 .3-.6 0-.8-.3-.9-.7-1.2-1-.6-.9 0-1 .5-.9 1-.8 .9-.3 .8 .4 .6 .9 .5 1.5 .3 1.2 0 .9zM162.5 645.9l.1 .3-.1 .4-.2 .6-.3 .6-.5 .8-.6 .5-.8 .2-.8-.2-.9-.4-.7-.4-.4-.3-.2-.2 0-.2 .3-.3 .7-.3 .9-.4 1.3-.5 .9-.4 .7-.2 .3-.1 .1 0 0 .1 .1 .2zM117.8 638.2l0-.1 0-.3-.1-.7-.2-1-.3-1.3-.3-1-.5-.7-.6-.4-.7 0-.6 0-.4 .2-.3 .2-.1 .3 0 .5 .1 .6 .3 .8 .4 1 .4 .8 .6 .5 .6 .4 .7 0 .5 .1 .4 0zM153.1 650.7l.6-.1 .6 .3 .5 .5 .4 .9 .3 1.1 0 .9-.3 .7-.6 .5-.9 .3-.7 .1-.6-.1-.5-.2-.4-.4-.2-.5 0-.7 .1-.8 .3-1 .3-.8 .5-.5zM173.4 637.1l.6-.4 .6-.1 .7 .1 .7 .4 .8 .6 .5 .5 .4 .4 .2 .2 0 .1-.2 .2-.3 .3-.6 .5-.7 .6-.7 .2-.6-.2-.7-.5-.7-.9-.3-.8 0-.6zM109.5 657.3l0 0-.2-.2-.4-.5-.5-.7-.7-1-.3-.8-.1-.8 .2-.8 .5-.6 .4-.5 .5-.3 .4-.2 .3 .1 .4 .3 .3 .6 .3 .8 .3 1.1 .1 1-.1 .8-.3 .6-.4 .4-.3 .4-.2 .2zM106.3 637.3l-.8 .4-.7 .2-.6 .2-.5 0-.3-.1-.4-.3-.2-.6-.3-.8-.2-1.2 .1-.8 .4-.6 .7-.4 1-.1 .9 .1 .7 .3 .6 .5 .4 .7 .3 .6 .2 .4 0 .4 0 .2-.2 .3-.4 .3zM151.3 688.4l.1-1.3 .2-1.1 .4-.7 .6-.5 .7-.1 .8 .1 .7 .5 .7 .7 .6 1 .1 .8-.4 .8-.9 .6-1.4 .5-1.1 0-.7-.4zM181 620.9l0 0-.2 .3-.3 .5-.6 .7-.7 1-.4 .8-.1 .7 .2 .6 .5 .5 .6 .2 .6-.1 .7-.3 .9-.5 .6-.5 .4-.4 .2-.3 .1-.3-.1-.3-.3-.5-.5-.5-.6-.6-.5-.5-.3-.3zM103.5 681.2l-.3 1-.2 .7-.3 .5-.2 .2-.3 .1-.4-.2-.7-.4-.9-.5-1.2-.7-.8-.6-.6-.3-.3-.2 0 0 .2-.2 .5-.3 .7-.6 .9-.6 .8-.4 .8-.1 .8 .1 .7 .5 .5 .5 .3 .7zM150.6 669.6l.7 .5 .7 .3 .6 .2 .6 0 .6-.1 .5-.1 .4-.2 .3-.2 .2-.3 0-.5-.2-.8-.4-1-.5-1.3-.4-1-.3-.6-.1-.3-.1 0-.2 .3-.5 .6-.6 .9-.9 1.2-.5 1-.1 .8zM134.6 624.3l-1 0-.9-.2-.6-.1-.4-.3-.3-.3-.2-.4-.1-.4 0-.5 0-.5 .3-.5 .5-.3 .8-.2 .9-.2 .9 .1 .7 .2 .7 .4 .4 .6 .3 .6 .2 .5-.1 .5-.2 .4-.5 .4-.6 .2zM88 641.3l-1.2 .3-.9 .3-.6 .4-.4 .6-.1 .6 .4 .6 .8 .7 1.2 .5 1.7 .6 1.4 .2 1.1-.1 .8-.5 .4-.9 .1-.8-.2-.7-.5-.7-.9-.6-.9-.4-1.1-.1zM166.9 625l-.4 .2-.6 0-.6-.1-.7-.3-.7-.4-.6-.3-.4-.3-.1-.1 0-.1 .2-.3 .5-.4 .7-.6 .9-.8 .8-.4 .7-.1 .6 .4 .5 .6 .3 .6 .2 .6 0 .5-.3 .4-.2 .3-.4 .3zM124.6 679.8l-.1-.2-.4-.3-.7-.2-1.1-.3-1.4-.3-1.2 0-.8 .2-.6 .4-.3 .7-.1 .7 0 .7 .3 .7 .5 .6 .6 .4 .8 .1 .9-.1 1.2-.4 .9-.4 .7-.4 .4-.4 .2-.5 .1-.4 .1-.3zM95.6 634.3l.5-.9 .2-.7-.3-.8-.6-.6-1-.6-.9-.2-.9 .1-.8 .4-.7 .8-.4 .8 .1 .7 .4 .7 .9 .7 .8 .5 .6 .3 .5 .2 .3-.1 .4-.2 .4-.5zM95.9 667.9l-.3 .5-.4 .4-.6 .2-.6 0-.8-.1-.5-.3-.4-.6-.1-.7 0-1 .3-.8 .5-.4 .6-.2 .9 0 .7 .2 .5 .3 .4 .4 .1 .6 0 .5-.1 .5zM90.4 696.8l-.6-.9-.8-.7-.9-.5-1-.3-1.2-.2-.9-.1-.7 0-.4 .1-.1 .2-.1 .6 0 1 0 1.4 0 1.7 0 1.4 .1 .9 .1 .5 0 .1 .5-.1 .8-.3 1.3-.4 1.6-.6 1.3-.5 .9-.5 .6-.5 .2-.4-.1-.5-.2-.7zM166.5 617.5l.2-.3 .1-.6-.2-1.1-.2-1.4-.5-1.9-.5-1.4-.5-1-.7-.6-.7-.1-.6-.1-.5 0-.3 0-.2 .1-.2 .6-.1 1-.1 1.4 0 1.8 .3 1.4 .6 1.1 .9 .7 1.2 .3 .9 .2 .7 .1zM123.3 625.2l-1.1 .5-.9 .4-.7 0-.5-.1-.3-.3-.2-.5-.1-.6 0-.7 .2-.9 .2-.7 .3-.6 .4-.6 .4-.4 .5-.3 .5-.2 .6 0 .5 .1 .5 .3 .4 .5 .3 .8 .3 1-.1 .9-.4 .8zM104.4 687.8l0-1 .3-.7 .7-.4 1 0 1.3 .3 1.1 .3 .7 .2 .4 .3 .1 .2-.1 .4-.3 .5-.4 .7-.6 .8-.7 .6-.7 .2-.8 0-.8-.3-.6-.5-.4-.7zM91.8 628.3l-.2-.6-.6-.5-.9-.3-1.4-.2-1.7-.1-1.4 .1-1 .4-.6 .7-.2 1-.2 .8 0 .8 .1 .6 .2 .6 .5 .4 .7 .3 .9 .1 1.2 0 1-.2 1-.4 .9-.6 .8-.8 .6-.7 .3-.8zM137.7 671.2l0-.5 .2-.5 .3-.5 .5-.5 .7-.6 .5-.3 .5-.3 .3-.1 .3 .1 .4 .2 .4 .4 .4 .5 .6 .8 .1 .7-.2 .7-.6 .7-1 .7-.8 .4-.8 .2-.6-.2-.5-.5-.4-.4-.3-.5zM159.4 661.8l.6 .3 .6-.1 .7-.4 .6-.8 .6-1.1 .3-1-.2-.9-.6-.7-1-.6-.9-.4-.8-.2-.6-.1-.5 .2-.3 .4-.1 .7 0 1 .3 1.3 .3 1 .4 .8zM147.1 634.9l0 .5 .2 .6 .6 .6 .8 .7 1 .8 1 .3 .9-.1 .8-.6 .7-1 .3-1 .1-1-.2-.8-.6-.8-.7-.5-.9-.1-1 .3-1.2 .5-.9 .4-.6 .3-.3 .2 0 0 0 .1 0 .3zM142.5 694.3l-1.1-.5-.9-.2-.6 .1-.4 .5-.2 .8 0 .7 .1 .7 .4 .6 .6 .5 .7 .3 .6 0 .7-.1 .8-.5 .5-.4 .3-.4 .2-.4-.1-.4-.3-.4-.5-.5zM140.3 682.8l.1-.2 0-.3-.2-.5-.4-.6-.5-.7-.6-.5-.6-.3-.6 0-.7 .2-.5 .3-.4 .5-.1 .5 0 .6 .1 .5 .2 .5 .3 .4 .5 .3 .4 .2 .6 .1 .6-.1 .7-.3 .5-.2 .4-.2zM174.1 701.2l-.9 .2-.8 .5-.6 .8-.6 1.2-.3 1.6-.2 1.2 .1 .9 .3 .6 .5 .3 .7 .2 1 0 1.2-.2 1.4-.3 .9-.6 .4-1-.1-1.4-.7-1.7-.7-1.3-.8-.7zM175.7 644.4l.3 .4 .6 .1 .6-.1 .9-.3 1-.6 .6-.6 .2-.7-.2-.7-.6-.8-.6-.5-.7-.1-.7 .2-.7 .6-.5 .6-.4 .5-.2 .4 0 .5 0 .4 .1 .4zM146.6 679l.9 .2 .7 0 .6-.1 .5-.4 .3-.5 .3-.5 .2-.3 0-.3-.1-.1-.2-.3-.5-.3-.6-.3-.8-.5-.8-.2-.6 .1-.6 .3-.5 .6-.3 .5-.2 .4 0 .5 .2 .3 .3 .4 .5 .3zM139.1 639.6l-1.2 .2-1 0-.8-.2-.5-.2-.3-.4-.1-.5 .1-.6 .3-.6 .6-.7 .6-.5 .5-.3 .5-.1 .5 0 .4 .3 .5 .5 .5 .7 .5 .8 .1 .8-.4 .5zM106.8 703.5l-.2 1.8-.4 1.4-.6 1-.8 .6-1 .2-.9 0-.8-.1-.8-.2-.8-.5-.3-.7 .1-1.1 .4-1.5 .9-1.7 1-1.3 .9-.8 1-.3 1 .2 .7 .6 .4 .9zM178.7 694.3l.6 .7 .3 .7 .2 .6-.1 .6-.3 .6-.4 .4-.4 .3-.5 .2-.5 0-.5-.2-.5-.3-.4-.6-.3-.8-.1-.7 .1-.6 .4-.6 .6-.6 .7-.2 .6 .1zM143.3 612.1l-.2 2.2-.6 1.4-.8 .7-1.2-.1-1.5-.8-1.3-.9-1-1-.6-1-.5-1 .2-1 .6-.8 1.2-.6 1.8-.5 1.4-.3 1-.2 .8 .1 .4 .2 .3 .7 .1 1.2zM99.2 653.4l.8-.7 .6-.6 .4-.6 .1-.6-.1-.6-.2-.4-.5-.4-.6-.2-.7-.1-.6-.1-.5 0-.3 .1-.2 .1-.1 .4-.1 .6-.1 1 0 1.1 .1 .9 .1 .6 .1 .4 .2 0 .4-.1 .5-.3zM106.5 658.1l.9-.2 .4-.4 .1-.6-.2-.7-.7-.9-.6-.7-.5-.4-.5-.2-.4 .1-.3 .2-.3 .3-.3 .5-.2 .6 0 .5 .1 .5 .3 .5 .4 .5 .5 .3 .6 .1zM151.8 695.6l-.3 .8 0 .8 .3 .6 .7 .5 1 .5 .9 .1 .7-.2 .5-.6 .5-.9 .3-.6 .2-.5 .1-.3 0 0-.3-.1-.6-.2-.8-.3-1-.3-.9 0-.7 .2zM94.4 664l-.9 0-.7-.2-.6-.2-.5-.4-.3-.4-.1-.5 .2-.5 .4-.5 .7-.6 .7-.3 .8-.1 .8 .3 .8 .5 .6 .6 .3 .5 0 .6-.3 .5-.5 .4-.6 .2zM141.4 666.9l-.3 0-.3-.2-.2-.4-.3-.5-.2-.7 0-.6 .2-.6 .4-.5 .7-.5 .6-.2 .7 .1 .6 .3 .6 .6 .3 .6-.1 .6-.4 .6-.8 .6-.6 .4-.5 .3zM162.5 700.6l.8 .2 .7 .5 .7 .9 .5 1.3 .4 1.6 0 1.3-.3 1-.7 .7-1 .4-1.1 .2-1.1-.1-1.2-.3-1.3-.5-.9-.5-.7-.4-.2-.4 0-.3 .3-.6 .5-.8 .8-1.1 1-1.3 1-1 .9-.6zM173.8 661.9l.1-1.1-.1-1-.6-.7-.8-.5-1.2-.2-.9 .1-.7 .5-.3 1-.1 1.4 .3 1 .5 .7 .8 .4 1.1 .1 .8-.3 .7-.5zM116.3 659.7l.5-.9 .6-.5 .6-.3 .6 .1 .7 .3 .5 .4 .3 .6 .2 .6 0 .8-.1 .7-.3 .6-.5 .6-.7 .4-.5 .4-.3 .2-.2 .1 0 0-.2-.2-.2-.3-.4-.6-.6-.7-.2-.8 0-.7zM168.3 642.8l-.6-.2-.4-.3-.4-.3-.2-.4-.1-.5 0-.5 .3-.7 .4-.7 .7-.8 .6-.6 .5-.3 .5 0 .5 .2 .3 .5 0 .7-.2 1-.5 1.3-.4 .9-.5 .5zM128.6 684.6l-.9 .2-.8 0-.6-.3-.5-.5-.3-.7-.2-.6-.1-.6 0-.5 .2-.4 .4-.3 .5-.1 .7-.1 .9 .2 .7 .2 .5 .5 .4 .7 .2 .8-.1 .7-.3 .5zM181.6 642.5l.1 0 .2-.1 .5-.3 .5-.5 .8-.6 .4-.7 .2-.7-.2-.8-.6-.8-.4-.7-.4-.4-.3-.3-.2 0-.3 .1-.5 .2-.6 .5-.7 .6-.5 .4-.4 .4-.2 .2 0 .1 .1 .2 .4 .5 .4 .6 .7 .9 .4 .6 .4 .4zM170 695.1l.3-.2 .3-.5 .2-.7 .1-1.1 .1-1.3-.2-1-.5-.5-.8-.1-1 .3-.8 .2-.6 .3-.3 .2-.1 .1 .2 .4 .3 .6 .5 .9 .8 1.1 .6 .7 .5 .5zM121.7 671.6l-.6-.7-.4-.6-.3-.5-.1-.3 .1-.3 .3-.3 .5-.2 .7-.3 .8-.4 .8 0 .5 .1 .5 .4 .2 .6 .2 .7-.1 .6-.1 .7-.4 .7-.3 .5-.3 .3-.3 .1-.4 0-.3-.2-.5-.4zM164.8 650.1l-.4 .6-.4 .5-.4 .2-.5 .2-.5-.1-.4-.1-.3-.2-.2-.2-.2-.3 .1-.4 .1-.5 .4-.6 .4-.7 .5-.5 .5-.1 .6 .2 .5 .4 .3 .5 .1 .5zM107.2 645.2l-.3 .9-.4 .6-.5 .4-.7 .2-.8 0-.7-.2-.4-.4-.3-.5 0-.6 .1-.6 .2-.5 .5-.4 .6-.4 .6-.2 .6-.1 .6 0 .5 .2 .4 .4 .1 .5zM130.5 644.3l-.4-.9-.6-.6-.6-.4-.8-.2-.8 .1-.8 .1-.5 .3-.4 .3-.3 .4 0 .5 .3 .8 .5 1 .9 1.3 .6 .9 .5 .6 .3 .3 .1 0 .2-.2 .4-.4 .5-.6 .6-.8 .4-.8 .1-.8zM180.3 666.8l.5 .7 .6 .5 .7 .3 .8 0 .9-.2 .5-.3 .3-.6 0-.7-.4-1-.4-.7-.7-.3-.8-.1-.9 .2-.8 .2-.5 .2-.4 .2-.1 .2 .1 .3 .2 .5zM94.8 624.1l1-.2 .7-.2 .5-.4 .2-.5 0-.6-.3-.6-.4-.5-.6-.6-.8-.5-.7-.3-.6-.1-.5 .1-.4 .3-.3 .5-.1 .6 .1 .8 .3 1 .5 .7 .6 .4zM144.4 633.3l-1.1-.2-.9-.3-.7-.5-.4-.6-.2-.8 .1-.7 .4-.6 .6-.5 .9-.5 .8 0 .6 .5 .6 .9 .4 1.4 .3 1.1 .2 .7 .1 .4 0 0-.3-.1-.5 0zM98.9 614.9l-1.1-1.5-.8-1.2-.6-.9-.3-.5-.1-.3 .4-.3 .7-.4 1.1-.5 1.6-.6 1.5-.3 1.5 0 1.4 .3 1.4 .7 1 .6 .6 .6 .2 .6-.2 .7-.6 .7-.9 .9-1.2 .9-1.6 1.1-1.5 .4-1.3-.2zM150.8 652l-.2 1-.5 .7-.6 .4-.7 .1-.9-.1-.7-.1-.4-.1-.3 0 0-.1 .1-.3 .3-.6 .4-.8 .6-1.2 .6-.8 .6-.4 .6 0 .6 .3 .4 .5 .2 .7zM123.6 694.3l-.3 .8 0 .7 .1 .6 .3 .5 .5 .4 .6 .2 .6 .1 .6-.2 .7-.3 .5-.3 .3-.4 .1-.5 0-.4-.2-.5-.5-.4-.6-.4-.9-.4-.7-.1-.6 .2zM159.1 623.2l-1.2-.6-.8-.5-.5-.6-.2-.6 .2-.5 .3-.5 .5-.4 .7-.2 .8-.2 .7 .2 .6 .4 .5 .8 .4 1 .3 .9 .2 .5 0 .4 0 .1 0 .1-.2 .1-.1 .1-.2 .1-.5 0-.6-.2zM116.1 647.7l.4 1.3 .3 1 .2 .7 0 .4 0 0-.4 0-.6-.2-1-.2-1.3-.4-.8-.6-.4-.7 0-.8 .4-1.1 .5-.7 .4-.5 .5-.2 .4 0 .5 .3 .4 .7zM95.9 678.7l-.2-1.1-.4-.8-.5-.5-.5-.2-.7 .1-.6 .2-.3 .5-.2 .7-.1 .8 .2 .7 .5 .5 .6 .4 .9 .2 .7 .1 .5 .1 .3 0 .1 0 0 0 0-.1 .1 0 0 0-.1-.3-.1-.5z" fill="#f3f1f0"/>
<path d="M144,626 C146,629 143,640 139,650 C136,657 133,661 131,662 C130,659 131,650 134,642 C137,634 141,628 144,626 Z" fill="#b78ccb"/>
<path d="M98,659 C103,665 107,675 110,686 L109,695 L105,695 C104,684 101,673 97,665 Z" fill="#e9e2ec"/>
<path d="M128,673 C140,666 158,658 178,653 L180,655.5 C160,660.5 142,668 129.5,675.5 Z" fill="#e9e2ec"/>
<path d="M173,665 L179,660 L180,695 L175,695 C176,685 174,675 173,665 Z" fill="#e6deea"/>
<ellipse cx="117.5" cy="684" rx="11" ry="5" transform="rotate(-20 117.5 684)" fill="#ead8ec"/>
<ellipse cx="117" cy="684.5" rx="9" ry="3.8" transform="rotate(-20 117 684.5)" fill="#b23c86"/>
</g>
<rect x="152.4" y="689.3" width="21" height="1.4" fill="#000" stroke="none" stroke-width="1"/>
<text x="162.9" y="693.3" font-size="2.6" fill="#000" text-anchor="middle">100 &#956;m</text>
<rect x="97.2" y="540.3" width="82.4" height="154.6" fill="none" stroke="#444" stroke-width="1.1"/>
<line x1="97.2" y1="550.1" x2="179.6" y2="550.1" stroke="#222" stroke-width="0.9"/>
<line x1="97.2" y1="622.3" x2="179.6" y2="622.3" stroke="#333" stroke-width="0.9"/>
<rect x="182.6" y="540.3" width="82.4" height="9.8" fill="#fff" stroke="none" stroke-width="1"/>
<text x="222" y="547.9" font-size="7.9" text-anchor="middle">H1573<tspan font-size="4.4" dy="-2.9">&#916;GDF15</tspan></text>
<g clip-path="url(#lm2)"><rect x="182.6" y="550.1" width="82.4" height="72.2" fill="#1c9c1c"/>
<path d="M180.8 577.6l-15.9-9.2 .1-.9 14.6-3.1 1.8 .8 4.7 6.8-.1 1.9-3.3 3.4zM182.7 599.5l-.1 0-1.2 .2-26 2.1-2.4 0-62.5-4.8 0-.2 86.9-11.9 1.6 1 3.4 12.4zM181.5 600l-25.4 2-.1 .6 23.8 10.9 1.5 0 1-1.8 .3-1.8 .1-8.8zM190.7 556.1l-7 2.6-1.8-.6-2.7-4.5 .2-1.9 4-4.4 1.9-.5 6.9 2.5 .8 1.6-.8 3.6zM186.6 571.7l-4.6-6.8-.4-1.8 .8-2.4 1.4-1.2 7.1-2.7 1.5 .1 1.1 1.7 .3 1.7-.5 10.5-.2 1.3-.4 .3-1.2 .2-3.1 .1zM182.5 582.8l11.9 6.5 1.4 .2 1-1.2-.1-1.5-3.7-12.3-1.4-1.1-3.2 .1-1.9 .9-3.3 3.4-1 1.6-.6 2.1zM180.9 583.2l-1.1 1.3-.1 1.6 3.3 11.8 1.5 1 4.7-.8 1.8-.6 1.9-1.1 1-1.5 1.1-3.4-.7-1.7-11.9-6.5zM190.6 599.8l2.8 10.8-.9 1-8.2-.6-1.2-1.3 .1-8.6 0-1.2 .1-.1 1.2-.2 4.7-.8zM182.9 612.2l-1 1.7-.4 1.3 0 2.4 .9 1.5 4.8 3.7 1.6 .8 2.3 0 .9-1.2 1.8-8.4 .2-1.3-.2-.1-1.2-.2-8.2-.7zM204.4 560.7l-8.8-2-1.6-.8-1-1.6 0-1.8 .8-3.5 .8-1.6 1.6-1.3 1.5-.2 3.1 .7 1.8 1.1 3.3 3.4 .7 2.1-.8 4.5zM207.3 566.6l0 2.6-1.2 1.1-10.9 1.6-1.2-1.1 .5-10.4 1.2-1 8.9 2 1.5 1.1 .9 2.4zM209.3 574.4l-5.1 11.1-1.7 1.3-3.6 .8-1.6-.9-3.8-12.4-.2-1.2 .4-.3 1.3-.3 11.1-1.6 1.7 .3 1.5 1.6zM210.4 598.7l-5.8 3.3-2-.1-7.3-5.1-.6-1.8 1.1-3.4 .7-1.5 1-1.1 1.5-.6 3.5-.8 1.9 .2 2 1.3 1.2 1.5 3.3 6.5zM202 610.7l-6.2 1.2-1.2 .2-.2-.2-.4-1.2-2.8-10.9 .3-1.5 1.9-1.1 1.6 .3 7.3 5.1 1 1.9-.1 4.8zM204.6 612.6l-.9-1-1.5-.1-6.2 1.2-1.4 1.4-1.8 8.5 0 1.4 1 .6 1.6 .3 9.1 .3 1.6-.6 1-1.9 0-1.8-1.8-6.8zM217.5 550.3l.8-1.7-.1-1.6-2.9-9-1.2-.3-10.7 9.9 0 1.7 3.3 3.5 2 .5 7.4-2.1zM217.5 559.2l-8.5 5.4-1.3-.2-1-2.4-.1-2 .8-4.5 1.4-1.6 7.3-2.1 1.5 .8 1.1 3.9 .2 1.3-.3 .6zM218.7 560.5l1.1 9.8-1 1.6-3.8 1.4-1.8 .2-2.1-.5-1.2-.7-1.4-1.5-.5-1.4 0-2.6 1-1.6 8.5-5.3zM217.3 583.9l-3.1-8.3-1.1-1.3-2.1-.6-1.3 1-5 10.9 .2 1.6 1.9 1.2 1.8 0 8-3zM214.4 598.5l-1.6-.4-1.2-1.1-3.2-6.4 .6-1.5 7.8-3 1.2-.3 .3 .2 0 1.2-.4 7.2-.6 1.8-1.7 1.8zM205.2 611.8l-.9-1-.3-1.5 .1-4.8 1.1-1.8 5.7-3.2 1.6-.5 1.7 .3 1.1 1.2 2 3.7 .3 1.6-1 1.7-1.4 1-8.5 3.2zM206.7 612.3l8.5-3.2 1.3 .8 .9 8.3-1 1.5-7.1 1.8-1.5-.8-1.9-6.8zM207.8 623.1l-1.1 1.9 0 1.8 7.8 24.5 .7 0 7.9-28.3 .3-1.2-.1-.2-1.1-.4-3.3-.9-2.3-.1-7.3 1.9zM247 494.5l3.7-559.5-.1 0-35.4 599.8 .3 2.3 3.1 9.6 1.6 1.2 5.5 .3 1.7-1.1 19.2-50.3zM220.9 557.8l7.5 2.4 1.5 .1 1.3-1 .3-1.5-.2-4.9-1-1.8-2.6-1.7-2.1-.6-5.1-.2-1.4 .4-.8 1.7 .1 1.7 1.1 3.9zM219.3 560.1l1.2 9.9 1.3 1.2 3.4 .1 1.5-1.2 2.3-7.7-.8-1.5-7.4-2.5-1.2-.2-.3 .6zM230.8 582.6l.2-5-.9-2-2.8-2.6-2-.9-3.5 0-2.3 .4-3.9 1.4-.7 1.5 3.1 8.4 .5 1.2 .3 .2 1.3 0 9-.3 1.3-.3 .3-.6zM218.6 594.3l.4-7.2 1.2-1.2 8.9-.4 1.3 1.2 .4 3.6-.3 1.8-1.4 1.6-1.7 .7-7.6 .9zM216 600.2l2 3.7 1.8 1.3 6.8 1.4 1.3-1 .4-9.5-1.1-1-7.7 .9-1.8 .7-1.7 1.8zM217.3 607.9l1-1.7 1.5-.3 6.9 1.4 1.4 .4 .6 .6-.3 1.3-4.4 10-1.6 .8-3.2-.9-1.2-1.5-.9-8.4zM223.5 623.2l-8.2 29.3-.2 2.4 15.8 144.5 .2 0 3.9-48.4 .1-2.4-.3-110.7-.4-2.4-3.1-9.6-1.5-1.6-4.9-1.8zM230.8 550.5l-2.7-1.7-.5-1.7 18.8-49.5 .5 .1 .4 6.6-.1 2.4-6.2 37.3-1.2 1.9-7.1 4.6zM242.7 560.7l-1.4 .5-1.6-.2-6.1-1.7-1.3-1.5-.3-4.9 1-1.9 6.7-4.3 1.1-.5 .3 .6 .3 1.3 1.6 11.3zM230.4 561.1l1.3-1 1.5 0 6.2 1.7 .8 1.5-2.7 9-1.5 1.6-3.4 1.4-2-.4-2.7-2.6-.6-2 2.3-7.7zM231.7 582.6l.1-4.9 1.2-1.7 3.3-1.3 2.3-.2 4.6 1.3 1.1 1.6 0 4.3-.5 1.5-1.3 1.1-1.7 .2-7.9-.6zM232.7 584.5l8.1 .7 1.4 1.2 1.6 10.5 0 1.2-.2 0-1.2-.5-9.7-5.5-1.2-1.8-.4-3.7 0-1.4 .3-.6zM228.7 607.2l.6 .6 1.3 .3 3.4 .3 1.8-.8 6.7-7.9-.3-1.5-9.7-5.5-1.5 0-1.5 1.7-.5 1.7-.5 9.6zM224 621.1l.1 .1 1.2 .5 4.5 1.8 2.1-.3 4.3-2.7 .8-1.8-.6-6.1-.4-1.6-.8-1.2-1.4-.6-3.3-.3-1.6 1-4.4 10zM238.6 620.9l3.7 1.8 .4 1.6-7 10.4-1.1-.1-3-9 .7-1.8 4.2-2.7zM252.2 550.6l3.2-13.9 0-2.4-7.5-27.2-.5 .1-6.2 36.9 0 1.4 .3 .5 1.2 .8 8.1 4.4zM243.6 559.4l-1.6-11.1 .9-.6 7.8 4.2 1.3 1.1 .7 1.9-.4 1.5-2.9 4.2-1.7 .8-2.9-.6zM250.5 572.4l-4.6 2.5-2.3 .2-4.6-1.3-.8-1.5 2.7-9 .8-1.3 1.5-.5 1.4 .1 3 .5 1.6 1.3 1.9 3.3 .6 1.8-.1 2.5zM252.9 574.2l4.2 9.4 0 1.6-1.5 1.4-1.6 0-7.8-3.2-1.1-1.7 0-4.4 1.1-1.7 4.6-2.4 1.2-.5 .3 .3zM245.4 598.2l2.5 .2 1.4-.4 1.7-1.5 1-1.6 2.4-6-.6-1.5-7.8-3.3-1.6-.1-1.3 1-.3 1.5 1.6 10.4zM245.2 598.9l2.5 .3 1.3 1.1 2.6 6.7 .2 2.3-.6 3.5-1.4 .8-11.6-2.6-1.4-.6-.8-1.3 .5-1.3 6.6-7.9 .9-.9 .2-.1zM251.2 615.8l1.4 5.7-.9 1.2-6.7 .1-2.2-.5-3.8-1.8-1.2-1.7-.6-6.1 1-.9 11.6 2.5zM245 623.4l7.1-.1 1.3 0 .3 .3-.1 1.2-18.2 123.2-.2 0-.2-110.3 .6-2.2 7.5-11.1zM254.8 555l8.5-1.2 1.3-.6 .2-1.5-.5-1.5-7.6-12.9-.9 .1-3.2 13.5 0 1.8 .8 1.8zM251.9 566.2l-2-3.3 .1-2 2.9-4.2 1.9-1.1 8.5-1.2 1.6 .5 1.2 2.2 0 1.8-1.5 4-1.6 1.4-9.4 2.6zM254 572.6l12.1 .2 .8-1.1-2.4-6-1.6-.8-9.3 2.6-1.2 1.2-.1 2.5 .1 .9 .3 .4zM253.5 574.1l4.3 9.5 .9 1.1 1.1-.1 1.3-.9 7.3-7.6 .5-1.3-1-1.1-1.5-.4-12.2-.2zM255.1 588.9l-2.4 5.9 .7 1.5 10.3 3 1-.8-1.9-10-.7-1.6-1.5-1.2-.9-.4-1.2 .1-.9 .5-1.5 1.4zM249.9 598.6l1.7-1.5 1.7-.1 10.5 3.1 1.4 .5 .6 .5 .3 1.2 .2 3.3-1.1 1.2-11.2 1.1-1.7-1.1-2.5-6.6zM253.9 608.6l11.3-1.1 1.5 .3 .7 1-.5 1.3-9.1 11.5-1.4 1-1.7 .2-.7 0-.3-.2-.3-1.2-1.5-5.8 0-2.3 .6-3.5zM265.3 563.2l1.6-4.3 1.6-.8 93.1 19.2 0 .4-36.8 2.6-2.4-.1-51.2-5.1-1.5-.5-1.1-1.2-.7-1.5-2.6-6.5zM321.8 580.9l-43.4 10.5-2.3-.1-11.7-3.9-1.7-.8-1.6-1.3 .3-1.2 7.7-8 2-.7 50.6 5.1zM275.8 592.8l-8.4 7.2-1.1 .7-.6-.5-.4-1.3-1.9-10.2 .9-.8 11.2 3.8zM267.5 610.2l-9.3 11.6 .4 1.3 6.4 2 2.2-.2 15.9-8 0-1-13.8-6.1z" fill="#010901" filter="url(#soft)"/>
</g>
<rect x="237.8" y="616.1" width="21" height="1.6" fill="#fff" stroke="none" stroke-width="1"/>
<text x="248.3" y="620.4" font-size="2.6" fill="#fff" text-anchor="middle">100 &#956;m</text>
<g clip-path="url(#la2)">
<rect x="182.6" y="622.3" width="82.4" height="72.6" fill="#a07ebe" stroke="none" stroke-width="1"/>
<path d="M251.7 649.4l-1.7-2.2-.7-1.2-.3-1.3 0-1.3 .3-2.5 .4-1.1 .8-.8 1.5-.4 7.2-.8 1.5-.2 .8 0 .4 .1 .2 .2 .1 .3 .1 .8-.2 1.5-.5 4.7-.3 1.5-.8 1-1.3 .8-4 1.7-1.5 .4-1.1-.3zM227.6 664.7l-1.4 1.7-.8 .8-1.1 .8-1.2 .5-2.5 .7-1.2 .2-1.1-.4-1.1-1.1-3.4-4.3-.9-1.2-.4-.6-.1-.2 0-.1 .2-.1 .6-.5 1.2-.7 5.1-3.3 1.3-.7 1.1-.2 .8 0 1.4 .4 .8 .4 .8 .7 .7 1.2 1.4 2.6 .4 1.2-.1 1.2zM189.1 636.1l-1.9 .8-1 .4-1.1 0-.7-.2-1.3-.7-.6-.6-.4-.9-.3-1.5-.8-8.5-.1-1.5 0-.8 .1-.4 .2-.2 .4-.1 .8-.1 1.4-.1 6.3-.2 1.6 .1 1 .4 .6 .6 .9 1.3 .3 .8 0 1.1-.4 1.5-2.4 5.7-.8 1.5-.9 .9zM222.6 611.1l-2.9-.9-1.4-.3-1.4 0-1.6 .4-3.8 1.2-1.3 .6-.7 .6-.2 .7 .1 1.2 .2 .7 .5 .9 1 1.2 5.4 5.7 1.2 1.1 .9 .5 .8 .2 1.4 0 .7-.2 .6-.7 .5-1.4 1.7-8.5 0-1.4-.5-1zM202.9 666.4l-1.4-.4-.7-.4-.8-.7-.6-.9-1-1.8-.3-1 .2-1.2 .9-1.3 4.9-5.3 .9-1.1 .6-.5 .2-.2 .1 .1 .2 .2 .4 .6 .7 1.3 3.3 5.5 .7 1.2 .4 .7 .1 .2 0 .1-.2 .2-.6 .4-1.2 .8-3.6 2.4-1.3 .8-1.1 .3zM181.7 661.4l1.6 2.9 .9 1 .9 .1 1.2-.7 4.8-4.2 1-1.2 .3-1.1-.3-1.5-1.6-4-.6-1.4-.6-.9-.6-.4-1-.5-.6-.2-.7 .1-.6 .3-1 .7-.6 .5-.6 1-.6 1.4-1.5 3.9-.4 1.6 0 1.3zM264.7 684.2l1.2-.8 .8-.2 1 .1 1.4 .6 5 2.7 1.2 .9 .6 1.1 .1 1.1-.2 2.4-.1 1.1-.1 .8-.1 .4-.2 .3-.3 .1-.8 .1-1.5 0-5.1-.3-1.5-.3-1-.6-.7-1-1-2-.4-1.1-.2-1.1 .1-.9 .4-1.4 .4-.8 .5-.7zM221.8 638.8l2.9-6.2 .8-1.1 .9-.3 1.4 .5 5.9 3.5 1.2 .8 .7 .4 .2 .2 .1 .2 0 .2 0 .2-.1 .3-.2 .5-.3 .4-.6 .7-1.1 .9-2.8 2.3-1.4 .9-1.2 .2-1.5-.3-3.6-1.3-1.3-.7-.4-.9zM201.7 642.2l0 2.8-.2 1.2-.7 .9-1.4 .5-7.1 1.7-1.6 .3-1 0-.7-.2-1.1-.5-.5-.5-.4-.8-.3-1.5-.7-5.4 .1-1.5 .5-1 .8-.7 1.9-.9 1.1-.3 1.3 0 1.5 .4 6.3 2.5 1.3 .8 .7 .9zM249.9 687.3l1.6 1.6 .8 .9 .6 1.2 .3 1 .4 1.9 0 1.1-.3 1.2-.8 1.4-2.9 3.9-1 .9-.7-.1-.7-1.1-2.4-5.1-.5-1.5 0-1.3 .6-1.5 1.8-3.6 .7-1.3 .4-.7 .2-.2 .3 0 .3 .1 .6 .5zM199.2 689.8l-.5 1.4-.1 .8 .4 .9 .9 1.1 5 4.8 1.2 .8 1 0 1.2-.9 3.3-3.1 1-1.1 .5-.7 .2-.3-.1-.5-.2-.4-.5-.6-1.2-.9-2.7-2.1-1.4-.8-1.3-.3-1.3 0-2.8 .4-1.3 .4-.9 .5zM236.1 611.8l.9-.5 .7-.2 1-.1 1.5 0 4.8 .2 1.5 .1 1 .2 .5 .2 .7 .5 .3 .4 .2 .9-.1 1.4-.6 7.3-.1 1.5-.2 .8-.1 .3-.2 .2-.3 .1-.8 .1-1.3 .1-3.2 .2-1.5 0-1.2-.4-.8-.5-1.4-1.1-.7-.8-.5-1.1-.3-1.5-.4-5.5 0-1.5 .3-.9zM183.4 685.8l.1-.7 .3-.5 .7-.6 1.3-.7 5.6-3 1.3-.6 1-.1 .6 .1 .9 .5 .5 .5 .5 .8 .6 1.4 1.3 3.3 .5 1.5 .1 1.1-.2 .8-.5 1.4-.4 .7-.7 .7-.7 .5-1.5 .9-.9 .3-1 .3-.9 0-1.6-.1-.8-.2-1-.6-1-1.2-2.9-3.9-.8-1.2-.4-.9zM250.5 656.6l-2.6 1.7-1 1-.5 1.1-.1 1.5 .5 4 .3 1.5 .7 .9 .9 .5 1.8 .5 1 .1 1.1-.3 1.1-.9 2.2-2.2 .9-1.1 .4-1.1-.1-1.1-.4-1.9-.4-1-.6-1.1-.7-.8-1.4-1.3-.8-.5-1.1 0zM171 690.2l-1.3-2.3-.6-1.2-.3-1.3 0-1.5 .3-3.2 .2-1.4 .5-1.3 .5-.9 1.1-1.5 .6-.7 .9-.4 .7-.2 1.4 .1 .7 .2 .9 .6 .9 1.2 4.1 5.8 .8 1.3 .4 .8 0 .5-.2 .8-.3 .4-.6 .6-1.3 .8-6.3 3.4-1.4 .5-1-.3zM211.6 675.9l4.9-3.8 1.2-.7 .8 .3 .6 1.2 2.5 8.4 .3 1.4-.2 .8-.4 .4-1.1 .4-.7 0-1-.2-1.3-.8-5-3.2-1.2-.8-.7-.6-.3-.3-.1-.5 .1-.4 .5-.6zM216.3 640.5l-3.1-2.5-1.4-.8-1.3-.3-1.4 .2-3 .8-1.2 .4-.9 .4-.5 .3-.6 .6-.3 .5-.2 .9 0 1.2 0 2.8 .1 1.3 .4 1.2 .6 .8 1.2 1.4 .6 .6 .4 .4 .2 .2 .1 .1 .3-.1 .7-.4 1.3-.6 6.5-3.5 1.3-.8 .8-.7 .5-.7 .4-1.2 0-.7-.4-.8zM251.3 625l6.3 1.1 1.6 .1 1.2-.5 .9-.8 1.8-2.2 .7-1.2 .3-1.3 0-1.5-.5-3.4-.5-1.4-.8-.9-.9-.6-2-.7-1.2-.3-1.3-.1-1.6 .2-3.1 .6-1.4 .5-.7 .9-.4 1.4-.6 7.3 .1 1.5 .7 .8zM227.6 691.7l-1.1 2.8-.3 1.4 .3 1.1 .9 1.3 4.8 4.6 1.1 .8 .7-.2 .5-1.2 1.4-5.2 .2-1.6-.3-1.3-.5-1-1.4-1.8-.8-.8-.9-.6-.8-.2-1.6-.1-.8 .2-.8 .7zM236.2 677.3l-3.4-.1-1.5 .2-1.3 .5-1.2 1-3.4 3.3-.8 1.2 0 1 .6 1.1 1.8 2 1 .9 1 .6 .8 .1 1.6 .1 .9-.2 1-.5 1.1-1 4.1-4.3 .9-1.3 .3-1 0-.8-.6-1.5-.5-.6-.9-.5zM183.2 703.7l0 1.2 .2 .7 .6 .7 .7 .6 1.5 1 1 .4 1.2 .2 1.5-.1 3.4-.5 1.3-.4 .6-.8-.1-1.5-1.5-7.7-.4-1.4-.7-.7-.7-.3-1.6-.1-.9 .2-.9 .5-1.1 1.2-2.8 3.7-.8 1.3-.4 1zM203.2 624.9l-.9 .4-.7 .1-1 0-1-.1-2.1-.3-1.1-.3-1-.6-.6-.6-.9-1.4-.3-.8-.1-1.1 .3-1.5 1.5-5 .4-1.4 .5-.8 .3-.4 .7-.3 .5-.2 .9 0 1.5 .1 4.9 .5 1.4 .1 .9 .2 .5 .2 .4 .3 .2 .3 .2 .5 .1 .6 .1 1.2-.1 .8-.3 1-.7 1.4-2.6 4.6-.8 1.3-.6 .8zM221.3 638.6l2.9-6.3 .5-1.3 .3-1 0-.5-.2-.8-.1-.5-.4-.5-.4-.5-.9-.9-.6-.3-.7-.3-.8-.1-1.4 0-.8 .1-1 .5-1.1 .7-2.3 1.9-1 1-.7 1.1-.3 1.1-.3 2.2 .1 1 .4 1.2 1.1 1.1 3.2 2.4 1.2 .9 .8 .4 .4 0 .6-.2 .3-.4 .5-.7zM266.1 658.1l1.8 3 1 1.2 1.1 .6 1.2 .1 2.5-.1 1.1-.1 .8-.1 .3-.1 .2-.3 .1-.4 .1-.8 .3-1.3 .4-3.1 .2-1.5-.1-1.2-.2-.9-.6-1.5-.4-.7-.9-.4-1.5 .1-5.5 .7-1.4 .4-.8 .6-.4 .8-.3 1.6 0 .9 .3 1.1zM242.2 626.1l3.2-.2 1.3 .2 .8 .7 .3 1.4 .6 7.4-.2 1.4-.6 .6-1.5 .1-7.2-.7-1.4-.2-.8-.1-.3-.1 0-.2 0-.3 .2-.8 .5-1.3 2.1-5.5 .7-1.3 1-.8zM234.4 661.6l3.5-3.1 1-1.1 .4-1.1-.1-1-.5-1.8-.5-.9-.8-.7-1.4-.5-3-.5-1.4-.1-1.2 .4-1 1-2 2.5-.8 1.3-.1 1.2 .4 1.2 1.4 2.6 .7 1.1 .7 .6 .7 .3 1.2 .1 .7-.1 .9-.5zM170.2 646.8l.3 .8 .3 .3 .8 .4 1.5 .3 8 1.5 1.6 .2 1-.2 .7-.2 1.1-.8 .4-.6 .3-.9-.1-1.5-.7-5.4-.3-1.5-.5-1-.6-.5-1.3-.7-.7-.3-1.2-.1-1.5 .2-5.3 1-1.4 .3-.8 .2-.2 0-.1 .1-.1 .3-.1 .7-.3 1.3-.6 3.2-.2 1.4 0 1zM254.5 677l-.3 1.3-.2 .8-.6 .9-1 1.2-2.4 2.4-.9 1-.6 .5-.3 .2-.3 0-.3-.1-.7-.4-1.2-.7-2.9-1.7-1.2-.9-.8-.9-.5-.7-.6-1.5-.2-.9 0-1 .2-.8 .5-1.6 .5-.9 .8-.9 1-.8 2.5-1.4 1.2-.6 1.2-.2 1.1 .1 1.8 .6 1 .5 .9 .8 .7 .9 .9 1.9 .5 1 .2 1.1zM179.8 609.5l-1.2-.7-.8-.3-1.1-.1-1.3 .2-2.9 .6-1.3 .4-.9 .7-.5 .8-.7 1.7-.2 1 0 1.3 .3 1.4 .8 2.9 .5 1.2 .9 .7 1.5 .3 5 .2 1.5 0 .8 0 .3-.1 .3-.2 .1-.4 0-.8 0-1.4 0-6.4-.2-1.5-.4-1zM190.1 671.5l-3.7-2.7-1.4-.7-1.1 0-1.3 .8-4.2 3.7-.9 1.1-.2 1.1 .7 1.3 4.1 5.8 1 1.1 1 .3 1.5-.5 5.5-3 1.2-.9 .5-1 .1-1-.5-2.1-.3-1.1-.8-1.1zM266.3 636.4l7.6-4.2 1.2-.8 .7-.4 .2-.2 .1-.3 0-.2 0-.5-.1-.6-.3-1.4-.3-.7-.7-.7-1.3-.8-6.4-3-1.4-.5-1.1 .3-1 .8-1.7 2.2-.7 1.1-.4 1.3 .1 1.6 .9 5.2 .3 1.5 .2 .8 .1 .3 .3 .2 .2 .1 .3 .1 .2 0 .5 0 .4-.2 .8-.3zM239.4 650.7l.7-1 .5-.5 .9-.6 1.4-.6 3.2-1.3 1.4-.3 1.1 .3 .9 .9 1.7 2.3 .7 1 .3 1 .1 .8-.1 1.1-.3 .7-.7 .8-1 .8-2.6 1.7-1.3 .6-1.2 .1-1.1-.2-1.9-.8-1-.6-.8-.9-.4-.9-.6-1.8-.1-1 0-.9zM266.6 665.6l1.3-1 .8-.4 1.2-.4 1.2-.2 2.5-.1 1.2 .2 .9 .6 .6 1.2 .8 2.7 .4 1.3 .1 1-.1 .8-.2 1.1-.4 .6-.8 .5-1.4 .5-5.1 1.4-1.4 .3-1-.1-.6-.3-.8-.8-.3-.7-.3-1 0-1.3 .2-2.9 .2-1.3 .4-1zM275.4 697.6l.4 2.6 .2 1.3-.1 1.1-.1 .7-.3 1.2-.4 .6-.8 .7-1.3 .6-3.2 1.3-1.5 .4-1.3 0-1.2-.2-2-.6-.9-.6-.7-.9-.1-1.5 .1-3.8 .2-1.5 .4-1.1 .5-.8 1-1.1 .7-.5 1.1-.3 1.5 0 5.1 .2 1.5 .3 .8 .7zM170.1 660.5l-.5 1-.2 .8-.1 1 0 1.4 .4 3.2 .2 1.4 .4 1.2 .4 .8 .9 1.2 .6 .6 .7 .4 .7 .2 1.4 0 .8-.1 1-.4 1.2-1 4.2-3.7 1.1-.9 .5-.5 .2-.2 0-.1-.1-.2-.4-.7-.6-1.1-1.7-2.9-.9-1.1-1-.7-1.6-.3-4.7-.2-1.5 .1-.9 .3zM273.5 625l-6.3-3-1.3-.9-.8-1-.4-1.5-.5-3.3-.1-1.5 .4-1 .6-.6 1.4-1 .9-.4 1.2-.3 1.6-.1 3.6 0 1.5 .1 1.1 .5 .6 .6 .9 1.5 .4 .9 .3 1.2 0 1.5-.1 3.1-.1 1.5-.4 1.2-.4 .9-1 1.4-.7 .5-.9 .2zM226.5 687.9l-1.9-2.1-.8-.8-.5-.6-.3-.2-.2 0-.3 0-.4 .1-.6 .2-1.1 .3-.6 .4-.8 .7-1 1.2-2.6 3.4-.9 1.2-.4 .8-.2 .4 .1 .5 .2 .3 .6 .6 1 .8 2.6 1.8 1.3 .7 1.1 .2 1-.2 1.8-.7 .9-.5 .8-.9 .7-1.2 1.1-2.8 .3-1.3-.2-1.2zM194.4 671.3l3.8-3.4 1.2-.9 1-.4 .8 0 1.4 .4 .7 .4 .6 .8 .5 1.4 .9 3.7 .1 1.5-.5 1-1.2 .8-5.2 2.4-1.4 .6-1 .1-.6-.1-.9-.5-.5-.5-.4-.9-.3-.9-.4-2.1 0-1.1 .4-1.1zM224.2 655.7l-1.4-.4-.7-.4-.7-.8-.7-1.3-2.2-5.1-.5-1.5-.1-1 .1-.8 .5-1.2 .3-.6 .3-.5 .3-.2 .5-.2 .5-.1 .9 .2 1.4 .5 3.6 1.2 1.5 .8 .8 .9 .5 1 .7 2 .1 1.1-.2 1.2-.8 1.3-2 2.5-1 1-.9 .4zM262.1 645.3l.5-4.7 .2-1.5 .3-.7 .2-.2 .5-.1 .4 .2 .7 .4 1.2 .9 8.2 6.4 1.2 1 .5 .7 .1 .5-.2 .8-.4 .3-.8 .4-1.4 .3-5.5 .8-1.5 .1-1.2-.4-.8-.5-1.3-1.2-.5-.8-.4-1.1zM173.7 695.4l7.1 5.3 1.3 .7 1-.1 1-1.1 2.9-3.7 .7-1.4 0-1.1-.7-1.4-2.9-3.9-1.1-1.1-1-.2-1.4 .5-6.3 3.4-1.3 .7-.6 .6-.3 .3-.1 .5 .1 .4 .5 .6zM229.8 611.3l2.9 .5 1.2 .5 .7 .8 .4 1.5 .4 5.5-.1 1.5-.6 1-1.3 .9-6.1 2.9-1.5 .5-.9 0-.6-.3-.9-.8-.4-.7-.1-.9 .1-1.6 1.8-8.4 .3-1.4 .5-.8 .4-.4 .9-.4 .6-.1 1 0zM234.6 665.3l4.3 5 1.1 .9 1.1 .2 1.2-.4 2.4-1.5 1-.9 .5-1.1 .1-1.5-.5-4-.4-1.5-.7-1-.9-.6-1.9-.9-1.1-.2-1.2 .2-1.3 .9-3.5 3-.9 1.2-.1 1zM234.2 665.6l4.3 4.9 .9 1.3 .3 1.1-.1 .9-.5 1.5-.5 .7-.9 .6-1.4 .1-3.5-.1-1.5-.2-1-.6-1-1.3-2.5-4.1-.6-1.5 .1-1.2 .5-.9 1.3-1.8 .8-.7 .8-.5 .7-.2 1.2 .1 .7 .2 .8 .6zM181.4 612.5l.1 6.3 .2 1.4 .8 .7 1.4 .2 6.2-.2 1.5-.3 1-.7 .6-1.4 1.5-4.9 .2-1.5-.5-1-1.2-.8-3.4-1.5-1.5-.5-1.4-.1-1.2 .3-2.4 .9-1.1 .6-.6 .9zM218 697.5l-2.5-1.8-1.3-.6-1.1 .1-1.2 .9-3.3 3.1-1 1.3-.6 1.1-.2 1-.1 1.8 0 .9 .1 .7 .2 .4 .4 .4 .5 .3 .8 .2 1.5 .3 4.8 .7 1.5 .1 .9 0 .5-.1 .5-.3 .3-.4 .3-.8 .2-1.5 .4-4.1 0-1.6-.5-1.1zM257.6 675l4.5-.9 1.5-.5 .7-.8 .3-1.2 .2-2.9-.2-1.3-.7-.9-1.1-.5-2.8-.6-1.4-.2-1.2 .4-1.1 .8-2.2 2.2-.8 1.1-.2 1.2 .3 1 1 1.8 .7 .8 1 .5zM170.3 622.2l-.1 .2-.2 .3-.2 .8-.3 1.3-.7 3.2-.2 1.5 .1 1.4 .5 1.5 1.3 3.1 .8 1.3 1 .5 1.5-.1 5.3-1 1.4-.5 .6-.9 .1-1.5-.8-8.4-.3-1.5-.8-.7-1.5-.3-5-.2-1.4 0-.8 0zM255.2 677l-.2 1.4 .1 .7 .5 .7 1.2 .9 4.5 2.5 1.3 .6 1.1 .1 .7-.2 1.1-.8 .6-.6 .4-.9 .2-1 .1-2.1-.1-1-.2-.9-.4-.6-.8-.9-.6-.3-.9-.2-1.5 .2-4.5 .8-1.4 .4-.8 .6zM192.6 656.6l-1.6-4.1-.3-1.4 .5-.8 1.3-.5 7-1.7 1.6-.2 1.1 .3 .8 .5 1.2 1.4 .4 .8-.1 1-.8 1.2-4.9 5.4-1.1 1-.9 .3-.8 0-1.3-.5-.7-.5-.7-.8zM246.3 688l-1.9 3.6-.9 1.3-1 .7-1.2 .4-2.4 .3-1.2-.1-1.1-.5-.9-.8-1.3-1.8-.5-1 .1-1.1 .8-1.3 4.1-4.2 1.2-1 1.1-.1 1.3 .5 2.8 1.7 1.1 1 .3 1zM248.8 635.5l-.5-7.4-.1-1.4 0-.8 .1-.3 .2-.3 .4 0 .7 0 1.5 .3 6.3 1.1 1.5 .5 .8 .8 .5 1.4 .9 5.3 0 1.4-.6 .8-1.4 .4-7.2 .9-1.5 .1-.8 0-.3 0-.1-.2-.1-.3-.1-.8zM206.4 626l3.8 2.4 1.4 .7 1.1-.1 1.2-.6 2.3-1.9 .7-.9 .1-1-.8-1.2-5.3-5.6-1.1-.9-.8 .1-.9 1.1-2.5 4.6-.5 1.3 .2 1.1zM256.5 681.1l4.5 2.4 1.2 .9 .5 .8 0 .8-.4 1.4-.4 .7-.9 .6-1.5 .3-3.8 .6-1.6 0-1.2-.4-1-.6-1.6-1.6-.6-.9 0-1 .8-1.1 2.3-2.4 1.2-.9 1.1-.2zM195.6 705.2l-1.5-7.7-.1-1.5 .4-1 .6-.6 1.5-.9 .9-.2 1 .2 1.2 .9 5 4.8 1 1.2 .5 1.1 .1 1-.1 1.8-.3 .9-.8 .8-1.4 .6-3.6 1-1.4 .3-.9 .1-.5 0-.6-.2-.3-.4-.3-.8zM203.4 625.5l-.9 .4-.3 .4-.2 .8 .2 1.5 1.3 6.9 .5 1.3 .8 .6 1.3-.1 2.9-.8 1.2-.5 .8-.9 .4-1 .3-2.1-.1-1.1-.5-1.1-1.1-1-3.8-2.4-1.3-.7-.9-.3zM173 649.1l8 1.5 1.3 .4 .4 .8-.3 1.4-1.5 3.9-.8 1.4-.9 .6-1.6 .2-4.6-.2-1.5-.3-.9-.6-.5-.7-.5-1.7-.2-1 0-1.2 .2-1.1 .5-2 .5-.8 .9-.6zM223.9 697.6l-1.8 .6-.8 .6-.7 .9-.3 1.5-.5 4.1 .1 1.5 .7 .9 1.3 .5 3.4 .7 1.5 .1 1.3-.2 1.3-.6 2.6-1.6 1-.6 .6-.5 .2-.1 0-.2-.2-.2-.6-.6-1-1-4.8-4.7-1.3-1-1.1-.2zM249.9 702l2.9-3.9 1-1.1 1.2-.4 1.4 .2 3.1 .8 1.3 .6 .6 .9 .2 1.5-.2 3.7-.2 1.5-.5 .9-.6 .5-1.4 .6-.8 .2-1.2 0-1.5-.4-4.6-1.3-1.4-.4-.7-.4-.2-.4 .1-.6 .2-.5 .4-.8zM242.7 647.4l3.3-1.2 1.3-.8 .8-.9 .3-1.2 .4-2.4 .1-1.1 0-.8 0-.3-.2-.2-.3-.1-.8-.1-1.4-.2-7.2-.7-1.5-.1-.8 .1-.3 .2-.2 .6 0 .4 .2 .9 .6 1.3 2.5 5.3 .9 1.2 .9 .4zM203.1 635.6l-1.3-7-.5-1.4-.8-.8-1-.4-2.1-.4-1.1 .1-.9 .5-.8 1.3-2.4 5.7-.3 1.4 .4 .9 1.2 .8 6.2 2.4 1.4 .5 .9 .1 .5-.2 .6-.6 .2-.5 0-.9zM208.2 677l-1.1-.5-.7-.2-1 .1-1.5 .6-5.1 2.4-1.2 .8-.4 1 .3 1.4 1.2 3.3 .8 1.3 .9 .5 1.3 .1 2.8-.4 1.2-.4 1-.8 .7-1.4 1.4-3.6 .5-1.4 .2-.8 0-.5-.2-.5-.2-.3-.4-.4zM254 656.1l1.4 1.3 .9 .5 1.1 .2 1.5-.3 3.1-1.1 1.3-.7 .8-.7 .3-.8 .3-1.6 0-.8-.3-1-.5-.7-1.3-1.2-.8-.5-1.1-.1-1.4 .4-3.9 1.7-1.4 .7-.7 .7-.3 .6-.1 1.2 .1 .7 .4 .8zM215.1 646.8l-6.6 3.5-1.1 .9-.3 .9 .5 1.4 3.3 5.5 .9 1.1 1 .2 1.3-.5 5.1-3.3 1.1-1 .3-1-.3-1.5-2.2-5.1-.8-1.2-.9-.3zM225.4 628.5l.2 .8 .3 .5 .7 .6 1.2 .8 6 3.6 1.3 .5 .9-.3 .7-1.2 2-5.5 .4-1.4-.2-1.1-.6-.7-1.4-1.2-.8-.4-1.1-.1-1.5 .5-6 2.9-1.3 .7-.6 .6zM208.5 676.5l-1.1-.6-.5-.4-.6-.9-.4-1.5-.9-3.6-.2-1.6 .5-1.1 1.1-1 3.6-2.4 1.3-.6 1 .2 1.1 1 3.3 4.3 .9 1.1 .5 .6 .1 .2 0 0-.2 .1-.6 .5-1.1 .9-4.9 3.8-1.3 .8-.9 .3zM171.5 694.4l-.1 .1-.2 .3-.3 .7-.4 1.4-1.2 3.2-.4 1.5-.1 1.4 .2 1.1 .5 2 .5 .9 .9 .8 1.3 .5 3.1 .6 1.4 .1 1.4-.2 1-.5 1.9-1.2 .8-.7 .6-.8 .2-.7-.1-1.2-.2-.8-.6-.8-1.1-1-7-5.4-1.2-.8-.6-.4zM230.4 648.1l-.7-2-.1-1 .4-1.2 1-1.1 2.8-2.3 1.2-.7 .8 .2 .8 1.2 2.5 5.2 .5 1.4 .1 1-.2 .6-.6 1-.5 .4-1 .2-1.3-.1-3-.6-1.3-.4-.9-.8zM234.4 705.2l.1 .1 .1 .1 .4 .3 .5 .2 1.2 .6 .8 .2 1.1 .2 1.6-.2 4.7-.5 1.5-.2 .7-.1 .3-.1 .1-.1 .1-.1 0-.2 .1-.3 0-.6 0-.5-.3-.9-.6-1.3-2.4-5.2-.8-1.3-1.1-.6-1.1-.1-2.4 .3-1.2 .4-.8 .7-.6 1.5-1.4 5.2-.4 1.4-.1 .8zM269.8 676l5.1-1.4 1.4-.2 1 .3 .5 .7 .7 1.6 .3 .9 0 1.3-.2 1.4-.6 3.2-.4 1.3-.2 .9-.3 .4-.4 .5-.3 .1-.8-.2-1.3-.7-5-2.6-1.2-.9-.6-1.1-.2-1 .1-2.1 .3-.9 .7-.9zM223.2 669.1l-2.5 .7-1 .3-.7 .2-.3 .1 0 0 .1 .2 .2 .7 .4 1.4 2.6 8.4 .4 1.4 .3 .7 .2 .3 .2 0 .3-.1 .6-.5 1-1 3.4-3.4 .9-1.2 .1-1.1-.6-1.4-2.4-4.2-1-1.2-1-.4zM253.8 692.1l.3 1.9 .4 .9 .8 .8 1.3 .6 3.1 .8 1.4 .2 1-.2 .7-.4 1-1.1 .3-.7 .1-1-.3-1-1-2-.7-.9-1-.5-1.5 0-3.8 .5-1.4 .5-.6 .7zM257.3 660.8l.4 1.9 .4 .9 .9 .8 1.2 .5 2.8 .7 1.3 .1 1.1-.1 .8-.4 1.3-1 .4-.6 .1-1-.6-1.3-1.8-2.9-.9-1.1-1.1-.4-1.4 .2-3.1 1.2-1.3 .7-.5 .8zM209.2 681.4l-1.3 3.6-.4 1.5 .4 1.1 1 1.1 2.7 2.1 1.3 .6 1-.1 1.1-1 2.5-3.4 .7-1.3-.2-1-1-1-4.9-3.1-1.3-.6-.9 .3zM194.1 670.9l3.8-3.4 .9-1.1 .2-1.1-.2-1-1-1.9-.6-.9-.8-.7-.7-.5-1.3-.5-.8-.1-1 .3-1.2 .9-4.8 4.2-1.1 1-.6 .5-.2 .2 0 0 .2 .2 .6 .5 1.2 .8 3.7 2.8 1.3 .7 1.1-.1zM266.6 636.7l7.6-4.1 1.3-.5 .9 .3 .8 1.1 1.2 2.8 .5 1.4 .1 1.4-.2 1.5-.7 3.2-.3 1.3-.3 .9-.2 .4-.4 .5-.4 0-.7-.3-1.1-.8-8.3-6.4-.9-1 .1-.8z" fill="#f1f0ed"/>
</g>
<rect x="237.8" y="689.3" width="21" height="1.4" fill="#000" stroke="none" stroke-width="1"/>
<text x="248.3" y="693.3" font-size="2.6" fill="#000" text-anchor="middle">100 &#956;m</text>
<rect x="182.6" y="540.3" width="82.4" height="154.6" fill="none" stroke="#444" stroke-width="1.1"/>
<line x1="182.6" y1="550.1" x2="265" y2="550.1" stroke="#222" stroke-width="0.9"/>
<line x1="182.6" y1="622.3" x2="265" y2="622.3" stroke="#333" stroke-width="0.9"/>
<text x="8.3" y="587" font-size="8.4" text-anchor="middle" fill="#000" transform="rotate(-90 8.3 587)">Muscle</text>
<text x="8.3" y="662" font-size="8.4" text-anchor="middle" fill="#000" transform="rotate(-90 8.3 662)">Adipose</text>
<text transform="translate(313.3 10) scale(0.82 1)" font-size="14.8" font-weight="bold" stroke="#000" stroke-width="0.3">B</text>
<rect x="369.2" y="115.8" width="15.2" height="38.7" fill="#a6a7ab" stroke="#000" stroke-width="1.55"/>
<rect x="395.4" y="115.8" width="15.2" height="38.7" fill="#a6a7ab" stroke="#000" stroke-width="1.55"/>
<line x1="376.6" y1="78.9" x2="376.6" y2="154.5" stroke="#333" stroke-width="0.9"/>
<line x1="371.4" y1="78.9" x2="381.9" y2="78.9" stroke="#333" stroke-width="0.9"/>
<line x1="371.4" y1="154.5" x2="381.9" y2="154.5" stroke="#333" stroke-width="0.9"/>
<line x1="403" y1="44.6" x2="403" y2="154.5" stroke="#333" stroke-width="0.9"/>
<line x1="398" y1="44.6" x2="408" y2="44.6" stroke="#333" stroke-width="0.9"/>
<line x1="398" y1="154.5" x2="408" y2="154.5" stroke="#333" stroke-width="0.9"/>
<circle cx="343.9" cy="154.2" r="3.85" fill="#000" stroke="#fff" stroke-width="0.45"/>
<circle cx="356.5" cy="154.2" r="3.85" fill="#000" stroke="#fff" stroke-width="0.45"/>
<circle cx="345.8" cy="154.2" r="3.85" fill="#000" stroke="#fff" stroke-width="0.45"/>
<circle cx="354.6" cy="154.2" r="3.85" fill="#000" stroke="#fff" stroke-width="0.45"/>
<circle cx="347.8" cy="154.2" r="3.85" fill="#000" stroke="#fff" stroke-width="0.45"/>
<circle cx="352.6" cy="154.2" r="3.85" fill="#000" stroke="#fff" stroke-width="0.45"/>
<circle cx="350.2" cy="154.2" r="3.85" fill="#000" stroke="#fff" stroke-width="0.45"/>
<circle cx="378.3" cy="40" r="3.85" fill="#0f3cff" stroke="#fff" stroke-width="0.5"/>
<circle cx="371.3" cy="118.3" r="3.85" fill="#0f3cff" stroke="#fff" stroke-width="0.5"/>
<circle cx="381.5" cy="102.2" r="3.85" fill="#0f3cff" stroke="#fff" stroke-width="0.5"/>
<circle cx="380.6" cy="124.4" r="3.85" fill="#0f3cff" stroke="#fff" stroke-width="0.5"/>
<circle cx="371" cy="144.2" r="3.85" fill="#0f3cff" stroke="#fff" stroke-width="0.5"/>
<circle cx="376.6" cy="144.2" r="3.85" fill="#0f3cff" stroke="#fff" stroke-width="0.5"/>
<circle cx="381.8" cy="144.2" r="3.85" fill="#0f3cff" stroke="#fff" stroke-width="0.5"/>
<circle cx="400.4" cy="29.4" r="3.85" fill="#ee1c24" stroke="#fff" stroke-width="0.5"/>
<circle cx="408.6" cy="27.7" r="3.85" fill="#ee1c24" stroke="#fff" stroke-width="0.5"/>
<circle cx="408.6" cy="73.2" r="3.85" fill="#ee1c24" stroke="#fff" stroke-width="0.5"/>
<circle cx="403.4" cy="127.6" r="3.85" fill="#ee1c24" stroke="#fff" stroke-width="0.5"/>
<circle cx="403.4" cy="139.3" r="3.85" fill="#ee1c24" stroke="#fff" stroke-width="0.5"/>
<circle cx="398.1" cy="151" r="3.85" fill="#ee1c24" stroke="#fff" stroke-width="0.5"/>
<circle cx="406.5" cy="151" r="3.85" fill="#ee1c24" stroke="#fff" stroke-width="0.5"/>
<line x1="337.4" y1="17" x2="337.4" y2="154.5" stroke="#000" stroke-width="1.4"/>
<line x1="336.7" y1="17.1" x2="340.4" y2="17.1" stroke="#000" stroke-width="1.3"/>
<text x="334.5" y="19.9" font-size="8.1" text-anchor="end" fill="#000">60</text>
<line x1="336.7" y1="62.9" x2="340.4" y2="62.9" stroke="#000" stroke-width="1.3"/>
<text x="334.5" y="65.7" font-size="8.1" text-anchor="end" fill="#000">40</text>
<line x1="336.7" y1="108.7" x2="340.4" y2="108.7" stroke="#000" stroke-width="1.3"/>
<text x="334.5" y="111.5" font-size="8.1" text-anchor="end" fill="#000">20</text>
<line x1="336.7" y1="154.5" x2="340.4" y2="154.5" stroke="#000" stroke-width="1.3"/>
<text x="334.5" y="156" font-size="8.1" text-anchor="end" fill="#000">0</text>
<line x1="337.4" y1="154.5" x2="416.5" y2="154.5" stroke="#000" stroke-width="1.4"/>
<line x1="337.4" y1="154.5" x2="416.5" y2="154.5" stroke="#000" stroke-width="1.4"/>
<line x1="337.4" y1="154.5" x2="337.4" y2="167.8" stroke="#000" stroke-width="1.4"/>
<line x1="416.5" y1="154.5" x2="416.5" y2="167.8" stroke="#000" stroke-width="1.4"/>
<line x1="336.7" y1="167.8" x2="417.2" y2="167.8" stroke="#000" stroke-width="1.4"/>
<line x1="363.4" y1="154.5" x2="363.4" y2="167.8" stroke="#000" stroke-width="1.1"/>
<line x1="389.3" y1="154.5" x2="389.3" y2="167.8" stroke="#000" stroke-width="1.1"/>
<line x1="346.4" y1="162.8" x2="354.4" y2="162.8" stroke="#000" stroke-width="1.5"/>
<text x="377.2" y="165.5" font-size="6.6" text-anchor="middle" fill="#000">&#916;GFP</text>
<text x="403.7" y="165.5" font-size="6.6" text-anchor="middle" fill="#000">&#916;GDF15</text>
<text x="334" y="165.9" font-size="7.6" text-anchor="end" fill="#000">H1573</text>
<text x="319.8" y="93" font-size="8.2" text-anchor="middle" fill="#000" transform="rotate(-90 319.8 93)">Tumor Area / Lung Area (%)</text>
<text transform="translate(439.3 10) scale(0.82 1)" font-size="14.8" font-weight="bold" stroke="#000" stroke-width="0.3">C</text>
<rect x="494.5" y="118.7" width="15.2" height="36.2" fill="#a6a7ab" stroke="#000" stroke-width="1.55"/>
<line x1="502.1" y1="106.7" x2="502.1" y2="131.4" stroke="#333" stroke-width="0.9"/>
<line x1="497.4" y1="106.7" x2="506.9" y2="106.7" stroke="#333" stroke-width="0.9"/>
<line x1="497.4" y1="131.4" x2="506.9" y2="131.4" stroke="#333" stroke-width="0.9"/>
<circle cx="471.4" cy="154.4" r="3.85" fill="#000" stroke="#fff" stroke-width="0.45"/>
<circle cx="479.2" cy="154.4" r="3.85" fill="#000" stroke="#fff" stroke-width="0.45"/>
<circle cx="473.3" cy="154.4" r="3.85" fill="#000" stroke="#fff" stroke-width="0.45"/>
<circle cx="477.3" cy="154.4" r="3.85" fill="#000" stroke="#fff" stroke-width="0.45"/>
<circle cx="475.3" cy="154.4" r="3.85" fill="#000" stroke="#fff" stroke-width="0.45"/>
<circle cx="523.7" cy="154.4" r="3.85" fill="#ee1c24" stroke="#fff" stroke-width="0.45"/>
<circle cx="530.9" cy="154.4" r="3.85" fill="#ee1c24" stroke="#fff" stroke-width="0.45"/>
<circle cx="525.5" cy="154.4" r="3.85" fill="#ee1c24" stroke="#fff" stroke-width="0.45"/>
<circle cx="529.1" cy="154.4" r="3.85" fill="#ee1c24" stroke="#fff" stroke-width="0.45"/>
<circle cx="527.3" cy="154.4" r="3.85" fill="#ee1c24" stroke="#fff" stroke-width="0.45"/>
<circle cx="500.5" cy="61.5" r="3.85" fill="#0f3cff" stroke="#fff" stroke-width="0.5"/>
<circle cx="503.7" cy="61.5" r="3.85" fill="#0f3cff" stroke="#fff" stroke-width="0.5"/>
<circle cx="502" cy="127.3" r="3.85" fill="#0f3cff" stroke="#fff" stroke-width="0.5"/>
<circle cx="497.6" cy="135.9" r="3.85" fill="#0f3cff" stroke="#fff" stroke-width="0.5"/>
<circle cx="500" cy="139" r="3.85" fill="#0f3cff" stroke="#fff" stroke-width="0.5"/>
<circle cx="497" cy="145.6" r="3.85" fill="#0f3cff" stroke="#fff" stroke-width="0.5"/>
<circle cx="504" cy="142.7" r="3.85" fill="#0f3cff" stroke="#fff" stroke-width="0.5"/>
<circle cx="506.6" cy="142.7" r="3.85" fill="#0f3cff" stroke="#fff" stroke-width="0.5"/>
<line x1="462.6" y1="17" x2="462.6" y2="154.9" stroke="#000" stroke-width="1.4"/>
<line x1="461.9" y1="24.5" x2="465.6" y2="24.5" stroke="#000" stroke-width="1.3"/>
<text x="460" y="27.5" font-size="8.5" text-anchor="end" fill="#000">20</text>
<line x1="461.9" y1="57.1" x2="465.6" y2="57.1" stroke="#000" stroke-width="1.3"/>
<text x="460" y="60.1" font-size="8.5" text-anchor="end" fill="#000">15</text>
<line x1="461.9" y1="89.7" x2="465.6" y2="89.7" stroke="#000" stroke-width="1.3"/>
<text x="460" y="92.7" font-size="8.5" text-anchor="end" fill="#000">10</text>
<line x1="461.9" y1="122.3" x2="465.6" y2="122.3" stroke="#000" stroke-width="1.3"/>
<text x="460" y="125.3" font-size="8.5" text-anchor="end" fill="#000">5</text>
<line x1="461.9" y1="154.9" x2="465.6" y2="154.9" stroke="#000" stroke-width="1.3"/>
<text x="460" y="156" font-size="8.5" text-anchor="end" fill="#000">0</text>
<line x1="462.7" y1="154.9" x2="542" y2="154.9" stroke="#000" stroke-width="1.4"/>
<line x1="462.6" y1="154.9" x2="542" y2="154.9" stroke="#000" stroke-width="1.4"/>
<line x1="462.6" y1="154.9" x2="462.6" y2="167.8" stroke="#000" stroke-width="1.4"/>
<line x1="542" y1="154.9" x2="542" y2="167.8" stroke="#000" stroke-width="1.4"/>
<line x1="461.9" y1="167.8" x2="542.7" y2="167.8" stroke="#000" stroke-width="1.4"/>
<line x1="488.3" y1="154.9" x2="488.3" y2="167.8" stroke="#000" stroke-width="1.1"/>
<line x1="514.6" y1="154.9" x2="514.6" y2="167.8" stroke="#000" stroke-width="1.1"/>
<line x1="471.5" y1="162.7" x2="479.5" y2="162.7" stroke="#000" stroke-width="1.5"/>
<text x="502.3" y="165.4" font-size="6.6" text-anchor="middle" fill="#000">&#916;GFP</text>
<text x="529.1" y="165.4" font-size="6.6" text-anchor="middle" fill="#000">&#916;GDF15</text>
<text x="459.4" y="165.8" font-size="7.6" text-anchor="end" fill="#000">H1573</text>
<text x="444.6" y="98" font-size="8.2" text-anchor="middle" fill="#000" transform="rotate(-90 444.6 98)">Serum Human GDF15 (ng/ml)</text>
<text transform="translate(557.8 10) scale(0.82 1)" font-size="14.8" font-weight="bold" stroke="#000" stroke-width="0.3">D</text>
<circle cx="585" cy="153.2" r="3.85" fill="#000" stroke="#fff" stroke-width="0.45"/>
<circle cx="587" cy="153.2" r="3.85" fill="#000" stroke="#fff" stroke-width="0.45"/>
<circle cx="589" cy="153.2" r="3.85" fill="#000" stroke="#fff" stroke-width="0.45"/>
<circle cx="591" cy="153.2" r="3.85" fill="#000" stroke="#fff" stroke-width="0.45"/>
<circle cx="593.5" cy="153.2" r="3.85" fill="#000" stroke="#fff" stroke-width="0.45"/>
<circle cx="611.1" cy="153.7" r="3.85" fill="#0f3cff" stroke="#fff" stroke-width="0.45"/>
<circle cx="619.5" cy="153.7" r="3.85" fill="#0f3cff" stroke="#fff" stroke-width="0.45"/>
<circle cx="613.1" cy="153.7" r="3.85" fill="#0f3cff" stroke="#fff" stroke-width="0.45"/>
<circle cx="617.5" cy="153.7" r="3.85" fill="#0f3cff" stroke="#fff" stroke-width="0.45"/>
<circle cx="615.3" cy="153.7" r="3.85" fill="#0f3cff" stroke="#fff" stroke-width="0.45"/>
<circle cx="638.5" cy="149.8" r="3.85" fill="#ee1c24" stroke="#fff" stroke-width="0.45"/>
<circle cx="641.7" cy="149.4" r="3.85" fill="#ee1c24" stroke="#fff" stroke-width="0.45"/>
<circle cx="644.9" cy="149.8" r="3.85" fill="#ee1c24" stroke="#fff" stroke-width="0.45"/>
<circle cx="637.1" cy="153.4" r="3.85" fill="#ee1c24" stroke="#fff" stroke-width="0.45"/>
<circle cx="646.3" cy="153.4" r="3.85" fill="#ee1c24" stroke="#fff" stroke-width="0.45"/>
<circle cx="638.9" cy="153.6" r="3.85" fill="#ee1c24" stroke="#fff" stroke-width="0.45"/>
<circle cx="644.5" cy="153.6" r="3.85" fill="#ee1c24" stroke="#fff" stroke-width="0.45"/>
<circle cx="641.7" cy="153.7" r="3.85" fill="#ee1c24" stroke="#fff" stroke-width="0.45"/>
<line x1="576.6" y1="17" x2="576.6" y2="154.6" stroke="#000" stroke-width="1.4"/>
<line x1="575.9" y1="24" x2="579.6" y2="24" stroke="#000" stroke-width="1.3"/>
<text x="574.3" y="26.9" font-size="8.3" text-anchor="end" fill="#000">20</text>
<line x1="575.9" y1="56.6" x2="579.6" y2="56.6" stroke="#000" stroke-width="1.3"/>
<text x="574.3" y="59.6" font-size="8.3" text-anchor="end" fill="#000">15</text>
<line x1="575.9" y1="89.3" x2="579.6" y2="89.3" stroke="#000" stroke-width="1.3"/>
<text x="574.3" y="92.2" font-size="8.3" text-anchor="end" fill="#000">10</text>
<line x1="575.9" y1="121.9" x2="579.6" y2="121.9" stroke="#000" stroke-width="1.3"/>
<text x="574.3" y="124.9" font-size="8.3" text-anchor="end" fill="#000">5</text>
<line x1="576.7" y1="154.6" x2="656.7" y2="154.6" stroke="#000" stroke-width="1.4"/>
<line x1="576.6" y1="154.6" x2="656.7" y2="154.6" stroke="#000" stroke-width="1.4"/>
<line x1="576.6" y1="154.6" x2="576.6" y2="167.8" stroke="#000" stroke-width="1.4"/>
<line x1="656.7" y1="154.6" x2="656.7" y2="167.8" stroke="#000" stroke-width="1.4"/>
<line x1="575.9" y1="167.8" x2="657.4" y2="167.8" stroke="#000" stroke-width="1.4"/>
<line x1="603" y1="154.6" x2="603" y2="167.8" stroke="#000" stroke-width="1.1"/>
<line x1="629.1" y1="154.6" x2="629.1" y2="167.8" stroke="#000" stroke-width="1.1"/>
<line x1="585.8" y1="162.1" x2="593.8" y2="162.1" stroke="#000" stroke-width="1.5"/>
<text x="616.8" y="164.8" font-size="6.6" text-anchor="middle" fill="#000">&#916;GFP</text>
<text x="643.7" y="164.8" font-size="6.6" text-anchor="middle" fill="#000">&#916;GDF15</text>
<text x="573.6" y="165.2" font-size="7.6" text-anchor="end" fill="#000">H1573</text>
<text x="561" y="97.5" font-size="8.2" text-anchor="middle" fill="#000" transform="rotate(-90 561 97.5)">Serum Mouse GDF15 (ng/ml)</text>
<text transform="translate(6.3 188) scale(0.82 1)" font-size="14.8" font-weight="bold" stroke="#000" stroke-width="0.3">E</text>
<circle cx="42.6" cy="225.7" r="3.6" fill="#000" stroke="#fff" stroke-width="0.55"/>
<circle cx="44" cy="226.8" r="3.6" fill="#000" stroke="#fff" stroke-width="0.55"/>
<circle cx="48.7" cy="228" r="3.6" fill="#000" stroke="#fff" stroke-width="0.55"/>
<circle cx="42.8" cy="229.1" r="3.6" fill="#000" stroke="#fff" stroke-width="0.55"/>
<circle cx="43.3" cy="230.3" r="3.6" fill="#000" stroke="#fff" stroke-width="0.55"/>
<circle cx="44.3" cy="231.5" r="3.6" fill="#000" stroke="#fff" stroke-width="0.55"/>
<circle cx="39.1" cy="231.5" r="3.6" fill="#000" stroke="#fff" stroke-width="0.55"/>
<circle cx="43.4" cy="232.6" r="3.6" fill="#000" stroke="#fff" stroke-width="0.55"/>
<circle cx="44.9" cy="233.8" r="3.6" fill="#000" stroke="#fff" stroke-width="0.55"/>
<circle cx="47" cy="233.8" r="3.6" fill="#000" stroke="#fff" stroke-width="0.55"/>
<circle cx="37.9" cy="234.9" r="3.6" fill="#000" stroke="#fff" stroke-width="0.55"/>
<circle cx="40.6" cy="236.1" r="3.6" fill="#000" stroke="#fff" stroke-width="0.55"/>
<circle cx="37.9" cy="236.1" r="3.6" fill="#000" stroke="#fff" stroke-width="0.55"/>
<circle cx="47.2" cy="237.2" r="3.6" fill="#000" stroke="#fff" stroke-width="0.55"/>
<circle cx="45.7" cy="238.4" r="3.6" fill="#000" stroke="#fff" stroke-width="0.55"/>
<circle cx="37.2" cy="239.6" r="3.6" fill="#000" stroke="#fff" stroke-width="0.55"/>
<circle cx="49.5" cy="240.7" r="3.6" fill="#000" stroke="#fff" stroke-width="0.55"/>
<circle cx="49.2" cy="241.9" r="3.6" fill="#000" stroke="#fff" stroke-width="0.55"/>
<circle cx="45.2" cy="244.2" r="3.6" fill="#000" stroke="#fff" stroke-width="0.55"/>
<circle cx="44.7" cy="247.7" r="3.6" fill="#000" stroke="#fff" stroke-width="0.55"/>
<circle cx="38.7" cy="251.1" r="3.6" fill="#000" stroke="#fff" stroke-width="0.55"/>
<circle cx="36.9" cy="252.3" r="3.6" fill="#000" stroke="#fff" stroke-width="0.55"/>
<circle cx="70.5" cy="216.4" r="3.6" fill="#0f3cff" stroke="#fff" stroke-width="0.55"/>
<circle cx="72.8" cy="218.7" r="3.6" fill="#0f3cff" stroke="#fff" stroke-width="0.55"/>
<circle cx="73" cy="221" r="3.6" fill="#0f3cff" stroke="#fff" stroke-width="0.55"/>
<circle cx="66.2" cy="224.5" r="3.6" fill="#0f3cff" stroke="#fff" stroke-width="0.55"/>
<circle cx="64.4" cy="228" r="3.6" fill="#0f3cff" stroke="#fff" stroke-width="0.55"/>
<circle cx="69.2" cy="230.3" r="3.6" fill="#0f3cff" stroke="#fff" stroke-width="0.55"/>
<circle cx="67.9" cy="232.6" r="3.6" fill="#0f3cff" stroke="#fff" stroke-width="0.55"/>
<circle cx="74.8" cy="233.8" r="3.6" fill="#0f3cff" stroke="#fff" stroke-width="0.55"/>
<circle cx="73.3" cy="234.9" r="3.6" fill="#0f3cff" stroke="#fff" stroke-width="0.55"/>
<circle cx="72.1" cy="236.1" r="3.6" fill="#0f3cff" stroke="#fff" stroke-width="0.55"/>
<circle cx="71.6" cy="237.2" r="3.6" fill="#0f3cff" stroke="#fff" stroke-width="0.55"/>
<circle cx="72.9" cy="238.4" r="3.6" fill="#0f3cff" stroke="#fff" stroke-width="0.55"/>
<circle cx="66.2" cy="239.6" r="3.6" fill="#0f3cff" stroke="#fff" stroke-width="0.55"/>
<circle cx="70" cy="240.7" r="3.6" fill="#0f3cff" stroke="#fff" stroke-width="0.55"/>
<circle cx="66.4" cy="241.9" r="3.6" fill="#0f3cff" stroke="#fff" stroke-width="0.55"/>
<circle cx="76.1" cy="243" r="3.6" fill="#0f3cff" stroke="#fff" stroke-width="0.55"/>
<circle cx="65.1" cy="244.2" r="3.6" fill="#0f3cff" stroke="#fff" stroke-width="0.55"/>
<circle cx="74.9" cy="245.3" r="3.6" fill="#0f3cff" stroke="#fff" stroke-width="0.55"/>
<circle cx="65.3" cy="246.5" r="3.6" fill="#0f3cff" stroke="#fff" stroke-width="0.55"/>
<circle cx="73.2" cy="247.7" r="3.6" fill="#0f3cff" stroke="#fff" stroke-width="0.55"/>
<circle cx="68.7" cy="248.8" r="3.6" fill="#0f3cff" stroke="#fff" stroke-width="0.55"/>
<circle cx="69.6" cy="250" r="3.6" fill="#0f3cff" stroke="#fff" stroke-width="0.55"/>
<circle cx="75.3" cy="251.1" r="3.6" fill="#0f3cff" stroke="#fff" stroke-width="0.55"/>
<circle cx="64.5" cy="252.3" r="3.6" fill="#0f3cff" stroke="#fff" stroke-width="0.55"/>
<circle cx="65.1" cy="253.4" r="3.6" fill="#0f3cff" stroke="#fff" stroke-width="0.55"/>
<circle cx="76.2" cy="254.6" r="3.6" fill="#0f3cff" stroke="#fff" stroke-width="0.55"/>
<circle cx="70.9" cy="254.6" r="3.6" fill="#0f3cff" stroke="#fff" stroke-width="0.55"/>
<circle cx="95.8" cy="231.5" r="3.6" fill="#ee1c24" stroke="#fff" stroke-width="0.55"/>
<circle cx="101.3" cy="233.8" r="3.6" fill="#ee1c24" stroke="#fff" stroke-width="0.55"/>
<circle cx="101.3" cy="236.1" r="3.6" fill="#ee1c24" stroke="#fff" stroke-width="0.55"/>
<circle cx="103.4" cy="238.4" r="3.6" fill="#ee1c24" stroke="#fff" stroke-width="0.55"/>
<circle cx="94.8" cy="239.6" r="3.6" fill="#ee1c24" stroke="#fff" stroke-width="0.55"/>
<circle cx="95.4" cy="240.7" r="3.6" fill="#ee1c24" stroke="#fff" stroke-width="0.55"/>
<circle cx="94.3" cy="241.9" r="3.6" fill="#ee1c24" stroke="#fff" stroke-width="0.55"/>
<circle cx="95.3" cy="243" r="3.6" fill="#ee1c24" stroke="#fff" stroke-width="0.55"/>
<circle cx="101.9" cy="244.2" r="3.6" fill="#ee1c24" stroke="#fff" stroke-width="0.55"/>
<circle cx="94.1" cy="245.3" r="3.6" fill="#ee1c24" stroke="#fff" stroke-width="0.55"/>
<circle cx="99.3" cy="245.3" r="3.6" fill="#ee1c24" stroke="#fff" stroke-width="0.55"/>
<circle cx="95.2" cy="246.5" r="3.6" fill="#ee1c24" stroke="#fff" stroke-width="0.55"/>
<circle cx="96.2" cy="247.7" r="3.6" fill="#ee1c24" stroke="#fff" stroke-width="0.55"/>
<circle cx="98" cy="248.8" r="3.6" fill="#ee1c24" stroke="#fff" stroke-width="0.55"/>
<circle cx="103.3" cy="250" r="3.6" fill="#ee1c24" stroke="#fff" stroke-width="0.55"/>
<circle cx="100.3" cy="251.1" r="3.6" fill="#ee1c24" stroke="#fff" stroke-width="0.55"/>
<circle cx="92.6" cy="252.3" r="3.6" fill="#ee1c24" stroke="#fff" stroke-width="0.55"/>
<circle cx="96" cy="253.4" r="3.6" fill="#ee1c24" stroke="#fff" stroke-width="0.55"/>
<circle cx="94.3" cy="254.6" r="3.6" fill="#ee1c24" stroke="#fff" stroke-width="0.55"/>
<circle cx="103.7" cy="255.8" r="3.6" fill="#ee1c24" stroke="#fff" stroke-width="0.55"/>
<circle cx="102.9" cy="256.9" r="3.6" fill="#ee1c24" stroke="#fff" stroke-width="0.55"/>
<line x1="34" y1="233.8" x2="52" y2="233.8" stroke="#333" stroke-width="1.0"/>
<line x1="61" y1="239.3" x2="80" y2="239.3" stroke="#222" stroke-width="1.2"/>
<line x1="89" y1="245.3" x2="109" y2="245.3" stroke="#222" stroke-width="1.2"/>
<line x1="32.1" y1="192" x2="32.1" y2="331" stroke="#000" stroke-width="1.4"/>
<line x1="31.4" y1="192.1" x2="35.1" y2="192.1" stroke="#000" stroke-width="1.3"/>
<text x="29.1" y="194.4" font-size="6.6" text-anchor="end" fill="#000">6</text>
<line x1="31.4" y1="238.4" x2="35.1" y2="238.4" stroke="#000" stroke-width="1.3"/>
<text x="29.1" y="240.7" font-size="6.6" text-anchor="end" fill="#000">4</text>
<line x1="31.4" y1="284.7" x2="35.1" y2="284.7" stroke="#000" stroke-width="1.3"/>
<text x="29.1" y="287" font-size="6.6" text-anchor="end" fill="#000">2</text>
<line x1="31.4" y1="331" x2="35.1" y2="331" stroke="#000" stroke-width="1.3"/>
<text x="29.1" y="330.8" font-size="6.6" text-anchor="end" fill="#000">0</text>
<line x1="32.2" y1="331" x2="113" y2="331" stroke="#000" stroke-width="1.4"/>
<line x1="42.9" y1="327.5" x2="42.9" y2="331" stroke="#000" stroke-width="1.2"/>
<line x1="71" y1="327.5" x2="71" y2="331" stroke="#000" stroke-width="1.2"/>
<line x1="98.6" y1="327.5" x2="98.6" y2="331" stroke="#000" stroke-width="1.2"/>
<line x1="32.1" y1="331" x2="113" y2="331" stroke="#000" stroke-width="1.4"/>
<line x1="32.1" y1="331" x2="32.1" y2="343.6" stroke="#000" stroke-width="1.4"/>
<line x1="113" y1="331" x2="113" y2="343.6" stroke="#000" stroke-width="1.4"/>
<line x1="31.4" y1="343.6" x2="113.7" y2="343.6" stroke="#000" stroke-width="1.4"/>
<line x1="57.3" y1="331" x2="57.3" y2="343.6" stroke="#000" stroke-width="1.1"/>
<line x1="84.6" y1="331" x2="84.6" y2="343.6" stroke="#000" stroke-width="1.1"/>
<line x1="40.7" y1="338.4" x2="48.7" y2="338.4" stroke="#000" stroke-width="1.5"/>
<text x="71.7" y="341.1" font-size="6.6" text-anchor="middle" fill="#000">&#916;GFP</text>
<text x="99.6" y="341.1" font-size="6.6" text-anchor="middle" fill="#000">&#916;GDF15</text>
<text x="28.4" y="341.5" font-size="7.6" text-anchor="end" fill="#000">H1573</text>
<text x="10.8" y="260" font-size="8.2" text-anchor="middle" fill="#000" transform="rotate(-90 10.8 260)">Daily Food Intake</text>
<text x="19.3" y="260" font-size="8.2" text-anchor="middle" fill="#000" transform="rotate(-90 19.3 260)">(grams/mouse/day)</text>
<text transform="translate(133.3 188) scale(0.82 1)" font-size="14.8" font-weight="bold" stroke="#000" stroke-width="0.3">F</text>
<line x1="316.1" y1="229" x2="316.1" y2="239" stroke="#333" stroke-width="0.9"/>
<line x1="313.1" y1="229" x2="319.1" y2="229" stroke="#333" stroke-width="0.9"/>
<line x1="313.1" y1="239" x2="319.1" y2="239" stroke="#333" stroke-width="0.9"/>
<line x1="340.6" y1="226.3" x2="340.6" y2="238.5" stroke="#333" stroke-width="0.9"/>
<line x1="337.6" y1="226.3" x2="343.6" y2="226.3" stroke="#333" stroke-width="0.9"/>
<line x1="337.6" y1="238.5" x2="343.6" y2="238.5" stroke="#333" stroke-width="0.9"/>
<line x1="361.6" y1="222" x2="361.6" y2="235" stroke="#333" stroke-width="0.9"/>
<line x1="358.6" y1="222" x2="364.6" y2="222" stroke="#333" stroke-width="0.9"/>
<line x1="358.6" y1="235" x2="364.6" y2="235" stroke="#333" stroke-width="0.9"/>
<line x1="372.1" y1="220" x2="372.1" y2="234" stroke="#333" stroke-width="0.9"/>
<line x1="369.1" y1="220" x2="375.1" y2="220" stroke="#333" stroke-width="0.9"/>
<line x1="369.1" y1="234" x2="375.1" y2="234" stroke="#333" stroke-width="0.9"/>
<line x1="288.1" y1="237" x2="288.1" y2="243.3" stroke="#333" stroke-width="0.9"/>
<line x1="285.1" y1="237" x2="291.1" y2="237" stroke="#333" stroke-width="0.9"/>
<line x1="285.1" y1="243.3" x2="291.1" y2="243.3" stroke="#333" stroke-width="0.9"/>
<line x1="340.6" y1="215" x2="340.6" y2="224" stroke="#333" stroke-width="0.9"/>
<line x1="337.6" y1="215" x2="343.6" y2="215" stroke="#333" stroke-width="0.9"/>
<line x1="337.6" y1="224" x2="343.6" y2="224" stroke="#333" stroke-width="0.9"/>
<line x1="361.6" y1="214" x2="361.6" y2="223" stroke="#333" stroke-width="0.9"/>
<line x1="358.6" y1="214" x2="364.6" y2="214" stroke="#333" stroke-width="0.9"/>
<line x1="358.6" y1="223" x2="364.6" y2="223" stroke="#333" stroke-width="0.9"/>
<line x1="340.6" y1="272" x2="340.6" y2="282.4" stroke="#333" stroke-width="0.9"/>
<line x1="337.6" y1="272" x2="343.6" y2="272" stroke="#333" stroke-width="0.9"/>
<line x1="337.6" y1="282.4" x2="343.6" y2="282.4" stroke="#333" stroke-width="0.9"/>
<line x1="361.6" y1="278.5" x2="361.6" y2="295.3" stroke="#333" stroke-width="0.9"/>
<line x1="358.6" y1="278.5" x2="364.6" y2="278.5" stroke="#333" stroke-width="0.9"/>
<line x1="358.6" y1="295.3" x2="364.6" y2="295.3" stroke="#333" stroke-width="0.9"/>
<line x1="372.1" y1="289.4" x2="372.1" y2="310.8" stroke="#333" stroke-width="0.9"/>
<line x1="369.1" y1="289.4" x2="375.1" y2="289.4" stroke="#333" stroke-width="0.9"/>
<line x1="369.1" y1="310.8" x2="375.1" y2="310.8" stroke="#333" stroke-width="0.9"/>
<path d="M165.6,250 L228.6,252.8 L242.6,250.5 L256.6,246.7 L270.6,246.7 L288.1,239.1 L316.1,234 L340.6,232.4 L361.6,228.1 L372.1,227.4" fill="none" stroke="#ee1c24" stroke-width="2.0" stroke-linejoin="round"/>
<path d="M165.6,250 L228.6,255.7 L242.6,255.3 L256.6,258.5 L270.6,261.4 L288.1,252.8 L316.1,262.3 L340.6,277.3 L361.6,286.8 L372.1,300.5" fill="none" stroke="#0f3cff" stroke-width="2.0" stroke-linejoin="round"/>
<path d="M165.6,250 L228.6,240.1 L242.6,243.3 L256.6,235.7 L270.6,235.7 L288.1,234.8 L316.1,227.6 L340.6,219.6 L361.6,218.6 L372.1,217" fill="none" stroke="#000" stroke-width="2.0" stroke-linejoin="round"/>
<circle cx="228.6" cy="252.8" r="3.75" fill="#ee1c24" stroke="#fff" stroke-width="0.5"/>
<circle cx="242.6" cy="250.5" r="3.75" fill="#ee1c24" stroke="#fff" stroke-width="0.5"/>
<circle cx="256.6" cy="246.7" r="3.75" fill="#ee1c24" stroke="#fff" stroke-width="0.5"/>
<circle cx="270.6" cy="246.7" r="3.75" fill="#ee1c24" stroke="#fff" stroke-width="0.5"/>
<circle cx="288.1" cy="239.1" r="3.75" fill="#ee1c24" stroke="#fff" stroke-width="0.5"/>
<circle cx="316.1" cy="234" r="3.75" fill="#ee1c24" stroke="#fff" stroke-width="0.5"/>
<circle cx="340.6" cy="232.4" r="3.75" fill="#ee1c24" stroke="#fff" stroke-width="0.5"/>
<circle cx="361.6" cy="228.1" r="3.75" fill="#ee1c24" stroke="#fff" stroke-width="0.5"/>
<circle cx="372.1" cy="227.4" r="3.75" fill="#ee1c24" stroke="#fff" stroke-width="0.5"/>
<circle cx="228.6" cy="255.7" r="3.75" fill="#0f3cff" stroke="#fff" stroke-width="0.5"/>
<circle cx="242.6" cy="255.3" r="3.75" fill="#0f3cff" stroke="#fff" stroke-width="0.5"/>
<circle cx="256.6" cy="258.5" r="3.75" fill="#0f3cff" stroke="#fff" stroke-width="0.5"/>
<circle cx="270.6" cy="261.4" r="3.75" fill="#0f3cff" stroke="#fff" stroke-width="0.5"/>
<circle cx="288.1" cy="252.8" r="3.75" fill="#0f3cff" stroke="#fff" stroke-width="0.5"/>
<circle cx="316.1" cy="262.3" r="3.75" fill="#0f3cff" stroke="#fff" stroke-width="0.5"/>
<circle cx="340.6" cy="277.3" r="3.75" fill="#0f3cff" stroke="#fff" stroke-width="0.5"/>
<circle cx="361.6" cy="286.8" r="3.75" fill="#0f3cff" stroke="#fff" stroke-width="0.5"/>
<circle cx="372.1" cy="300.5" r="3.75" fill="#0f3cff" stroke="#fff" stroke-width="0.5"/>
<circle cx="228.6" cy="240.1" r="3.75" fill="#000" stroke="#fff" stroke-width="0.5"/>
<circle cx="242.6" cy="243.3" r="3.75" fill="#000" stroke="#fff" stroke-width="0.5"/>
<circle cx="256.6" cy="235.7" r="3.75" fill="#000" stroke="#fff" stroke-width="0.5"/>
<circle cx="270.6" cy="235.7" r="3.75" fill="#000" stroke="#fff" stroke-width="0.5"/>
<circle cx="288.1" cy="234.8" r="3.75" fill="#000" stroke="#fff" stroke-width="0.5"/>
<circle cx="316.1" cy="227.6" r="3.75" fill="#000" stroke="#fff" stroke-width="0.5"/>
<circle cx="340.6" cy="219.6" r="3.75" fill="#000" stroke="#fff" stroke-width="0.5"/>
<circle cx="361.6" cy="218.6" r="3.75" fill="#000" stroke="#fff" stroke-width="0.5"/>
<circle cx="372.1" cy="217" r="3.75" fill="#000" stroke="#fff" stroke-width="0.5"/>
<circle cx="165.6" cy="250" r="3.75" fill="#000" stroke="#fff" stroke-width="0.5"/>
<line x1="165.6" y1="183.4" x2="165.6" y2="315.5" stroke="#000" stroke-width="1.4"/>
<line x1="162.8" y1="315.5" x2="168.4" y2="315.5" stroke="#000" stroke-width="1.3"/>
<line x1="162.8" y1="323.2" x2="168.4" y2="323.2" stroke="#000" stroke-width="1.3"/>
<line x1="165.6" y1="323.2" x2="165.6" y2="333.5" stroke="#000" stroke-width="1.4"/>
<line x1="164.9" y1="183.4" x2="168.8" y2="183.4" stroke="#000" stroke-width="1.3"/>
<text x="160.6" y="186.4" font-size="8.2" text-anchor="end" fill="#000">1.2</text>
<line x1="164.9" y1="216.7" x2="168.8" y2="216.7" stroke="#000" stroke-width="1.3"/>
<text x="160.6" y="219.7" font-size="8.2" text-anchor="end" fill="#000">1.1</text>
<line x1="164.9" y1="250" x2="168.8" y2="250" stroke="#000" stroke-width="1.3"/>
<text x="160.6" y="253" font-size="8.2" text-anchor="end" fill="#000">1.0</text>
<line x1="164.9" y1="283.3" x2="168.8" y2="283.3" stroke="#000" stroke-width="1.3"/>
<text x="160.6" y="286.3" font-size="8.2" text-anchor="end" fill="#000">0.9</text>
<text x="161.4" y="336.2" font-size="8.2" text-anchor="end" fill="#000">0</text>
<line x1="164.9" y1="333.5" x2="379" y2="333.5" stroke="#000" stroke-width="1.4"/>
<line x1="165.6" y1="330.2" x2="165.6" y2="333.5" stroke="#000" stroke-width="1.2"/>
<text x="163.8" y="343.2" font-size="8.2" text-anchor="middle" fill="#000">0</text>
<line x1="200.6" y1="330.2" x2="200.6" y2="333.5" stroke="#000" stroke-width="1.2"/>
<text x="198.8" y="343.2" font-size="8.2" text-anchor="middle" fill="#000">10</text>
<line x1="235.6" y1="330.2" x2="235.6" y2="333.5" stroke="#000" stroke-width="1.2"/>
<text x="233.8" y="343.2" font-size="8.2" text-anchor="middle" fill="#000">20</text>
<line x1="270.6" y1="330.2" x2="270.6" y2="333.5" stroke="#000" stroke-width="1.2"/>
<text x="268.8" y="343.2" font-size="8.2" text-anchor="middle" fill="#000">30</text>
<line x1="305.6" y1="330.2" x2="305.6" y2="333.5" stroke="#000" stroke-width="1.2"/>
<text x="303.8" y="343.2" font-size="8.2" text-anchor="middle" fill="#000">40</text>
<line x1="340.6" y1="330.2" x2="340.6" y2="333.5" stroke="#000" stroke-width="1.2"/>
<text x="338.8" y="343.2" font-size="8.2" text-anchor="middle" fill="#000">50</text>
<line x1="375.6" y1="330.2" x2="375.6" y2="333.5" stroke="#000" stroke-width="1.2"/>
<text x="373.8" y="343.2" font-size="8.2" text-anchor="middle" fill="#000">60</text>
<text x="269.3" y="351.3" font-size="8.0" text-anchor="middle" fill="#000">Days After Tumor Implantation</text>
<text x="144.7" y="262" font-size="8.2" text-anchor="middle" fill="#000" transform="rotate(-90 144.7 262)">Relative Body Weight</text>
<rect x="172.8" y="277.7" width="104.1" height="38.9" fill="#fff" stroke="#222" stroke-width="1.2"/>
<circle cx="180" cy="284.2" r="3.4" fill="#000" stroke="none" stroke-width="0"/>
<text x="186.6" y="287.2" font-size="8.2">PBS<tspan font-size="5.2" dy="-3.2"></tspan></text>
<text x="230.9" y="287.2" font-size="8.2" text-anchor="start" font-style="italic" fill="#000">(p=n.s.)</text>
<circle cx="180" cy="297.1" r="3.4" fill="#0f3cff" stroke="none" stroke-width="0"/>
<text x="186.6" y="300.1" font-size="8.2">H1573<tspan font-size="5.2" dy="-3.2">&#916;GFP</tspan></text>
<text x="230.9" y="300.1" font-size="8.2" text-anchor="start" font-style="italic" fill="#000">(p&lt;0.0001)</text>
<circle cx="180" cy="309.9" r="3.4" fill="#ee1c24" stroke="none" stroke-width="0"/>
<text x="186.6" y="312.9" font-size="8.2">H1573<tspan font-size="5.2" dy="-3.2">&#916;GDF15</tspan></text>
<text transform="translate(397.3 188) scale(0.82 1)" font-size="14.8" font-weight="bold" stroke="#000" stroke-width="0.3">G</text>
<line x1="490.4" y1="213.4" x2="490.4" y2="225" stroke="#333" stroke-width="0.9"/>
<line x1="485.9" y1="213.4" x2="494.9" y2="213.4" stroke="#333" stroke-width="0.9"/>
<line x1="485.9" y1="225" x2="494.9" y2="225" stroke="#333" stroke-width="0.9"/>
<line x1="504.4" y1="201.4" x2="504.4" y2="218.4" stroke="#333" stroke-width="0.9"/>
<line x1="499.9" y1="201.4" x2="508.9" y2="201.4" stroke="#333" stroke-width="0.9"/>
<line x1="499.9" y1="218.4" x2="508.9" y2="218.4" stroke="#333" stroke-width="0.9"/>
<line x1="518.3" y1="207.3" x2="518.3" y2="223.9" stroke="#333" stroke-width="0.9"/>
<line x1="513.8" y1="207.3" x2="522.8" y2="207.3" stroke="#333" stroke-width="0.9"/>
<line x1="513.8" y1="223.9" x2="522.8" y2="223.9" stroke="#333" stroke-width="0.9"/>
<line x1="532.3" y1="210.4" x2="532.3" y2="225.6" stroke="#333" stroke-width="0.9"/>
<line x1="527.8" y1="210.4" x2="536.8" y2="210.4" stroke="#333" stroke-width="0.9"/>
<line x1="527.8" y1="225.6" x2="536.8" y2="225.6" stroke="#333" stroke-width="0.9"/>
<line x1="577.7" y1="198.4" x2="577.7" y2="215.4" stroke="#333" stroke-width="0.9"/>
<line x1="573.2" y1="198.4" x2="582.2" y2="198.4" stroke="#333" stroke-width="0.9"/>
<line x1="573.2" y1="215.4" x2="582.2" y2="215.4" stroke="#333" stroke-width="0.9"/>
<line x1="602.1" y1="198.4" x2="602.1" y2="214.5" stroke="#333" stroke-width="0.9"/>
<line x1="597.6" y1="198.4" x2="606.6" y2="198.4" stroke="#333" stroke-width="0.9"/>
<line x1="597.6" y1="214.5" x2="606.6" y2="214.5" stroke="#333" stroke-width="0.9"/>
<line x1="623" y1="202.5" x2="623" y2="225" stroke="#333" stroke-width="0.9"/>
<line x1="618.5" y1="202.5" x2="627.5" y2="202.5" stroke="#333" stroke-width="0.9"/>
<line x1="618.5" y1="225" x2="627.5" y2="225" stroke="#333" stroke-width="0.9"/>
<line x1="633.5" y1="204" x2="633.5" y2="226" stroke="#333" stroke-width="0.9"/>
<line x1="629" y1="204" x2="638" y2="204" stroke="#333" stroke-width="0.9"/>
<line x1="629" y1="226" x2="638" y2="226" stroke="#333" stroke-width="0.9"/>
<line x1="518.3" y1="224.5" x2="518.3" y2="230.5" stroke="#333" stroke-width="0.9"/>
<line x1="513.8" y1="224.5" x2="522.8" y2="224.5" stroke="#333" stroke-width="0.9"/>
<line x1="513.8" y1="230.5" x2="522.8" y2="230.5" stroke="#333" stroke-width="0.9"/>
<line x1="532.3" y1="234.2" x2="532.3" y2="244" stroke="#333" stroke-width="0.9"/>
<line x1="527.8" y1="234.2" x2="536.8" y2="234.2" stroke="#333" stroke-width="0.9"/>
<line x1="527.8" y1="244" x2="536.8" y2="244" stroke="#333" stroke-width="0.9"/>
<line x1="549.8" y1="236.5" x2="549.8" y2="247.8" stroke="#333" stroke-width="0.9"/>
<line x1="545.2" y1="236.5" x2="554.2" y2="236.5" stroke="#333" stroke-width="0.9"/>
<line x1="545.2" y1="247.8" x2="554.2" y2="247.8" stroke="#333" stroke-width="0.9"/>
<line x1="577.7" y1="214" x2="577.7" y2="232" stroke="#333" stroke-width="0.9"/>
<line x1="573.2" y1="214" x2="582.2" y2="214" stroke="#333" stroke-width="0.9"/>
<line x1="573.2" y1="232" x2="582.2" y2="232" stroke="#333" stroke-width="0.9"/>
<line x1="602.1" y1="215" x2="602.1" y2="229" stroke="#333" stroke-width="0.9"/>
<line x1="597.6" y1="215" x2="606.6" y2="215" stroke="#333" stroke-width="0.9"/>
<line x1="597.6" y1="229" x2="606.6" y2="229" stroke="#333" stroke-width="0.9"/>
<line x1="623" y1="219" x2="623" y2="233" stroke="#333" stroke-width="0.9"/>
<line x1="618.5" y1="219" x2="627.5" y2="219" stroke="#333" stroke-width="0.9"/>
<line x1="618.5" y1="233" x2="627.5" y2="233" stroke="#333" stroke-width="0.9"/>
<line x1="633.5" y1="224" x2="633.5" y2="238" stroke="#333" stroke-width="0.9"/>
<line x1="629" y1="224" x2="638" y2="224" stroke="#333" stroke-width="0.9"/>
<line x1="629" y1="238" x2="638" y2="238" stroke="#333" stroke-width="0.9"/>
<line x1="490.4" y1="227" x2="490.4" y2="243.5" stroke="#333" stroke-width="0.9"/>
<line x1="485.9" y1="227" x2="494.9" y2="227" stroke="#333" stroke-width="0.9"/>
<line x1="485.9" y1="243.5" x2="494.9" y2="243.5" stroke="#333" stroke-width="0.9"/>
<line x1="504.4" y1="227" x2="504.4" y2="243.5" stroke="#333" stroke-width="0.9"/>
<line x1="499.9" y1="227" x2="508.9" y2="227" stroke="#333" stroke-width="0.9"/>
<line x1="499.9" y1="243.5" x2="508.9" y2="243.5" stroke="#333" stroke-width="0.9"/>
<line x1="518.3" y1="231" x2="518.3" y2="250.2" stroke="#333" stroke-width="0.9"/>
<line x1="513.8" y1="231" x2="522.8" y2="231" stroke="#333" stroke-width="0.9"/>
<line x1="513.8" y1="250.2" x2="522.8" y2="250.2" stroke="#333" stroke-width="0.9"/>
<line x1="532.3" y1="234" x2="532.3" y2="252.5" stroke="#333" stroke-width="0.9"/>
<line x1="527.8" y1="234" x2="536.8" y2="234" stroke="#333" stroke-width="0.9"/>
<line x1="527.8" y1="252.5" x2="536.8" y2="252.5" stroke="#333" stroke-width="0.9"/>
<line x1="549.8" y1="227.1" x2="549.8" y2="246" stroke="#333" stroke-width="0.9"/>
<line x1="545.2" y1="227.1" x2="554.2" y2="227.1" stroke="#333" stroke-width="0.9"/>
<line x1="545.2" y1="246" x2="554.2" y2="246" stroke="#333" stroke-width="0.9"/>
<line x1="577.7" y1="225.5" x2="577.7" y2="253.9" stroke="#333" stroke-width="0.9"/>
<line x1="573.2" y1="225.5" x2="582.2" y2="225.5" stroke="#333" stroke-width="0.9"/>
<line x1="573.2" y1="253.9" x2="582.2" y2="253.9" stroke="#333" stroke-width="0.9"/>
<line x1="602.1" y1="252.1" x2="602.1" y2="274" stroke="#333" stroke-width="0.9"/>
<line x1="597.6" y1="252.1" x2="606.6" y2="252.1" stroke="#333" stroke-width="0.9"/>
<line x1="597.6" y1="274" x2="606.6" y2="274" stroke="#333" stroke-width="0.9"/>
<line x1="623" y1="260.4" x2="623" y2="282.8" stroke="#333" stroke-width="0.9"/>
<line x1="618.5" y1="260.4" x2="627.5" y2="260.4" stroke="#333" stroke-width="0.9"/>
<line x1="618.5" y1="282.8" x2="627.5" y2="282.8" stroke="#333" stroke-width="0.9"/>
<line x1="633.5" y1="275.3" x2="633.5" y2="302.2" stroke="#333" stroke-width="0.9"/>
<line x1="629" y1="275.3" x2="638" y2="275.3" stroke="#333" stroke-width="0.9"/>
<line x1="629" y1="302.2" x2="638" y2="302.2" stroke="#333" stroke-width="0.9"/>
<path d="M427.6,217.7 L490.4,219.2 L504.4,209.9 L518.3,215.5 L532.3,217.8 L549.8,214.8 L577.7,206.9 L602.1,206.9 L623,213.9 L633.5,215.2" fill="none" stroke="#000" stroke-width="2.0" stroke-linejoin="round"/>
<path d="M427.6,217.7 L490.4,225.6 L504.4,226 L518.3,227.4 L532.3,239 L549.8,242.2 L577.7,220.9 L602.1,221.1 L623,226.3 L633.5,231.5" fill="none" stroke="#ee1c24" stroke-width="2.0" stroke-linejoin="round"/>
<path d="M427.6,217.7 L490.4,235 L504.4,235.3 L518.3,240.5 L532.3,243.1 L549.8,236.7 L577.7,239.7 L602.1,263 L623,271.5 L633.5,288.8" fill="none" stroke="#0f3cff" stroke-width="2.0" stroke-linejoin="round"/>
<circle cx="490.4" cy="219.2" r="3.75" fill="#000" stroke="#fff" stroke-width="0.5"/>
<circle cx="504.4" cy="209.9" r="3.75" fill="#000" stroke="#fff" stroke-width="0.5"/>
<circle cx="518.3" cy="215.5" r="3.75" fill="#000" stroke="#fff" stroke-width="0.5"/>
<circle cx="532.3" cy="217.8" r="3.75" fill="#000" stroke="#fff" stroke-width="0.5"/>
<circle cx="549.8" cy="214.8" r="3.75" fill="#000" stroke="#fff" stroke-width="0.5"/>
<circle cx="577.7" cy="206.9" r="3.75" fill="#000" stroke="#fff" stroke-width="0.5"/>
<circle cx="602.1" cy="206.9" r="3.75" fill="#000" stroke="#fff" stroke-width="0.5"/>
<circle cx="623" cy="213.9" r="3.75" fill="#000" stroke="#fff" stroke-width="0.5"/>
<circle cx="633.5" cy="215.2" r="3.75" fill="#000" stroke="#fff" stroke-width="0.5"/>
<circle cx="490.4" cy="225.6" r="3.75" fill="#ee1c24" stroke="#fff" stroke-width="0.5"/>
<circle cx="504.4" cy="226" r="3.75" fill="#ee1c24" stroke="#fff" stroke-width="0.5"/>
<circle cx="518.3" cy="227.4" r="3.75" fill="#ee1c24" stroke="#fff" stroke-width="0.5"/>
<circle cx="532.3" cy="239" r="3.75" fill="#ee1c24" stroke="#fff" stroke-width="0.5"/>
<circle cx="549.8" cy="242.2" r="3.75" fill="#ee1c24" stroke="#fff" stroke-width="0.5"/>
<circle cx="577.7" cy="220.9" r="3.75" fill="#ee1c24" stroke="#fff" stroke-width="0.5"/>
<circle cx="602.1" cy="221.1" r="3.75" fill="#ee1c24" stroke="#fff" stroke-width="0.5"/>
<circle cx="623" cy="226.3" r="3.75" fill="#ee1c24" stroke="#fff" stroke-width="0.5"/>
<circle cx="633.5" cy="231.5" r="3.75" fill="#ee1c24" stroke="#fff" stroke-width="0.5"/>
<circle cx="490.4" cy="235" r="3.75" fill="#0f3cff" stroke="#fff" stroke-width="0.5"/>
<circle cx="504.4" cy="235.3" r="3.75" fill="#0f3cff" stroke="#fff" stroke-width="0.5"/>
<circle cx="518.3" cy="240.5" r="3.75" fill="#0f3cff" stroke="#fff" stroke-width="0.5"/>
<circle cx="532.3" cy="243.1" r="3.75" fill="#0f3cff" stroke="#fff" stroke-width="0.5"/>
<circle cx="549.8" cy="236.7" r="3.75" fill="#0f3cff" stroke="#fff" stroke-width="0.5"/>
<circle cx="577.7" cy="239.7" r="3.75" fill="#0f3cff" stroke="#fff" stroke-width="0.5"/>
<circle cx="602.1" cy="263" r="3.75" fill="#0f3cff" stroke="#fff" stroke-width="0.5"/>
<circle cx="623" cy="271.5" r="3.75" fill="#0f3cff" stroke="#fff" stroke-width="0.5"/>
<circle cx="633.5" cy="288.8" r="3.75" fill="#0f3cff" stroke="#fff" stroke-width="0.5"/>
<circle cx="427.6" cy="217.7" r="3.75" fill="#0f3cff" stroke="#fff" stroke-width="0.5"/>
<line x1="428.1" y1="185" x2="428.1" y2="315.8" stroke="#000" stroke-width="1.4"/>
<line x1="425.3" y1="315.8" x2="430.9" y2="315.8" stroke="#000" stroke-width="1.3"/>
<line x1="425.3" y1="324.3" x2="430.9" y2="324.3" stroke="#000" stroke-width="1.3"/>
<line x1="428.1" y1="324.3" x2="428.1" y2="333.9" stroke="#000" stroke-width="1.4"/>
<line x1="427.4" y1="185" x2="431.3" y2="185" stroke="#000" stroke-width="1.3"/>
<text x="423" y="188" font-size="8.2" text-anchor="end" fill="#000">1.2</text>
<line x1="427.4" y1="217.7" x2="431.3" y2="217.7" stroke="#000" stroke-width="1.3"/>
<text x="423" y="220.7" font-size="8.2" text-anchor="end" fill="#000">1.0</text>
<line x1="427.4" y1="250.4" x2="431.3" y2="250.4" stroke="#000" stroke-width="1.3"/>
<text x="423" y="253.4" font-size="8.2" text-anchor="end" fill="#000">0.8</text>
<line x1="427.4" y1="283.1" x2="431.3" y2="283.1" stroke="#000" stroke-width="1.3"/>
<text x="423" y="286.1" font-size="8.2" text-anchor="end" fill="#000">0.6</text>
<text x="424" y="336.6" font-size="8.2" text-anchor="end" fill="#000">0</text>
<line x1="427.4" y1="333.9" x2="639.2" y2="333.9" stroke="#000" stroke-width="1.4"/>
<line x1="427.6" y1="330.6" x2="427.6" y2="333.9" stroke="#000" stroke-width="1.2"/>
<text x="425.7" y="343.6" font-size="8.2" text-anchor="middle" fill="#000">0</text>
<line x1="462.5" y1="330.6" x2="462.5" y2="333.9" stroke="#000" stroke-width="1.2"/>
<text x="460.6" y="343.6" font-size="8.2" text-anchor="middle" fill="#000">10</text>
<line x1="497.4" y1="330.6" x2="497.4" y2="333.9" stroke="#000" stroke-width="1.2"/>
<text x="495.5" y="343.6" font-size="8.2" text-anchor="middle" fill="#000">20</text>
<line x1="532.3" y1="330.6" x2="532.3" y2="333.9" stroke="#000" stroke-width="1.2"/>
<text x="530.4" y="343.6" font-size="8.2" text-anchor="middle" fill="#000">30</text>
<line x1="567.2" y1="330.6" x2="567.2" y2="333.9" stroke="#000" stroke-width="1.2"/>
<text x="565.3" y="343.6" font-size="8.2" text-anchor="middle" fill="#000">40</text>
<line x1="602.1" y1="330.6" x2="602.1" y2="333.9" stroke="#000" stroke-width="1.2"/>
<text x="600.2" y="343.6" font-size="8.2" text-anchor="middle" fill="#000">50</text>
<line x1="637" y1="330.6" x2="637" y2="333.9" stroke="#000" stroke-width="1.2"/>
<text x="635.1" y="343.6" font-size="8.2" text-anchor="middle" fill="#000">60</text>
<text x="529.9" y="350.6" font-size="8.0" text-anchor="middle" fill="#000">Days After Tumor Implantation</text>
<text x="403.5" y="260" font-size="8.2" text-anchor="middle" fill="#000" transform="rotate(-90 403.5 260)">Relative Fat Mass</text>
<circle cx="443" cy="282.8" r="3.4" fill="#000" stroke="none" stroke-width="0"/>
<text x="452" y="285.8" font-size="8.2">PBS<tspan font-size="5.2" dy="-3.2"></tspan></text>
<text x="490.5" y="285.8" font-size="8.2" text-anchor="start" font-style="italic" fill="#000">(p=n.s.)</text>
<circle cx="443" cy="295.7" r="3.4" fill="#0f3cff" stroke="none" stroke-width="0"/>
<text x="452" y="298.7" font-size="8.2">H1573<tspan font-size="5.2" dy="-3.2">&#916;GFP</tspan></text>
<text x="491.3" y="298.7" font-size="8.2" text-anchor="start" font-style="italic" fill="#000">(p=0.0065)</text>
<circle cx="443" cy="308.6" r="3.4" fill="#ee1c24" stroke="none" stroke-width="0"/>
<text x="452" y="311.6" font-size="8.2">H1573<tspan font-size="5.2" dy="-3.2">&#916;GDF15</tspan></text>
<text transform="translate(-0.7 366) scale(0.82 1)" font-size="14.8" font-weight="bold" stroke="#000" stroke-width="0.3">H</text>
<line x1="148.9" y1="393" x2="148.9" y2="405" stroke="#333" stroke-width="0.9"/>
<line x1="144.9" y1="393" x2="152.9" y2="393" stroke="#333" stroke-width="0.9"/>
<line x1="144.9" y1="405" x2="152.9" y2="405" stroke="#333" stroke-width="0.9"/>
<line x1="176.7" y1="386" x2="176.7" y2="397" stroke="#333" stroke-width="0.9"/>
<line x1="172.7" y1="386" x2="180.7" y2="386" stroke="#333" stroke-width="0.9"/>
<line x1="172.7" y1="397" x2="180.7" y2="397" stroke="#333" stroke-width="0.9"/>
<line x1="201.1" y1="370.5" x2="201.1" y2="384" stroke="#333" stroke-width="0.9"/>
<line x1="197.1" y1="370.5" x2="205.1" y2="370.5" stroke="#333" stroke-width="0.9"/>
<line x1="197.1" y1="384" x2="205.1" y2="384" stroke="#333" stroke-width="0.9"/>
<line x1="222" y1="370" x2="222" y2="382" stroke="#333" stroke-width="0.9"/>
<line x1="218" y1="370" x2="226" y2="370" stroke="#333" stroke-width="0.9"/>
<line x1="218" y1="382" x2="226" y2="382" stroke="#333" stroke-width="0.9"/>
<line x1="232.4" y1="370" x2="232.4" y2="382" stroke="#333" stroke-width="0.9"/>
<line x1="228.4" y1="370" x2="236.4" y2="370" stroke="#333" stroke-width="0.9"/>
<line x1="228.4" y1="382" x2="236.4" y2="382" stroke="#333" stroke-width="0.9"/>
<line x1="131.5" y1="396" x2="131.5" y2="404" stroke="#333" stroke-width="0.9"/>
<line x1="127.5" y1="396" x2="135.5" y2="396" stroke="#333" stroke-width="0.9"/>
<line x1="127.5" y1="404" x2="135.5" y2="404" stroke="#333" stroke-width="0.9"/>
<line x1="176.7" y1="386" x2="176.7" y2="398" stroke="#333" stroke-width="0.9"/>
<line x1="172.7" y1="386" x2="180.7" y2="386" stroke="#333" stroke-width="0.9"/>
<line x1="172.7" y1="398" x2="180.7" y2="398" stroke="#333" stroke-width="0.9"/>
<line x1="201.1" y1="378" x2="201.1" y2="394.8" stroke="#333" stroke-width="0.9"/>
<line x1="197.1" y1="378" x2="205.1" y2="378" stroke="#333" stroke-width="0.9"/>
<line x1="197.1" y1="394.8" x2="205.1" y2="394.8" stroke="#333" stroke-width="0.9"/>
<line x1="222" y1="374" x2="222" y2="391.7" stroke="#333" stroke-width="0.9"/>
<line x1="218" y1="374" x2="226" y2="374" stroke="#333" stroke-width="0.9"/>
<line x1="218" y1="391.7" x2="226" y2="391.7" stroke="#333" stroke-width="0.9"/>
<line x1="232.4" y1="371.5" x2="232.4" y2="389" stroke="#333" stroke-width="0.9"/>
<line x1="228.4" y1="371.5" x2="236.4" y2="371.5" stroke="#333" stroke-width="0.9"/>
<line x1="228.4" y1="389" x2="236.4" y2="389" stroke="#333" stroke-width="0.9"/>
<line x1="222" y1="441.5" x2="222" y2="456.3" stroke="#333" stroke-width="0.9"/>
<line x1="218" y1="441.5" x2="226" y2="441.5" stroke="#333" stroke-width="0.9"/>
<line x1="218" y1="456.3" x2="226" y2="456.3" stroke="#333" stroke-width="0.9"/>
<line x1="232.4" y1="453.2" x2="232.4" y2="472.3" stroke="#333" stroke-width="0.9"/>
<line x1="228.4" y1="453.2" x2="236.4" y2="453.2" stroke="#333" stroke-width="0.9"/>
<line x1="228.4" y1="472.3" x2="236.4" y2="472.3" stroke="#333" stroke-width="0.9"/>
<path d="M27.1,428.6 L89.7,406.6 L103.7,408.5 L117.6,405.6 L131.5,403.7 L148.9,402 L176.7,391.5 L201.1,377.5 L222,376.2 L232.4,376.2" fill="none" stroke="#000" stroke-width="2.0" stroke-linejoin="round"/>
<path d="M27.1,428.6 L89.7,418.8 L103.7,407.3 L117.6,402.4 L131.5,401.2 L148.9,398 L176.7,392 L201.1,386.3 L222,382.1 L232.4,380.6" fill="none" stroke="#ee1c24" stroke-width="2.0" stroke-linejoin="round"/>
<path d="M27.1,428.6 L89.7,423.9 L103.7,422 L117.6,425.6 L131.5,426.3 L148.9,422 L176.7,430 L201.1,433.2 L222,449 L232.4,463.3" fill="none" stroke="#0f3cff" stroke-width="2.0" stroke-linejoin="round"/>
<circle cx="89.7" cy="406.6" r="3.75" fill="#000" stroke="#fff" stroke-width="0.5"/>
<circle cx="103.7" cy="408.5" r="3.75" fill="#000" stroke="#fff" stroke-width="0.5"/>
<circle cx="117.6" cy="405.6" r="3.75" fill="#000" stroke="#fff" stroke-width="0.5"/>
<circle cx="131.5" cy="403.7" r="3.75" fill="#000" stroke="#fff" stroke-width="0.5"/>
<circle cx="148.9" cy="402" r="3.75" fill="#000" stroke="#fff" stroke-width="0.5"/>
<circle cx="176.7" cy="391.5" r="3.75" fill="#000" stroke="#fff" stroke-width="0.5"/>
<circle cx="201.1" cy="377.5" r="3.75" fill="#000" stroke="#fff" stroke-width="0.5"/>
<circle cx="222" cy="376.2" r="3.75" fill="#000" stroke="#fff" stroke-width="0.5"/>
<circle cx="232.4" cy="376.2" r="3.75" fill="#000" stroke="#fff" stroke-width="0.5"/>
<circle cx="89.7" cy="418.8" r="3.75" fill="#ee1c24" stroke="#fff" stroke-width="0.5"/>
<circle cx="103.7" cy="407.3" r="3.75" fill="#ee1c24" stroke="#fff" stroke-width="0.5"/>
<circle cx="117.6" cy="402.4" r="3.75" fill="#ee1c24" stroke="#fff" stroke-width="0.5"/>
<circle cx="131.5" cy="401.2" r="3.75" fill="#ee1c24" stroke="#fff" stroke-width="0.5"/>
<circle cx="148.9" cy="398" r="3.75" fill="#ee1c24" stroke="#fff" stroke-width="0.5"/>
<circle cx="176.7" cy="392" r="3.75" fill="#ee1c24" stroke="#fff" stroke-width="0.5"/>
<circle cx="201.1" cy="386.3" r="3.75" fill="#ee1c24" stroke="#fff" stroke-width="0.5"/>
<circle cx="222" cy="382.1" r="3.75" fill="#ee1c24" stroke="#fff" stroke-width="0.5"/>
<circle cx="232.4" cy="380.6" r="3.75" fill="#ee1c24" stroke="#fff" stroke-width="0.5"/>
<circle cx="89.7" cy="423.9" r="3.75" fill="#0f3cff" stroke="#fff" stroke-width="0.5"/>
<circle cx="103.7" cy="422" r="3.75" fill="#0f3cff" stroke="#fff" stroke-width="0.5"/>
<circle cx="117.6" cy="425.6" r="3.75" fill="#0f3cff" stroke="#fff" stroke-width="0.5"/>
<circle cx="131.5" cy="426.3" r="3.75" fill="#0f3cff" stroke="#fff" stroke-width="0.5"/>
<circle cx="148.9" cy="422" r="3.75" fill="#0f3cff" stroke="#fff" stroke-width="0.5"/>
<circle cx="176.7" cy="430" r="3.75" fill="#0f3cff" stroke="#fff" stroke-width="0.5"/>
<circle cx="201.1" cy="433.2" r="3.75" fill="#0f3cff" stroke="#fff" stroke-width="0.5"/>
<circle cx="222" cy="449" r="3.75" fill="#0f3cff" stroke="#fff" stroke-width="0.5"/>
<circle cx="232.4" cy="463.3" r="3.75" fill="#0f3cff" stroke="#fff" stroke-width="0.5"/>
<circle cx="27.1" cy="428.6" r="3.75" fill="#0f3cff" stroke="#fff" stroke-width="0.5"/>
<line x1="27.1" y1="362.7" x2="27.1" y2="481.6" stroke="#000" stroke-width="1.4"/>
<line x1="24.3" y1="481.6" x2="29.9" y2="481.6" stroke="#000" stroke-width="1.3"/>
<line x1="24.3" y1="489.3" x2="29.9" y2="489.3" stroke="#000" stroke-width="1.3"/>
<line x1="27.1" y1="489.3" x2="27.1" y2="501" stroke="#000" stroke-width="1.4"/>
<line x1="26.4" y1="362.8" x2="30.3" y2="362.8" stroke="#000" stroke-width="1.3"/>
<text x="22.1" y="365.8" font-size="8.2" text-anchor="end" fill="#000">1.2</text>
<line x1="26.4" y1="395.7" x2="30.3" y2="395.7" stroke="#000" stroke-width="1.3"/>
<text x="22.1" y="398.7" font-size="8.2" text-anchor="end" fill="#000">1.1</text>
<line x1="26.4" y1="428.6" x2="30.3" y2="428.6" stroke="#000" stroke-width="1.3"/>
<text x="22.1" y="431.6" font-size="8.2" text-anchor="end" fill="#000">1.0</text>
<line x1="26.4" y1="461.5" x2="30.3" y2="461.5" stroke="#000" stroke-width="1.3"/>
<text x="22.1" y="464.5" font-size="8.2" text-anchor="end" fill="#000">0.9</text>
<text x="23" y="503.6" font-size="8.2" text-anchor="end" fill="#000">0</text>
<line x1="26.4" y1="501" x2="240.7" y2="501" stroke="#000" stroke-width="1.4"/>
<line x1="27.1" y1="497.7" x2="27.1" y2="501" stroke="#000" stroke-width="1.2"/>
<text x="25.4" y="510.7" font-size="8.2" text-anchor="middle" fill="#000">0</text>
<line x1="61.9" y1="497.7" x2="61.9" y2="501" stroke="#000" stroke-width="1.2"/>
<text x="60.2" y="510.7" font-size="8.2" text-anchor="middle" fill="#000">10</text>
<line x1="96.7" y1="497.7" x2="96.7" y2="501" stroke="#000" stroke-width="1.2"/>
<text x="95" y="510.7" font-size="8.2" text-anchor="middle" fill="#000">20</text>
<line x1="131.5" y1="497.7" x2="131.5" y2="501" stroke="#000" stroke-width="1.2"/>
<text x="129.8" y="510.7" font-size="8.2" text-anchor="middle" fill="#000">30</text>
<line x1="166.3" y1="497.7" x2="166.3" y2="501" stroke="#000" stroke-width="1.2"/>
<text x="164.6" y="510.7" font-size="8.2" text-anchor="middle" fill="#000">40</text>
<line x1="201.1" y1="497.7" x2="201.1" y2="501" stroke="#000" stroke-width="1.2"/>
<text x="199.4" y="510.7" font-size="8.2" text-anchor="middle" fill="#000">50</text>
<line x1="235.9" y1="497.7" x2="235.9" y2="501" stroke="#000" stroke-width="1.2"/>
<text x="234.2" y="510.7" font-size="8.2" text-anchor="middle" fill="#000">60</text>
<text x="130" y="523" font-size="8.0" text-anchor="middle" fill="#000">Days After Tumor Implantation</text>
<text x="8.6" y="444.6" font-size="8.2" text-anchor="middle" fill="#000" transform="rotate(-90 8.6 444.6)">Relative Lean Mass</text>
<circle cx="39.3" cy="447.2" r="3.4" fill="#000" stroke="none" stroke-width="0"/>
<text x="48.6" y="450.2" font-size="8.2">PBS<tspan font-size="5.2" dy="-3.2"></tspan></text>
<text x="93" y="450.2" font-size="8.2" text-anchor="start" font-style="italic" fill="#000">(p=n.s.)</text>
<circle cx="39.3" cy="460.5" r="3.4" fill="#0f3cff" stroke="none" stroke-width="0"/>
<text x="48.6" y="463.5" font-size="8.2">H1573<tspan font-size="5.2" dy="-3.2">&#916;GFP</tspan></text>
<text x="93" y="463.5" font-size="8.2" text-anchor="start" font-style="italic" fill="#000">(p&lt;0.0001)</text>
<circle cx="39.3" cy="473.8" r="3.4" fill="#ee1c24" stroke="none" stroke-width="0"/>
<text x="48.6" y="476.8" font-size="8.2">H1573<tspan font-size="5.2" dy="-3.2">&#916;GDF15</tspan></text>
<text transform="translate(253.3 366) scale(0.82 1)" font-size="14.8" font-weight="bold" stroke="#000" stroke-width="0.3">I</text>
<rect x="280.5" y="420.2" width="17.3" height="87.3" fill="#a6a7ab" stroke="#000" stroke-width="1.55"/>
<rect x="307" y="441.6" width="17.3" height="65.9" fill="#a6a7ab" stroke="#000" stroke-width="1.55"/>
<rect x="333.8" y="410.6" width="17.3" height="96.9" fill="#a6a7ab" stroke="#000" stroke-width="1.55"/>
<line x1="289.1" y1="416.7" x2="289.1" y2="423.7" stroke="#333" stroke-width="0.9"/>
<line x1="286.1" y1="416.7" x2="292.1" y2="416.7" stroke="#333" stroke-width="0.9"/>
<line x1="286.1" y1="423.7" x2="292.1" y2="423.7" stroke="#333" stroke-width="0.9"/>
<line x1="315.6" y1="433.5" x2="315.6" y2="446" stroke="#333" stroke-width="0.9"/>
<line x1="312.6" y1="433.5" x2="318.6" y2="433.5" stroke="#333" stroke-width="0.9"/>
<line x1="312.6" y1="446" x2="318.6" y2="446" stroke="#333" stroke-width="0.9"/>
<line x1="342.4" y1="407" x2="342.4" y2="414" stroke="#333" stroke-width="0.9"/>
<line x1="339.4" y1="407" x2="345.4" y2="407" stroke="#333" stroke-width="0.9"/>
<line x1="339.4" y1="414" x2="345.4" y2="414" stroke="#333" stroke-width="0.9"/>
<circle cx="284.9" cy="414.3" r="3.85" fill="#000" stroke="#fff" stroke-width="0.5"/>
<circle cx="287.8" cy="413.5" r="3.85" fill="#000" stroke="#fff" stroke-width="0.5"/>
<circle cx="292.3" cy="413.5" r="3.85" fill="#000" stroke="#fff" stroke-width="0.5"/>
<circle cx="283.2" cy="423.6" r="3.85" fill="#000" stroke="#fff" stroke-width="0.5"/>
<circle cx="284.9" cy="427.5" r="3.85" fill="#000" stroke="#fff" stroke-width="0.5"/>
<circle cx="295.1" cy="425.6" r="3.85" fill="#000" stroke="#fff" stroke-width="0.5"/>
<circle cx="311" cy="426.3" r="3.85" fill="#0f3cff" stroke="#fff" stroke-width="0.5"/>
<circle cx="314.1" cy="425.6" r="3.85" fill="#0f3cff" stroke="#fff" stroke-width="0.5"/>
<circle cx="317.6" cy="424.2" r="3.85" fill="#0f3cff" stroke="#fff" stroke-width="0.5"/>
<circle cx="320.5" cy="428.3" r="3.85" fill="#0f3cff" stroke="#fff" stroke-width="0.5"/>
<circle cx="310.6" cy="435.3" r="3.85" fill="#0f3cff" stroke="#fff" stroke-width="0.5"/>
<circle cx="310" cy="439.4" r="3.85" fill="#0f3cff" stroke="#fff" stroke-width="0.5"/>
<circle cx="321.5" cy="438.8" r="3.85" fill="#0f3cff" stroke="#fff" stroke-width="0.5"/>
<circle cx="313.5" cy="462.5" r="3.85" fill="#0f3cff" stroke="#fff" stroke-width="0.5"/>
<circle cx="317" cy="461.6" r="3.85" fill="#0f3cff" stroke="#fff" stroke-width="0.5"/>
<circle cx="337.5" cy="404.6" r="3.85" fill="#ee1c24" stroke="#fff" stroke-width="0.5"/>
<circle cx="337.5" cy="409.6" r="3.85" fill="#ee1c24" stroke="#fff" stroke-width="0.5"/>
<circle cx="345.7" cy="406.1" r="3.85" fill="#ee1c24" stroke="#fff" stroke-width="0.5"/>
<circle cx="348.4" cy="405.5" r="3.85" fill="#ee1c24" stroke="#fff" stroke-width="0.5"/>
<circle cx="347.4" cy="408.4" r="3.85" fill="#ee1c24" stroke="#fff" stroke-width="0.5"/>
<circle cx="339.8" cy="420.5" r="3.85" fill="#ee1c24" stroke="#fff" stroke-width="0.5"/>
<circle cx="344.5" cy="418.1" r="3.85" fill="#ee1c24" stroke="#fff" stroke-width="0.5"/>
<line x1="276.8" y1="376.6" x2="276.8" y2="507.5" stroke="#000" stroke-width="1.4"/>
<line x1="276.1" y1="376.6" x2="279.8" y2="376.6" stroke="#000" stroke-width="1.3"/>
<text x="274.3" y="379.4" font-size="8.2" text-anchor="end" fill="#000">1.5</text>
<line x1="276.1" y1="420.2" x2="279.8" y2="420.2" stroke="#000" stroke-width="1.3"/>
<text x="274.3" y="423.1" font-size="8.2" text-anchor="end" fill="#000">1.0</text>
<line x1="276.1" y1="463.9" x2="279.8" y2="463.9" stroke="#000" stroke-width="1.3"/>
<text x="274.3" y="466.7" font-size="8.2" text-anchor="end" fill="#000">0.5</text>
<line x1="276.1" y1="507.5" x2="279.8" y2="507.5" stroke="#000" stroke-width="1.3"/>
<text x="274.3" y="507" font-size="8.2" text-anchor="end" fill="#000">0</text>
<line x1="276.8" y1="507.8" x2="356" y2="507.8" stroke="#000" stroke-width="1.4"/>
<line x1="276.8" y1="507.8" x2="276.8" y2="520.6" stroke="#000" stroke-width="1.4"/>
<line x1="356" y1="507.8" x2="356" y2="520.6" stroke="#000" stroke-width="1.4"/>
<line x1="276.1" y1="520.6" x2="356.7" y2="520.6" stroke="#000" stroke-width="1.4"/>
<line x1="303" y1="507.8" x2="303" y2="520.6" stroke="#000" stroke-width="1.1"/>
<line x1="328.9" y1="507.8" x2="328.9" y2="520.6" stroke="#000" stroke-width="1.1"/>
<line x1="285.9" y1="515.3" x2="293.9" y2="515.3" stroke="#000" stroke-width="1.5"/>
<text x="316.8" y="518" font-size="6.6" text-anchor="middle" fill="#000">&#916;GFP</text>
<text x="343.2" y="518" font-size="6.6" text-anchor="middle" fill="#000">&#916;GDF15</text>
<text x="273.6" y="518.4" font-size="7.6" text-anchor="end" fill="#000">H1573</text>
<text x="257.1" y="445.8" font-size="8.2" text-anchor="middle" fill="#000" transform="rotate(-90 257.1 445.8)">Grip Strength (N)</text>
<text transform="translate(370.6 366) scale(0.82 1)" font-size="14.8" font-weight="bold" stroke="#000" stroke-width="0.3">J</text>
<rect x="399.3" y="411.8" width="15.8" height="95.2" fill="#a6a7ab" stroke="#000" stroke-width="1.55"/>
<rect x="425.7" y="424.3" width="15.8" height="82.7" fill="#a6a7ab" stroke="#000" stroke-width="1.55"/>
<rect x="452.1" y="411.8" width="15.8" height="95.2" fill="#a6a7ab" stroke="#000" stroke-width="1.55"/>
<rect x="478.8" y="413.4" width="15.8" height="93.6" fill="#a6a7ab" stroke="#000" stroke-width="1.55"/>
<rect x="505.1" y="437.3" width="15.8" height="69.7" fill="#a6a7ab" stroke="#000" stroke-width="1.55"/>
<rect x="532.1" y="412.9" width="15.8" height="94.1" fill="#a6a7ab" stroke="#000" stroke-width="1.55"/>
<line x1="407.2" y1="408.5" x2="407.2" y2="415" stroke="#333" stroke-width="0.9"/>
<line x1="403.7" y1="408.5" x2="410.7" y2="408.5" stroke="#333" stroke-width="0.9"/>
<line x1="403.7" y1="415" x2="410.7" y2="415" stroke="#333" stroke-width="0.9"/>
<line x1="433.6" y1="417.5" x2="433.6" y2="431.1" stroke="#333" stroke-width="0.9"/>
<line x1="430.1" y1="417.5" x2="437.1" y2="417.5" stroke="#333" stroke-width="0.9"/>
<line x1="430.1" y1="431.1" x2="437.1" y2="431.1" stroke="#333" stroke-width="0.9"/>
<line x1="460" y1="406.5" x2="460" y2="414" stroke="#333" stroke-width="0.9"/>
<line x1="456.5" y1="406.5" x2="463.5" y2="406.5" stroke="#333" stroke-width="0.9"/>
<line x1="456.5" y1="414" x2="463.5" y2="414" stroke="#333" stroke-width="0.9"/>
<line x1="486.7" y1="408" x2="486.7" y2="418" stroke="#333" stroke-width="0.9"/>
<line x1="483.2" y1="408" x2="490.2" y2="408" stroke="#333" stroke-width="0.9"/>
<line x1="483.2" y1="418" x2="490.2" y2="418" stroke="#333" stroke-width="0.9"/>
<line x1="513" y1="433.5" x2="513" y2="441" stroke="#333" stroke-width="0.9"/>
<line x1="509.5" y1="433.5" x2="516.5" y2="433.5" stroke="#333" stroke-width="0.9"/>
<line x1="509.5" y1="441" x2="516.5" y2="441" stroke="#333" stroke-width="0.9"/>
<line x1="540" y1="408.5" x2="540" y2="419.2" stroke="#333" stroke-width="0.9"/>
<line x1="536.5" y1="408.5" x2="543.5" y2="408.5" stroke="#333" stroke-width="0.9"/>
<line x1="536.5" y1="419.2" x2="543.5" y2="419.2" stroke="#333" stroke-width="0.9"/>
<circle cx="405.5" cy="398.4" r="3.85" fill="#000" stroke="#fff" stroke-width="0.5"/>
<circle cx="408.4" cy="398.4" r="3.85" fill="#000" stroke="#fff" stroke-width="0.5"/>
<circle cx="401.1" cy="407.3" r="3.85" fill="#000" stroke="#fff" stroke-width="0.5"/>
<circle cx="401.4" cy="417.8" r="3.85" fill="#000" stroke="#fff" stroke-width="0.5"/>
<circle cx="402" cy="422.9" r="3.85" fill="#000" stroke="#fff" stroke-width="0.5"/>
<circle cx="412.3" cy="419.8" r="3.85" fill="#000" stroke="#fff" stroke-width="0.5"/>
<circle cx="411.9" cy="418" r="3.85" fill="#000" stroke="#fff" stroke-width="0.5"/>
<circle cx="431.8" cy="398.8" r="3.85" fill="#0f3cff" stroke="#fff" stroke-width="0.5"/>
<circle cx="434.7" cy="396.8" r="3.85" fill="#0f3cff" stroke="#fff" stroke-width="0.5"/>
<circle cx="433.3" cy="413.9" r="3.85" fill="#0f3cff" stroke="#fff" stroke-width="0.5"/>
<circle cx="425.6" cy="423.9" r="3.85" fill="#0f3cff" stroke="#fff" stroke-width="0.5"/>
<circle cx="431.8" cy="437.3" r="3.85" fill="#0f3cff" stroke="#fff" stroke-width="0.5"/>
<circle cx="435.9" cy="441.4" r="3.85" fill="#0f3cff" stroke="#fff" stroke-width="0.5"/>
<circle cx="438.8" cy="439.1" r="3.85" fill="#0f3cff" stroke="#fff" stroke-width="0.5"/>
<circle cx="428.6" cy="443.7" r="3.85" fill="#0f3cff" stroke="#fff" stroke-width="0.5"/>
<circle cx="458.3" cy="397.6" r="3.85" fill="#ee1c24" stroke="#fff" stroke-width="0.5"/>
<circle cx="454.6" cy="406.4" r="3.85" fill="#ee1c24" stroke="#fff" stroke-width="0.5"/>
<circle cx="452.2" cy="409.3" r="3.85" fill="#ee1c24" stroke="#fff" stroke-width="0.5"/>
<circle cx="455.5" cy="413.9" r="3.85" fill="#ee1c24" stroke="#fff" stroke-width="0.5"/>
<circle cx="465.1" cy="409.3" r="3.85" fill="#ee1c24" stroke="#fff" stroke-width="0.5"/>
<circle cx="467.4" cy="410.4" r="3.85" fill="#ee1c24" stroke="#fff" stroke-width="0.5"/>
<circle cx="459.8" cy="423.9" r="3.85" fill="#ee1c24" stroke="#fff" stroke-width="0.5"/>
<circle cx="486.4" cy="397.6" r="3.85" fill="#000" stroke="#fff" stroke-width="0.5"/>
<circle cx="481.4" cy="407.5" r="3.85" fill="#000" stroke="#fff" stroke-width="0.5"/>
<circle cx="480.6" cy="412.2" r="3.85" fill="#000" stroke="#fff" stroke-width="0.5"/>
<circle cx="491.9" cy="407.5" r="3.85" fill="#000" stroke="#fff" stroke-width="0.5"/>
<circle cx="490.8" cy="415.9" r="3.85" fill="#000" stroke="#fff" stroke-width="0.5"/>
<circle cx="486.4" cy="436.1" r="3.85" fill="#000" stroke="#fff" stroke-width="0.5"/>
<circle cx="514.7" cy="423.3" r="3.85" fill="#0f3cff" stroke="#fff" stroke-width="0.5"/>
<circle cx="511.4" cy="426.2" r="3.85" fill="#0f3cff" stroke="#fff" stroke-width="0.5"/>
<circle cx="508.3" cy="434.4" r="3.85" fill="#0f3cff" stroke="#fff" stroke-width="0.5"/>
<circle cx="519.4" cy="434.4" r="3.85" fill="#0f3cff" stroke="#fff" stroke-width="0.5"/>
<circle cx="508.9" cy="439.6" r="3.85" fill="#0f3cff" stroke="#fff" stroke-width="0.5"/>
<circle cx="517.6" cy="442" r="3.85" fill="#0f3cff" stroke="#fff" stroke-width="0.5"/>
<circle cx="508.6" cy="447" r="3.85" fill="#0f3cff" stroke="#fff" stroke-width="0.5"/>
<circle cx="514.7" cy="444.9" r="3.85" fill="#0f3cff" stroke="#fff" stroke-width="0.5"/>
<circle cx="534.8" cy="396.8" r="3.85" fill="#ee1c24" stroke="#fff" stroke-width="0.5"/>
<circle cx="544.5" cy="401.7" r="3.85" fill="#ee1c24" stroke="#fff" stroke-width="0.5"/>
<circle cx="545.1" cy="408.1" r="3.85" fill="#ee1c24" stroke="#fff" stroke-width="0.5"/>
<circle cx="534" cy="408.5" r="3.85" fill="#ee1c24" stroke="#fff" stroke-width="0.5"/>
<circle cx="534" cy="416.6" r="3.85" fill="#ee1c24" stroke="#fff" stroke-width="0.5"/>
<circle cx="541.4" cy="431.5" r="3.85" fill="#ee1c24" stroke="#fff" stroke-width="0.5"/>
<circle cx="538.1" cy="434.2" r="3.85" fill="#ee1c24" stroke="#fff" stroke-width="0.5"/>
<line x1="395" y1="376.8" x2="395" y2="507" stroke="#000" stroke-width="1.4"/>
<line x1="394.3" y1="377" x2="398" y2="377" stroke="#000" stroke-width="1.3"/>
<text x="392.1" y="380" font-size="8.6" text-anchor="end" fill="#000">250</text>
<line x1="394.3" y1="403" x2="398" y2="403" stroke="#000" stroke-width="1.3"/>
<text x="392.1" y="406" font-size="8.6" text-anchor="end" fill="#000">200</text>
<line x1="394.3" y1="429" x2="398" y2="429" stroke="#000" stroke-width="1.3"/>
<text x="392.1" y="432" font-size="8.6" text-anchor="end" fill="#000">150</text>
<line x1="394.3" y1="455" x2="398" y2="455" stroke="#000" stroke-width="1.3"/>
<text x="392.1" y="458" font-size="8.6" text-anchor="end" fill="#000">100</text>
<line x1="394.3" y1="481" x2="398" y2="481" stroke="#000" stroke-width="1.3"/>
<text x="392.1" y="484" font-size="8.6" text-anchor="end" fill="#000">50</text>
<line x1="394.3" y1="507" x2="398" y2="507" stroke="#000" stroke-width="1.3"/>
<text x="392.1" y="507" font-size="8.6" text-anchor="end" fill="#000">0</text>
<line x1="474.2" y1="376.8" x2="474.2" y2="507" stroke="#000" stroke-width="1.4"/>
<line x1="473.5" y1="377" x2="477.2" y2="377" stroke="#000" stroke-width="1.3"/>
<line x1="473.5" y1="403" x2="477.2" y2="403" stroke="#000" stroke-width="1.3"/>
<line x1="473.5" y1="429" x2="477.2" y2="429" stroke="#000" stroke-width="1.3"/>
<line x1="473.5" y1="455" x2="477.2" y2="455" stroke="#000" stroke-width="1.3"/>
<line x1="473.5" y1="481" x2="477.2" y2="481" stroke="#000" stroke-width="1.3"/>
<line x1="473.5" y1="507" x2="477.2" y2="507" stroke="#000" stroke-width="1.3"/>
<line x1="395" y1="507.6" x2="553.4" y2="507.6" stroke="#000" stroke-width="1.4"/>
<line x1="395" y1="507.6" x2="395" y2="519.9" stroke="#000" stroke-width="1.4"/>
<line x1="553.4" y1="507.6" x2="553.4" y2="519.9" stroke="#000" stroke-width="1.4"/>
<line x1="394.3" y1="519.9" x2="554.1" y2="519.9" stroke="#000" stroke-width="1.4"/>
<line x1="420.7" y1="507.6" x2="420.7" y2="519.9" stroke="#000" stroke-width="1.1"/>
<line x1="446.9" y1="507.6" x2="446.9" y2="519.9" stroke="#000" stroke-width="1.1"/>
<line x1="474.2" y1="507.6" x2="474.2" y2="519.9" stroke="#000" stroke-width="1.1"/>
<line x1="500.2" y1="507.6" x2="500.2" y2="519.9" stroke="#000" stroke-width="1.1"/>
<line x1="526.6" y1="507.6" x2="526.6" y2="519.9" stroke="#000" stroke-width="1.1"/>
<line x1="403.9" y1="514.8" x2="411.9" y2="514.8" stroke="#000" stroke-width="1.5"/>
<text x="434.6" y="517.5" font-size="6.6" text-anchor="middle" fill="#000">&#916;GFP</text>
<text x="461.3" y="517.5" font-size="6.6" text-anchor="middle" fill="#000">&#916;GDF15</text>
<line x1="483.2" y1="514.8" x2="491.2" y2="514.8" stroke="#000" stroke-width="1.5"/>
<text x="514.2" y="517.5" font-size="6.6" text-anchor="middle" fill="#000">&#916;GFP</text>
<text x="540.8" y="517.5" font-size="6.6" text-anchor="middle" fill="#000">&#916;GDF15</text>
<text x="391.3" y="517.9" font-size="7.6" text-anchor="end" fill="#000">H1573</text>
<text x="436.2" y="368.8" font-size="8.2" text-anchor="middle" font-style="italic" fill="#000" text-decoration="underline">Gastrocnemius</text>
<text x="511.6" y="369.3" font-size="8.2" text-anchor="middle" font-style="italic" fill="#000" text-decoration="underline">Quadriceps</text>
<text x="374.8" y="443.8" font-size="8.2" text-anchor="middle" fill="#000" transform="rotate(-90 374.8 443.8)">Muscle Weight (mg)</text>
<text transform="translate(567.6 366) scale(0.82 1)" font-size="14.8" font-weight="bold" stroke="#000" stroke-width="0.3">K</text>
<rect x="608.6" y="400.8" width="16.9" height="106.7" fill="#a6a7ab" stroke="#000" stroke-width="1.55"/>
<rect x="635.3" y="442.2" width="16.6" height="65.3" fill="#a6a7ab" stroke="#000" stroke-width="1.55"/>
<rect x="661.5" y="414.8" width="16.7" height="92.7" fill="#a6a7ab" stroke="#000" stroke-width="1.55"/>
<line x1="617.1" y1="396" x2="617.1" y2="404" stroke="#333" stroke-width="0.9"/>
<line x1="613.6" y1="396" x2="620.6" y2="396" stroke="#333" stroke-width="0.9"/>
<line x1="613.6" y1="404" x2="620.6" y2="404" stroke="#333" stroke-width="0.9"/>
<line x1="643.6" y1="434.3" x2="643.6" y2="448" stroke="#333" stroke-width="0.9"/>
<line x1="640.1" y1="434.3" x2="647.1" y2="434.3" stroke="#333" stroke-width="0.9"/>
<line x1="640.1" y1="448" x2="647.1" y2="448" stroke="#333" stroke-width="0.9"/>
<line x1="669.9" y1="409.5" x2="669.9" y2="420" stroke="#333" stroke-width="0.9"/>
<line x1="666.4" y1="409.5" x2="673.4" y2="409.5" stroke="#333" stroke-width="0.9"/>
<line x1="666.4" y1="420" x2="673.4" y2="420" stroke="#333" stroke-width="0.9"/>
<circle cx="616.6" cy="392.6" r="3.85" fill="#000" stroke="#fff" stroke-width="0.5"/>
<circle cx="618.6" cy="392.2" r="3.85" fill="#000" stroke="#fff" stroke-width="0.5"/>
<circle cx="612.2" cy="400.8" r="3.85" fill="#000" stroke="#fff" stroke-width="0.5"/>
<circle cx="611.2" cy="406" r="3.85" fill="#000" stroke="#fff" stroke-width="0.5"/>
<circle cx="619.2" cy="404.3" r="3.85" fill="#000" stroke="#fff" stroke-width="0.5"/>
<circle cx="622.7" cy="403.7" r="3.85" fill="#000" stroke="#fff" stroke-width="0.5"/>
<circle cx="641.1" cy="417.9" r="3.85" fill="#0f3cff" stroke="#fff" stroke-width="0.5"/>
<circle cx="645.1" cy="417.9" r="3.85" fill="#0f3cff" stroke="#fff" stroke-width="0.5"/>
<circle cx="637.9" cy="439" r="3.85" fill="#0f3cff" stroke="#fff" stroke-width="0.5"/>
<circle cx="649" cy="439" r="3.85" fill="#0f3cff" stroke="#fff" stroke-width="0.5"/>
<circle cx="639" cy="446" r="3.85" fill="#0f3cff" stroke="#fff" stroke-width="0.5"/>
<circle cx="648.1" cy="446.7" r="3.85" fill="#0f3cff" stroke="#fff" stroke-width="0.5"/>
<circle cx="639" cy="453.9" r="3.85" fill="#0f3cff" stroke="#fff" stroke-width="0.5"/>
<circle cx="647.4" cy="451.6" r="3.85" fill="#0f3cff" stroke="#fff" stroke-width="0.5"/>
<circle cx="669.8" cy="392.6" r="3.85" fill="#ee1c24" stroke="#fff" stroke-width="0.5"/>
<circle cx="664.5" cy="409.5" r="3.85" fill="#ee1c24" stroke="#fff" stroke-width="0.5"/>
<circle cx="664.2" cy="411.9" r="3.85" fill="#ee1c24" stroke="#fff" stroke-width="0.5"/>
<circle cx="675" cy="410.5" r="3.85" fill="#ee1c24" stroke="#fff" stroke-width="0.5"/>
<circle cx="664.2" cy="420.6" r="3.85" fill="#ee1c24" stroke="#fff" stroke-width="0.5"/>
<circle cx="674.3" cy="423" r="3.85" fill="#ee1c24" stroke="#fff" stroke-width="0.5"/>
<circle cx="669.8" cy="431.7" r="3.85" fill="#ee1c24" stroke="#fff" stroke-width="0.5"/>
<line x1="605.1" y1="377.3" x2="605.1" y2="507.5" stroke="#000" stroke-width="1.4"/>
<line x1="604.4" y1="377.3" x2="608.1" y2="377.3" stroke="#000" stroke-width="1.3"/>
<text x="599.6" y="380" font-size="7.7" text-anchor="end" fill="#000">2000</text>
<line x1="604.4" y1="409.9" x2="608.1" y2="409.9" stroke="#000" stroke-width="1.3"/>
<text x="599.6" y="412.5" font-size="7.7" text-anchor="end" fill="#000">1500</text>
<line x1="604.4" y1="442.4" x2="608.1" y2="442.4" stroke="#000" stroke-width="1.3"/>
<text x="599.6" y="445.1" font-size="7.7" text-anchor="end" fill="#000">1000</text>
<line x1="604.4" y1="474.9" x2="608.1" y2="474.9" stroke="#000" stroke-width="1.3"/>
<text x="599.6" y="477.6" font-size="7.7" text-anchor="end" fill="#000">500</text>
<line x1="604.4" y1="507.5" x2="608.1" y2="507.5" stroke="#000" stroke-width="1.3"/>
<text x="601.6" y="506.5" font-size="7.7" text-anchor="end" fill="#000">0</text>
<line x1="604.9" y1="507.3" x2="684" y2="507.3" stroke="#000" stroke-width="1.4"/>
<line x1="604.9" y1="507.3" x2="604.9" y2="520.4" stroke="#000" stroke-width="1.4"/>
<line x1="684" y1="507.3" x2="684" y2="520.4" stroke="#000" stroke-width="1.4"/>
<line x1="604.2" y1="520.4" x2="684.7" y2="520.4" stroke="#000" stroke-width="1.4"/>
<line x1="631.1" y1="507.3" x2="631.1" y2="520.4" stroke="#000" stroke-width="1.1"/>
<line x1="657" y1="507.3" x2="657" y2="520.4" stroke="#000" stroke-width="1.1"/>
<line x1="614" y1="513" x2="622" y2="513" stroke="#000" stroke-width="1.5"/>
<text x="644.8" y="515.7" font-size="6.6" text-anchor="middle" fill="#000">&#916;GFP</text>
<text x="671.3" y="515.7" font-size="6.6" text-anchor="middle" fill="#000">&#916;GDF15</text>
<text x="601.6" y="516.1" font-size="7.6" text-anchor="end" fill="#000">H1573</text>
<text x="569.4" y="443.8" font-size="8.2" text-anchor="middle" fill="#000" transform="rotate(-90 569.4 443.8)">Myocyte</text>
<text x="578.9" y="438.6" font-size="8.2" text-anchor="middle" fill="#000" transform="rotate(-90 578.9 438.6)">Cross-sectional Area (&#956;m<tspan font-size="5" dy="-3">2</tspan><tspan dy="3">)</tspan></text>
<text transform="translate(282.6 547.6) scale(0.82 1)" font-size="14.8" font-weight="bold" stroke="#000" stroke-width="0.3">M</text>
<rect x="304.9" y="598.7" width="14.8" height="83.7" fill="#a6a7ab" stroke="#000" stroke-width="1.55"/>
<rect x="331.4" y="650" width="14.8" height="32.4" fill="#a6a7ab" stroke="#000" stroke-width="1.55"/>
<rect x="358.1" y="608" width="14.8" height="74.4" fill="#a6a7ab" stroke="#000" stroke-width="1.55"/>
<rect x="385.1" y="621.5" width="15.6" height="60.9" fill="#a6a7ab" stroke="#000" stroke-width="1.55"/>
<rect x="412.1" y="663.4" width="15.6" height="19" fill="#a6a7ab" stroke="#000" stroke-width="1.55"/>
<rect x="438.1" y="637.3" width="15.6" height="45.1" fill="#a6a7ab" stroke="#000" stroke-width="1.55"/>
<rect x="465.3" y="619.5" width="16.2" height="62.9" fill="#a6a7ab" stroke="#000" stroke-width="1.55"/>
<rect x="491.7" y="646.1" width="16.2" height="36.3" fill="#a6a7ab" stroke="#000" stroke-width="1.55"/>
<rect x="518.6" y="636.1" width="16.2" height="46.3" fill="#a6a7ab" stroke="#000" stroke-width="1.55"/>
<line x1="312.3" y1="588.5" x2="312.3" y2="608.8" stroke="#333" stroke-width="0.9"/>
<line x1="308.3" y1="588.5" x2="316.3" y2="588.5" stroke="#333" stroke-width="0.9"/>
<line x1="308.3" y1="608.8" x2="316.3" y2="608.8" stroke="#333" stroke-width="0.9"/>
<line x1="338.8" y1="639.3" x2="338.8" y2="660" stroke="#333" stroke-width="0.9"/>
<line x1="334.8" y1="639.3" x2="342.8" y2="639.3" stroke="#333" stroke-width="0.9"/>
<line x1="334.8" y1="660" x2="342.8" y2="660" stroke="#333" stroke-width="0.9"/>
<line x1="365.5" y1="600.7" x2="365.5" y2="616.4" stroke="#333" stroke-width="0.9"/>
<line x1="361.5" y1="600.7" x2="369.5" y2="600.7" stroke="#333" stroke-width="0.9"/>
<line x1="361.5" y1="616.4" x2="369.5" y2="616.4" stroke="#333" stroke-width="0.9"/>
<line x1="392.9" y1="616" x2="392.9" y2="627" stroke="#333" stroke-width="0.9"/>
<line x1="389.4" y1="616" x2="396.4" y2="616" stroke="#333" stroke-width="0.9"/>
<line x1="389.4" y1="627" x2="396.4" y2="627" stroke="#333" stroke-width="0.9"/>
<line x1="419.9" y1="656" x2="419.9" y2="670" stroke="#333" stroke-width="0.9"/>
<line x1="416.4" y1="656" x2="423.4" y2="656" stroke="#333" stroke-width="0.9"/>
<line x1="416.4" y1="670" x2="423.4" y2="670" stroke="#333" stroke-width="0.9"/>
<line x1="445.9" y1="632" x2="445.9" y2="643" stroke="#333" stroke-width="0.9"/>
<line x1="442.4" y1="632" x2="449.4" y2="632" stroke="#333" stroke-width="0.9"/>
<line x1="442.4" y1="643" x2="449.4" y2="643" stroke="#333" stroke-width="0.9"/>
<line x1="473.4" y1="614" x2="473.4" y2="625" stroke="#333" stroke-width="0.9"/>
<line x1="469.9" y1="614" x2="476.9" y2="614" stroke="#333" stroke-width="0.9"/>
<line x1="469.9" y1="625" x2="476.9" y2="625" stroke="#333" stroke-width="0.9"/>
<line x1="499.8" y1="639" x2="499.8" y2="653" stroke="#333" stroke-width="0.9"/>
<line x1="496.3" y1="639" x2="503.3" y2="639" stroke="#333" stroke-width="0.9"/>
<line x1="496.3" y1="653" x2="503.3" y2="653" stroke="#333" stroke-width="0.9"/>
<line x1="526.7" y1="631" x2="526.7" y2="641" stroke="#333" stroke-width="0.9"/>
<line x1="523.2" y1="631" x2="530.2" y2="631" stroke="#333" stroke-width="0.9"/>
<line x1="523.2" y1="641" x2="530.2" y2="641" stroke="#333" stroke-width="0.9"/>
<circle cx="307.6" cy="573.3" r="3.85" fill="#000" stroke="#fff" stroke-width="0.5"/>
<circle cx="312.6" cy="576.3" r="3.85" fill="#000" stroke="#fff" stroke-width="0.5"/>
<circle cx="317" cy="567.7" r="3.85" fill="#000" stroke="#fff" stroke-width="0.5"/>
<circle cx="317" cy="601.7" r="3.85" fill="#000" stroke="#fff" stroke-width="0.5"/>
<circle cx="311.9" cy="605.8" r="3.85" fill="#000" stroke="#fff" stroke-width="0.5"/>
<circle cx="312.6" cy="627.9" r="3.85" fill="#000" stroke="#fff" stroke-width="0.5"/>
<circle cx="312.6" cy="638" r="3.85" fill="#000" stroke="#fff" stroke-width="0.5"/>
<circle cx="338.5" cy="578.4" r="3.85" fill="#0f3cff" stroke="#fff" stroke-width="0.5"/>
<circle cx="334" cy="636.8" r="3.85" fill="#0f3cff" stroke="#fff" stroke-width="0.5"/>
<circle cx="345.1" cy="647.7" r="3.85" fill="#0f3cff" stroke="#fff" stroke-width="0.5"/>
<circle cx="334" cy="662.1" r="3.85" fill="#0f3cff" stroke="#fff" stroke-width="0.5"/>
<circle cx="339" cy="660.9" r="3.85" fill="#0f3cff" stroke="#fff" stroke-width="0.5"/>
<circle cx="343.6" cy="664.2" r="3.85" fill="#0f3cff" stroke="#fff" stroke-width="0.5"/>
<circle cx="336.5" cy="677.4" r="3.85" fill="#0f3cff" stroke="#fff" stroke-width="0.5"/>
<circle cx="341.6" cy="675.6" r="3.85" fill="#0f3cff" stroke="#fff" stroke-width="0.5"/>
<circle cx="365.2" cy="566.4" r="3.85" fill="#ee1c24" stroke="#fff" stroke-width="0.5"/>
<circle cx="365.2" cy="595.6" r="3.85" fill="#ee1c24" stroke="#fff" stroke-width="0.5"/>
<circle cx="360.6" cy="605.5" r="3.85" fill="#ee1c24" stroke="#fff" stroke-width="0.5"/>
<circle cx="370.3" cy="614.4" r="3.85" fill="#ee1c24" stroke="#fff" stroke-width="0.5"/>
<circle cx="360.1" cy="622.8" r="3.85" fill="#ee1c24" stroke="#fff" stroke-width="0.5"/>
<circle cx="365.2" cy="622.8" r="3.85" fill="#ee1c24" stroke="#fff" stroke-width="0.5"/>
<circle cx="370.3" cy="629.6" r="3.85" fill="#ee1c24" stroke="#fff" stroke-width="0.5"/>
<circle cx="388.3" cy="610.1" r="3.85" fill="#000" stroke="#fff" stroke-width="0.5"/>
<circle cx="395.4" cy="610.9" r="3.85" fill="#000" stroke="#fff" stroke-width="0.5"/>
<circle cx="388.5" cy="616.4" r="3.85" fill="#000" stroke="#fff" stroke-width="0.5"/>
<circle cx="397.9" cy="615.2" r="3.85" fill="#000" stroke="#fff" stroke-width="0.5"/>
<circle cx="397.9" cy="622.3" r="3.85" fill="#000" stroke="#fff" stroke-width="0.5"/>
<circle cx="388.3" cy="624.1" r="3.85" fill="#000" stroke="#fff" stroke-width="0.5"/>
<circle cx="397.4" cy="632.4" r="3.85" fill="#000" stroke="#fff" stroke-width="0.5"/>
<circle cx="388.3" cy="637.3" r="3.85" fill="#000" stroke="#fff" stroke-width="0.5"/>
<circle cx="419.5" cy="628.4" r="3.85" fill="#0f3cff" stroke="#fff" stroke-width="0.5"/>
<circle cx="419.5" cy="644.9" r="3.85" fill="#0f3cff" stroke="#fff" stroke-width="0.5"/>
<circle cx="424.6" cy="650.7" r="3.85" fill="#0f3cff" stroke="#fff" stroke-width="0.5"/>
<circle cx="415.2" cy="657.1" r="3.85" fill="#0f3cff" stroke="#fff" stroke-width="0.5"/>
<circle cx="425.8" cy="658.3" r="3.85" fill="#0f3cff" stroke="#fff" stroke-width="0.5"/>
<circle cx="415.2" cy="663.9" r="3.85" fill="#0f3cff" stroke="#fff" stroke-width="0.5"/>
<circle cx="415.2" cy="674.3" r="3.85" fill="#0f3cff" stroke="#fff" stroke-width="0.5"/>
<circle cx="424.1" cy="674.3" r="3.85" fill="#0f3cff" stroke="#fff" stroke-width="0.5"/>
<circle cx="441.6" cy="623.6" r="3.85" fill="#ee1c24" stroke="#fff" stroke-width="0.5"/>
<circle cx="450.7" cy="622.3" r="3.85" fill="#ee1c24" stroke="#fff" stroke-width="0.5"/>
<circle cx="441.6" cy="627.4" r="3.85" fill="#ee1c24" stroke="#fff" stroke-width="0.5"/>
<circle cx="448.2" cy="626.6" r="3.85" fill="#ee1c24" stroke="#fff" stroke-width="0.5"/>
<circle cx="441.6" cy="634.2" r="3.85" fill="#ee1c24" stroke="#fff" stroke-width="0.5"/>
<circle cx="451.7" cy="634.2" r="3.85" fill="#ee1c24" stroke="#fff" stroke-width="0.5"/>
<circle cx="446.1" cy="643.6" r="3.85" fill="#ee1c24" stroke="#fff" stroke-width="0.5"/>
<circle cx="468.5" cy="610.1" r="3.85" fill="#000" stroke="#fff" stroke-width="0.5"/>
<circle cx="477.9" cy="611.9" r="3.85" fill="#000" stroke="#fff" stroke-width="0.5"/>
<circle cx="469" cy="616.4" r="3.85" fill="#000" stroke="#fff" stroke-width="0.5"/>
<circle cx="477.1" cy="617.7" r="3.85" fill="#000" stroke="#fff" stroke-width="0.5"/>
<circle cx="477.9" cy="624.1" r="3.85" fill="#000" stroke="#fff" stroke-width="0.5"/>
<circle cx="473.6" cy="631.2" r="3.85" fill="#000" stroke="#fff" stroke-width="0.5"/>
<circle cx="499.4" cy="599.2" r="3.85" fill="#0f3cff" stroke="#fff" stroke-width="0.5"/>
<circle cx="494.9" cy="642.6" r="3.85" fill="#0f3cff" stroke="#fff" stroke-width="0.5"/>
<circle cx="504.5" cy="641.3" r="3.85" fill="#0f3cff" stroke="#fff" stroke-width="0.5"/>
<circle cx="494.9" cy="653.2" r="3.85" fill="#0f3cff" stroke="#fff" stroke-width="0.5"/>
<circle cx="504.5" cy="650" r="3.85" fill="#0f3cff" stroke="#fff" stroke-width="0.5"/>
<circle cx="500" cy="657.1" r="3.85" fill="#0f3cff" stroke="#fff" stroke-width="0.5"/>
<circle cx="504.5" cy="659.1" r="3.85" fill="#0f3cff" stroke="#fff" stroke-width="0.5"/>
<circle cx="494.9" cy="665.9" r="3.85" fill="#0f3cff" stroke="#fff" stroke-width="0.5"/>
<circle cx="521.6" cy="622.1" r="3.85" fill="#ee1c24" stroke="#fff" stroke-width="0.5"/>
<circle cx="531.1" cy="624" r="3.85" fill="#ee1c24" stroke="#fff" stroke-width="0.5"/>
<circle cx="523" cy="626.7" r="3.85" fill="#ee1c24" stroke="#fff" stroke-width="0.5"/>
<circle cx="521.1" cy="632.1" r="3.85" fill="#ee1c24" stroke="#fff" stroke-width="0.5"/>
<circle cx="531.9" cy="633.4" r="3.85" fill="#ee1c24" stroke="#fff" stroke-width="0.5"/>
<circle cx="526.5" cy="642.9" r="3.85" fill="#ee1c24" stroke="#fff" stroke-width="0.5"/>
<circle cx="522.1" cy="628" r="3.85" fill="#ee1c24" stroke="#fff" stroke-width="0.5"/>
<line x1="300.2" y1="551.7" x2="300.2" y2="682.4" stroke="#000" stroke-width="1.4"/>
<line x1="299.5" y1="567.7" x2="303.2" y2="567.7" stroke="#000" stroke-width="1.3"/>
<text x="298.3" y="570.6" font-size="8.3" text-anchor="end" fill="#000">200</text>
<line x1="299.5" y1="596.4" x2="303.2" y2="596.4" stroke="#000" stroke-width="1.3"/>
<text x="298.3" y="599.3" font-size="8.3" text-anchor="end" fill="#000">150</text>
<line x1="299.5" y1="625.1" x2="303.2" y2="625.1" stroke="#000" stroke-width="1.3"/>
<text x="298.3" y="628" font-size="8.3" text-anchor="end" fill="#000">100</text>
<line x1="299.5" y1="653.7" x2="303.2" y2="653.7" stroke="#000" stroke-width="1.3"/>
<text x="298.3" y="656.6" font-size="8.3" text-anchor="end" fill="#000">50</text>
<line x1="299.5" y1="682.4" x2="303.2" y2="682.4" stroke="#000" stroke-width="1.3"/>
<text x="298.3" y="683.5" font-size="8.3" text-anchor="end" fill="#000">0</text>
<line x1="380" y1="551.7" x2="380" y2="682.4" stroke="#000" stroke-width="1.4"/>
<line x1="379.3" y1="567.7" x2="383" y2="567.7" stroke="#000" stroke-width="1.3"/>
<line x1="379.3" y1="596.4" x2="383" y2="596.4" stroke="#000" stroke-width="1.3"/>
<line x1="379.3" y1="625.1" x2="383" y2="625.1" stroke="#000" stroke-width="1.3"/>
<line x1="379.3" y1="653.7" x2="383" y2="653.7" stroke="#000" stroke-width="1.3"/>
<line x1="379.3" y1="682.4" x2="383" y2="682.4" stroke="#000" stroke-width="1.3"/>
<line x1="458.8" y1="551.7" x2="458.8" y2="682.4" stroke="#000" stroke-width="1.4"/>
<line x1="458.1" y1="567.7" x2="461.8" y2="567.7" stroke="#000" stroke-width="1.3"/>
<line x1="458.1" y1="596.4" x2="461.8" y2="596.4" stroke="#000" stroke-width="1.3"/>
<line x1="458.1" y1="625.1" x2="461.8" y2="625.1" stroke="#000" stroke-width="1.3"/>
<line x1="458.1" y1="653.7" x2="461.8" y2="653.7" stroke="#000" stroke-width="1.3"/>
<line x1="458.1" y1="682.4" x2="461.8" y2="682.4" stroke="#000" stroke-width="1.3"/>
<line x1="300.2" y1="682.6" x2="540" y2="682.6" stroke="#000" stroke-width="1.4"/>
<line x1="300.2" y1="682.6" x2="300.2" y2="695.9" stroke="#000" stroke-width="1.4"/>
<line x1="540" y1="682.6" x2="540" y2="695.9" stroke="#000" stroke-width="1.4"/>
<line x1="299.5" y1="695.9" x2="540.7" y2="695.9" stroke="#000" stroke-width="1.4"/>
<line x1="325.3" y1="682.6" x2="325.3" y2="695.9" stroke="#000" stroke-width="1.1"/>
<line x1="351.7" y1="682.6" x2="351.7" y2="695.9" stroke="#000" stroke-width="1.1"/>
<line x1="380" y1="682.6" x2="380" y2="695.9" stroke="#000" stroke-width="1.1"/>
<line x1="405.5" y1="682.6" x2="405.5" y2="695.9" stroke="#000" stroke-width="1.1"/>
<line x1="432.2" y1="682.6" x2="432.2" y2="695.9" stroke="#000" stroke-width="1.1"/>
<line x1="458.8" y1="682.6" x2="458.8" y2="695.9" stroke="#000" stroke-width="1.1"/>
<line x1="485.5" y1="682.6" x2="485.5" y2="695.9" stroke="#000" stroke-width="1.1"/>
<line x1="512.1" y1="682.6" x2="512.1" y2="695.9" stroke="#000" stroke-width="1.1"/>
<line x1="308.8" y1="688.7" x2="316.8" y2="688.7" stroke="#000" stroke-width="1.5"/>
<text x="339.3" y="691.4" font-size="6.6" text-anchor="middle" fill="#000">&#916;GFP</text>
<text x="366.7" y="691.4" font-size="6.6" text-anchor="middle" fill="#000">&#916;GDF15</text>
<line x1="388.8" y1="688.7" x2="396.8" y2="688.7" stroke="#000" stroke-width="1.5"/>
<text x="419.7" y="691.4" font-size="6.6" text-anchor="middle" fill="#000">&#916;GFP</text>
<text x="446.3" y="691.4" font-size="6.6" text-anchor="middle" fill="#000">&#916;GDF15</text>
<line x1="468.1" y1="688.7" x2="476.1" y2="688.7" stroke="#000" stroke-width="1.5"/>
<text x="499.6" y="691.4" font-size="6.6" text-anchor="middle" fill="#000">&#916;GFP</text>
<text x="526.8" y="691.4" font-size="6.6" text-anchor="middle" fill="#000">&#916;GDF15</text>
<text x="296.3" y="691.8" font-size="7.6" text-anchor="end" fill="#000">H1573</text>
<text x="337.3" y="540" font-size="8.2" text-anchor="middle" font-style="italic" fill="#000" text-decoration="underline">eWAT</text>
<text x="418.2" y="539.4" font-size="8.2" text-anchor="middle" font-style="italic" fill="#000" text-decoration="underline">iWAT</text>
<text x="499.4" y="539.4" font-size="8.2" text-anchor="middle" font-style="italic" fill="#000" text-decoration="underline">BAT</text>
<text x="282.4" y="624.8" font-size="8.2" text-anchor="middle" fill="#000" transform="rotate(-90 282.4 624.8)">Adipose Weight (mg)</text>
<text transform="translate(549.6 547.4) scale(0.82 1)" font-size="14.8" font-weight="bold" stroke="#000" stroke-width="0.3">N</text>
<rect x="594.5" y="614.5" width="16.8" height="67.1" fill="#a6a7ab" stroke="#000" stroke-width="1.55"/>
<rect x="621.5" y="656.4" width="16.8" height="25.2" fill="#a6a7ab" stroke="#000" stroke-width="1.55"/>
<rect x="648.2" y="613.2" width="16.8" height="68.4" fill="#a6a7ab" stroke="#000" stroke-width="1.55"/>
<line x1="602.9" y1="603.7" x2="602.9" y2="625.3" stroke="#333" stroke-width="0.9"/>
<line x1="598.9" y1="603.7" x2="606.9" y2="603.7" stroke="#333" stroke-width="0.9"/>
<line x1="598.9" y1="625.3" x2="606.9" y2="625.3" stroke="#333" stroke-width="0.9"/>
<line x1="629.9" y1="652.3" x2="629.9" y2="661.8" stroke="#333" stroke-width="0.9"/>
<line x1="625.9" y1="652.3" x2="633.9" y2="652.3" stroke="#333" stroke-width="0.9"/>
<line x1="625.9" y1="661.8" x2="633.9" y2="661.8" stroke="#333" stroke-width="0.9"/>
<line x1="656.6" y1="605" x2="656.6" y2="622.6" stroke="#333" stroke-width="0.9"/>
<line x1="652.6" y1="605" x2="660.6" y2="605" stroke="#333" stroke-width="0.9"/>
<line x1="652.6" y1="622.6" x2="660.6" y2="622.6" stroke="#333" stroke-width="0.9"/>
<circle cx="603.2" cy="578.1" r="3.85" fill="#000" stroke="#fff" stroke-width="0.5"/>
<circle cx="596.7" cy="612.6" r="3.85" fill="#000" stroke="#fff" stroke-width="0.5"/>
<circle cx="608" cy="607.8" r="3.85" fill="#000" stroke="#fff" stroke-width="0.5"/>
<circle cx="610.2" cy="614" r="3.85" fill="#000" stroke="#fff" stroke-width="0.5"/>
<circle cx="600.5" cy="625.9" r="3.85" fill="#000" stroke="#fff" stroke-width="0.5"/>
<circle cx="605.9" cy="626.7" r="3.85" fill="#000" stroke="#fff" stroke-width="0.5"/>
<circle cx="624.8" cy="634.8" r="3.85" fill="#0f3cff" stroke="#fff" stroke-width="0.5"/>
<circle cx="630.2" cy="636.9" r="3.85" fill="#0f3cff" stroke="#fff" stroke-width="0.5"/>
<circle cx="623.7" cy="651.5" r="3.85" fill="#0f3cff" stroke="#fff" stroke-width="0.5"/>
<circle cx="636.4" cy="654.2" r="3.85" fill="#0f3cff" stroke="#fff" stroke-width="0.5"/>
<circle cx="624.8" cy="663.1" r="3.85" fill="#0f3cff" stroke="#fff" stroke-width="0.5"/>
<circle cx="629.1" cy="665.8" r="3.85" fill="#0f3cff" stroke="#fff" stroke-width="0.5"/>
<circle cx="635" cy="668.5" r="3.85" fill="#0f3cff" stroke="#fff" stroke-width="0.5"/>
<circle cx="624.8" cy="676.6" r="3.85" fill="#0f3cff" stroke="#fff" stroke-width="0.5"/>
<circle cx="656.1" cy="584" r="3.85" fill="#ee1c24" stroke="#fff" stroke-width="0.5"/>
<circle cx="656.1" cy="594.8" r="3.85" fill="#ee1c24" stroke="#fff" stroke-width="0.5"/>
<circle cx="661.5" cy="606.4" r="3.85" fill="#ee1c24" stroke="#fff" stroke-width="0.5"/>
<circle cx="651.8" cy="615.9" r="3.85" fill="#ee1c24" stroke="#fff" stroke-width="0.5"/>
<circle cx="660.7" cy="616.7" r="3.85" fill="#ee1c24" stroke="#fff" stroke-width="0.5"/>
<circle cx="650.7" cy="622.6" r="3.85" fill="#ee1c24" stroke="#fff" stroke-width="0.5"/>
<circle cx="656.1" cy="644.8" r="3.85" fill="#ee1c24" stroke="#fff" stroke-width="0.5"/>
<line x1="591.6" y1="551.6" x2="591.6" y2="681.6" stroke="#000" stroke-width="1.4"/>
<line x1="590.9" y1="551.6" x2="594.6" y2="551.6" stroke="#000" stroke-width="1.3"/>
<text x="586.2" y="554.3" font-size="7.7" text-anchor="end" fill="#000">4000</text>
<line x1="590.9" y1="584.1" x2="594.6" y2="584.1" stroke="#000" stroke-width="1.3"/>
<text x="586.2" y="586.8" font-size="7.7" text-anchor="end" fill="#000">3000</text>
<line x1="590.9" y1="616.6" x2="594.6" y2="616.6" stroke="#000" stroke-width="1.3"/>
<text x="586.2" y="619.3" font-size="7.7" text-anchor="end" fill="#000">2000</text>
<line x1="590.9" y1="649.1" x2="594.6" y2="649.1" stroke="#000" stroke-width="1.3"/>
<text x="586.2" y="651.8" font-size="7.7" text-anchor="end" fill="#000">1000</text>
<line x1="591.6" y1="682.2" x2="671.5" y2="682.2" stroke="#000" stroke-width="1.4"/>
<line x1="591.6" y1="682.2" x2="591.6" y2="695.1" stroke="#000" stroke-width="1.4"/>
<line x1="671.5" y1="682.2" x2="671.5" y2="695.1" stroke="#000" stroke-width="1.4"/>
<line x1="590.9" y1="695.1" x2="672.2" y2="695.1" stroke="#000" stroke-width="1.4"/>
<line x1="617.5" y1="682.2" x2="617.5" y2="695.1" stroke="#000" stroke-width="1.1"/>
<line x1="644.5" y1="682.2" x2="644.5" y2="695.1" stroke="#000" stroke-width="1.1"/>
<line x1="600.5" y1="688.1" x2="608.5" y2="688.1" stroke="#000" stroke-width="1.5"/>
<text x="631.8" y="690.8" font-size="6.6" text-anchor="middle" fill="#000">&#916;GFP</text>
<text x="658.8" y="690.8" font-size="6.6" text-anchor="middle" fill="#000">&#916;GDF15</text>
<text x="588.3" y="691.2" font-size="7.6" text-anchor="end" fill="#000">H1573</text>
<text x="555.6" y="621.2" font-size="8.2" text-anchor="middle" fill="#000" transform="rotate(-90 555.6 621.2)">Adipocyte</text>
<text x="565" y="621.2" font-size="8.2" text-anchor="middle" fill="#000" transform="rotate(-90 565 621.2)">Cross-sectional Area (&#956;m<tspan font-size="5" dy="-3">2</tspan><tspan dy="3">)</tspan></text>
<line x1="350.8" y1="8.4" x2="403.9" y2="8.4" stroke="#000" stroke-width="1.3"/>
<text x="377.4" y="5.5" font-size="6.6" text-anchor="middle" fill="#000">0.0428</text>
<line x1="376.6" y1="18.1" x2="403.2" y2="18.1" stroke="#000" stroke-width="1.3"/>
<text x="391.9" y="16.1" font-size="7.2" text-anchor="middle" fill="#000">n.s.</text>
<line x1="476.6" y1="38" x2="529" y2="38" stroke="#000" stroke-width="1.3"/>
<text x="502.8" y="35.3" font-size="6.6" text-anchor="middle" fill="#000">n.s.</text>
<line x1="502.2" y1="47.4" x2="529" y2="47.4" stroke="#000" stroke-width="1.3"/>
<text x="515.6" y="45.8" font-size="6.6" text-anchor="middle" fill="#000">0.0129</text>
<line x1="589" y1="37.5" x2="641.8" y2="37.5" stroke="#000" stroke-width="1.3"/>
<text x="615.4" y="35.4" font-size="6.6" text-anchor="middle" fill="#000">n.s.</text>
<line x1="615.5" y1="48.1" x2="641.8" y2="48.1" stroke="#000" stroke-width="1.3"/>
<text x="628.6" y="45.4" font-size="6.6" text-anchor="middle" fill="#000">n.s.</text>
<line x1="43.1" y1="196.8" x2="98.7" y2="196.8" stroke="#000" stroke-width="1.3"/>
<text x="70.9" y="193.4" font-size="6.6" text-anchor="middle" fill="#000">&lt;0.0001</text>
<line x1="71" y1="208.2" x2="98.7" y2="208.2" stroke="#000" stroke-width="1.3"/>
<text x="84.8" y="204.3" font-size="6.6" text-anchor="middle" fill="#000">0.0035</text>
<line x1="289.4" y1="389.9" x2="342.5" y2="389.9" stroke="#000" stroke-width="1.3"/>
<text x="315.9" y="387.3" font-size="7.0" text-anchor="middle" fill="#000">n.s.</text>
<line x1="316" y1="398.7" x2="342.5" y2="398.7" stroke="#000" stroke-width="1.3"/>
<text x="329.2" y="397" font-size="6.6" text-anchor="middle" fill="#000">&lt;0.0001</text>
<line x1="406.5" y1="380.9" x2="459.8" y2="380.9" stroke="#000" stroke-width="1.3"/>
<text x="433.1" y="380.1" font-size="7.2" text-anchor="middle" fill="#000">n.s.</text>
<line x1="433.5" y1="390.4" x2="459.8" y2="390.4" stroke="#000" stroke-width="1.3"/>
<text x="446.6" y="389.8" font-size="6.6" text-anchor="middle" fill="#000">n.s.</text>
<line x1="485.8" y1="382.3" x2="539.5" y2="382.3" stroke="#000" stroke-width="1.3"/>
<text x="512.6" y="380.8" font-size="6.6" text-anchor="middle" fill="#000">n.s.</text>
<line x1="512.9" y1="391.7" x2="539.5" y2="391.7" stroke="#000" stroke-width="1.3"/>
<text x="526.2" y="389.3" font-size="6.6" text-anchor="middle" fill="#000">0.0026</text>
<line x1="616.6" y1="372" x2="670" y2="372" stroke="#000" stroke-width="1.3"/>
<text x="643.3" y="368.8" font-size="6.6" text-anchor="middle" fill="#000">n.s.</text>
<line x1="643.2" y1="382.3" x2="670" y2="382.3" stroke="#000" stroke-width="1.3"/>
<text x="656.6" y="379.7" font-size="6.6" text-anchor="middle" fill="#000">0.0014</text>
<line x1="312.1" y1="551.9" x2="365" y2="551.9" stroke="#000" stroke-width="1.3"/>
<text x="338.6" y="549.3" font-size="6.6" text-anchor="middle" fill="#000">n.s.</text>
<line x1="339.2" y1="560.1" x2="365" y2="560.1" stroke="#000" stroke-width="1.3"/>
<text x="352.1" y="558.1" font-size="6.6" text-anchor="middle" fill="#000">0.0156</text>
<line x1="393.1" y1="591.6" x2="445.9" y2="591.6" stroke="#000" stroke-width="1.3"/>
<text x="419.5" y="588.8" font-size="6.6" text-anchor="middle" fill="#000">n.s.</text>
<line x1="420" y1="602.3" x2="445.9" y2="602.3" stroke="#000" stroke-width="1.3"/>
<text x="432.9" y="599.3" font-size="6.6" text-anchor="middle" fill="#000">0.0009</text>
<line x1="474.8" y1="576.8" x2="527.8" y2="576.8" stroke="#000" stroke-width="1.3"/>
<text x="501.3" y="574.2" font-size="6.6" text-anchor="middle" fill="#000">n.s.</text>
<line x1="501.3" y1="587.3" x2="527.8" y2="587.3" stroke="#000" stroke-width="1.3"/>
<text x="514.5" y="585.6" font-size="6.6" text-anchor="middle" fill="#000">n.s.</text>
<line x1="603.9" y1="566" x2="657.4" y2="566" stroke="#000" stroke-width="1.3"/>
<text x="630.6" y="562.9" font-size="6.6" text-anchor="middle" fill="#000">n.s.</text>
<line x1="630.6" y1="576.2" x2="657.4" y2="576.2" stroke="#000" stroke-width="1.3"/>
<text x="644" y="573.4" font-size="6.6" text-anchor="middle" fill="#000">0.0002</text>
</svg>
</body></html>
